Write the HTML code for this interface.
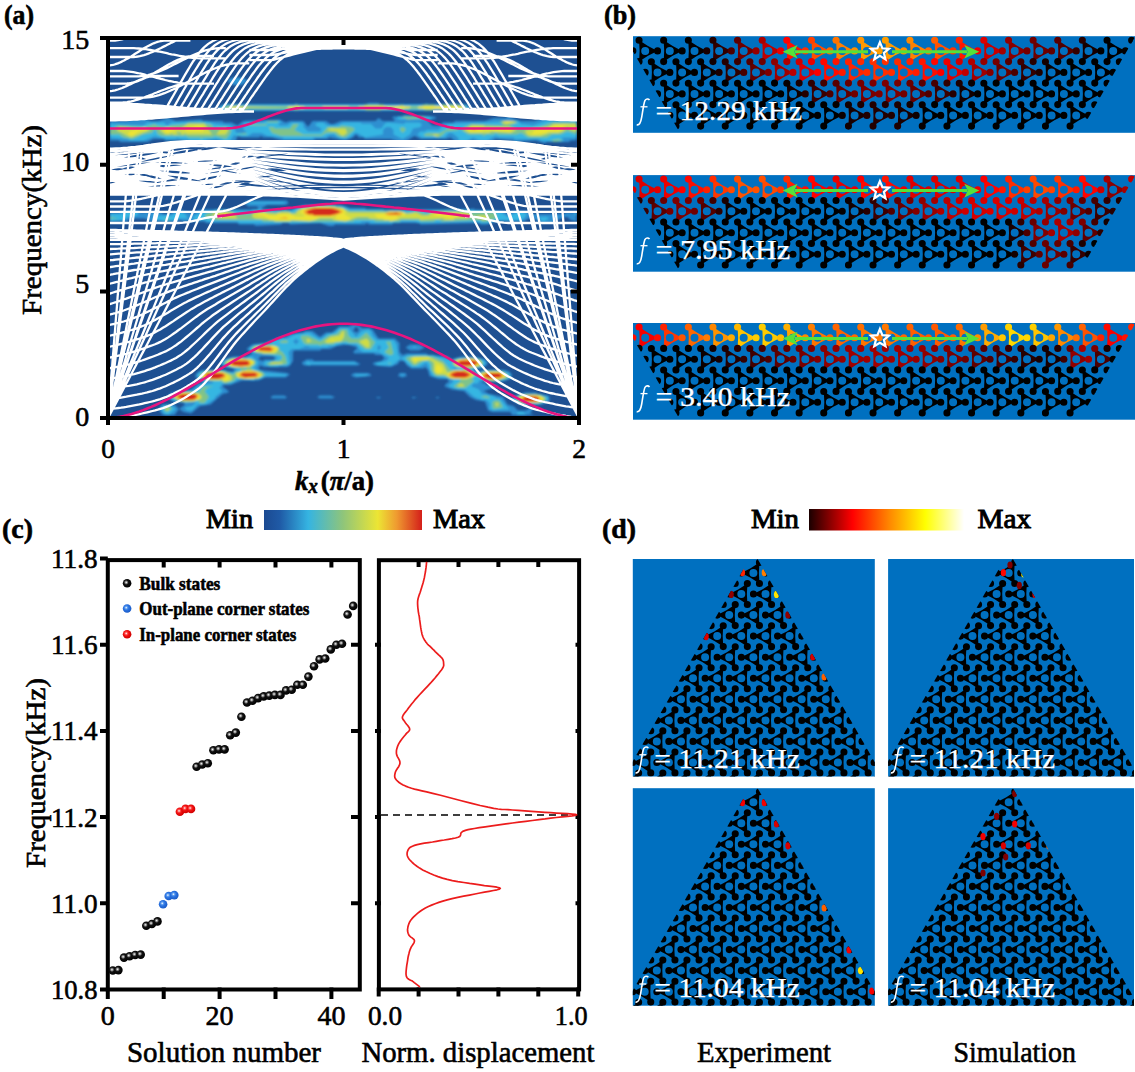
<!DOCTYPE html>
<html><head><meta charset="utf-8"><style>
html,body{margin:0;padding:0;background:#fff;overflow:hidden;}
svg{display:block;}
text{font-family:"Liberation Serif",serif;stroke:#000;stroke-width:0.6px;}
text[fill="#fff"]{stroke:#fff;stroke-width:0.25px;}
</style></head><body>
<svg width="1135" height="1072" viewBox="0 0 1135 1072">
<text x="4" y="24" font-size="28" font-weight="bold" textLength="30" lengthAdjust="spacingAndGlyphs" fill="#000">(a)</text>
<text x="604" y="24" font-size="28" font-weight="bold" textLength="32" lengthAdjust="spacingAndGlyphs" fill="#000">(b)</text>
<text x="2" y="538" font-size="28" font-weight="bold" textLength="31" lengthAdjust="spacingAndGlyphs" fill="#000">(c)</text>
<text x="602" y="538" font-size="28" font-weight="bold" textLength="34" lengthAdjust="spacingAndGlyphs" fill="#000">(d)</text>
<defs><clipPath id="clipA"><rect x="110" y="40" width="467" height="376"/></clipPath><filter id="blurA" x="-5%" y="-5%" width="110%" height="110%"><feGaussianBlur stdDeviation="1.3"/></filter></defs><g clip-path="url(#clipA)"><rect x="108" y="38" width="471" height="380" fill="#1e5092"/><g filter="url(#blurA)"><path d="M435.5 397.0 437.0 398.5 440.0 397.0ZM411.5 397.0 413.0 398.5 417.5 397.0ZM375.5 397.0 378.5 398.5 381.5 397.0ZM317.0 397.0 320.0 398.5 332.0 398.5 335.0 397.0 330.5 395.5 320.0 395.5ZM270.5 397.0 272.0 398.5 285.5 398.5 287.0 397.0 284.0 395.5 273.5 395.5ZM512.0 397.0 512.0 400.0 519.5 404.5 542.0 404.5 549.5 401.5 549.5 397.0 548.0 395.5 537.5 394.0 536.0 392.5 525.5 392.5ZM482.0 382.0 483.5 380.5 485.0 382.0 483.5 383.5ZM398.0 376.0 402.5 377.5 407.0 376.0 405.5 373.0 399.5 373.0ZM351.5 374.5 351.5 376.0 356.0 377.5 371.0 376.0 371.0 374.5 368.0 373.0 354.5 373.0ZM474.5 370.0 476.0 368.5 480.5 368.5 482.0 370.0 480.5 371.5 476.0 371.5ZM302.0 362.5 302.0 364.0 305.0 365.5 357.5 365.5 360.5 364.0 354.5 361.0 314.0 361.0 312.5 359.5 306.5 359.5ZM258.5 359.5 260.0 356.5 273.5 356.5 275.0 358.0 273.5 359.5 264.5 359.5 263.0 361.0ZM405.5 347.5 410.0 350.5 419.0 350.5 425.0 347.5 419.0 344.5 410.0 344.5ZM356.0 326.5 359.0 329.5 357.5 332.5 353.0 331.0ZM534.5 415.0 530.0 413.5 533.0 409.0 531.5 407.5 525.5 410.5 518.0 410.5 513.5 406.0 507.5 404.5 503.0 397.0 489.5 394.0 483.5 391.0 498.5 386.5 497.0 385.0 486.5 385.0 485.0 383.5 486.5 382.0 500.0 382.0 510.5 379.0 512.0 374.5 509.0 371.5 504.5 370.0 482.0 370.0 480.5 368.5 486.5 365.5 488.0 362.5 485.0 359.5 474.5 356.5 461.0 356.5 452.0 359.5 447.5 356.5 428.0 355.0 426.5 353.5 407.0 353.5 402.5 355.0 399.5 352.0 399.5 343.0 395.0 338.5 378.5 338.5 372.5 329.5 369.5 328.0 362.0 328.0 356.0 323.5 348.5 326.5 339.5 326.5 332.0 332.5 326.0 332.5 320.0 337.0 312.5 331.0 305.0 331.0 303.5 332.5 290.0 334.0 285.5 337.0 281.0 337.0 264.5 343.0 252.5 344.5 246.5 349.0 252.5 353.5 246.5 356.5 233.0 356.5 221.0 361.0 221.0 364.0 224.0 367.0 233.0 368.5 234.5 370.0 233.0 371.5 227.0 371.5 225.5 370.0 203.0 370.0 198.5 371.5 195.5 374.5 195.5 377.5 203.0 382.0 201.5 383.5 198.5 383.5 191.0 389.5 171.5 392.5 168.5 395.5 168.5 398.5 173.0 401.5 183.5 403.0 185.0 404.5 179.0 409.0 174.5 404.5 162.5 404.5 159.5 407.5 159.5 410.5 162.5 415.0 174.5 415.0 179.0 409.0 183.5 412.0 191.0 413.5 200.0 406.0 210.5 404.5 222.5 394.0 228.5 392.5 228.5 391.0 222.5 386.5 224.0 385.0 230.0 385.0 242.0 380.5 258.5 380.5 264.5 377.5 285.5 377.5 290.0 374.5 287.0 373.0 260.0 370.0 258.5 368.5 260.0 365.5 264.5 367.0 287.0 367.0 290.0 365.5 293.0 361.0 293.0 352.0 294.5 350.5 320.0 350.5 321.5 349.0 330.5 349.0 336.5 346.0 347.0 344.5 357.5 347.5 353.0 352.0 354.5 353.5 374.0 353.5 375.5 355.0 381.5 355.0 384.5 358.0 381.5 361.0 374.0 362.5 372.5 364.0 375.5 365.5 390.5 367.0 398.0 364.0 399.5 361.0 404.0 361.0 407.0 365.5 411.5 368.5 423.5 368.5 425.0 367.0 428.0 370.0 429.5 376.0 438.5 379.0 447.5 379.0 449.0 382.0 446.0 383.5 444.5 386.5 452.0 389.5 464.0 391.0 470.0 397.0 476.0 400.0 485.0 401.5 488.0 410.5 492.5 412.0 510.5 412.0 512.0 415.0ZM110.0 212.5 110.0 221.5 126.5 221.5 131.0 218.5 144.5 218.5 150.5 221.5 177.5 221.5 180.5 220.0 182.0 221.5 204.5 221.5 206.0 223.0 237.5 223.0 239.0 224.5 254.0 224.5 255.5 226.0 281.0 224.5 282.5 223.0 288.5 223.0 290.0 224.5 320.0 223.0 329.0 226.0 333.5 226.0 335.0 224.5 365.0 224.5 366.5 223.0 369.5 224.5 392.0 224.5 393.5 223.0 419.0 223.0 420.5 224.5 479.0 223.0 480.5 224.5 486.5 224.5 497.0 221.5 524.0 221.5 531.5 217.0 540.5 223.0 551.0 223.0 564.5 217.0 567.5 217.0 570.5 220.0 576.5 221.5 576.5 211.0 573.5 212.5 566.0 212.5 564.5 214.0 531.5 214.0 527.0 211.0 512.0 211.0 507.5 214.0 504.5 211.0 474.5 209.5 473.0 208.0 471.5 209.5 366.5 209.5 365.0 208.0 350.0 208.0 341.0 205.0 303.5 205.0 291.5 209.5 263.0 209.5 261.5 208.0 267.5 205.0 285.5 205.0 288.5 203.5 287.0 200.5 248.0 200.5 245.0 202.0 245.0 203.5 248.0 206.5 257.0 206.5 258.5 208.0 257.0 209.5 201.5 209.5 194.0 212.5 188.0 212.5 179.0 209.5 168.5 214.0 164.0 214.0 158.0 211.0 141.5 212.5 132.5 209.5 120.5 211.0 119.0 212.5ZM576.5 119.5 549.5 119.5 548.0 118.0 542.0 118.0 534.5 121.0 521.0 121.0 507.5 116.5 506.0 118.0 494.0 118.0 485.0 121.0 455.0 121.0 453.5 122.5 443.0 122.5 440.0 125.5 432.5 125.5 428.0 121.0 437.0 118.0 434.0 116.5 404.0 115.0 402.5 116.5 393.5 116.5 392.0 118.0 395.0 119.5 393.5 121.0 383.0 121.0 378.5 118.0 375.5 121.0 341.0 121.0 333.5 124.0 330.5 124.0 326.0 121.0 312.5 121.0 308.0 127.0 303.5 121.0 290.0 121.0 285.5 122.5 279.5 119.5 243.5 121.0 237.5 125.5 231.5 122.5 224.0 122.5 222.5 121.0 203.0 121.0 201.5 119.5 176.0 121.0 168.5 118.0 158.0 121.0 150.5 121.0 144.5 118.0 140.0 118.0 138.5 119.5 129.5 119.5 128.0 121.0 110.0 121.0 110.0 140.5 119.0 140.5 120.5 142.0 147.5 142.0 153.5 139.0 164.0 139.0 165.5 140.5 182.0 140.5 183.5 142.0 197.0 142.0 198.5 143.5 216.5 140.5 222.5 143.5 228.5 143.5 236.0 140.5 237.5 136.0 242.0 137.5 258.5 137.5 261.5 136.0 263.0 137.5 272.0 137.5 282.5 140.5 314.0 140.5 315.5 139.0 327.5 139.0 329.0 137.5 345.5 140.5 353.0 137.5 356.0 134.5 359.0 137.5 363.5 137.5 365.0 139.0 390.5 139.0 401.0 142.0 407.0 140.5 414.5 136.0 420.5 139.0 446.0 139.0 450.5 137.5 458.0 143.5 465.5 143.5 473.0 140.5 474.5 142.0 491.0 142.0 495.5 139.0 513.5 140.5 515.0 142.0 536.0 140.5 545.0 143.5 546.5 142.0 569.0 142.0 570.5 140.5 575.0 140.5 576.5 139.0ZM218.0 107.5 221.0 110.5 447.5 110.5 449.0 112.0 452.0 110.5 467.0 110.5 470.0 107.5 467.0 104.5 452.0 104.5 450.5 103.0 446.0 104.5 428.0 104.5 426.5 103.0 425.0 104.5 380.0 104.5 378.5 103.0 368.0 103.0 366.5 104.5 297.5 104.5 296.0 103.0 294.5 104.5 222.5 104.5ZM227.0 80.5 233.0 85.0 242.0 85.0 248.0 80.5 242.0 77.5 233.0 77.5Z" fill="#2f8fd0"/><path d="M516.5 415.0 531.5 415.0 527.0 415.0 522.5 412.0 518.0 412.0ZM162.5 406.0 161.0 409.0 165.5 415.0 170.0 415.0 170.0 413.5 176.0 409.0 168.5 404.5ZM513.5 398.5 515.0 401.5 524.0 404.5 539.0 404.5 548.0 400.0 548.0 397.0 540.5 394.0 521.0 394.0ZM401.0 374.5 402.5 376.0 404.0 374.5ZM354.5 374.5 356.0 376.0 366.5 376.0 368.0 374.5ZM453.5 368.5 455.0 367.0 456.5 368.5 455.0 370.0ZM305.0 364.0 309.5 365.5 311.0 364.0 357.5 364.0 354.5 362.5 309.5 362.5 308.0 361.0ZM287.0 374.5 264.5 373.0 260.0 370.0 257.0 370.0 254.0 367.0 257.0 365.5 258.5 362.5 252.5 356.5 248.0 356.5 246.5 358.0 230.0 358.0 225.5 359.5 222.5 364.0 227.0 367.0 236.0 368.5 237.5 370.0 233.0 373.0 222.5 370.0 207.5 370.0 206.0 371.5 201.5 371.5 198.5 373.0 197.0 376.0 203.0 380.5 212.0 380.5 213.5 382.0 212.0 383.5 200.0 385.0 192.5 391.0 174.5 392.5 170.0 395.5 170.0 398.5 176.0 401.5 183.5 401.5 185.0 403.0 194.0 401.5 195.5 403.0 192.5 406.0 185.0 407.5 185.0 409.0 188.0 410.5 192.5 410.5 197.0 404.5 206.0 404.5 215.0 398.5 215.0 397.0 222.5 391.0 219.5 388.0 222.5 383.5 231.5 383.5 239.0 379.0 254.0 380.5 255.5 379.0 261.5 379.0 266.0 376.0 285.5 376.0ZM417.5 347.5 414.5 346.0 411.5 347.5ZM377.0 349.0 378.5 344.5 381.5 347.5 378.5 350.5ZM296.0 338.5 299.0 341.5 296.0 344.5 293.0 341.5ZM249.5 347.5 251.0 352.0 276.5 356.5 278.0 358.0 273.5 361.0 266.0 361.0 263.0 364.0 270.5 367.0 278.0 367.0 279.5 365.5 287.0 365.5 290.0 364.0 288.5 352.0 291.5 349.0 299.0 349.0 306.5 346.0 311.0 347.5 327.5 347.5 329.0 346.0 335.0 346.0 344.0 343.0 345.5 344.5 356.0 344.5 360.5 350.5 363.5 352.0 378.5 352.0 389.0 358.0 386.0 361.0 377.0 362.5 375.5 364.0 378.5 365.5 392.0 365.5 401.0 358.0 411.5 367.0 419.0 367.0 426.5 362.5 432.5 376.0 452.0 379.0 453.5 382.0 449.0 385.0 449.0 386.5 458.0 389.5 465.5 389.5 474.5 397.0 482.0 400.0 486.5 400.0 489.5 403.0 489.5 409.0 492.5 410.5 510.5 409.0 507.5 407.5 500.0 398.5 497.0 398.5 492.5 395.5 482.0 394.0 479.0 389.5 471.5 386.5 473.0 383.5 477.5 383.5 480.5 379.0 482.0 380.5 504.5 380.5 510.5 377.5 509.0 373.0 500.0 370.0 486.5 370.0 479.0 373.0 473.0 371.5 471.5 370.0 473.0 368.5 482.0 367.0 485.0 364.0 485.0 361.0 477.5 358.0 456.5 358.0 452.0 361.0 432.5 355.0 408.5 355.0 401.0 358.0 398.0 355.0 396.5 344.5 393.5 340.0 377.0 340.0 372.5 335.5 371.0 331.0 368.0 329.5 362.0 331.0 356.0 337.0 348.5 328.0 339.5 328.0 335.0 332.5 327.5 334.0 321.5 338.5 318.5 338.5 309.5 332.5 296.0 334.0 287.0 338.5 281.0 338.5 272.0 341.5 270.5 344.5 255.5 344.5ZM539.0 218.5 543.5 221.5 549.5 218.5 546.5 217.0 540.5 217.0ZM576.5 215.5 576.5 212.5 573.5 214.0ZM138.5 212.5 129.5 211.0 122.0 214.0 110.0 214.0 110.0 221.5 123.5 220.0 128.0 217.0 137.0 215.5ZM153.5 218.5 164.0 221.5 176.0 220.0 177.5 218.5 194.0 218.5 195.5 220.0 206.0 220.0 207.5 221.5 237.5 221.5 239.0 223.0 360.5 223.0 362.0 221.5 369.5 221.5 371.0 223.0 399.5 223.0 401.0 221.5 416.0 221.5 417.5 223.0 477.5 221.5 479.0 223.0 488.0 223.0 495.5 220.0 519.5 220.0 524.0 218.5 527.0 214.0 519.5 211.0 507.5 217.0 501.5 212.5 497.0 212.5 495.5 211.0 473.0 211.0 471.5 209.5 384.5 211.0 383.0 209.5 350.0 209.5 344.0 206.5 336.5 206.5 335.0 205.0 311.0 205.0 309.5 206.5 296.0 208.0 291.5 211.0 287.0 211.0 285.5 209.5 282.5 211.0 270.5 211.0 269.0 209.5 252.5 209.5 251.0 211.0 215.0 209.5 213.5 211.0 200.0 212.5 191.0 218.5 188.0 218.5 185.0 214.0 182.0 212.5 176.0 212.5 171.5 215.5 158.0 215.5 153.5 214.0ZM248.0 202.0 249.5 203.5 282.5 203.5 285.5 202.0ZM576.5 121.0 546.5 121.0 533.0 125.5 521.0 124.0 518.0 121.0 449.0 124.0 441.5 127.0 438.5 130.0 426.5 130.0 425.0 131.5 420.5 131.5 417.5 134.5 422.0 137.5 444.5 137.5 449.0 133.0 452.0 133.0 458.0 137.5 459.5 142.0 464.0 142.0 473.0 137.5 480.5 140.5 486.5 140.5 495.5 136.0 500.0 137.5 513.5 137.5 515.0 139.0 539.0 139.0 540.5 140.5 560.0 142.0 564.5 140.5 561.5 139.0 563.0 137.5 576.5 137.5ZM110.0 137.5 128.0 139.0 129.5 140.5 143.0 140.5 155.0 136.0 165.5 139.0 176.0 139.0 177.5 137.5 179.0 139.0 188.0 139.0 189.5 140.5 198.5 140.5 200.0 142.0 209.0 139.0 219.5 139.0 227.0 142.0 230.0 140.5 234.5 134.5 236.0 136.0 248.0 136.0 252.5 133.0 261.5 133.0 267.5 136.0 282.5 137.5 284.0 139.0 312.5 139.0 314.0 137.5 324.5 137.5 330.5 134.5 333.5 134.5 341.0 139.0 350.0 137.5 354.5 133.0 357.5 133.0 365.0 137.5 383.0 134.5 383.0 130.0 386.0 127.0 390.5 127.0 393.5 130.0 393.5 134.5 402.5 139.0 410.0 134.5 413.0 128.5 420.5 127.0 422.0 124.0 419.0 122.5 405.5 122.5 404.0 124.0 387.5 122.5 384.5 124.0 381.5 128.5 375.5 128.5 371.0 124.0 362.0 124.0 360.5 122.5 344.0 122.5 336.5 125.5 327.5 125.5 323.0 122.5 318.5 122.5 315.5 124.0 315.5 125.5 321.5 128.5 320.0 131.5 308.0 131.5 303.5 127.0 303.5 124.0 300.5 122.5 291.5 122.5 287.0 125.5 279.5 125.5 278.0 124.0 281.0 122.5 281.0 121.0 264.5 121.0 263.0 122.5 246.5 122.5 243.5 124.0 243.5 130.0 246.5 131.5 245.0 133.0 236.0 133.0 234.5 128.5 230.0 125.5 215.0 124.0 206.0 121.0 171.5 122.5 167.0 125.5 164.0 122.5 147.5 122.5 143.0 125.5 110.0 124.0ZM396.5 118.0 399.5 119.5 428.0 119.5 432.5 118.0 429.5 116.5 398.0 116.5ZM219.5 107.5 225.5 110.5 464.0 110.5 468.5 107.5 464.0 104.5 225.5 104.5ZM239.0 80.5 237.5 79.0 236.0 80.5Z" fill="#35b6e2"/><path d="M164.0 407.5 164.0 410.5 167.0 412.0 171.5 409.0 171.5 407.5 168.5 406.0ZM492.5 401.5 492.5 407.5 494.0 409.0 503.0 407.5 500.0 401.5 497.0 400.0ZM480.5 397.0 489.5 398.5 489.5 397.0 485.0 395.5ZM516.5 397.0 516.5 400.0 521.0 403.0 540.5 403.0 546.5 400.0 545.0 397.0 536.0 394.0 525.5 394.0ZM213.5 386.5 203.0 386.5 198.5 392.5 177.5 392.5 171.5 395.5 171.5 397.0 179.0 401.5 195.5 401.5 197.0 400.0 200.0 403.0 204.5 403.0 209.0 397.0 204.5 391.0 207.5 388.0ZM243.5 368.5 245.0 367.0 246.5 368.5 245.0 370.0ZM390.5 362.5 387.5 364.0 380.0 364.0 390.5 364.0ZM198.5 376.0 201.5 379.0 219.5 380.5 225.5 383.5 234.5 380.5 236.0 377.5 240.5 379.0 257.0 379.0 266.0 374.5 273.5 374.5 264.5 374.5 261.5 371.5 252.5 370.0 251.0 367.0 255.5 364.0 255.5 361.0 249.5 358.0 248.0 359.5 246.5 358.0 233.0 358.0 224.0 362.5 225.5 365.5 240.5 368.5 242.0 370.0 240.5 371.5 236.0 371.5 233.0 374.5 225.5 371.5 204.5 371.5ZM405.5 358.0 413.0 365.5 416.0 365.5 423.5 361.0 428.0 361.0 431.0 364.0 431.0 370.0 435.5 376.0 444.5 376.0 450.5 379.0 459.5 379.0 461.0 380.5 453.5 386.5 458.0 388.0 465.5 388.0 474.5 380.5 471.5 379.0 474.5 376.0 477.5 376.0 485.0 380.5 500.0 380.5 501.5 379.0 506.0 379.0 509.0 376.0 503.0 371.5 483.5 371.5 477.5 374.5 473.0 371.5 470.0 371.5 468.5 370.0 470.0 368.5 479.0 367.0 483.5 364.0 480.5 359.5 476.0 359.5 474.5 358.0 455.0 359.5 452.0 364.0 456.5 367.0 462.5 367.0 464.0 368.5 462.5 370.0 450.5 370.0 443.0 361.0 432.5 356.5 410.0 356.5ZM251.0 349.0 258.5 353.5 281.0 355.0 282.5 358.0 279.5 361.0 273.5 361.0 266.0 364.0 270.5 365.5 287.0 364.0 285.5 356.5 282.5 352.0 279.5 350.5 279.5 347.5 272.0 344.5 260.0 344.5 258.5 346.0 254.0 346.0ZM386.0 341.5 389.0 347.5 384.5 352.0 389.0 355.0 392.0 355.0 393.5 353.5 390.5 341.5ZM288.5 341.5 285.5 340.0 279.5 341.5 281.0 343.0 287.0 343.0ZM375.5 341.5 374.0 341.5 366.5 332.5 359.0 338.5 351.5 338.5 348.5 335.5 347.0 329.5 341.0 329.5 336.5 334.0 329.0 335.5 320.0 341.5 308.0 335.5 302.0 335.5 300.5 337.0 303.5 343.0 306.5 344.5 318.5 344.5 320.0 346.0 321.5 344.5 333.5 344.5 335.0 343.0 347.0 341.5 348.5 343.0 357.5 343.0 365.0 349.0 371.0 349.0ZM162.5 218.5 167.0 220.0 171.5 218.5ZM110.0 217.0 110.0 220.0 111.5 218.5 119.0 218.5ZM132.5 214.0 131.0 212.5 129.5 214.0ZM204.5 218.5 210.5 218.5 212.0 220.0 261.5 220.0 263.0 221.5 353.0 221.5 354.5 220.0 374.0 220.0 375.5 221.5 399.5 221.5 401.0 220.0 419.0 220.0 420.5 221.5 434.0 221.5 435.5 220.0 440.0 220.0 441.5 221.5 480.5 220.0 482.0 221.5 486.5 221.5 495.5 218.5 497.0 214.0 492.5 212.5 468.5 212.5 467.0 211.0 434.0 211.0 426.5 214.0 416.0 211.0 411.5 212.5 404.0 212.5 402.5 211.0 350.0 211.0 339.5 206.5 306.5 206.5 305.0 208.0 300.5 208.0 294.5 212.5 290.0 212.5 288.5 211.0 281.0 211.0 279.5 212.5 255.5 211.0 249.5 214.0 237.5 214.0 230.0 211.0 216.5 211.0 206.0 214.0ZM548.0 140.5 552.5 140.5 554.0 142.0 563.0 140.5 558.5 139.0ZM236.0 134.5 248.0 134.5 245.0 133.0ZM402.5 127.0 399.5 128.5 402.5 133.0 405.5 130.0 405.5 128.5ZM231.5 130.0 227.0 127.0 216.5 127.0 215.0 128.5 210.5 124.0 206.0 124.0 204.5 122.5 188.0 122.5 186.5 124.0 170.0 125.5 168.5 127.0 156.5 125.5 155.0 124.0 144.5 127.0 117.5 125.5 113.0 128.5 110.0 128.5 110.0 134.5 119.0 134.5 123.5 137.5 132.5 139.0 143.0 134.5 152.0 133.0 155.0 128.5 158.0 134.5 162.5 136.0 186.5 136.0 188.0 137.5 200.0 137.5 201.5 139.0 203.0 137.5 212.0 137.5 215.0 136.0 225.5 139.0 230.0 134.5ZM576.5 122.5 552.5 122.5 539.0 127.0 518.0 128.5 509.0 125.5 518.0 122.5 515.0 121.0 501.5 121.0 498.5 122.5 501.5 122.5 503.0 124.0 501.5 125.5 471.5 124.0 464.0 127.0 461.0 130.0 450.5 127.0 440.0 133.0 428.0 133.0 423.5 134.5 425.0 136.0 435.5 136.0 437.0 137.5 441.5 136.0 446.0 131.5 461.0 130.0 468.5 134.5 482.0 134.5 483.5 136.0 486.5 134.5 494.0 134.5 495.5 133.0 498.5 134.5 516.5 134.5 521.0 133.0 528.5 137.5 546.5 137.5 552.5 134.5 560.0 134.5 567.5 131.5 576.5 134.5ZM248.0 124.0 249.5 125.5 267.5 125.5 272.0 133.0 281.0 136.0 321.5 136.0 326.0 133.0 335.0 133.0 338.0 136.0 345.5 137.5 354.5 130.0 354.5 128.5 351.5 127.0 341.0 125.5 339.5 127.0 327.5 127.0 321.5 134.5 303.5 134.5 294.5 130.0 299.0 124.0 293.0 124.0 290.0 128.5 275.0 128.5 273.5 127.0 269.0 127.0 266.0 124.0 267.5 122.5 278.0 122.5 278.0 121.0 267.5 121.0 266.0 124.0ZM401.0 118.0 405.5 118.0 407.0 119.5 426.5 118.0 423.5 116.5 404.0 116.5ZM222.5 107.5 225.5 109.0 294.5 109.0 296.0 110.5 299.0 109.0 365.0 109.0 366.5 110.5 380.0 110.5 381.5 109.0 401.0 109.0 402.5 110.5 404.0 109.0 423.5 109.0 425.0 110.5 432.5 110.5 434.0 109.0 440.0 109.0 441.5 110.5 458.0 110.5 467.0 107.5 458.0 104.5 441.5 104.5 440.0 106.0 435.5 106.0 434.0 104.5 423.5 104.5 422.0 106.0 404.0 106.0 402.5 104.5 398.0 106.0 384.5 106.0 383.0 104.5 365.0 104.5 363.5 106.0 299.0 106.0 297.5 104.5 293.0 106.0 239.0 106.0 237.5 104.5 236.0 106.0 225.5 106.0Z" fill="#7fc38a"/><path d="M165.5 407.5 167.0 410.5 170.0 409.0ZM498.5 403.0 495.5 403.0 497.0 407.5ZM518.0 397.0 518.0 400.0 524.0 403.0 539.0 403.0 545.0 398.5 540.5 395.5 522.5 395.5ZM173.0 397.0 183.5 401.5 192.5 401.5 201.5 398.5 201.5 395.5 195.5 392.5 180.5 392.5ZM464.0 385.0 461.0 383.5 458.0 385.0 458.0 386.5 464.0 386.5ZM479.0 374.5 480.5 377.5 489.5 380.5 497.0 380.5 507.5 376.0 500.0 371.5 486.5 371.5ZM200.0 376.0 210.5 380.5 219.5 380.5 221.0 379.0 224.0 382.0 231.5 380.5 231.5 376.0 222.5 371.5 207.5 371.5ZM236.0 373.0 237.5 377.5 242.0 377.5 243.5 379.0 254.0 379.0 255.5 377.5 260.0 377.5 263.0 374.5 252.5 370.0 246.5 370.0ZM269.0 364.0 282.5 364.0 282.5 362.5 272.0 362.5ZM453.5 362.5 455.0 365.5 459.5 367.0 476.0 367.0 482.0 364.0 480.5 361.0 470.0 358.0 458.0 359.5ZM225.5 362.5 231.5 367.0 249.5 367.0 254.0 364.0 254.0 361.0 251.0 359.5 243.5 359.5 242.0 358.0 230.0 359.5ZM410.0 358.0 414.5 364.0 419.0 361.0 429.5 359.5 434.0 362.5 434.0 371.5 437.0 374.5 444.5 374.5 452.0 379.0 467.0 379.0 474.5 376.0 471.5 371.5 467.0 371.5 465.5 370.0 455.0 370.0 447.5 373.0 443.0 364.0 428.0 356.5 414.5 356.5ZM252.5 349.0 255.5 352.0 261.5 352.0 263.0 353.5 275.0 353.5 278.0 350.5 278.0 347.5 275.0 346.0 257.0 346.0ZM369.5 347.5 369.5 341.5 366.5 338.5 359.0 341.5 348.5 341.5 359.0 341.5 366.5 347.5ZM306.5 340.0 308.0 343.0 309.5 341.5 315.5 341.5 312.5 341.5 308.0 338.5ZM344.0 331.0 342.5 331.0 339.5 335.5 330.5 337.0 324.5 341.5 327.5 343.0 341.0 341.5 344.0 337.0ZM476.0 217.0 476.0 218.5 480.5 218.5 482.0 220.0 489.5 218.5 486.5 215.5 479.0 215.5ZM212.0 214.0 218.0 218.5 243.5 218.5 237.5 218.5 234.5 214.0 231.5 212.5 216.5 212.5ZM252.5 217.0 255.5 218.5 273.5 220.0 275.0 221.5 290.0 221.5 291.5 220.0 309.5 221.5 320.0 218.5 332.0 218.5 333.5 220.0 345.5 221.5 357.5 217.0 368.0 217.0 369.5 218.5 389.0 220.0 390.5 221.5 401.0 218.5 419.0 218.5 420.5 220.0 443.0 218.5 444.5 220.0 453.5 220.0 455.0 218.5 467.0 218.5 470.0 217.0 471.5 214.0 467.0 212.5 432.5 212.5 428.0 215.5 422.0 215.5 416.0 212.5 407.0 214.0 399.5 211.0 389.0 211.0 387.5 212.5 348.5 212.5 342.5 208.0 336.5 208.0 335.0 206.5 311.0 206.5 309.5 208.0 303.5 208.0 297.5 211.0 296.0 214.0 291.5 214.0 290.0 212.5 278.0 212.5 276.5 214.0 255.5 212.5 252.5 214.0ZM432.5 134.5 434.0 136.0 438.5 136.0 438.5 134.5ZM176.0 133.0 177.5 131.5 182.0 133.0 180.5 134.5ZM327.5 130.0 336.5 131.5 342.5 136.0 347.0 133.0 345.5 128.5 329.0 128.5ZM116.0 130.0 131.0 137.5 150.5 130.0 144.5 127.0 140.0 128.5 119.0 127.0 119.0 128.5ZM464.0 130.0 470.0 133.0 489.5 133.0 491.0 131.5 510.5 133.0 516.5 130.0 509.0 127.0 485.0 127.0 483.5 125.5 471.5 125.5ZM576.5 125.5 575.0 124.0 554.0 124.0 548.0 127.0 533.0 128.5 522.5 131.5 525.5 131.5 527.0 134.5 530.0 136.0 540.5 136.0 549.5 133.0 558.5 133.0 563.0 131.5 567.5 127.0 570.5 130.0 576.5 131.5ZM159.5 130.0 165.5 134.5 170.0 134.5 171.5 133.0 173.0 134.5 183.5 134.5 185.0 133.0 186.5 134.5 225.5 134.5 228.5 130.0 227.0 128.5 222.5 128.5 219.5 130.0 216.5 134.5 212.0 134.5 204.5 124.0 188.0 124.0 180.5 128.5 167.0 127.0ZM501.5 122.5 506.0 124.0 516.5 122.5 512.0 121.0 504.5 121.0ZM224.0 107.5 228.5 107.5 230.0 109.0 246.5 109.0 248.0 107.5 287.0 107.5 288.5 109.0 303.5 109.0 305.0 107.5 323.0 107.5 324.5 109.0 347.0 109.0 348.5 107.5 359.0 107.5 360.5 109.0 408.5 109.0 410.0 107.5 417.5 107.5 419.0 109.0 462.5 109.0 465.5 107.5 462.5 106.0 419.0 106.0 417.5 107.5 411.5 107.5 410.0 106.0 359.0 106.0 357.5 107.5 350.0 107.5 348.5 106.0 323.0 106.0 321.5 107.5 305.0 107.5 303.5 106.0 288.5 106.0 287.0 107.5 230.0 106.0 228.5 107.5Z" fill="#cfdc45"/><path d="M518.0 398.5 525.5 403.0 536.0 403.0 543.5 400.0 543.5 398.5 539.0 395.5 524.0 395.5ZM174.5 395.5 174.5 397.0 179.0 400.0 197.0 400.0 200.0 398.5 198.5 394.0 194.0 394.0 192.5 392.5 182.0 392.5ZM480.5 374.5 480.5 376.0 485.0 379.0 501.5 379.0 506.0 376.0 506.0 374.5 498.5 371.5 488.0 371.5ZM236.0 374.5 239.0 377.5 245.0 377.5 246.5 379.0 258.5 377.5 261.5 374.5 257.0 371.5 240.5 371.5ZM201.5 374.5 201.5 376.0 206.0 379.0 222.5 379.0 224.0 380.5 228.5 380.5 228.5 376.0 221.0 371.5 209.0 371.5ZM447.5 373.0 449.0 377.5 453.5 377.5 455.0 379.0 465.5 379.0 473.0 376.0 473.0 373.0 470.0 371.5 462.5 371.5 461.0 370.0ZM437.0 364.0 435.5 370.0 437.0 373.0 440.0 373.0 443.0 370.0 441.5 367.0ZM455.0 362.5 456.5 365.5 461.0 367.0 474.5 367.0 480.5 364.0 480.5 362.5 476.0 359.5 459.5 359.5ZM227.0 364.0 233.0 367.0 246.5 367.0 254.0 362.5 249.5 359.5 231.5 359.5 228.5 361.0ZM413.0 359.5 416.0 361.0 417.5 359.5 428.0 359.5 431.0 358.0 413.0 358.0ZM254.0 349.0 258.5 352.0 273.5 352.0 276.5 350.5 276.5 347.5 273.5 346.0 258.5 346.0ZM329.0 341.5 335.0 341.5 333.5 340.0ZM434.0 215.5 452.0 218.5 464.0 214.0 459.5 214.0 458.0 212.5 437.0 212.5 434.0 214.0ZM374.0 214.0 378.5 218.5 383.0 218.5 384.5 220.0 395.0 220.0 399.5 218.5 396.5 217.0 398.0 215.5 404.0 215.5 405.5 214.0 404.0 212.5ZM218.0 214.0 224.0 217.0 227.0 217.0 230.0 214.0 227.0 212.5ZM351.5 218.5 344.0 214.0 345.5 212.5 344.0 209.5 332.0 208.0 330.5 206.5 315.5 206.5 314.0 208.0 302.0 209.5 300.5 212.5 305.0 215.5 303.5 217.0 296.0 217.0 290.0 214.0 278.0 214.0 276.5 215.5 270.5 215.5 264.5 212.5 258.5 212.5 257.0 214.0 258.5 215.5 263.0 215.5 270.5 220.0 314.0 220.0 320.0 217.0 332.0 217.0 335.0 215.5 336.5 217.0 335.0 218.5 338.0 220.0 348.5 220.0ZM576.5 128.5 575.0 130.0 576.5 130.0ZM330.5 130.0 341.0 130.0 333.5 130.0 332.0 128.5ZM162.5 130.0 167.0 133.0 176.0 130.0 171.5 128.5ZM147.5 130.0 146.0 128.5 138.5 128.5 129.5 131.5 128.0 134.5 132.5 136.0 138.5 131.5ZM467.0 130.0 470.0 131.5 482.0 131.5 483.5 130.0 509.0 131.5 512.0 130.0 509.0 128.5 480.5 128.5 479.0 127.0 471.5 127.0ZM204.5 128.5 201.5 125.5 197.0 125.5 183.5 130.0 188.0 131.5 203.0 131.5ZM569.0 124.0 554.0 125.5 546.5 128.5 534.5 130.0 531.5 134.5 546.5 133.0 548.0 131.5 558.5 131.5 561.5 130.0 564.5 125.5ZM503.0 122.5 515.0 122.5 510.5 122.5 509.0 121.0ZM416.0 107.5 422.0 107.5 423.5 109.0 461.0 109.0 464.0 107.5 461.0 106.0 423.5 106.0 422.0 107.5ZM413.0 107.5 405.5 107.5 404.0 106.0 396.5 106.0 395.0 107.5 387.5 107.5 386.0 106.0 365.0 106.0 363.5 107.5 309.5 107.5 363.5 107.5 365.0 109.0 384.5 109.0 386.0 107.5 404.0 109.0 405.5 107.5ZM285.5 107.5 293.0 107.5 294.5 109.0 306.5 107.5 300.5 107.5 299.0 106.0ZM225.5 107.5 236.0 107.5 237.5 109.0 240.5 107.5 282.5 107.5 240.5 107.5 239.0 106.0Z" fill="#ece434"/><path d="M521.0 398.5 521.0 400.0 524.0 401.5 539.0 401.5 540.5 400.0 539.0 397.0 534.5 395.5 528.5 395.5ZM176.0 397.0 182.0 400.0 194.0 400.0 197.0 398.5 198.5 395.5 195.5 394.0 179.0 394.0ZM482.0 376.0 488.0 379.0 503.0 377.5 503.0 374.5 500.0 373.0 485.0 373.0ZM204.5 374.5 204.5 377.5 209.0 379.0 221.0 379.0 225.5 377.5 225.5 374.5 222.5 373.0 207.5 373.0ZM449.0 376.0 452.0 377.5 468.5 377.5 471.5 374.5 467.0 371.5 453.5 371.5 450.5 373.0ZM239.0 374.5 239.0 376.0 242.0 377.5 255.5 377.5 258.5 376.0 258.5 373.0 254.0 371.5 243.5 371.5ZM456.5 362.5 456.5 364.0 465.5 367.0 479.0 364.0 477.5 361.0 473.0 359.5 462.5 359.5ZM230.0 362.5 231.5 365.5 237.5 365.5 239.0 367.0 249.5 365.5 251.0 364.0 249.5 361.0 245.0 359.5 234.5 359.5ZM257.0 350.5 270.5 352.0 275.0 349.0 269.0 346.0 263.0 346.0 258.5 347.5ZM288.5 218.5 285.5 217.0 278.0 218.5ZM384.5 214.0 389.0 215.5 399.5 215.5 402.5 214.0 401.0 212.5 387.5 212.5ZM303.5 211.0 305.0 214.0 309.5 215.5 335.0 215.5 342.5 212.5 342.5 211.0 335.0 208.0 311.0 208.0ZM555.5 128.5 554.0 130.0 549.5 130.0 555.5 130.0ZM471.5 130.0 477.5 130.0 473.0 128.5Z" fill="#f2a12e"/><path d="M522.5 400.0 527.0 401.5 536.0 401.5 539.0 400.0 537.5 397.0 524.0 397.0ZM177.5 397.0 185.0 400.0 191.0 400.0 195.5 398.5 197.0 395.5 194.0 394.0 182.0 394.0ZM483.5 376.0 492.5 379.0 494.0 377.5 500.0 377.5 501.5 374.5 498.5 373.0 488.0 373.0ZM240.5 374.5 245.0 377.5 257.0 376.0 255.5 373.0 242.0 373.0ZM206.0 374.5 207.5 377.5 212.0 379.0 218.0 379.0 224.0 376.0 224.0 374.5 221.0 373.0 209.0 373.0ZM450.5 374.5 455.0 377.5 465.5 377.5 470.0 374.5 464.0 371.5 456.5 371.5ZM458.0 364.0 461.0 365.5 474.5 365.5 477.5 362.5 474.5 361.0 459.5 361.0ZM231.5 364.0 234.5 365.5 246.5 365.5 249.5 364.0 248.0 361.0 233.0 361.0ZM258.5 349.0 260.0 350.5 272.0 350.5 270.5 347.5 260.0 347.5ZM387.5 214.0 399.5 214.0 396.5 212.5ZM306.5 211.0 308.0 214.0 312.5 214.0 314.0 215.5 330.5 215.5 339.5 212.5 339.5 211.0 330.5 208.0 315.5 208.0Z" fill="#d52a1c"/></g><path d="M108.0 148.7L113.9 148.6L119.8 148.3L125.7 147.8L131.6 147.2L137.4 146.5L143.3 145.8L149.2 144.9L155.1 144.1L161.0 143.4L166.9 142.6L172.8 142.0L178.7 141.6L184.5 141.3L190.4 141.1L196.3 141.1L202.2 141.1L208.1 141.1L214.0 141.1L219.9 141.1L225.8 141.1L231.6 141.1L237.5 141.1L243.4 141.1L249.3 141.1L255.2 141.1L261.1 141.1L267.0 141.1L272.9 141.1L278.7 141.1L284.6 141.1L290.5 141.1L296.4 141.1L302.3 141.1L308.2 141.1L314.1 141.1L320.0 141.1L325.8 141.1L331.7 141.1L337.6 141.1L343.5 141.1L349.4 141.1L355.3 141.1L361.2 141.1L367.1 141.1L372.9 141.1L378.8 141.1L384.7 141.1L390.6 141.1L396.5 141.1L402.4 141.1L408.3 141.1L414.2 141.1L420.0 141.1L425.9 141.1L431.8 141.1L437.7 141.1L443.6 141.1L449.5 141.1L455.4 141.1L461.2 141.1L467.1 141.1L473.0 141.1L478.9 141.1L484.8 141.1L490.7 141.1L496.6 141.1L502.5 141.3L508.4 141.6L514.2 142.0L520.1 142.6L526.0 143.4L531.9 144.1L537.8 144.9L543.7 145.8L549.6 146.5L555.5 147.2L561.3 147.8L567.2 148.3L573.1 148.6L579.0 148.7L579.0 194.6L573.1 194.6L567.2 194.6L561.3 194.6L555.5 194.6L549.6 194.6L543.7 194.6L537.8 194.6L531.9 194.6L526.0 194.6L520.1 194.6L514.2 194.6L508.3 194.6L502.5 194.6L496.6 194.6L490.7 194.6L484.8 194.6L478.9 194.6L473.0 194.6L467.1 194.6L461.2 194.6L455.4 194.6L449.5 194.6L443.6 194.7L437.7 194.8L431.8 194.9L425.9 195.1L420.0 195.3L414.1 195.6L408.3 195.8L402.4 196.1L396.5 196.4L390.6 196.7L384.7 197.0L378.8 197.3L372.9 197.7L367.1 198.1L361.2 198.4L355.3 198.8L349.4 199.2L343.5 199.7L337.6 199.2L331.7 198.8L325.8 198.4L319.9 198.1L314.1 197.7L308.2 197.3L302.3 197.0L296.4 196.7L290.5 196.4L284.6 196.1L278.7 195.8L272.9 195.6L267.0 195.3L261.1 195.1L255.2 194.9L249.3 194.8L243.4 194.7L237.5 194.6L231.6 194.6L225.8 194.6L219.9 194.6L214.0 194.6L208.1 194.6L202.2 194.6L196.3 194.6L190.4 194.6L184.5 194.6L178.6 194.6L172.8 194.6L166.9 194.6L161.0 194.6L155.1 194.6L149.2 194.6L143.3 194.6L137.4 194.6L131.5 194.6L125.7 194.6L119.8 194.6L113.9 194.6L108.0 194.6Z" fill="#fff"/><path d="M249.3 146.5L258.7 146.5L268.1 146.6L277.6 146.6L287.0 146.7L296.4 146.7L305.8 146.8L315.2 146.8L324.7 146.8L334.1 146.8L343.5 146.9L352.9 146.8L362.3 146.8L371.8 146.8L381.2 146.8L390.6 146.7L400.0 146.7L409.4 146.6L418.9 146.6L428.3 146.5L437.7 146.5L437.7 146.5L428.3 146.8L418.9 147.1L409.4 147.4L400.0 147.7L390.6 148.0L381.2 148.2L371.8 148.4L362.3 148.5L352.9 148.6L343.5 148.6L334.1 148.6L324.7 148.5L315.2 148.4L305.8 148.2L296.4 148.0L287.0 147.7L277.6 147.4L268.1 147.1L258.7 146.8L249.3 146.5ZM249.8 149.8L259.1 149.9L268.5 150.1L277.9 150.2L287.3 150.4L296.6 150.5L306.0 150.6L315.4 150.7L324.8 150.7L334.1 150.8L343.5 150.8L352.9 150.8L362.2 150.7L371.6 150.7L381.0 150.6L390.4 150.5L399.7 150.4L409.1 150.2L418.5 150.1L427.9 149.9L437.2 149.8L437.2 149.8L427.9 150.4L418.5 150.9L409.1 151.5L399.7 152.0L390.4 152.4L381.0 152.8L371.6 153.1L362.2 153.4L352.9 153.5L343.5 153.6L334.1 153.5L324.8 153.4L315.4 153.1L306.0 152.8L296.6 152.4L287.3 152.0L277.9 151.5L268.5 150.9L259.1 150.4L249.8 149.8ZM250.2 153.0L259.6 153.6L268.9 154.0L278.2 154.5L287.5 154.9L296.9 155.3L306.2 155.6L315.5 155.9L324.8 156.1L334.2 156.2L343.5 156.3L352.8 156.2L362.2 156.1L371.5 155.9L380.8 155.6L390.1 155.3L399.5 154.9L408.8 154.5L418.1 154.0L427.4 153.6L436.8 153.0L436.8 153.0L427.4 153.8L418.1 154.6L408.8 155.3L399.5 156.0L390.1 156.5L380.8 157.0L371.5 157.5L362.2 157.8L352.8 157.9L343.5 158.0L334.2 157.9L324.8 157.8L315.5 157.5L306.2 157.0L296.9 156.5L287.5 156.0L278.2 155.3L268.9 154.6L259.6 153.8L250.2 153.0ZM250.7 156.3L260.0 157.1L269.3 157.8L278.5 158.4L287.8 159.0L297.1 159.6L306.4 160.1L315.7 160.4L324.9 160.7L334.2 160.9L343.5 160.9L352.8 160.9L362.1 160.7L371.3 160.4L380.6 160.1L389.9 159.6L399.2 159.0L408.5 158.4L417.7 157.8L427.0 157.1L436.3 156.3L436.3 156.3L427.0 157.5L417.7 158.6L408.5 159.7L399.2 160.7L389.9 161.6L380.6 162.4L371.3 163.0L362.1 163.4L352.8 163.7L343.5 163.8L334.2 163.7L324.9 163.4L315.7 163.0L306.4 162.4L297.1 161.6L287.8 160.7L278.5 159.7L269.3 158.6L260.0 157.5L250.7 156.3ZM251.2 159.6L260.4 160.7L269.6 161.8L278.9 162.9L288.1 163.8L297.3 164.7L306.6 165.4L315.8 166.0L325.0 166.4L334.3 166.6L343.5 166.7L352.7 166.6L362.0 166.4L371.2 166.0L380.4 165.4L389.7 164.7L398.9 163.8L408.1 162.9L417.4 161.8L426.6 160.7L435.8 159.6L435.8 159.6L426.6 161.1L417.4 162.5L408.1 163.8L398.9 165.1L389.7 166.2L380.4 167.1L371.2 167.9L362.0 168.5L352.7 168.8L343.5 168.9L334.3 168.8L325.0 168.5L315.8 167.9L306.6 167.1L297.3 166.2L288.1 165.1L278.9 163.8L269.6 162.5L260.4 161.1L251.2 159.6ZM251.7 162.9L260.8 164.4L270.0 165.8L279.2 167.2L288.4 168.4L297.6 169.5L306.8 170.5L315.9 171.2L325.1 171.8L334.3 172.1L343.5 172.3L352.7 172.1L361.9 171.8L371.1 171.2L380.2 170.5L389.4 169.5L398.6 168.4L407.8 167.2L417.0 165.8L426.2 164.4L435.3 162.9L435.3 162.9L426.2 164.8L417.0 166.5L407.8 168.2L398.6 169.8L389.4 171.2L380.2 172.4L371.1 173.4L361.9 174.1L352.7 174.5L343.5 174.6L334.3 174.5L325.1 174.1L315.9 173.4L306.8 172.4L297.6 171.2L288.4 169.8L279.2 168.2L270.0 166.5L260.8 164.8L251.7 162.9ZM252.1 166.2L261.3 168.0L270.4 169.8L279.5 171.5L288.7 173.1L297.8 174.5L307.0 175.7L316.1 176.6L325.2 177.3L334.4 177.8L343.5 177.9L352.6 177.8L361.8 177.3L370.9 176.6L380.0 175.7L389.2 174.5L398.3 173.1L407.5 171.5L416.6 169.8L425.7 168.0L434.9 166.2L434.9 166.2L425.7 168.5L416.6 170.6L407.5 172.7L398.3 174.6L389.2 176.3L380.0 177.8L370.9 179.0L361.8 179.8L352.6 180.4L343.5 180.5L334.4 180.4L325.2 179.8L316.1 179.0L307.0 177.8L297.8 176.3L288.7 174.6L279.5 172.7L270.4 170.6L261.3 168.5L252.1 166.2ZM252.6 169.5L261.7 171.8L270.8 174.0L279.9 176.1L289.0 178.0L298.0 179.8L307.1 181.2L316.2 182.4L325.3 183.3L334.4 183.8L343.5 184.0L352.6 183.8L361.7 183.3L370.8 182.4L379.9 181.2L389.0 179.8L398.0 178.0L407.1 176.1L416.2 174.0L425.3 171.8L434.4 169.5L434.4 169.5L425.3 172.1L416.2 174.7L407.1 177.1L398.0 179.3L389.0 181.3L379.9 183.0L370.8 184.4L361.7 185.4L352.6 186.0L343.5 186.2L334.4 186.0L325.3 185.4L316.2 184.4L307.1 183.0L298.0 181.3L289.0 179.3L279.9 177.1L270.8 174.7L261.7 172.1L252.6 169.5ZM253.1 172.8L262.1 175.5L271.2 178.2L280.2 180.7L289.2 183.0L298.3 185.1L307.3 186.9L316.4 188.3L325.4 189.3L334.5 190.0L343.5 190.2L352.5 190.0L361.6 189.3L370.6 188.3L379.7 186.9L388.7 185.1L397.8 183.0L406.8 180.7L415.8 178.2L424.9 175.5L433.9 172.8L433.9 172.8L424.9 175.8L415.8 178.8L406.8 181.5L397.8 184.1L388.7 186.4L379.7 188.4L370.6 190.0L361.6 191.1L352.5 191.8L343.5 192.1L334.5 191.8L325.4 191.1L316.4 190.0L307.3 188.4L298.3 186.4L289.2 184.1L280.2 181.5L271.2 178.8L262.1 175.8L253.1 172.8ZM253.5 176.1L262.5 179.3L271.5 182.4L280.5 185.3L289.5 188.0L298.5 190.4L307.5 192.5L316.5 194.2L325.5 195.4L334.5 196.1L343.5 196.4L352.5 196.1L361.5 195.4L370.5 194.2L379.5 192.5L388.5 190.4L397.5 188.0L406.5 185.3L415.5 182.4L424.5 179.3L433.5 176.1L433.5 176.1L424.5 179.5L415.5 182.9L406.5 186.1L397.5 189.0L388.5 191.7L379.5 193.9L370.5 195.7L361.5 197.0L352.5 197.8L343.5 198.1L334.5 197.8L325.5 197.0L316.5 195.7L307.5 193.9L298.5 191.7L289.5 189.0L280.5 186.1L271.5 182.9L262.5 179.5L253.5 176.1ZM254.0 179.4L263.0 183.0L271.9 186.6L280.9 190.0L289.8 193.1L298.8 195.9L307.7 198.2L316.7 200.2L325.6 201.5L334.6 202.4L343.5 202.7L352.4 202.4L361.4 201.5L370.3 200.2L379.3 198.2L388.2 195.9L397.2 193.1L406.1 190.0L415.1 186.6L424.0 183.0L433.0 179.4L433.0 179.4L424.0 183.3L415.1 187.1L406.1 190.7L397.2 194.0L388.2 196.9L379.3 199.5L370.3 201.5L361.4 203.0L352.4 203.9L343.5 204.2L334.6 203.9L325.6 203.0L316.7 201.5L307.7 199.5L298.8 196.9L289.8 194.0L280.9 190.7L271.9 187.1L263.0 183.3L254.0 179.4ZM284.6 143.9L290.5 143.8L296.4 143.7L302.3 143.6L308.2 143.5L314.1 143.5L320.0 143.4L325.8 143.4L331.7 143.3L337.6 143.3L343.5 143.3L349.4 143.3L355.3 143.3L361.2 143.4L367.1 143.4L372.9 143.5L378.8 143.5L384.7 143.6L390.6 143.7L396.5 143.8L402.4 143.9L402.4 143.9L396.5 144.0L390.6 144.1L384.7 144.2L378.8 144.3L372.9 144.4L367.1 144.5L361.2 144.5L355.3 144.5L349.4 144.6L343.5 144.6L337.6 144.6L331.7 144.5L325.8 144.5L320.0 144.5L314.1 144.4L308.2 144.3L302.3 144.2L296.4 144.1L290.5 144.0L284.6 143.9ZM244.6 190.5L254.5 189.9L264.4 189.4L274.3 188.8L284.2 188.3L294.0 187.8L303.9 187.4L313.8 187.1L323.7 186.9L333.6 186.7L343.5 186.7L353.4 186.7L363.3 186.9L373.2 187.1L383.1 187.4L393.0 187.8L402.8 188.3L412.7 188.8L422.6 189.4L432.5 189.9L442.4 190.5L442.4 190.5L432.5 190.2L422.6 189.8L412.7 189.5L402.8 189.2L393.0 189.0L383.1 188.7L373.2 188.5L363.3 188.4L353.4 188.3L343.5 188.3L333.6 188.3L323.7 188.4L313.8 188.5L303.9 188.7L294.0 189.0L284.2 189.2L274.3 189.5L264.4 189.8L254.5 190.2L244.6 190.5ZM254.0 187.0L263.0 186.6L271.9 186.1L280.9 185.8L289.8 185.4L298.8 185.1L307.7 184.8L316.7 184.6L325.6 184.4L334.6 184.3L343.5 184.3L352.4 184.3L361.4 184.4L370.3 184.6L379.3 184.8L388.2 185.1L397.2 185.4L406.1 185.8L415.1 186.1L424.0 186.6L433.0 187.0L433.0 187.0L424.0 186.8L415.1 186.6L406.1 186.4L397.2 186.2L388.2 186.1L379.3 185.9L370.3 185.8L361.4 185.7L352.4 185.7L343.5 185.7L334.6 185.7L325.6 185.7L316.7 185.8L307.7 185.9L298.8 186.1L289.8 186.2L280.9 186.4L271.9 186.6L263.0 186.8L254.0 187.0ZM223.2 183.0L225.9 182.7L228.6 182.4L231.4 182.1L234.1 181.9L236.9 181.9L239.6 181.9L242.3 182.0L245.1 182.1L245.1 182.1L242.3 182.4L239.6 182.7L236.9 183.0L234.1 183.1L231.4 183.2L228.6 183.2L225.9 183.1L223.2 183.0ZM463.8 183.0L461.1 182.7L458.4 182.4L455.6 182.1L452.9 181.9L450.1 181.9L447.4 181.9L444.7 182.0L441.9 182.1L441.9 182.1L444.7 182.4L447.4 182.7L450.1 183.0L452.9 183.1L455.6 183.2L458.4 183.2L461.1 183.1L463.8 183.0ZM116.7 166.8L121.0 166.0L125.3 165.2L129.5 164.4L133.8 163.8L138.1 163.3L142.4 162.8L146.7 162.4L150.9 162.1L150.9 162.1L146.7 162.9L142.4 163.7L138.1 164.5L133.8 165.1L129.5 165.6L125.3 166.1L121.0 166.5L116.7 166.8ZM570.3 166.8L566.0 166.0L561.7 165.2L557.5 164.4L553.2 163.8L548.9 163.3L544.6 162.8L540.3 162.4L536.1 162.1L536.1 162.1L540.3 162.9L544.6 163.7L548.9 164.5L553.2 165.1L557.5 165.6L561.7 166.1L566.0 166.5L570.3 166.8ZM145.2 175.5L147.2 175.5L149.3 175.5L151.4 175.6L153.5 176.0L155.5 176.4L157.6 177.1L159.7 177.9L161.8 178.7L161.8 178.7L159.7 178.8L157.6 178.8L155.5 178.6L153.5 178.3L151.4 177.8L149.3 177.1L147.2 176.4L145.2 175.5ZM541.8 175.5L539.8 175.5L537.7 175.5L535.6 175.6L533.5 176.0L531.5 176.4L529.4 177.1L527.3 177.9L525.2 178.7L525.2 178.7L527.3 178.8L529.4 178.8L531.5 178.6L533.5 178.3L535.6 177.8L537.7 177.1L539.8 176.4L541.8 175.5ZM192.7 145.9L194.2 145.4L195.7 145.0L197.2 144.7L198.7 144.5L200.2 144.5L201.7 144.6L203.2 144.9L204.7 145.1L204.7 145.1L203.2 145.6L201.7 146.0L200.2 146.3L198.7 146.5L197.2 146.5L195.7 146.4L194.2 146.2L192.7 145.9ZM494.3 145.9L492.8 145.4L491.3 145.0L489.8 144.7L488.3 144.5L486.8 144.5L485.3 144.6L483.8 144.9L482.3 145.1L482.3 145.1L483.8 145.6L485.3 146.0L486.8 146.3L488.3 146.5L489.8 146.5L491.3 146.4L492.8 146.2L494.3 145.9ZM230.2 164.4L231.5 163.8L232.8 163.3L234.0 162.9L235.3 162.6L236.5 162.5L237.8 162.5L239.0 162.6L240.3 162.9L240.3 162.9L239.0 163.5L237.8 164.0L236.5 164.4L235.3 164.7L234.0 164.8L232.8 164.8L231.5 164.6L230.2 164.4ZM456.8 164.4L455.5 163.8L454.2 163.3L453.0 162.9L451.7 162.6L450.5 162.5L449.2 162.5L448.0 162.6L446.7 162.9L446.7 162.9L448.0 163.5L449.2 164.0L450.5 164.4L451.7 164.7L453.0 164.8L454.2 164.8L455.5 164.6L456.8 164.4ZM255.4 158.1L256.6 157.4L257.8 156.8L259.0 156.4L260.1 156.0L261.3 155.9L262.5 155.9L263.7 156.1L264.9 156.3L264.9 156.3L263.7 156.9L262.5 157.5L261.3 158.0L260.1 158.3L259.0 158.5L257.8 158.4L256.6 158.3L255.4 158.1ZM431.6 158.1L430.4 157.4L429.2 156.8L428.0 156.4L426.9 156.0L425.7 155.9L424.5 155.9L423.3 156.1L422.1 156.3L422.1 156.3L423.3 156.9L424.5 157.5L425.7 158.0L426.9 158.3L428.0 158.5L429.2 158.4L430.4 158.3L431.6 158.1ZM96.6 146.5L99.4 146.1L102.3 145.7L105.1 145.4L107.9 145.2L110.8 145.1L113.6 145.1L116.5 145.1L119.3 145.3L119.3 145.3L116.5 145.7L113.6 146.1L110.8 146.4L107.9 146.6L105.1 146.7L102.3 146.7L99.4 146.6L96.6 146.5ZM590.4 146.5L587.6 146.1L584.7 145.7L581.9 145.4L579.1 145.2L576.2 145.1L573.4 145.1L570.5 145.1L567.7 145.3L567.7 145.3L570.5 145.7L573.4 146.1L576.2 146.4L579.1 146.6L581.9 146.7L584.7 146.7L587.6 146.6L590.4 146.5ZM200.9 184.6L202.7 184.4L204.6 184.1L206.5 183.9L208.3 183.8L210.2 183.8L212.1 183.8L213.9 183.9L215.8 184.1L215.8 184.1L213.9 184.3L212.1 184.6L210.2 184.8L208.3 184.9L206.5 184.9L204.6 184.9L202.7 184.8L200.9 184.6ZM486.1 184.6L484.3 184.4L482.4 184.1L480.5 183.9L478.7 183.8L476.8 183.8L474.9 183.8L473.1 183.9L471.2 184.1L471.2 184.1L473.1 184.3L474.9 184.6L476.8 184.8L478.7 184.9L480.5 184.9L482.4 184.9L484.3 184.8L486.1 184.6ZM139.4 162.0L144.0 160.8L148.6 159.6L153.2 158.5L157.8 157.5L162.3 156.7L166.9 155.9L171.5 155.2L176.1 154.5L176.1 154.5L171.5 155.8L166.9 156.9L162.3 158.0L157.8 159.0L153.2 159.9L148.6 160.7L144.0 161.4L139.4 162.0ZM547.6 162.0L543.0 160.8L538.4 159.6L533.8 158.5L529.2 157.5L524.7 156.7L520.1 155.9L515.5 155.2L510.9 154.5L510.9 154.5L515.5 155.8L520.1 156.9L524.7 158.0L529.2 159.0L533.8 159.9L538.4 160.7L543.0 161.4L547.6 162.0ZM162.2 181.4L164.5 180.8L166.7 180.2L169.0 179.7L171.2 179.2L173.4 178.9L175.7 178.6L177.9 178.3L180.2 178.1L180.2 178.1L177.9 178.7L175.7 179.3L173.4 179.8L171.2 180.3L169.0 180.6L166.7 180.9L164.5 181.2L162.2 181.4ZM524.8 181.4L522.5 180.8L520.3 180.2L518.0 179.7L515.8 179.2L513.6 178.9L511.3 178.6L509.1 178.3L506.8 178.1L506.8 178.1L509.1 178.7L511.3 179.3L513.6 179.8L515.8 180.3L518.0 180.6L520.3 180.9L522.5 181.2L524.8 181.4ZM158.3 165.8L159.6 165.5L160.9 165.2L162.2 165.0L163.5 165.0L164.8 165.2L166.1 165.5L167.4 165.9L168.7 166.4L168.7 166.4L167.4 166.7L166.1 167.0L164.8 167.1L163.5 167.2L162.2 167.0L160.9 166.7L159.6 166.3L158.3 165.8ZM528.7 165.8L527.4 165.5L526.1 165.2L524.8 165.0L523.5 165.0L522.2 165.2L520.9 165.5L519.6 165.9L518.3 166.4L518.3 166.4L519.6 166.7L520.9 167.0L522.2 167.1L523.5 167.2L524.8 167.0L526.1 166.7L527.4 166.3L528.7 165.8ZM241.5 184.1L245.0 184.0L248.4 184.0L251.9 184.1L255.3 184.4L258.8 184.8L262.2 185.3L265.7 185.9L269.1 186.6L269.1 186.6L265.7 186.6L262.2 186.6L258.8 186.5L255.3 186.2L251.9 185.9L248.4 185.4L245.0 184.7L241.5 184.1ZM445.5 184.1L442.0 184.0L438.6 184.0L435.1 184.1L431.7 184.4L428.2 184.8L424.8 185.3L421.3 185.9L417.9 186.6L417.9 186.6L421.3 186.6L424.8 186.6L428.2 186.5L431.7 186.2L435.1 185.9L438.6 185.4L442.0 184.7L445.5 184.1ZM181.1 148.4L184.3 147.9L187.5 147.4L190.8 147.0L194.0 146.8L197.2 146.8L200.5 146.9L203.7 147.1L207.0 147.4L207.0 147.4L203.7 147.9L200.5 148.4L197.2 148.8L194.0 149.0L190.8 149.0L187.5 148.9L184.3 148.7L181.1 148.4ZM505.9 148.4L502.7 147.9L499.5 147.4L496.2 147.0L493.0 146.8L489.8 146.8L486.5 146.9L483.3 147.1L480.0 147.4L480.0 147.4L483.3 147.9L486.5 148.4L489.8 148.8L493.0 149.0L496.2 149.0L499.5 148.9L502.7 148.7L505.9 148.4ZM267.2 168.6L269.6 168.4L272.0 168.3L274.5 168.4L276.9 168.6L279.3 168.9L281.7 169.5L284.1 170.2L286.6 170.9L286.6 170.9L284.1 171.1L281.7 171.2L279.3 171.1L276.9 170.9L274.5 170.5L272.0 170.0L269.6 169.3L267.2 168.6ZM419.8 168.6L417.4 168.4L415.0 168.3L412.5 168.4L410.1 168.6L407.7 168.9L405.3 169.5L402.9 170.2L400.4 170.9L400.4 170.9L402.9 171.1L405.3 171.2L407.7 171.1L410.1 170.9L412.5 170.5L415.0 170.0L417.4 169.3L419.8 168.6ZM160.1 151.9L161.3 151.7L162.5 151.5L163.8 151.4L165.0 151.4L166.2 151.6L167.4 151.9L168.6 152.3L169.9 152.8L169.9 152.8L168.6 153.1L167.4 153.3L166.2 153.4L165.0 153.3L163.8 153.2L162.5 152.8L161.3 152.4L160.1 151.9ZM526.9 151.9L525.7 151.7L524.5 151.5L523.2 151.4L522.0 151.4L520.8 151.6L519.6 151.9L518.4 152.3L517.1 152.8L517.1 152.8L518.4 153.1L519.6 153.3L520.8 153.4L522.0 153.3L523.2 153.2L524.5 152.8L525.7 152.4L526.9 151.9ZM232.4 147.0L235.2 146.7L237.9 146.5L240.7 146.4L243.4 146.4L246.2 146.5L248.9 146.8L251.7 147.2L254.5 147.6L254.5 147.6L251.7 147.8L248.9 148.0L246.2 148.2L243.4 148.2L240.7 148.0L237.9 147.8L235.2 147.4L232.4 147.0ZM454.6 147.0L451.8 146.7L449.1 146.5L446.3 146.4L443.6 146.4L440.8 146.5L438.1 146.8L435.3 147.2L432.5 147.6L432.5 147.6L435.3 147.8L438.1 148.0L440.8 148.2L443.6 148.2L446.3 148.0L449.1 147.8L451.8 147.4L454.6 147.0ZM166.9 154.5L171.6 153.3L176.3 152.1L180.9 151.1L185.6 150.2L190.2 149.5L194.9 149.0L199.6 148.6L204.2 148.3L204.2 148.3L199.6 149.5L194.9 150.7L190.2 151.7L185.6 152.6L180.9 153.3L176.3 153.8L171.6 154.2L166.9 154.5ZM520.1 154.5L515.4 153.3L510.7 152.1L506.1 151.1L501.4 150.2L496.8 149.5L492.1 149.0L487.4 148.6L482.8 148.3L482.8 148.3L487.4 149.5L492.1 150.7L496.8 151.7L501.4 152.6L506.1 153.3L510.7 153.8L515.4 154.2L520.1 154.5ZM197.6 180.4L200.6 179.4L203.6 178.4L206.5 177.5L209.5 176.9L212.5 176.4L215.4 176.0L218.4 175.8L221.4 175.7L221.4 175.7L218.4 176.7L215.4 177.7L212.5 178.5L209.5 179.2L206.5 179.7L203.6 180.0L200.6 180.3L197.6 180.4ZM489.4 180.4L486.4 179.4L483.4 178.4L480.5 177.5L477.5 176.9L474.5 176.4L471.6 176.0L468.6 175.8L465.6 175.7L465.6 175.7L468.6 176.7L471.6 177.7L474.5 178.5L477.5 179.2L480.5 179.7L483.4 180.0L486.4 180.3L489.4 180.4ZM166.3 175.4L170.7 175.7L175.0 176.0L179.4 176.5L183.7 177.2L188.1 178.0L192.4 179.0L196.8 180.1L201.1 181.3L201.1 181.3L196.8 181.0L192.4 180.6L188.1 180.1L183.7 179.5L179.4 178.7L175.0 177.7L170.7 176.6L166.3 175.4ZM520.7 175.4L516.3 175.7L512.0 176.0L507.6 176.5L503.3 177.2L498.9 178.0L494.6 179.0L490.2 180.1L485.9 181.3L485.9 181.3L490.2 181.0L494.6 180.6L498.9 180.1L503.3 179.5L507.6 178.7L512.0 177.7L516.3 176.6L520.7 175.4ZM219.3 184.6L220.9 184.0L222.6 183.4L224.2 182.9L225.8 182.5L227.5 182.3L229.1 182.3L230.7 182.3L232.4 182.4L232.4 182.4L230.7 183.1L229.1 183.7L227.5 184.1L225.8 184.5L224.2 184.7L222.6 184.8L220.9 184.7L219.3 184.6ZM467.7 184.6L466.1 184.0L464.4 183.4L462.8 182.9L461.2 182.5L459.5 182.3L457.9 182.3L456.3 182.3L454.6 182.4L454.6 182.4L456.3 183.1L457.9 183.7L459.5 184.1L461.2 184.5L462.8 184.7L464.4 184.8L466.1 184.7L467.7 184.6ZM216.8 146.8L220.7 146.9L224.6 147.0L228.5 147.2L232.4 147.6L236.3 148.1L240.2 148.7L244.0 149.4L247.9 150.2L247.9 150.2L244.0 150.1L240.2 150.0L236.3 149.8L232.4 149.4L228.5 149.0L224.6 148.3L220.7 147.6L216.8 146.8ZM470.2 146.8L466.3 146.9L462.4 147.0L458.5 147.2L454.6 147.6L450.7 148.1L446.8 148.7L443.0 149.4L439.1 150.2L439.1 150.2L443.0 150.1L446.8 150.0L450.7 149.8L454.6 149.4L458.5 149.0L462.4 148.3L466.3 147.6L470.2 146.8ZM155.0 162.2L159.1 162.0L163.3 161.9L167.4 161.9L171.6 161.9L175.8 162.1L179.9 162.4L184.1 162.8L188.2 163.3L188.2 163.3L184.1 163.4L179.9 163.6L175.8 163.6L171.6 163.5L167.4 163.3L163.3 163.0L159.1 162.6L155.0 162.2ZM532.0 162.2L527.9 162.0L523.7 161.9L519.6 161.9L515.4 161.9L511.2 162.1L507.1 162.4L502.9 162.8L498.8 163.3L498.8 163.3L502.9 163.4L507.1 163.6L511.2 163.6L515.4 163.5L519.6 163.3L523.7 163.0L527.9 162.6L532.0 162.2ZM236.0 187.2L238.1 186.7L240.2 186.2L242.4 185.7L244.5 185.4L246.6 185.1L248.7 184.9L250.8 184.7L252.9 184.6L252.9 184.6L250.8 185.1L248.7 185.6L246.6 186.0L244.5 186.4L242.4 186.7L240.2 186.9L238.1 187.1L236.0 187.2ZM451.0 187.2L448.9 186.7L446.8 186.2L444.6 185.7L442.5 185.4L440.4 185.1L438.3 184.9L436.2 184.7L434.1 184.6L434.1 184.6L436.2 185.1L438.3 185.6L440.4 186.0L442.5 186.4L444.6 186.7L446.8 186.9L448.9 187.1L451.0 187.2ZM113.8 153.7L116.2 152.9L118.5 152.2L120.9 151.6L123.3 151.1L125.7 150.7L128.1 150.5L130.5 150.4L132.9 150.3L132.9 150.3L130.5 151.0L128.1 151.8L125.7 152.4L123.3 152.9L120.9 153.2L118.5 153.5L116.2 153.6L113.8 153.7ZM573.2 153.7L570.8 152.9L568.5 152.2L566.1 151.6L563.7 151.1L561.3 150.7L558.9 150.5L556.5 150.4L554.1 150.3L554.1 150.3L556.5 151.0L558.9 151.8L561.3 152.4L563.7 152.9L566.1 153.2L568.5 153.5L570.8 153.6L573.2 153.7ZM253.5 147.3L254.9 146.7L256.3 146.3L257.6 146.0L259.0 145.8L260.4 145.7L261.8 145.8L263.2 146.0L264.6 146.3L264.6 146.3L263.2 146.8L261.8 147.2L260.4 147.6L259.0 147.8L257.6 147.8L256.3 147.7L254.9 147.5L253.5 147.3ZM433.5 147.3L432.1 146.7L430.7 146.3L429.4 146.0L428.0 145.8L426.6 145.7L425.2 145.8L423.8 146.0L422.4 146.3L422.4 146.3L423.8 146.8L425.2 147.2L426.6 147.6L428.0 147.8L429.4 147.8L430.7 147.7L432.1 147.5L433.5 147.3ZM101.2 184.1L103.0 183.5L104.8 183.0L106.6 182.6L108.4 182.3L110.1 182.2L111.9 182.1L113.7 182.1L115.5 182.2L115.5 182.2L113.7 182.7L111.9 183.2L110.1 183.6L108.4 183.9L106.6 184.1L104.8 184.2L103.0 184.2L101.2 184.1ZM585.8 184.1L584.0 183.5L582.2 183.0L580.4 182.6L578.6 182.3L576.9 182.2L575.1 182.1L573.3 182.1L571.5 182.2L571.5 182.2L573.3 182.7L575.1 183.2L576.9 183.6L578.6 183.9L580.4 184.1L582.2 184.2L584.0 184.2L585.8 184.1ZM208.4 188.7L210.4 187.9L212.4 187.2L214.5 186.7L216.5 186.2L218.5 185.9L220.6 185.7L222.6 185.6L224.6 185.5L224.6 185.5L222.6 186.2L220.6 186.9L218.5 187.5L216.5 188.0L214.5 188.3L212.4 188.5L210.4 188.6L208.4 188.7ZM478.6 188.7L476.6 187.9L474.6 187.2L472.5 186.7L470.5 186.2L468.5 185.9L466.4 185.7L464.4 185.6L462.4 185.5L462.4 185.5L464.4 186.2L466.4 186.9L468.5 187.5L470.5 188.0L472.5 188.3L474.6 188.5L476.6 188.6L478.6 188.7ZM238.8 184.5L240.3 183.9L241.8 183.3L243.3 182.9L244.9 182.6L246.4 182.5L247.9 182.5L249.4 182.7L250.9 183.0L250.9 183.0L249.4 183.6L247.9 184.2L246.4 184.6L244.9 184.9L243.3 185.0L241.8 184.9L240.3 184.8L238.8 184.5ZM448.2 184.5L446.7 183.9L445.2 183.3L443.7 182.9L442.1 182.6L440.6 182.5L439.1 182.5L437.6 182.7L436.1 183.0L436.1 183.0L437.6 183.6L439.1 184.2L440.6 184.6L442.1 184.9L443.7 185.0L445.2 184.9L446.7 184.8L448.2 184.5ZM231.9 180.7L234.8 180.5L237.7 180.4L240.7 180.4L243.6 180.5L246.5 180.7L249.5 181.0L252.4 181.4L255.3 181.9L255.3 181.9L252.4 182.1L249.5 182.2L246.5 182.2L243.6 182.1L240.7 181.9L237.7 181.6L234.8 181.2L231.9 180.7ZM455.1 180.7L452.2 180.5L449.3 180.4L446.3 180.4L443.4 180.5L440.5 180.7L437.5 181.0L434.6 181.4L431.7 181.9L431.7 181.9L434.6 182.1L437.5 182.2L440.5 182.2L443.4 182.1L446.3 181.9L449.3 181.6L452.2 181.2L455.1 180.7ZM115.0 155.3L118.7 154.6L122.3 154.0L126.0 153.5L129.6 153.0L133.3 152.7L137.0 152.5L140.6 152.3L144.3 152.2L144.3 152.2L140.6 152.9L137.0 153.5L133.3 154.0L129.6 154.4L126.0 154.8L122.3 155.0L118.7 155.1L115.0 155.3ZM572.0 155.3L568.3 154.6L564.7 154.0L561.0 153.5L557.4 153.0L553.7 152.7L550.0 152.5L546.4 152.3L542.7 152.2L542.7 152.2L546.4 152.9L550.0 153.5L553.7 154.0L557.4 154.4L561.0 154.8L564.7 155.0L568.3 155.1L572.0 155.3ZM159.0 166.0L161.9 165.6L164.8 165.3L167.6 165.0L170.5 164.9L173.4 164.8L176.2 164.8L179.1 164.9L182.0 165.1L182.0 165.1L179.1 165.4L176.2 165.8L173.4 166.0L170.5 166.2L167.6 166.3L164.8 166.2L161.9 166.1L159.0 166.0ZM528.0 166.0L525.1 165.6L522.2 165.3L519.4 165.0L516.5 164.9L513.6 164.8L510.8 164.8L507.9 164.9L505.0 165.1L505.0 165.1L507.9 165.4L510.8 165.8L513.6 166.0L516.5 166.2L519.4 166.3L522.2 166.2L525.1 166.1L528.0 166.0ZM122.4 168.8L124.0 168.1L125.6 167.5L127.1 167.0L128.7 166.7L130.3 166.6L131.8 166.6L133.4 166.8L135.0 167.1L135.0 167.1L133.4 167.7L131.8 168.3L130.3 168.8L128.7 169.1L127.1 169.3L125.6 169.2L124.0 169.0L122.4 168.8ZM564.6 168.8L563.0 168.1L561.4 167.5L559.9 167.0L558.3 166.7L556.7 166.6L555.2 166.6L553.6 166.8L552.0 167.1L552.0 167.1L553.6 167.7L555.2 168.3L556.7 168.8L558.3 169.1L559.9 169.3L561.4 169.2L563.0 169.0L564.6 168.8ZM192.7 161.6L195.8 161.2L198.9 161.0L202.0 160.7L205.1 160.6L208.2 160.5L211.3 160.5L214.5 160.6L217.6 160.7L217.6 160.7L214.5 161.0L211.3 161.3L208.2 161.6L205.1 161.7L202.0 161.8L198.9 161.7L195.8 161.7L192.7 161.6ZM494.3 161.6L491.2 161.2L488.1 161.0L485.0 160.7L481.9 160.6L478.8 160.5L475.7 160.5L472.5 160.6L469.4 160.7L469.4 160.7L472.5 161.0L475.7 161.3L478.8 161.6L481.9 161.7L485.0 161.8L488.1 161.7L491.2 161.7L494.3 161.6ZM207.7 169.5L210.3 168.9L212.8 168.3L215.4 167.8L217.9 167.4L220.4 167.1L223.0 166.9L225.5 166.8L228.1 166.7L228.1 166.7L225.5 167.3L223.0 167.9L220.4 168.4L217.9 168.8L215.4 169.1L212.8 169.3L210.3 169.4L207.7 169.5ZM479.3 169.5L476.7 168.9L474.2 168.3L471.6 167.8L469.1 167.4L466.6 167.1L464.0 166.9L461.5 166.8L458.9 166.7L458.9 166.7L461.5 167.3L464.0 167.9L466.6 168.4L469.1 168.8L471.6 169.1L474.2 169.3L476.7 169.4L479.3 169.5ZM138.5 174.6L139.9 174.4L141.3 174.2L142.7 174.1L144.2 174.1L145.6 174.3L147.0 174.6L148.5 175.1L149.9 175.5L149.9 175.5L148.5 175.8L147.0 176.0L145.6 176.0L144.2 176.0L142.7 175.8L141.3 175.5L139.9 175.1L138.5 174.6ZM548.5 174.6L547.1 174.4L545.7 174.2L544.3 174.1L542.8 174.1L541.4 174.3L540.0 174.6L538.5 175.1L537.1 175.5L537.1 175.5L538.5 175.8L540.0 176.0L541.4 176.0L542.8 176.0L544.3 175.8L545.7 175.5L547.1 175.1L548.5 174.6ZM166.1 151.5L169.0 150.6L171.8 149.8L174.7 149.1L177.6 148.6L180.4 148.2L183.3 147.9L186.1 147.7L189.0 147.5L189.0 147.5L186.1 148.4L183.3 149.2L180.4 149.9L177.6 150.4L174.7 150.8L171.8 151.1L169.0 151.3L166.1 151.5ZM520.9 151.5L518.0 150.6L515.2 149.8L512.3 149.1L509.4 148.6L506.6 148.2L503.7 147.9L500.9 147.7L498.0 147.5L498.0 147.5L500.9 148.4L503.7 149.2L506.6 149.9L509.4 150.4L512.3 150.8L515.2 151.1L518.0 151.3L520.9 151.5ZM123.7 157.6L128.0 156.6L132.3 155.6L136.7 154.8L141.0 154.1L145.4 153.6L149.7 153.2L154.0 152.9L158.4 152.8L158.4 152.8L154.0 153.8L149.7 154.8L145.4 155.6L141.0 156.3L136.7 156.8L132.3 157.2L128.0 157.5L123.7 157.6ZM563.3 157.6L559.0 156.6L554.7 155.6L550.3 154.8L546.0 154.1L541.6 153.6L537.3 153.2L533.0 152.9L528.6 152.8L528.6 152.8L533.0 153.8L537.3 154.8L541.6 155.6L546.0 156.3L550.3 156.8L554.7 157.2L559.0 157.5L563.3 157.6ZM204.6 174.0L208.6 173.1L212.6 172.2L216.6 171.4L220.6 170.7L224.6 170.0L228.7 169.5L232.7 169.0L236.7 168.5L236.7 168.5L232.7 169.4L228.7 170.3L224.6 171.1L220.6 171.8L216.6 172.5L212.6 173.0L208.6 173.5L204.6 174.0ZM482.4 174.0L478.4 173.1L474.4 172.2L470.4 171.4L466.4 170.7L462.4 170.0L458.3 169.5L454.3 169.0L450.3 168.5L450.3 168.5L454.3 169.4L458.3 170.3L462.4 171.1L466.4 171.8L470.4 172.5L474.4 173.0L478.4 173.5L482.4 174.0ZM116.8 149.7L121.3 148.5L125.7 147.5L130.2 146.4L134.7 145.5L139.1 144.8L143.6 144.1L148.1 143.5L152.5 142.9L152.5 142.9L148.1 144.1L143.6 145.2L139.1 146.2L134.7 147.1L130.2 147.9L125.7 148.5L121.3 149.1L116.8 149.7ZM570.2 149.7L565.7 148.5L561.3 147.5L556.8 146.4L552.3 145.5L547.9 144.8L543.4 144.1L538.9 143.5L534.5 142.9L534.5 142.9L538.9 144.1L543.4 145.2L547.9 146.2L552.3 147.1L556.8 147.9L561.3 148.5L565.7 149.1L570.2 149.7ZM264.3 180.3L267.8 180.4L271.3 180.6L274.7 180.9L278.2 181.2L281.7 181.6L285.2 182.0L288.7 182.5L292.2 183.1L292.2 183.1L288.7 182.9L285.2 182.7L281.7 182.4L278.2 182.1L274.7 181.7L271.3 181.3L267.8 180.8L264.3 180.3ZM422.7 180.3L419.2 180.4L415.7 180.6L412.3 180.9L408.8 181.2L405.3 181.6L401.8 182.0L398.3 182.5L394.8 183.1L394.8 183.1L398.3 182.9L401.8 182.7L405.3 182.4L408.8 182.1L412.3 181.7L415.7 181.3L419.2 180.8L422.7 180.3ZM241.6 157.3L243.3 156.8L245.1 156.3L246.8 156.0L248.6 155.8L250.3 155.7L252.1 155.7L253.8 155.9L255.6 156.0L255.6 156.0L253.8 156.5L252.1 157.0L250.3 157.3L248.6 157.5L246.8 157.6L245.1 157.6L243.3 157.4L241.6 157.3ZM445.4 157.3L443.7 156.8L441.9 156.3L440.2 156.0L438.4 155.8L436.7 155.7L434.9 155.7L433.2 155.9L431.4 156.0L431.4 156.0L433.2 156.5L434.9 157.0L436.7 157.3L438.4 157.5L440.2 157.6L441.9 157.6L443.7 157.4L445.4 157.3ZM208.8 164.7L211.8 164.6L214.7 164.5L217.6 164.5L220.6 164.7L223.5 165.1L226.4 165.5L229.4 166.1L232.3 166.7L232.3 166.7L229.4 166.9L226.4 167.0L223.5 166.9L220.6 166.7L217.6 166.4L214.7 165.9L211.8 165.3L208.8 164.7ZM478.2 164.7L475.2 164.6L472.3 164.5L469.4 164.5L466.4 164.7L463.5 165.1L460.6 165.5L457.6 166.1L454.7 166.7L454.7 166.7L457.6 166.9L460.6 167.0L463.5 166.9L466.4 166.7L469.4 166.4L472.3 165.9L475.2 165.3L478.2 164.7ZM147.9 186.2L151.9 185.9L155.9 185.6L159.9 185.3L163.9 185.2L167.9 185.1L171.9 185.2L175.9 185.3L179.9 185.4L179.9 185.4L175.9 185.8L171.9 186.1L167.9 186.3L163.9 186.4L159.9 186.5L155.9 186.5L151.9 186.4L147.9 186.2ZM539.1 186.2L535.1 185.9L531.1 185.6L527.1 185.3L523.1 185.2L519.1 185.1L515.1 185.2L511.1 185.3L507.1 185.4L507.1 185.4L511.1 185.8L515.1 186.1L519.1 186.3L523.1 186.4L527.1 186.5L531.1 186.5L535.1 186.4L539.1 186.2ZM101.5 153.3L103.3 152.8L105.1 152.3L106.9 152.0L108.7 151.8L110.5 151.8L112.2 151.9L114.0 152.1L115.8 152.4L115.8 152.4L114.0 153.0L112.2 153.4L110.5 153.8L108.7 154.0L106.9 154.0L105.1 153.9L103.3 153.6L101.5 153.3ZM585.5 153.3L583.7 152.8L581.9 152.3L580.1 152.0L578.3 151.8L576.5 151.8L574.8 151.9L573.0 152.1L571.2 152.4L571.2 152.4L573.0 153.0L574.8 153.4L576.5 153.8L578.3 154.0L580.1 154.0L581.9 153.9L583.7 153.6L585.5 153.3ZM195.1 150.6L198.6 149.6L202.0 148.6L205.4 147.8L208.8 147.1L212.2 146.6L215.6 146.2L219.1 146.0L222.5 145.9L222.5 145.9L219.1 147.0L215.6 147.9L212.2 148.8L208.8 149.5L205.4 150.0L202.0 150.3L198.6 150.5L195.1 150.6ZM491.9 150.6L488.4 149.6L485.0 148.6L481.6 147.8L478.2 147.1L474.8 146.6L471.4 146.2L467.9 146.0L464.5 145.9L464.5 145.9L467.9 147.0L471.4 147.9L474.8 148.8L478.2 149.5L481.6 150.0L485.0 150.3L488.4 150.5L491.9 150.6ZM111.2 169.7L112.9 169.2L114.7 168.8L116.4 168.5L118.1 168.3L119.9 168.3L121.6 168.4L123.3 168.6L125.1 168.9L125.1 168.9L123.3 169.3L121.6 169.7L119.9 170.0L118.1 170.2L116.4 170.2L114.7 170.1L112.9 169.9L111.2 169.7ZM575.8 169.7L574.1 169.2L572.3 168.8L570.6 168.5L568.9 168.3L567.1 168.3L565.4 168.4L563.7 168.6L561.9 168.9L561.9 168.9L563.7 169.3L565.4 169.7L567.1 170.0L568.9 170.2L570.6 170.2L572.3 170.1L574.1 169.9L575.8 169.7ZM257.6 177.1L259.7 176.7L261.8 176.4L263.8 176.1L265.9 175.9L268.0 175.8L270.1 175.8L272.2 175.9L274.3 176.0L274.3 176.0L272.2 176.3L270.1 176.6L268.0 176.9L265.9 177.1L263.8 177.2L261.8 177.2L259.7 177.2L257.6 177.1ZM429.4 177.1L427.3 176.7L425.2 176.4L423.2 176.1L421.1 175.9L419.0 175.8L416.9 175.8L414.8 175.9L412.7 176.0L412.7 176.0L414.8 176.3L416.9 176.6L419.0 176.9L421.1 177.1L423.2 177.2L425.2 177.2L427.3 177.2L429.4 177.1ZM261.4 156.7L264.8 156.0L268.2 155.4L271.6 154.9L275.0 154.4L278.4 154.1L281.8 153.9L285.2 153.7L288.6 153.6L288.6 153.6L285.2 154.2L281.8 154.8L278.4 155.4L275.0 155.8L271.6 156.1L268.2 156.4L264.8 156.5L261.4 156.7ZM425.6 156.7L422.2 156.0L418.8 155.4L415.4 154.9L412.0 154.4L408.6 154.1L405.2 153.9L401.8 153.7L398.4 153.6L398.4 153.6L401.8 154.2L405.2 154.8L408.6 155.4L412.0 155.8L415.4 156.1L418.8 156.4L422.2 156.5L425.6 156.7ZM156.4 182.2L160.3 181.6L164.3 181.0L168.2 180.5L172.1 180.1L176.0 179.7L180.0 179.4L183.9 179.2L187.8 179.0L187.8 179.0L183.9 179.6L180.0 180.1L176.0 180.6L172.1 181.1L168.2 181.4L164.3 181.7L160.3 182.0L156.4 182.2ZM530.6 182.2L526.7 181.6L522.7 181.0L518.8 180.5L514.9 180.1L511.0 179.7L507.0 179.4L503.1 179.2L499.2 179.0L499.2 179.0L503.1 179.6L507.0 180.1L511.0 180.6L514.9 181.1L518.8 181.4L522.7 181.7L526.7 182.0L530.6 182.2ZM124.5 174.7L126.2 174.4L128.0 174.0L129.7 173.8L131.4 173.7L133.2 173.7L134.9 173.8L136.6 174.0L138.4 174.2L138.4 174.2L136.6 174.6L134.9 174.9L133.2 175.1L131.4 175.2L129.7 175.2L128.0 175.1L126.2 175.0L124.5 174.7ZM562.5 174.7L560.8 174.4L559.0 174.0L557.3 173.8L555.6 173.7L553.8 173.7L552.1 173.8L550.4 174.0L548.6 174.2L548.6 174.2L550.4 174.6L552.1 174.9L553.8 175.1L555.6 175.2L557.3 175.2L559.0 175.1L560.8 175.0L562.5 174.7ZM235.7 170.2L238.4 169.4L241.2 168.7L243.9 168.1L246.7 167.5L249.4 167.1L252.2 166.7L255.0 166.5L257.7 166.2L257.7 166.2L255.0 167.0L252.2 167.7L249.4 168.3L246.7 168.9L243.9 169.3L241.2 169.7L238.4 170.0L235.7 170.2ZM451.3 170.2L448.6 169.4L445.8 168.7L443.1 168.1L440.3 167.5L437.6 167.1L434.8 166.7L432.0 166.5L429.3 166.2L429.3 166.2L432.0 167.0L434.8 167.7L437.6 168.3L440.3 168.9L443.1 169.3L445.8 169.7L448.6 170.0L451.3 170.2ZM217.8 169.6L220.8 169.9L223.8 170.3L226.8 170.7L229.8 171.2L232.8 171.8L235.8 172.5L238.8 173.2L241.8 174.0L241.8 174.0L238.8 173.6L235.8 173.3L232.8 172.8L229.8 172.3L226.8 171.7L223.8 171.1L220.8 170.3L217.8 169.6ZM469.2 169.6L466.2 169.9L463.2 170.3L460.2 170.7L457.2 171.2L454.2 171.8L451.2 172.5L448.2 173.2L445.2 174.0L445.2 174.0L448.2 173.6L451.2 173.3L454.2 172.8L457.2 172.3L460.2 171.7L463.2 171.1L466.2 170.3L469.2 169.6ZM159.0 170.8L163.4 170.7L167.8 170.6L172.2 170.7L176.6 171.0L181.0 171.4L185.4 172.0L189.8 172.7L194.3 173.4L194.3 173.4L189.8 173.5L185.4 173.6L181.0 173.5L176.6 173.3L172.2 172.9L167.8 172.3L163.4 171.6L159.0 170.8ZM528.0 170.8L523.6 170.7L519.2 170.6L514.8 170.7L510.4 171.0L506.0 171.4L501.6 172.0L497.2 172.7L492.7 173.4L492.7 173.4L497.2 173.5L501.6 173.6L506.0 173.5L510.4 173.3L514.8 172.9L519.2 172.3L523.6 171.6L528.0 170.8ZM137.6 180.7L140.8 180.7L144.0 180.7L147.2 180.9L150.4 181.1L153.6 181.5L156.7 182.0L159.9 182.5L163.1 183.1L163.1 183.1L159.9 183.0L156.7 183.0L153.6 182.8L150.4 182.6L147.2 182.2L144.0 181.8L140.8 181.2L137.6 180.7ZM549.4 180.7L546.2 180.7L543.0 180.7L539.8 180.9L536.6 181.1L533.4 181.5L530.3 182.0L527.1 182.5L523.9 183.1L523.9 183.1L527.1 183.0L530.3 183.0L533.4 182.8L536.6 182.6L539.8 182.2L543.0 181.8L546.2 181.2L549.4 180.7ZM135.9 157.6L137.2 157.4L138.5 157.3L139.8 157.2L141.0 157.4L142.3 157.6L143.6 158.0L144.8 158.5L146.1 159.1L146.1 159.1L144.8 159.3L143.6 159.5L142.3 159.5L141.0 159.4L139.8 159.1L138.5 158.7L137.2 158.2L135.9 157.6ZM551.1 157.6L549.8 157.4L548.5 157.3L547.2 157.2L546.0 157.4L544.7 157.6L543.4 158.0L542.2 158.5L540.9 159.1L540.9 159.1L542.2 159.3L543.4 159.5L544.7 159.5L546.0 159.4L547.2 159.1L548.5 158.7L549.8 158.2L551.1 157.6Z" fill="#1e5092"/><path d="M108.0 418.0L110.6 418.0L113.2 417.9L115.8 417.7L118.5 417.5L121.1 417.2L123.7 416.9L126.3 416.5L128.9 416.1L131.6 415.6L134.2 415.2L136.8 414.6L139.4 414.1L142.0 413.5L144.6 412.9L147.2 412.3L149.9 411.7L152.5 411.0L155.1 410.4L157.7 409.7L160.3 408.9L162.9 408.1L165.6 407.1L168.2 406.1L170.8 405.0L173.4 403.8L176.0 402.5L178.6 401.2L181.3 399.8L183.9 398.3L186.5 396.7L189.1 395.1L191.7 393.4L194.3 391.6L197.0 389.8L199.6 387.9L202.2 385.6L204.8 383.0L207.4 380.1L210.1 377.0L212.7 373.6L215.3 370.1L217.9 366.5L220.5 362.8L223.1 359.1L225.8 355.4L228.4 351.7L231.0 348.2L233.6 344.8L236.2 341.5L238.8 338.5L241.4 335.5L244.1 332.6L246.7 329.7L249.3 326.9L251.9 324.1L254.5 321.3L257.1 318.5L259.8 315.7L262.4 313.0L265.0 310.2L267.6 307.4L270.2 304.5L272.9 301.6L275.5 298.7L278.1 295.9L280.7 293.0L283.3 290.2L285.9 287.4L288.6 284.8L291.2 282.2L293.8 279.7L296.4 277.4L299.0 275.2L301.6 273.0L304.2 270.9L306.9 268.8L309.5 266.7L312.1 264.8L314.7 262.8L317.3 261.0L320.0 259.2L322.6 257.5L325.2 255.8L327.8 254.3L330.4 252.8L333.0 251.4L335.6 250.0L338.3 248.8L340.9 247.6L343.5 246.5 M343.5 246.5L346.1 247.6L348.7 248.7L351.4 249.9L354.0 251.2L356.6 252.5L359.2 253.9L361.8 255.4L364.4 257.0L367.1 258.6L369.7 260.3L372.3 262.0L374.9 263.9L377.5 265.7L380.1 267.7L382.8 269.7L385.4 271.7L388.0 273.8L390.6 275.9L393.2 278.0L395.8 280.3L398.4 282.7L401.1 285.2L403.7 287.8L406.3 290.4L408.9 293.1L411.5 295.9L414.2 298.6L416.8 301.4L419.4 304.2L422.0 306.9L424.6 309.6L427.2 312.3L429.9 315.0L432.5 317.6L435.1 320.3L437.7 323.0L440.3 325.7L442.9 328.4L445.6 331.2L448.2 333.9L450.8 336.8L453.4 339.6L456.0 342.6L458.6 345.8L461.2 349.1L463.9 352.6L466.5 356.1L469.1 359.7L471.7 363.3L474.3 366.8L476.9 370.3L479.6 373.6L482.2 376.8L484.8 379.9L487.4 382.7L490.0 385.2L492.6 387.5L495.3 389.4L497.9 391.2L500.5 392.9L503.1 394.5L505.7 396.1L508.3 397.6L511.0 399.1L513.6 400.5L516.2 401.8L518.8 403.1L521.4 404.3L524.0 405.4L526.7 406.4L529.3 407.4L531.9 408.3L534.5 409.1L537.1 409.8L539.8 410.5L542.4 411.1L545.0 411.7L547.6 412.3L550.2 412.9L552.8 413.5L555.5 414.0L558.1 414.6L560.7 415.1L563.3 415.5L565.9 416.0L568.5 416.4L571.2 416.8L573.8 417.1L576.4 417.4L579.0 417.6 M108.0 409.0L110.6 408.8L113.2 408.6L115.8 408.3L118.5 408.0L121.1 407.7L123.7 407.3L126.3 406.9L128.9 406.4L131.6 405.9L134.2 405.4L136.8 404.9L139.4 404.4L142.0 403.8L144.6 403.2L147.2 402.6L149.9 402.0L152.5 401.4L155.1 400.7L157.7 399.9L160.3 399.1L162.9 398.2L165.6 397.2L168.2 396.1L170.8 394.9L173.4 393.7L176.0 392.4L178.6 391.1L181.3 389.7L183.9 388.2L186.5 386.7L189.1 385.1L191.7 383.4L194.3 381.7L197.0 379.8L199.6 377.6L202.2 375.1L204.8 372.4L207.4 369.4L210.1 366.3L212.7 363.0L215.3 359.6L217.9 356.2L220.5 352.8L223.1 349.3L225.8 345.9L228.4 342.6L231.0 339.5L233.6 336.5L236.2 333.6L238.8 330.9L241.4 328.2L244.1 325.5L246.7 322.9L249.3 320.3L251.9 317.7L254.5 315.1L257.1 312.5L259.8 310.0L262.4 307.4L265.0 304.8L267.6 302.1L270.2 299.5L272.9 296.8L275.5 294.1L278.1 291.5L280.7 288.8L283.3 286.3L285.9 283.7L288.6 281.3L291.2 279.0L293.8 276.7L296.4 274.6L299.0 272.6L301.6 270.6L304.2 268.6L306.9 266.7L309.5 264.8L312.1 263.0L314.7 261.2L317.3 259.5L320.0 257.9L322.6 256.3L325.2 254.8L327.8 253.3L330.4 252.0L333.0 250.7L335.6 249.4L338.3 248.3L340.9 247.2L343.5 246.2 M343.5 246.2L346.1 247.2L348.7 248.2L351.4 249.3L354.0 250.5L356.6 251.7L359.2 253.0L361.8 254.4L364.4 255.8L367.1 257.3L369.7 258.9L372.3 260.5L374.9 262.2L377.5 263.9L380.1 265.7L382.8 267.5L385.4 269.4L388.0 271.3L390.6 273.2L393.2 275.2L395.8 277.2L398.4 279.4L401.1 281.7L403.7 284.0L406.3 286.4L408.9 288.9L411.5 291.5L414.2 294.0L416.8 296.6L419.4 299.2L422.0 301.7L424.6 304.3L427.2 306.8L429.9 309.3L432.5 311.7L435.1 314.2L437.7 316.7L440.3 319.2L442.9 321.7L445.6 324.2L448.2 326.7L450.8 329.3L453.4 332.0L456.0 334.6L458.6 337.4L461.2 340.3L463.9 343.4L466.5 346.6L469.1 349.9L471.7 353.2L474.3 356.5L476.9 359.8L479.6 363.0L482.2 366.2L484.8 369.2L487.4 372.0L490.0 374.7L492.6 377.2L495.3 379.4L497.9 381.3L500.5 382.9L503.1 384.5L505.7 386.1L508.3 387.6L511.0 389.0L513.6 390.4L516.2 391.7L518.8 393.0L521.4 394.2L524.0 395.3L526.7 396.4L529.3 397.4L531.9 398.4L534.5 399.3L537.1 400.1L539.8 400.8L542.4 401.5L545.0 402.1L547.6 402.6L550.2 403.2L552.8 403.7L555.5 404.3L558.1 404.8L560.7 405.3L563.3 405.8L565.9 406.3L568.5 406.7L571.2 407.2L573.8 407.5L576.4 407.9L579.0 408.2 M108.0 399.4L110.6 399.1L113.2 398.8L115.8 398.4L118.5 398.0L121.1 397.6L123.7 397.1L126.3 396.7L128.9 396.2L131.6 395.7L134.2 395.2L136.8 394.7L139.4 394.1L142.0 393.6L144.6 393.0L147.2 392.4L149.9 391.7L152.5 391.0L155.1 390.1L157.7 389.2L160.3 388.3L162.9 387.3L165.6 386.2L168.2 385.0L170.8 383.8L173.4 382.6L176.0 381.3L178.6 379.9L181.3 378.5L183.9 377.0L186.5 375.5L189.1 373.9L191.7 372.2L194.3 370.1L197.0 367.8L199.6 365.3L202.2 362.6L204.8 359.7L207.4 356.7L210.1 353.7L212.7 350.6L215.3 347.4L217.9 344.3L220.5 341.2L223.1 338.1L225.8 335.2L228.4 332.4L231.0 329.8L233.6 327.2L236.2 324.8L238.8 322.3L241.4 319.9L244.1 317.5L246.7 315.1L249.3 312.8L251.9 310.4L254.5 308.1L257.1 305.7L259.8 303.4L262.4 301.0L265.0 298.6L267.6 296.1L270.2 293.7L272.9 291.3L275.5 288.8L278.1 286.4L280.7 284.1L283.3 281.8L285.9 279.5L288.6 277.4L291.2 275.3L293.8 273.4L296.4 271.5L299.0 269.7L301.6 267.8L304.2 266.1L306.9 264.4L309.5 262.7L312.1 261.0L314.7 259.4L317.3 257.9L320.0 256.4L322.6 255.0L325.2 253.6L327.8 252.3L330.4 251.1L333.0 249.9L335.6 248.8L338.3 247.8L340.9 246.8L343.5 245.9 M343.5 245.9L346.1 246.8L348.7 247.7L351.4 248.7L354.0 249.8L356.6 250.9L359.2 252.0L361.8 253.3L364.4 254.6L367.1 255.9L369.7 257.3L372.3 258.8L374.9 260.3L377.5 261.8L380.1 263.4L382.8 265.1L385.4 266.8L388.0 268.5L390.6 270.2L393.2 272.0L395.8 273.8L398.4 275.7L401.1 277.7L403.7 279.8L406.3 281.9L408.9 284.2L411.5 286.4L414.2 288.7L416.8 291.1L419.4 293.4L422.0 295.8L424.6 298.1L427.2 300.4L429.9 302.7L432.5 305.0L435.1 307.2L437.7 309.5L440.3 311.8L442.9 314.0L445.6 316.3L448.2 318.6L450.8 320.9L453.4 323.2L456.0 325.6L458.6 328.0L461.2 330.5L463.9 333.0L466.5 335.8L469.1 338.6L471.7 341.5L474.3 344.5L476.9 347.5L479.6 350.6L482.2 353.6L484.8 356.5L487.4 359.4L490.0 362.1L492.6 364.8L495.3 367.2L497.9 369.5L500.5 371.6L503.1 373.4L505.7 374.9L508.3 376.4L511.0 377.8L513.6 379.2L516.2 380.5L518.8 381.8L521.4 383.1L524.0 384.3L526.7 385.4L529.3 386.5L531.9 387.5L534.5 388.5L537.1 389.4L539.8 390.2L542.4 391.0L545.0 391.7L547.6 392.4L550.2 393.0L552.8 393.5L555.5 394.1L558.1 394.6L560.7 395.1L563.3 395.6L565.9 396.1L568.5 396.5L571.2 397.0L573.8 397.4L576.4 397.8L579.0 398.2 M108.0 389.3L110.6 388.9L113.2 388.5L115.8 388.1L118.5 387.6L121.1 387.2L123.7 386.7L126.3 386.2L128.9 385.8L131.6 385.3L134.2 384.8L136.8 384.3L139.4 383.7L142.0 383.0L144.6 382.3L147.2 381.5L149.9 380.7L152.5 379.9L155.1 378.9L157.7 377.9L160.3 376.9L162.9 375.8L165.6 374.7L168.2 373.5L170.8 372.3L173.4 371.0L176.0 369.7L178.6 368.3L181.3 366.9L183.9 365.4L186.5 363.6L189.1 361.6L191.7 359.4L194.3 357.1L197.0 354.6L199.6 351.9L202.2 349.2L204.8 346.4L207.4 343.6L210.1 340.7L212.7 337.9L215.3 335.1L217.9 332.4L220.5 329.8L223.1 327.2L225.8 324.9L228.4 322.6L231.0 320.3L233.6 318.1L236.2 315.9L238.8 313.7L241.4 311.6L244.1 309.5L246.7 307.3L249.3 305.2L251.9 303.1L254.5 301.0L257.1 298.8L259.8 296.7L262.4 294.5L265.0 292.3L267.6 290.1L270.2 287.9L272.9 285.7L275.5 283.5L278.1 281.4L280.7 279.3L283.3 277.3L285.9 275.4L288.6 273.5L291.2 271.8L293.8 270.1L296.4 268.4L299.0 266.7L301.6 265.1L304.2 263.6L306.9 262.0L309.5 260.5L312.1 259.1L314.7 257.7L317.3 256.3L320.0 255.0L322.6 253.7L325.2 252.5L327.8 251.3L330.4 250.2L333.0 249.2L335.6 248.2L338.3 247.3L340.9 246.4L343.5 245.5 M343.5 245.5L346.1 246.3L348.7 247.2L351.4 248.1L354.0 249.0L356.6 250.0L359.2 251.1L361.8 252.2L364.4 253.3L367.1 254.5L369.7 255.8L372.3 257.1L374.9 258.4L377.5 259.8L380.1 261.2L382.8 262.7L385.4 264.2L388.0 265.7L390.6 267.2L393.2 268.8L395.8 270.4L398.4 272.1L401.1 273.8L403.7 275.6L406.3 277.5L408.9 279.4L411.5 281.4L414.2 283.5L416.8 285.5L419.4 287.6L422.0 289.8L424.6 291.9L427.2 294.0L429.9 296.1L432.5 298.2L435.1 300.2L437.7 302.3L440.3 304.3L442.9 306.4L445.6 308.4L448.2 310.4L450.8 312.5L453.4 314.6L456.0 316.7L458.6 318.8L461.2 320.9L463.9 323.1L466.5 325.3L469.1 327.6L471.7 330.1L474.3 332.6L476.9 335.2L479.6 337.9L482.2 340.6L484.8 343.4L487.4 346.1L490.0 348.8L492.6 351.4L495.3 354.0L497.9 356.4L500.5 358.7L503.1 360.9L505.7 362.9L508.3 364.7L511.0 366.3L513.6 367.6L516.2 369.0L518.8 370.3L521.4 371.5L524.0 372.7L526.7 373.9L529.3 375.0L531.9 376.1L534.5 377.1L537.1 378.1L539.8 379.0L542.4 379.9L545.0 380.8L547.6 381.5L550.2 382.3L552.8 383.0L555.5 383.6L558.1 384.2L560.7 384.7L563.3 385.2L565.9 385.6L568.5 386.1L571.2 386.6L573.8 387.0L576.4 387.4L579.0 387.9 M108.0 378.8L110.6 378.4L113.2 378.0L115.8 377.6L118.5 377.1L121.1 376.7L123.7 376.3L126.3 375.8L128.9 375.3L131.6 374.7L134.2 374.1L136.8 373.4L139.4 372.7L142.0 371.9L144.6 371.1L147.2 370.2L149.9 369.3L152.5 368.4L155.1 367.4L157.7 366.3L160.3 365.3L162.9 364.1L165.6 363.0L168.2 361.8L170.8 360.6L173.4 359.3L176.0 357.9L178.6 356.3L181.3 354.6L183.9 352.6L186.5 350.5L189.1 348.3L191.7 345.9L194.3 343.5L197.0 341.0L199.6 338.5L202.2 336.0L204.8 333.4L207.4 330.9L210.1 328.4L212.7 326.0L215.3 323.7L217.9 321.4L220.5 319.3L223.1 317.3L225.8 315.3L228.4 313.3L231.0 311.3L233.6 309.4L236.2 307.5L238.8 305.6L241.4 303.6L244.1 301.7L246.7 299.8L249.3 297.9L251.9 296.0L254.5 294.1L257.1 292.2L259.8 290.2L262.4 288.2L265.0 286.2L267.6 284.3L270.2 282.3L272.9 280.4L275.5 278.5L278.1 276.7L280.7 274.9L283.3 273.1L285.9 271.5L288.6 269.9L291.2 268.4L293.8 266.8L296.4 265.4L299.0 263.9L301.6 262.5L304.2 261.1L306.9 259.8L309.5 258.5L312.1 257.2L314.7 255.9L317.3 254.7L320.0 253.6L322.6 252.5L325.2 251.4L327.8 250.4L330.4 249.4L333.0 248.5L335.6 247.6L338.3 246.7L340.9 246.0L343.5 245.2 M343.5 245.2L346.1 245.9L348.7 246.7L351.4 247.5L354.0 248.3L356.6 249.2L359.2 250.1L361.8 251.1L364.4 252.1L367.1 253.2L369.7 254.3L372.3 255.4L374.9 256.6L377.5 257.8L380.1 259.1L382.8 260.3L385.4 261.7L388.0 263.0L390.6 264.4L393.2 265.8L395.8 267.2L398.4 268.6L401.1 270.1L403.7 271.7L406.3 273.3L408.9 274.9L411.5 276.7L414.2 278.4L416.8 280.2L419.4 282.1L422.0 284.0L424.6 285.9L427.2 287.8L429.9 289.7L432.5 291.6L435.1 293.4L437.7 295.3L440.3 297.1L442.9 299.0L445.6 300.8L448.2 302.6L450.8 304.5L453.4 306.3L456.0 308.1L458.6 310.0L461.2 311.9L463.9 313.8L466.5 315.7L469.1 317.6L471.7 319.6L474.3 321.6L476.9 323.7L479.6 326.0L482.2 328.3L484.8 330.7L487.4 333.1L490.0 335.6L492.6 338.0L495.3 340.4L497.9 342.8L500.5 345.2L503.1 347.5L505.7 349.7L508.3 351.7L511.0 353.7L513.6 355.5L516.2 357.1L518.8 358.6L521.4 359.8L524.0 361.0L526.7 362.2L529.3 363.3L531.9 364.4L534.5 365.5L537.1 366.5L539.8 367.5L542.4 368.4L545.0 369.3L547.6 370.2L550.2 371.0L552.8 371.8L555.5 372.6L558.1 373.3L560.7 373.9L563.3 374.5L565.9 375.1L568.5 375.6L571.2 376.1L573.8 376.5L576.4 377.0L579.0 377.4 M108.0 368.4L110.6 368.0L113.2 367.6L115.8 367.1L118.5 366.6L121.1 366.1L123.7 365.6L126.3 364.9L128.9 364.3L131.6 363.6L134.2 362.9L136.8 362.1L139.4 361.3L142.0 360.5L144.6 359.6L147.2 358.7L149.9 357.7L152.5 356.7L155.1 355.7L157.7 354.7L160.3 353.6L162.9 352.5L165.6 351.4L168.2 350.0L170.8 348.6L173.4 346.9L176.0 345.2L178.6 343.3L181.3 341.3L183.9 339.2L186.5 337.0L189.1 334.8L191.7 332.6L194.3 330.3L197.0 328.0L199.6 325.8L202.2 323.5L204.8 321.4L207.4 319.3L210.1 317.3L212.7 315.3L215.3 313.5L217.9 311.7L220.5 309.9L223.1 308.2L225.8 306.4L228.4 304.7L231.0 303.0L233.6 301.3L236.2 299.6L238.8 297.9L241.4 296.2L244.1 294.5L246.7 292.8L249.3 291.1L251.9 289.4L254.5 287.6L257.1 285.8L259.8 284.1L262.4 282.3L265.0 280.6L267.6 278.8L270.2 277.1L272.9 275.5L275.5 273.8L278.1 272.3L280.7 270.7L283.3 269.3L285.9 267.9L288.6 266.5L291.2 265.2L293.8 263.8L296.4 262.6L299.0 261.3L301.6 260.1L304.2 258.8L306.9 257.7L309.5 256.5L312.1 255.4L314.7 254.3L317.3 253.3L320.0 252.2L322.6 251.3L325.2 250.3L327.8 249.4L330.4 248.6L333.0 247.8L335.6 247.0L338.3 246.2L340.9 245.5L343.5 244.9 M343.5 244.9L346.1 245.5L348.7 246.2L351.4 246.9L354.0 247.6L356.6 248.4L359.2 249.2L361.8 250.1L364.4 251.0L367.1 251.9L369.7 252.9L372.3 253.9L374.9 254.9L377.5 255.9L380.1 257.0L382.8 258.2L385.4 259.3L388.0 260.5L390.6 261.7L393.2 262.9L395.8 264.1L398.4 265.4L401.1 266.7L403.7 268.0L406.3 269.4L408.9 270.8L411.5 272.3L414.2 273.8L416.8 275.3L419.4 276.9L422.0 278.6L424.6 280.2L427.2 281.9L429.9 283.6L432.5 285.3L435.1 287.0L437.7 288.7L440.3 290.4L442.9 292.0L445.6 293.6L448.2 295.3L450.8 296.9L453.4 298.5L456.0 300.2L458.6 301.8L461.2 303.4L463.9 305.1L466.5 306.7L469.1 308.4L471.7 310.1L474.3 311.8L476.9 313.6L479.6 315.3L482.2 317.2L484.8 319.1L487.4 321.1L490.0 323.2L492.6 325.3L495.3 327.5L497.9 329.7L500.5 331.9L503.1 334.0L505.7 336.2L508.3 338.3L511.0 340.3L513.6 342.3L516.2 344.2L518.8 345.9L521.4 347.6L524.0 349.1L526.7 350.5L529.3 351.7L531.9 352.8L534.5 353.8L537.1 354.8L539.8 355.9L542.4 356.8L545.0 357.8L547.6 358.7L550.2 359.5L552.8 360.4L555.5 361.2L558.1 362.0L560.7 362.7L563.3 363.4L565.9 364.1L568.5 364.7L571.2 365.3L573.8 365.9L576.4 366.4L579.0 366.9 M108.0 357.9L110.6 357.4L113.2 356.9L115.8 356.3L118.5 355.7L121.1 355.1L123.7 354.4L126.3 353.8L128.9 353.0L131.6 352.3L134.2 351.5L136.8 350.7L139.4 349.9L142.0 349.0L144.6 348.1L147.2 347.2L149.9 346.2L152.5 345.2L155.1 344.2L157.7 343.1L160.3 341.9L162.9 340.5L165.6 339.0L168.2 337.4L170.8 335.6L173.4 333.8L176.0 332.0L178.6 330.0L181.3 328.1L183.9 326.1L186.5 324.1L189.1 322.1L191.7 320.1L194.3 318.1L197.0 316.2L199.6 314.3L202.2 312.5L204.8 310.8L207.4 309.1L210.1 307.5L212.7 305.9L215.3 304.4L217.9 302.8L220.5 301.3L223.1 299.8L225.8 298.3L228.4 296.8L231.0 295.2L233.6 293.8L236.2 292.3L238.8 290.8L241.4 289.3L244.1 287.7L246.7 286.2L249.3 284.7L251.9 283.1L254.5 281.5L257.1 280.0L259.8 278.4L262.4 276.9L265.0 275.4L267.6 273.9L270.2 272.4L272.9 271.0L275.5 269.6L278.1 268.3L280.7 267.0L283.3 265.8L285.9 264.6L288.6 263.4L291.2 262.2L293.8 261.1L296.4 260.0L299.0 258.9L301.6 257.8L304.2 256.7L306.9 255.7L309.5 254.7L312.1 253.7L314.7 252.8L317.3 251.9L320.0 251.0L322.6 250.1L325.2 249.3L327.8 248.5L330.4 247.8L333.0 247.1L335.6 246.4L338.3 245.8L340.9 245.1L343.5 244.5 M343.5 244.5L346.1 245.1L348.7 245.7L351.4 246.3L354.0 247.0L356.6 247.7L359.2 248.4L361.8 249.1L364.4 249.9L367.1 250.7L369.7 251.5L372.3 252.4L374.9 253.3L377.5 254.2L380.1 255.2L382.8 256.1L385.4 257.1L388.0 258.1L390.6 259.2L393.2 260.3L395.8 261.3L398.4 262.4L401.1 263.6L403.7 264.7L406.3 265.9L408.9 267.0L411.5 268.3L414.2 269.6L416.8 270.9L419.4 272.3L422.0 273.7L424.6 275.1L427.2 276.5L429.9 278.0L432.5 279.5L435.1 281.0L437.7 282.5L440.3 284.0L442.9 285.5L445.6 287.0L448.2 288.4L450.8 289.9L453.4 291.3L456.0 292.8L458.6 294.2L461.2 295.7L463.9 297.1L466.5 298.5L469.1 300.0L471.7 301.5L474.3 302.9L476.9 304.4L479.6 305.9L482.2 307.5L484.8 309.0L487.4 310.6L490.0 312.2L492.6 314.0L495.3 315.7L497.9 317.6L500.5 319.5L503.1 321.4L505.7 323.3L508.3 325.2L511.0 327.2L513.6 329.1L516.2 330.9L518.8 332.8L521.4 334.5L524.0 336.2L526.7 337.9L529.3 339.4L531.9 340.8L534.5 342.1L537.1 343.3L539.8 344.4L542.4 345.3L545.0 346.3L547.6 347.2L550.2 348.1L552.8 348.9L555.5 349.8L558.1 350.6L560.7 351.4L563.3 352.1L565.9 352.8L568.5 353.5L571.2 354.2L573.8 354.9L576.4 355.5L579.0 356.1 M108.0 347.1L110.6 346.5L113.2 345.9L115.8 345.3L118.5 344.6L121.1 343.9L123.7 343.2L126.3 342.5L128.9 341.8L131.6 341.0L134.2 340.2L136.8 339.4L139.4 338.6L142.0 337.7L144.6 336.8L147.2 335.9L149.9 334.8L152.5 333.6L155.1 332.3L157.7 330.8L160.3 329.4L162.9 327.8L165.6 326.2L168.2 324.5L170.8 322.8L173.4 321.1L176.0 319.3L178.6 317.5L181.3 315.8L183.9 314.0L186.5 312.3L189.1 310.6L191.7 308.9L194.3 307.4L197.0 305.8L199.6 304.4L202.2 303.0L204.8 301.6L207.4 300.2L210.1 298.8L212.7 297.5L215.3 296.1L217.9 294.8L220.5 293.5L223.1 292.1L225.8 290.8L228.4 289.5L231.0 288.2L233.6 286.9L236.2 285.5L238.8 284.2L241.4 282.9L244.1 281.5L246.7 280.1L249.3 278.8L251.9 277.4L254.5 276.0L257.1 274.7L259.8 273.3L262.4 272.0L265.0 270.7L267.6 269.4L270.2 268.2L272.9 267.0L275.5 265.8L278.1 264.7L280.7 263.6L283.3 262.6L285.9 261.5L288.6 260.5L291.2 259.5L293.8 258.5L296.4 257.6L299.0 256.6L301.6 255.7L304.2 254.8L306.9 253.9L309.5 253.0L312.1 252.2L314.7 251.4L317.3 250.6L320.0 249.8L322.6 249.1L325.2 248.4L327.8 247.7L330.4 247.1L333.0 246.4L335.6 245.8L338.3 245.3L340.9 244.7L343.5 244.2 M343.5 244.2L346.1 244.7L348.7 245.2L351.4 245.8L354.0 246.3L356.6 246.9L359.2 247.6L361.8 248.2L364.4 248.9L367.1 249.6L369.7 250.3L372.3 251.0L374.9 251.8L377.5 252.6L380.1 253.4L382.8 254.3L385.4 255.1L388.0 256.0L390.6 256.9L393.2 257.8L395.8 258.8L398.4 259.7L401.1 260.7L403.7 261.7L406.3 262.7L408.9 263.7L411.5 264.7L414.2 265.8L416.8 266.9L419.4 268.0L422.0 269.2L424.6 270.4L427.2 271.7L429.9 273.0L432.5 274.2L435.1 275.5L437.7 276.9L440.3 278.2L442.9 279.5L445.6 280.8L448.2 282.1L450.8 283.4L453.4 284.7L456.0 286.0L458.6 287.3L461.2 288.5L463.9 289.8L466.5 291.1L469.1 292.3L471.7 293.6L474.3 294.9L476.9 296.2L479.6 297.5L482.2 298.8L484.8 300.1L487.4 301.4L490.0 302.8L492.6 304.1L495.3 305.5L497.9 306.9L500.5 308.4L503.1 310.0L505.7 311.6L508.3 313.3L511.0 314.9L513.6 316.6L516.2 318.3L518.8 320.0L521.4 321.7L524.0 323.4L526.7 325.0L529.3 326.6L531.9 328.2L534.5 329.7L537.1 331.1L539.8 332.4L542.4 333.7L545.0 334.8L547.6 335.9L550.2 336.8L552.8 337.6L555.5 338.5L558.1 339.3L560.7 340.1L563.3 340.8L565.9 341.6L568.5 342.3L571.2 343.0L573.8 343.7L576.4 344.3L579.0 345.0 M108.0 336.1L110.6 335.5L113.2 334.9L115.8 334.3L118.5 333.6L121.1 332.9L123.7 332.2L126.3 331.5L128.9 330.7L131.6 330.0L134.2 329.2L136.8 328.4L139.4 327.4L142.0 326.3L144.6 325.2L147.2 323.9L149.9 322.7L152.5 321.3L155.1 319.9L157.7 318.4L160.3 316.9L162.9 315.4L165.6 313.9L168.2 312.4L170.8 310.8L173.4 309.3L176.0 307.7L178.6 306.2L181.3 304.8L183.9 303.3L186.5 302.0L189.1 300.6L191.7 299.4L194.3 298.1L197.0 296.9L199.6 295.7L202.2 294.5L204.8 293.3L207.4 292.1L210.1 291.0L212.7 289.8L215.3 288.6L217.9 287.5L220.5 286.3L223.1 285.2L225.8 284.0L228.4 282.9L231.0 281.7L233.6 280.6L236.2 279.4L238.8 278.2L241.4 277.0L244.1 275.8L246.7 274.6L249.3 273.4L251.9 272.2L254.5 271.0L257.1 269.9L259.8 268.7L262.4 267.6L265.0 266.5L267.6 265.4L270.2 264.4L272.9 263.4L275.5 262.4L278.1 261.5L280.7 260.6L283.3 259.7L285.9 258.8L288.6 257.9L291.2 257.1L293.8 256.2L296.4 255.4L299.0 254.6L301.6 253.8L304.2 253.0L306.9 252.2L309.5 251.5L312.1 250.8L314.7 250.1L317.3 249.4L320.0 248.7L322.6 248.1L325.2 247.5L327.8 246.9L330.4 246.4L333.0 245.8L335.6 245.3L338.3 244.8L340.9 244.3L343.5 243.9 M343.5 243.9L346.1 244.3L348.7 244.8L351.4 245.2L354.0 245.7L356.6 246.3L359.2 246.8L361.8 247.3L364.4 247.9L367.1 248.5L369.7 249.1L372.3 249.8L374.9 250.5L377.5 251.1L380.1 251.8L382.8 252.6L385.4 253.3L388.0 254.0L390.6 254.8L393.2 255.6L395.8 256.4L398.4 257.2L401.1 258.1L403.7 258.9L406.3 259.8L408.9 260.6L411.5 261.5L414.2 262.4L416.8 263.3L419.4 264.3L422.0 265.3L424.6 266.3L427.2 267.3L429.9 268.4L432.5 269.5L435.1 270.6L437.7 271.7L440.3 272.9L442.9 274.0L445.6 275.2L448.2 276.3L450.8 277.5L453.4 278.6L456.0 279.8L458.6 280.9L461.2 282.0L463.9 283.1L466.5 284.3L469.1 285.4L471.7 286.5L474.3 287.6L476.9 288.7L479.6 289.8L482.2 290.9L484.8 292.0L487.4 293.2L490.0 294.3L492.6 295.5L495.3 296.6L497.9 297.8L500.5 299.0L503.1 300.2L505.7 301.4L508.3 302.8L511.0 304.1L513.6 305.5L516.2 306.9L518.8 308.4L521.4 309.9L524.0 311.3L526.7 312.8L529.3 314.3L531.9 315.8L534.5 317.2L537.1 318.7L539.8 320.1L542.4 321.4L545.0 322.7L547.6 323.9L550.2 325.1L552.8 326.2L555.5 327.3L558.1 328.2L560.7 329.1L563.3 329.8L565.9 330.5L568.5 331.3L571.2 332.0L573.8 332.6L576.4 333.3L579.0 333.9 M108.0 325.3L110.6 324.7L113.2 324.1L115.8 323.5L118.5 322.8L121.1 322.2L123.7 321.5L126.3 320.7L128.9 319.8L131.6 318.9L134.2 317.9L136.8 316.8L139.4 315.7L142.0 314.5L144.6 313.3L147.2 312.0L149.9 310.7L152.5 309.4L155.1 308.1L157.7 306.7L160.3 305.4L162.9 304.0L165.6 302.7L168.2 301.4L170.8 300.1L173.4 298.8L176.0 297.6L178.6 296.4L181.3 295.3L183.9 294.2L186.5 293.1L189.1 292.1L191.7 291.0L194.3 290.0L197.0 289.0L199.6 287.9L202.2 286.9L204.8 285.9L207.4 284.9L210.1 283.9L212.7 282.9L215.3 281.9L217.9 280.9L220.5 279.9L223.1 278.9L225.8 277.9L228.4 276.8L231.0 275.8L233.6 274.8L236.2 273.7L238.8 272.7L241.4 271.6L244.1 270.6L246.7 269.6L249.3 268.6L251.9 267.5L254.5 266.5L257.1 265.6L259.8 264.6L262.4 263.7L265.0 262.8L267.6 261.9L270.2 261.0L272.9 260.2L275.5 259.4L278.1 258.6L280.7 257.8L283.3 257.1L285.9 256.3L288.6 255.6L291.2 254.8L293.8 254.1L296.4 253.4L299.0 252.7L301.6 252.0L304.2 251.4L306.9 250.7L309.5 250.1L312.1 249.5L314.7 248.9L317.3 248.3L320.0 247.7L322.6 247.2L325.2 246.7L327.8 246.2L330.4 245.7L333.0 245.2L335.6 244.8L338.3 244.4L340.9 243.9L343.5 243.6 M343.5 243.6L346.1 243.9L348.7 244.3L351.4 244.7L354.0 245.2L356.6 245.6L359.2 246.1L361.8 246.5L364.4 247.0L367.1 247.5L369.7 248.1L372.3 248.6L374.9 249.2L377.5 249.8L380.1 250.4L382.8 251.0L385.4 251.6L388.0 252.3L390.6 252.9L393.2 253.6L395.8 254.3L398.4 255.0L401.1 255.7L403.7 256.4L406.3 257.1L408.9 257.9L411.5 258.6L414.2 259.4L416.8 260.1L419.4 260.9L422.0 261.7L424.6 262.6L427.2 263.5L429.9 264.4L432.5 265.3L435.1 266.2L437.7 267.2L440.3 268.1L442.9 269.1L445.6 270.1L448.2 271.1L450.8 272.1L453.4 273.1L456.0 274.1L458.6 275.1L461.2 276.1L463.9 277.1L466.5 278.1L469.1 279.0L471.7 280.0L474.3 281.0L476.9 281.9L479.6 282.9L482.2 283.8L484.8 284.8L487.4 285.8L490.0 286.8L492.6 287.7L495.3 288.7L497.9 289.7L500.5 290.7L503.1 291.7L505.7 292.7L508.3 293.8L511.0 294.8L513.6 295.9L516.2 297.0L518.8 298.1L521.4 299.3L524.0 300.6L526.7 301.8L529.3 303.1L531.9 304.4L534.5 305.6L537.1 306.9L539.8 308.2L542.4 309.5L545.0 310.8L547.6 312.0L550.2 313.2L552.8 314.4L555.5 315.5L558.1 316.6L560.7 317.7L563.3 318.7L565.9 319.6L568.5 320.4L571.2 321.2L573.8 321.9L576.4 322.6L579.0 323.2 M108.0 314.9L110.6 314.3L113.2 313.7L115.8 313.0L118.5 312.2L121.1 311.3L123.7 310.5L126.3 309.5L128.9 308.5L131.6 307.5L134.2 306.4L136.8 305.4L139.4 304.2L142.0 303.1L144.6 302.0L147.2 300.8L149.9 299.6L152.5 298.5L155.1 297.3L157.7 296.2L160.3 295.1L162.9 294.0L165.6 292.9L168.2 291.9L170.8 290.9L173.4 289.9L176.0 289.0L178.6 288.0L181.3 287.1L183.9 286.2L186.5 285.3L189.1 284.4L191.7 283.6L194.3 282.7L197.0 281.8L199.6 280.9L202.2 280.1L204.8 279.2L207.4 278.3L210.1 277.5L212.7 276.6L215.3 275.8L217.9 274.9L220.5 274.0L223.1 273.1L225.8 272.2L228.4 271.3L231.0 270.4L233.6 269.5L236.2 268.6L238.8 267.8L241.4 266.9L244.1 266.0L246.7 265.1L249.3 264.2L251.9 263.4L254.5 262.6L257.1 261.8L259.8 261.0L262.4 260.2L265.0 259.5L267.6 258.7L270.2 258.0L272.9 257.3L275.5 256.7L278.1 256.0L280.7 255.3L283.3 254.7L285.9 254.0L288.6 253.4L291.2 252.8L293.8 252.2L296.4 251.6L299.0 251.0L301.6 250.4L304.2 249.9L306.9 249.3L309.5 248.8L312.1 248.3L314.7 247.8L317.3 247.3L320.0 246.8L322.6 246.3L325.2 245.9L327.8 245.5L330.4 245.1L333.0 244.7L335.6 244.3L338.3 243.9L340.9 243.6L343.5 243.2 M343.5 243.2L346.1 243.6L348.7 243.9L351.4 244.2L354.0 244.6L356.6 245.0L359.2 245.4L361.8 245.8L364.4 246.2L367.1 246.6L369.7 247.1L372.3 247.5L374.9 248.0L377.5 248.5L380.1 249.0L382.8 249.5L385.4 250.1L388.0 250.6L390.6 251.2L393.2 251.7L395.8 252.3L398.4 252.9L401.1 253.5L403.7 254.1L406.3 254.7L408.9 255.4L411.5 256.0L414.2 256.6L416.8 257.3L419.4 258.0L422.0 258.6L424.6 259.3L427.2 260.0L429.9 260.8L432.5 261.5L435.1 262.3L437.7 263.1L440.3 263.9L442.9 264.7L445.6 265.5L448.2 266.4L450.8 267.2L453.4 268.1L456.0 269.0L458.6 269.8L461.2 270.7L463.9 271.6L466.5 272.4L469.1 273.3L471.7 274.1L474.3 275.0L476.9 275.8L479.6 276.6L482.2 277.4L484.8 278.3L487.4 279.1L490.0 279.9L492.6 280.8L495.3 281.6L497.9 282.4L500.5 283.3L503.1 284.1L505.7 285.0L508.3 285.9L511.0 286.7L513.6 287.6L516.2 288.5L518.8 289.4L521.4 290.3L524.0 291.2L526.7 292.2L529.3 293.2L531.9 294.2L534.5 295.3L537.1 296.4L539.8 297.5L542.4 298.6L545.0 299.7L547.6 300.8L550.2 301.9L552.8 303.0L555.5 304.1L558.1 305.2L560.7 306.2L563.3 307.3L565.9 308.3L568.5 309.2L571.2 310.1L573.8 311.0L576.4 311.8L579.0 312.6 M108.0 304.5L110.6 303.8L113.2 303.0L115.8 302.2L118.5 301.3L121.1 300.4L123.7 299.5L126.3 298.6L128.9 297.6L131.6 296.6L134.2 295.7L136.8 294.7L139.4 293.7L142.0 292.7L144.6 291.7L147.2 290.7L149.9 289.8L152.5 288.8L155.1 287.9L157.7 287.0L160.3 286.1L162.9 285.3L165.6 284.5L168.2 283.7L170.8 282.9L173.4 282.2L176.0 281.4L178.6 280.6L181.3 279.9L183.9 279.1L186.5 278.4L189.1 277.6L191.7 276.9L194.3 276.1L197.0 275.4L199.6 274.7L202.2 273.9L204.8 273.2L207.4 272.4L210.1 271.7L212.7 271.0L215.3 270.2L217.9 269.4L220.5 268.7L223.1 267.9L225.8 267.2L228.4 266.4L231.0 265.6L233.6 264.9L236.2 264.1L238.8 263.3L241.4 262.6L244.1 261.9L246.7 261.1L249.3 260.4L251.9 259.7L254.5 259.0L257.1 258.4L259.8 257.7L262.4 257.1L265.0 256.5L267.6 255.9L270.2 255.3L272.9 254.8L275.5 254.2L278.1 253.6L280.7 253.1L283.3 252.5L285.9 252.0L288.6 251.5L291.2 250.9L293.8 250.4L296.4 249.9L299.0 249.4L301.6 249.0L304.2 248.5L306.9 248.0L309.5 247.6L312.1 247.1L314.7 246.7L317.3 246.3L320.0 245.9L322.6 245.5L325.2 245.2L327.8 244.8L330.4 244.5L333.0 244.1L335.6 243.8L338.3 243.5L340.9 243.2L343.5 242.9 M343.5 242.9L346.1 243.2L348.7 243.5L351.4 243.8L354.0 244.1L356.6 244.4L359.2 244.7L361.8 245.1L364.4 245.4L367.1 245.8L369.7 246.2L372.3 246.6L374.9 247.0L377.5 247.4L380.1 247.8L382.8 248.2L385.4 248.7L388.0 249.1L390.6 249.6L393.2 250.1L395.8 250.5L398.4 251.0L401.1 251.5L403.7 252.1L406.3 252.6L408.9 253.1L411.5 253.6L414.2 254.2L416.8 254.7L419.4 255.3L422.0 255.8L424.6 256.4L427.2 257.0L429.9 257.6L432.5 258.2L435.1 258.8L437.7 259.5L440.3 260.1L442.9 260.8L445.6 261.5L448.2 262.2L450.8 262.9L453.4 263.6L456.0 264.4L458.6 265.1L461.2 265.8L463.9 266.6L466.5 267.3L469.1 268.0L471.7 268.8L474.3 269.5L476.9 270.2L479.6 271.0L482.2 271.7L484.8 272.4L487.4 273.1L490.0 273.8L492.6 274.5L495.3 275.2L497.9 275.9L500.5 276.6L503.1 277.4L505.7 278.1L508.3 278.8L511.0 279.5L513.6 280.2L516.2 281.0L518.8 281.7L521.4 282.4L524.0 283.2L526.7 284.0L529.3 284.7L531.9 285.5L534.5 286.3L537.1 287.2L539.8 288.0L542.4 288.9L545.0 289.8L547.6 290.7L550.2 291.7L552.8 292.6L555.5 293.6L558.1 294.5L560.7 295.5L563.3 296.4L565.9 297.4L568.5 298.3L571.2 299.2L573.8 300.1L576.4 300.9L579.0 301.8 M108.0 294.1L110.6 293.3L113.2 292.5L115.8 291.7L118.5 290.9L121.1 290.1L123.7 289.3L126.3 288.4L128.9 287.6L131.6 286.8L134.2 285.9L136.8 285.1L139.4 284.3L142.0 283.5L144.6 282.7L147.2 282.0L149.9 281.2L152.5 280.5L155.1 279.8L157.7 279.1L160.3 278.5L162.9 277.8L165.6 277.2L168.2 276.5L170.8 275.9L173.4 275.2L176.0 274.6L178.6 274.0L181.3 273.3L183.9 272.7L186.5 272.1L189.1 271.5L191.7 270.8L194.3 270.2L197.0 269.6L199.6 269.0L202.2 268.4L204.8 267.7L207.4 267.1L210.1 266.5L212.7 265.8L215.3 265.2L217.9 264.5L220.5 263.9L223.1 263.2L225.8 262.6L228.4 261.9L231.0 261.3L233.6 260.7L236.2 260.0L238.8 259.4L241.4 258.8L244.1 258.2L246.7 257.6L249.3 257.0L251.9 256.5L254.5 255.9L257.1 255.4L259.8 254.9L262.4 254.4L265.0 253.9L267.6 253.4L270.2 252.9L272.9 252.4L275.5 252.0L278.1 251.5L280.7 251.0L283.3 250.6L285.9 250.1L288.6 249.7L291.2 249.3L293.8 248.8L296.4 248.4L299.0 248.0L301.6 247.6L304.2 247.2L306.9 246.9L309.5 246.5L312.1 246.1L314.7 245.8L317.3 245.4L320.0 245.1L322.6 244.8L325.2 244.5L327.8 244.2L330.4 243.9L333.0 243.6L335.6 243.3L338.3 243.1L340.9 242.8L343.5 242.6 M343.5 242.6L346.1 242.8L348.7 243.0L351.4 243.3L354.0 243.6L356.6 243.8L359.2 244.1L361.8 244.4L364.4 244.7L367.1 245.0L369.7 245.3L372.3 245.6L374.9 246.0L377.5 246.3L380.1 246.6L382.8 247.0L385.4 247.4L388.0 247.8L390.6 248.1L393.2 248.5L395.8 248.9L398.4 249.3L401.1 249.8L403.7 250.2L406.3 250.6L408.9 251.0L411.5 251.5L414.2 251.9L416.8 252.4L419.4 252.9L422.0 253.3L424.6 253.8L427.2 254.3L429.9 254.7L432.5 255.2L435.1 255.7L437.7 256.3L440.3 256.8L442.9 257.3L445.6 257.9L448.2 258.5L450.8 259.1L453.4 259.7L456.0 260.3L458.6 260.9L461.2 261.5L463.9 262.1L466.5 262.7L469.1 263.3L471.7 264.0L474.3 264.6L476.9 265.2L479.6 265.8L482.2 266.4L484.8 267.0L487.4 267.7L490.0 268.3L492.6 268.9L495.3 269.5L497.9 270.1L500.5 270.7L503.1 271.3L505.7 271.9L508.3 272.5L511.0 273.1L513.6 273.7L516.2 274.3L518.8 274.9L521.4 275.5L524.0 276.1L526.7 276.7L529.3 277.3L531.9 278.0L534.5 278.6L537.1 279.3L539.8 279.9L542.4 280.6L545.0 281.2L547.6 282.0L550.2 282.7L552.8 283.4L555.5 284.2L558.1 285.0L560.7 285.8L563.3 286.6L565.9 287.4L568.5 288.2L571.2 289.0L573.8 289.8L576.4 290.6L579.0 291.4 M108.0 284.2L110.6 283.5L113.2 282.8L115.8 282.1L118.5 281.5L121.1 280.8L123.7 280.1L126.3 279.4L128.9 278.7L131.6 278.1L134.2 277.4L136.8 276.8L139.4 276.1L142.0 275.6L144.6 275.0L147.2 274.4L149.9 273.9L152.5 273.3L155.1 272.8L157.7 272.2L160.3 271.7L162.9 271.2L165.6 270.6L168.2 270.1L170.8 269.6L173.4 269.0L176.0 268.5L178.6 268.0L181.3 267.5L183.9 267.0L186.5 266.5L189.1 265.9L191.7 265.4L194.3 264.9L197.0 264.4L199.6 263.9L202.2 263.3L204.8 262.8L207.4 262.3L210.1 261.7L212.7 261.2L215.3 260.6L217.9 260.1L220.5 259.6L223.1 259.0L225.8 258.5L228.4 258.0L231.0 257.5L233.6 256.9L236.2 256.4L238.8 255.9L241.4 255.4L244.1 255.0L246.7 254.5L249.3 254.0L251.9 253.6L254.5 253.2L257.1 252.7L259.8 252.3L262.4 251.9L265.0 251.5L267.6 251.1L270.2 250.7L272.9 250.3L275.5 249.9L278.1 249.5L280.7 249.2L283.3 248.8L285.9 248.4L288.6 248.1L291.2 247.7L293.8 247.4L296.4 247.0L299.0 246.7L301.6 246.4L304.2 246.1L306.9 245.8L309.5 245.5L312.1 245.2L314.7 244.9L317.3 244.6L320.0 244.3L322.6 244.1L325.2 243.8L327.8 243.6L330.4 243.3L333.0 243.1L335.6 242.9L338.3 242.6L340.9 242.4L343.5 242.2 M343.5 242.2L346.1 242.4L348.7 242.6L351.4 242.8L354.0 243.1L356.6 243.3L359.2 243.5L361.8 243.7L364.4 244.0L367.1 244.2L369.7 244.5L372.3 244.8L374.9 245.0L377.5 245.3L380.1 245.6L382.8 245.9L385.4 246.2L388.0 246.5L390.6 246.8L393.2 247.1L395.8 247.5L398.4 247.8L401.1 248.1L403.7 248.5L406.3 248.8L408.9 249.2L411.5 249.5L414.2 249.9L416.8 250.3L419.4 250.7L422.0 251.0L424.6 251.4L427.2 251.8L429.9 252.2L432.5 252.6L435.1 253.0L437.7 253.4L440.3 253.8L442.9 254.3L445.6 254.7L448.2 255.2L450.8 255.6L453.4 256.1L456.0 256.6L458.6 257.1L461.2 257.6L463.9 258.1L466.5 258.6L469.1 259.1L471.7 259.6L474.3 260.1L476.9 260.7L479.6 261.2L482.2 261.7L484.8 262.2L487.4 262.7L490.0 263.2L492.6 263.8L495.3 264.3L497.9 264.8L500.5 265.3L503.1 265.8L505.7 266.3L508.3 266.8L511.0 267.2L513.6 267.7L516.2 268.2L518.8 268.7L521.4 269.2L524.0 269.8L526.7 270.3L529.3 270.8L531.9 271.3L534.5 271.8L537.1 272.3L539.8 272.8L542.4 273.4L545.0 273.9L547.6 274.4L550.2 275.0L552.8 275.5L555.5 276.1L558.1 276.7L560.7 277.3L563.3 277.9L565.9 278.5L568.5 279.2L571.2 279.8L573.8 280.5L576.4 281.2L579.0 281.8 M108.0 275.3L110.6 274.7L113.2 274.2L115.8 273.6L118.5 273.1L121.1 272.5L123.7 272.0L126.3 271.5L128.9 271.0L131.6 270.5L134.2 270.0L136.8 269.6L139.4 269.1L142.0 268.7L144.6 268.2L147.2 267.8L149.9 267.3L152.5 266.9L155.1 266.5L157.7 266.0L160.3 265.6L162.9 265.2L165.6 264.8L168.2 264.3L170.8 263.9L173.4 263.5L176.0 263.1L178.6 262.6L181.3 262.2L183.9 261.8L186.5 261.4L189.1 260.9L191.7 260.5L194.3 260.1L197.0 259.7L199.6 259.2L202.2 258.8L204.8 258.3L207.4 257.9L210.1 257.5L212.7 257.0L215.3 256.6L217.9 256.2L220.5 255.7L223.1 255.3L225.8 254.9L228.4 254.4L231.0 254.0L233.6 253.6L236.2 253.2L238.8 252.8L241.4 252.4L244.1 252.1L246.7 251.7L249.3 251.4L251.9 251.0L254.5 250.7L257.1 250.3L259.8 250.0L262.4 249.7L265.0 249.3L267.6 249.0L270.2 248.7L272.9 248.4L275.5 248.1L278.1 247.8L280.7 247.5L283.3 247.2L285.9 246.9L288.6 246.6L291.2 246.3L293.8 246.1L296.4 245.8L299.0 245.5L301.6 245.3L304.2 245.0L306.9 244.7L309.5 244.5L312.1 244.3L314.7 244.0L317.3 243.8L320.0 243.6L322.6 243.4L325.2 243.2L327.8 243.0L330.4 242.8L333.0 242.6L335.6 242.4L338.3 242.2L340.9 242.1L343.5 241.9 M343.5 241.9L346.1 242.1L348.7 242.2L351.4 242.4L354.0 242.6L356.6 242.8L359.2 242.9L361.8 243.1L364.4 243.3L367.1 243.5L369.7 243.7L372.3 243.9L374.9 244.2L377.5 244.4L380.1 244.6L382.8 244.9L385.4 245.1L388.0 245.3L390.6 245.6L393.2 245.9L395.8 246.1L398.4 246.4L401.1 246.7L403.7 246.9L406.3 247.2L408.9 247.5L411.5 247.8L414.2 248.1L416.8 248.4L419.4 248.7L422.0 249.0L424.6 249.3L427.2 249.6L429.9 249.9L432.5 250.2L435.1 250.6L437.7 250.9L440.3 251.2L442.9 251.5L445.6 251.9L448.2 252.2L450.8 252.6L453.4 253.0L456.0 253.4L458.6 253.8L461.2 254.1L463.9 254.5L466.5 254.9L469.1 255.4L471.7 255.8L474.3 256.2L476.9 256.6L479.6 257.0L482.2 257.4L484.8 257.9L487.4 258.3L490.0 258.7L492.6 259.1L495.3 259.6L497.9 260.0L500.5 260.4L503.1 260.8L505.7 261.2L508.3 261.6L511.0 262.0L513.6 262.4L516.2 262.8L518.8 263.2L521.4 263.6L524.0 264.1L526.7 264.5L529.3 264.9L531.9 265.3L534.5 265.7L537.1 266.1L539.8 266.5L542.4 266.9L545.0 267.4L547.6 267.8L550.2 268.2L552.8 268.6L555.5 269.1L558.1 269.5L560.7 269.9L563.3 270.4L565.9 270.9L568.5 271.3L571.2 271.8L573.8 272.3L576.4 272.8L579.0 273.4 M108.0 267.4L110.6 267.0L113.2 266.6L115.8 266.2L118.5 265.8L121.1 265.4L123.7 265.0L126.3 264.6L128.9 264.3L131.6 263.9L134.2 263.6L136.8 263.2L139.4 262.9L142.0 262.5L144.6 262.2L147.2 261.8L149.9 261.5L152.5 261.2L155.1 260.8L157.7 260.5L160.3 260.1L162.9 259.8L165.6 259.5L168.2 259.1L170.8 258.8L173.4 258.5L176.0 258.1L178.6 257.8L181.3 257.5L183.9 257.1L186.5 256.8L189.1 256.4L191.7 256.1L194.3 255.7L197.0 255.4L199.6 255.0L202.2 254.7L204.8 254.4L207.4 254.0L210.1 253.7L212.7 253.3L215.3 253.0L217.9 252.6L220.5 252.3L223.1 252.0L225.8 251.6L228.4 251.3L231.0 251.0L233.6 250.7L236.2 250.4L238.8 250.1L241.4 249.8L244.1 249.5L246.7 249.2L249.3 249.0L251.9 248.7L254.5 248.4L257.1 248.2L259.8 247.9L262.4 247.7L265.0 247.4L267.6 247.1L270.2 246.9L272.9 246.7L275.5 246.4L278.1 246.2L280.7 245.9L283.3 245.7L285.9 245.5L288.6 245.3L291.2 245.0L293.8 244.8L296.4 244.6L299.0 244.4L301.6 244.2L304.2 244.0L306.9 243.8L309.5 243.6L312.1 243.4L314.7 243.3L317.3 243.1L320.0 242.9L322.6 242.7L325.2 242.6L327.8 242.4L330.4 242.3L333.0 242.1L335.6 242.0L338.3 241.8L340.9 241.7L343.5 241.6 M343.5 241.6L346.1 241.7L348.7 241.8L351.4 242.0L354.0 242.1L356.6 242.2L359.2 242.4L361.8 242.5L364.4 242.7L367.1 242.9L369.7 243.0L372.3 243.2L374.9 243.4L377.5 243.5L380.1 243.7L382.8 243.9L385.4 244.1L388.0 244.3L390.6 244.5L393.2 244.7L395.8 244.9L398.4 245.1L401.1 245.3L403.7 245.5L406.3 245.7L408.9 246.0L411.5 246.2L414.2 246.4L416.8 246.6L419.4 246.9L422.0 247.1L424.6 247.3L427.2 247.6L429.9 247.8L432.5 248.1L435.1 248.3L437.7 248.6L440.3 248.9L442.9 249.1L445.6 249.4L448.2 249.6L450.8 249.9L453.4 250.2L456.0 250.5L458.6 250.8L461.2 251.1L463.9 251.4L466.5 251.7L469.1 252.0L471.7 252.3L474.3 252.7L476.9 253.0L479.6 253.3L482.2 253.6L484.8 254.0L487.4 254.3L490.0 254.6L492.6 255.0L495.3 255.3L497.9 255.7L500.5 256.0L503.1 256.3L505.7 256.7L508.3 257.0L511.0 257.3L513.6 257.6L516.2 258.0L518.8 258.3L521.4 258.6L524.0 258.9L526.7 259.2L529.3 259.6L531.9 259.9L534.5 260.2L537.1 260.5L539.8 260.9L542.4 261.2L545.0 261.5L547.6 261.8L550.2 262.2L552.8 262.5L555.5 262.8L558.1 263.2L560.7 263.5L563.3 263.8L565.9 264.2L568.5 264.5L571.2 264.9L573.8 265.2L576.4 265.6L579.0 266.0 M108.0 260.5L110.6 260.2L113.2 260.0L115.8 259.7L118.5 259.4L121.1 259.1L123.7 258.9L126.3 258.6L128.9 258.3L131.6 258.1L134.2 257.8L136.8 257.5L139.4 257.3L142.0 257.0L144.6 256.8L147.2 256.5L149.9 256.3L152.5 256.0L155.1 255.7L157.7 255.5L160.3 255.2L162.9 255.0L165.6 254.7L168.2 254.5L170.8 254.2L173.4 253.9L176.0 253.7L178.6 253.4L181.3 253.2L183.9 252.9L186.5 252.6L189.1 252.4L191.7 252.1L194.3 251.8L197.0 251.6L199.6 251.3L202.2 251.0L204.8 250.8L207.4 250.5L210.1 250.3L212.7 250.0L215.3 249.7L217.9 249.5L220.5 249.2L223.1 249.0L225.8 248.8L228.4 248.5L231.0 248.3L233.6 248.1L236.2 247.8L238.8 247.6L241.4 247.4L244.1 247.2L246.7 247.0L249.3 246.8L251.9 246.6L254.5 246.4L257.1 246.2L259.8 246.0L262.4 245.8L265.0 245.6L267.6 245.4L270.2 245.3L272.9 245.1L275.5 244.9L278.1 244.7L280.7 244.5L283.3 244.4L285.9 244.2L288.6 244.0L291.2 243.9L293.8 243.7L296.4 243.5L299.0 243.4L301.6 243.2L304.2 243.1L306.9 242.9L309.5 242.8L312.1 242.7L314.7 242.5L317.3 242.4L320.0 242.3L322.6 242.1L325.2 242.0L327.8 241.9L330.4 241.8L333.0 241.7L335.6 241.6L338.3 241.5L340.9 241.3L343.5 241.2 M343.5 241.2L346.1 241.3L348.7 241.4L351.4 241.5L354.0 241.6L356.6 241.8L359.2 241.9L361.8 242.0L364.4 242.1L367.1 242.2L369.7 242.3L372.3 242.5L374.9 242.6L377.5 242.7L380.1 242.9L382.8 243.0L385.4 243.1L388.0 243.3L390.6 243.4L393.2 243.6L395.8 243.7L398.4 243.9L401.1 244.0L403.7 244.2L406.3 244.4L408.9 244.5L411.5 244.7L414.2 244.9L416.8 245.1L419.4 245.2L422.0 245.4L424.6 245.6L427.2 245.8L429.9 246.0L432.5 246.1L435.1 246.3L437.7 246.5L440.3 246.7L442.9 246.9L445.6 247.1L448.2 247.3L450.8 247.5L453.4 247.7L456.0 247.9L458.6 248.1L461.2 248.4L463.9 248.6L466.5 248.8L469.1 249.0L471.7 249.3L474.3 249.5L476.9 249.8L479.6 250.0L482.2 250.2L484.8 250.5L487.4 250.8L490.0 251.0L492.6 251.3L495.3 251.5L497.9 251.8L500.5 252.0L503.1 252.3L505.7 252.5L508.3 252.8L511.0 253.0L513.6 253.3L516.2 253.6L518.8 253.8L521.4 254.0L524.0 254.3L526.7 254.5L529.3 254.8L531.9 255.0L534.5 255.3L537.1 255.5L539.8 255.8L542.4 256.0L545.0 256.3L547.6 256.5L550.2 256.8L552.8 257.0L555.5 257.3L558.1 257.5L560.7 257.8L563.3 258.0L565.9 258.3L568.5 258.5L571.2 258.8L573.8 259.0L576.4 259.3L579.0 259.6 M108.0 254.5L110.6 254.3L113.2 254.1L115.8 253.9L118.5 253.7L121.1 253.6L123.7 253.4L126.3 253.2L128.9 253.0L131.6 252.8L134.2 252.6L136.8 252.4L139.4 252.3L142.0 252.1L144.6 251.9L147.2 251.7L149.9 251.5L152.5 251.3L155.1 251.2L157.7 251.0L160.3 250.8L162.9 250.6L165.6 250.4L168.2 250.2L170.8 250.1L173.4 249.9L176.0 249.7L178.6 249.5L181.3 249.3L183.9 249.1L186.5 248.9L189.1 248.7L191.7 248.5L194.3 248.3L197.0 248.2L199.6 248.0L202.2 247.8L204.8 247.6L207.4 247.4L210.1 247.2L212.7 247.0L215.3 246.9L217.9 246.7L220.5 246.5L223.1 246.4L225.8 246.2L228.4 246.0L231.0 245.9L233.6 245.7L236.2 245.6L238.8 245.4L241.4 245.3L244.1 245.1L246.7 245.0L249.3 244.8L251.9 244.7L254.5 244.6L257.1 244.4L259.8 244.3L262.4 244.1L265.0 244.0L267.6 243.9L270.2 243.7L272.9 243.6L275.5 243.5L278.1 243.4L280.7 243.2L283.3 243.1L285.9 243.0L288.6 242.9L291.2 242.8L293.8 242.7L296.4 242.5L299.0 242.4L301.6 242.3L304.2 242.2L306.9 242.1L309.5 242.0L312.1 241.9L314.7 241.8L317.3 241.7L320.0 241.6L322.6 241.5L325.2 241.5L327.8 241.4L330.4 241.3L333.0 241.2L335.6 241.1L338.3 241.1L340.9 241.0L343.5 240.9 M343.5 240.9L346.1 241.0L348.7 241.1L351.4 241.1L354.0 241.2L356.6 241.3L359.2 241.4L361.8 241.4L364.4 241.5L367.1 241.6L369.7 241.7L372.3 241.8L374.9 241.9L377.5 242.0L380.1 242.1L382.8 242.2L385.4 242.3L388.0 242.4L390.6 242.5L393.2 242.6L395.8 242.7L398.4 242.8L401.1 242.9L403.7 243.0L406.3 243.1L408.9 243.2L411.5 243.4L414.2 243.5L416.8 243.6L419.4 243.7L422.0 243.9L424.6 244.0L427.2 244.1L429.9 244.2L432.5 244.4L435.1 244.5L437.7 244.6L440.3 244.8L442.9 244.9L445.6 245.1L448.2 245.2L450.8 245.3L453.4 245.5L456.0 245.6L458.6 245.8L461.2 245.9L463.9 246.1L466.5 246.2L469.1 246.4L471.7 246.5L474.3 246.7L476.9 246.9L479.6 247.0L482.2 247.2L484.8 247.4L487.4 247.6L490.0 247.8L492.6 247.9L495.3 248.1L497.9 248.3L500.5 248.5L503.1 248.7L505.7 248.8L508.3 249.0L511.0 249.2L513.6 249.4L516.2 249.6L518.8 249.8L521.4 249.9L524.0 250.1L526.7 250.3L529.3 250.5L531.9 250.7L534.5 250.8L537.1 251.0L539.8 251.2L542.4 251.4L545.0 251.5L547.6 251.7L550.2 251.9L552.8 252.1L555.5 252.2L558.1 252.4L560.7 252.6L563.3 252.8L565.9 252.9L568.5 253.1L571.2 253.3L573.8 253.5L576.4 253.7L579.0 253.9 M108.0 249.1L110.6 249.0L113.2 248.9L115.8 248.8L118.5 248.7L121.1 248.5L123.7 248.4L126.3 248.3L128.9 248.2L131.6 248.1L134.2 248.0L136.8 247.8L139.4 247.7L142.0 247.6L144.6 247.5L147.2 247.4L149.9 247.3L152.5 247.1L155.1 247.0L157.7 246.9L160.3 246.8L162.9 246.7L165.6 246.5L168.2 246.4L170.8 246.3L173.4 246.2L176.0 246.1L178.6 245.9L181.3 245.8L183.9 245.7L186.5 245.6L189.1 245.5L191.7 245.3L194.3 245.2L197.0 245.1L199.6 245.0L202.2 244.9L204.8 244.8L207.4 244.6L210.1 244.5L212.7 244.4L215.3 244.3L217.9 244.2L220.5 244.1L223.1 244.0L225.8 243.9L228.4 243.8L231.0 243.7L233.6 243.6L236.2 243.5L238.8 243.4L241.4 243.3L244.1 243.2L246.7 243.1L249.3 243.0L251.9 243.0L254.5 242.9L257.1 242.8L259.8 242.7L262.4 242.6L265.0 242.5L267.6 242.4L270.2 242.4L272.9 242.3L275.5 242.2L278.1 242.1L280.7 242.1L283.3 242.0L285.9 241.9L288.6 241.8L291.2 241.8L293.8 241.7L296.4 241.6L299.0 241.5L301.6 241.5L304.2 241.4L306.9 241.3L309.5 241.3L312.1 241.2L314.7 241.2L317.3 241.1L320.0 241.0L322.6 241.0L325.2 240.9L327.8 240.9L330.4 240.8L333.0 240.8L335.6 240.7L338.3 240.7L340.9 240.6L343.5 240.6 M343.5 240.6L346.1 240.6L348.7 240.7L351.4 240.7L354.0 240.8L356.6 240.8L359.2 240.9L361.8 240.9L364.4 241.0L367.1 241.0L369.7 241.1L372.3 241.1L374.9 241.2L377.5 241.3L380.1 241.3L382.8 241.4L385.4 241.4L388.0 241.5L390.6 241.6L393.2 241.6L395.8 241.7L398.4 241.8L401.1 241.8L403.7 241.9L406.3 242.0L408.9 242.1L411.5 242.1L414.2 242.2L416.8 242.3L419.4 242.4L422.0 242.4L424.6 242.5L427.2 242.6L429.9 242.7L432.5 242.8L435.1 242.8L437.7 242.9L440.3 243.0L442.9 243.1L445.6 243.2L448.2 243.3L450.8 243.4L453.4 243.4L456.0 243.5L458.6 243.6L461.2 243.7L463.9 243.8L466.5 243.9L469.1 244.0L471.7 244.1L474.3 244.2L476.9 244.3L479.6 244.4L482.2 244.5L484.8 244.6L487.4 244.7L490.0 244.9L492.6 245.0L495.3 245.1L497.9 245.2L500.5 245.3L503.1 245.4L505.7 245.5L508.3 245.7L511.0 245.8L513.6 245.9L516.2 246.0L518.8 246.1L521.4 246.2L524.0 246.4L526.7 246.5L529.3 246.6L531.9 246.7L534.5 246.8L537.1 246.9L539.8 247.0L542.4 247.1L545.0 247.3L547.6 247.4L550.2 247.5L552.8 247.6L555.5 247.7L558.1 247.8L560.7 247.9L563.3 248.0L565.9 248.2L568.5 248.3L571.2 248.4L573.8 248.5L576.4 248.6L579.0 248.7 M108.0 244.3L110.6 244.2L113.2 244.2L115.8 244.1L118.5 244.1L121.1 244.0L123.7 244.0L126.3 243.9L128.9 243.9L131.6 243.8L134.2 243.7L136.8 243.7L139.4 243.6L142.0 243.6L144.6 243.5L147.2 243.5L149.9 243.4L152.5 243.3L155.1 243.3L157.7 243.2L160.3 243.2L162.9 243.1L165.6 243.1L168.2 243.0L170.8 242.9L173.4 242.9L176.0 242.8L178.6 242.8L181.3 242.7L183.9 242.7L186.5 242.6L189.1 242.5L191.7 242.5L194.3 242.4L197.0 242.4L199.6 242.3L202.2 242.3L204.8 242.2L207.4 242.2L210.1 242.1L212.7 242.1L215.3 242.0L217.9 242.0L220.5 241.9L223.1 241.9L225.8 241.8L228.4 241.8L231.0 241.7L233.6 241.7L236.2 241.6L238.8 241.6L241.4 241.5L244.1 241.5L246.7 241.5L249.3 241.4L251.9 241.4L254.5 241.3L257.1 241.3L259.8 241.3L262.4 241.2L265.0 241.2L267.6 241.1L270.2 241.1L272.9 241.1L275.5 241.0L278.1 241.0L280.7 241.0L283.3 240.9L285.9 240.9L288.6 240.8L291.2 240.8L293.8 240.8L296.4 240.7L299.0 240.7L301.6 240.7L304.2 240.6L306.9 240.6L309.5 240.6L312.1 240.6L314.7 240.5L317.3 240.5L320.0 240.5L322.6 240.4L325.2 240.4L327.8 240.4L330.4 240.4L333.0 240.3L335.6 240.3L338.3 240.3L340.9 240.3L343.5 240.3 M343.5 240.3L346.1 240.3L348.7 240.3L351.4 240.3L354.0 240.3L356.6 240.4L359.2 240.4L361.8 240.4L364.4 240.4L367.1 240.5L369.7 240.5L372.3 240.5L374.9 240.5L377.5 240.6L380.1 240.6L382.8 240.6L385.4 240.7L388.0 240.7L390.6 240.7L393.2 240.8L395.8 240.8L398.4 240.8L401.1 240.8L403.7 240.9L406.3 240.9L408.9 241.0L411.5 241.0L414.2 241.0L416.8 241.1L419.4 241.1L422.0 241.1L424.6 241.2L427.2 241.2L429.9 241.2L432.5 241.3L435.1 241.3L437.7 241.4L440.3 241.4L442.9 241.4L445.6 241.5L448.2 241.5L450.8 241.6L453.4 241.6L456.0 241.7L458.6 241.7L461.2 241.7L463.9 241.8L466.5 241.8L469.1 241.9L471.7 241.9L474.3 242.0L476.9 242.0L479.6 242.1L482.2 242.1L484.8 242.2L487.4 242.2L490.0 242.3L492.6 242.3L495.3 242.4L497.9 242.4L500.5 242.5L503.1 242.5L505.7 242.6L508.3 242.6L511.0 242.7L513.6 242.7L516.2 242.8L518.8 242.9L521.4 242.9L524.0 243.0L526.7 243.0L529.3 243.1L531.9 243.1L534.5 243.2L537.1 243.2L539.8 243.3L542.4 243.4L545.0 243.4L547.6 243.5L550.2 243.5L552.8 243.6L555.5 243.6L558.1 243.7L560.7 243.7L563.3 243.8L565.9 243.8L568.5 243.9L571.2 243.9L573.8 244.0L576.4 244.1L579.0 244.1 M108.0 239.9L110.6 239.9L113.2 239.9L115.8 239.9L118.5 239.9L121.1 239.9L123.7 239.9L126.3 239.9L128.9 239.9L131.6 239.9L134.2 239.9L136.8 239.9L139.4 239.9L142.0 239.9L144.6 239.9L147.2 239.9L149.9 239.9L152.5 239.9L155.1 239.9L157.7 239.9L160.3 239.9L162.9 239.9L165.6 239.9L168.2 239.9L170.8 239.9L173.4 239.9L176.0 239.9L178.6 239.9L181.3 239.9L183.9 239.9L186.5 239.9L189.1 239.9L191.7 239.9L194.3 239.9L197.0 239.9L199.6 239.9L202.2 239.9L204.8 239.9L207.4 239.9L210.1 239.9L212.7 239.9L215.3 239.9L217.9 239.9L220.5 239.9L223.1 239.9L225.8 239.9L228.4 239.9L231.0 239.9L233.6 239.9L236.2 239.9L238.8 239.9L241.4 239.9L244.1 239.9L246.7 239.9L249.3 239.9L251.9 239.9L254.5 239.9L257.1 239.9L259.8 239.9L262.4 239.9L265.0 239.9L267.6 239.9L270.2 239.9L272.9 239.9L275.5 239.9L278.1 239.9L280.7 239.9L283.3 239.9L285.9 239.9L288.6 239.9L291.2 239.9L293.8 239.9L296.4 239.9L299.0 239.9L301.6 239.9L304.2 239.9L306.9 239.9L309.5 239.9L312.1 239.9L314.7 239.9L317.3 239.9L320.0 239.9L322.6 239.9L325.2 239.9L327.8 239.9L330.4 239.9L333.0 239.9L335.6 239.9L338.3 239.9L340.9 239.9L343.5 239.9 M343.5 239.9L346.1 239.9L348.7 239.9L351.4 239.9L354.0 239.9L356.6 239.9L359.2 239.9L361.8 239.9L364.4 239.9L367.1 239.9L369.7 239.9L372.3 239.9L374.9 239.9L377.5 239.9L380.1 239.9L382.8 239.9L385.4 239.9L388.0 239.9L390.6 239.9L393.2 239.9L395.8 239.9L398.4 239.9L401.1 239.9L403.7 239.9L406.3 239.9L408.9 239.9L411.5 239.9L414.2 239.9L416.8 239.9L419.4 239.9L422.0 239.9L424.6 239.9L427.2 239.9L429.9 239.9L432.5 239.9L435.1 239.9L437.7 239.9L440.3 239.9L442.9 239.9L445.6 239.9L448.2 239.9L450.8 239.9L453.4 239.9L456.0 239.9L458.6 239.9L461.2 239.9L463.9 239.9L466.5 239.9L469.1 239.9L471.7 239.9L474.3 239.9L476.9 239.9L479.6 239.9L482.2 239.9L484.8 239.9L487.4 239.9L490.0 239.9L492.6 239.9L495.3 239.9L497.9 239.9L500.5 239.9L503.1 239.9L505.7 239.9L508.3 239.9L511.0 239.9L513.6 239.9L516.2 239.9L518.8 239.9L521.4 239.9L524.0 239.9L526.7 239.9L529.3 239.9L531.9 239.9L534.5 239.9L537.1 239.9L539.8 239.9L542.4 239.9L545.0 239.9L547.6 239.9L550.2 239.9L552.8 239.9L555.5 239.9L558.1 239.9L560.7 239.9L563.3 239.9L565.9 239.9L568.5 239.9L571.2 239.9L573.8 239.9L576.4 239.9L579.0 239.9 M108.0 237.4L110.6 237.4L113.2 237.4L115.8 237.4L118.5 237.5L121.1 237.5L123.7 237.5L126.3 237.5L128.9 237.5L131.6 237.6L134.2 237.6L136.8 237.6L139.4 237.6L142.0 237.6L144.6 237.6L147.2 237.7L149.9 237.7L152.5 237.7L155.1 237.7L157.7 237.7L160.3 237.8L162.9 237.8L165.6 237.8L168.2 237.8L170.8 237.8L173.4 237.8L176.0 237.9L178.6 237.9L181.3 237.9L183.9 237.9L186.5 237.9L189.1 238.0L191.7 238.0L194.3 238.0L197.0 238.0L199.6 238.0L202.2 238.1L204.8 238.1L207.4 238.1L210.1 238.1L212.7 238.1L215.3 238.2L217.9 238.2L220.5 238.2L223.1 238.2L225.8 238.3L228.4 238.3L231.0 238.3L233.6 238.3L236.2 238.3L238.8 238.4L241.4 238.4L244.1 238.4L246.7 238.4L249.3 238.5L251.9 238.5L254.5 238.5L257.1 238.5L259.8 238.6L262.4 238.6L265.0 238.6L267.6 238.6L270.2 238.7L272.9 238.7L275.5 238.7L278.1 238.8L280.7 238.8L283.3 238.8L285.9 238.8L288.6 238.9L291.2 238.9L293.8 238.9L296.4 239.0L299.0 239.0L301.6 239.0L304.2 239.1L306.9 239.1L309.5 239.1L312.1 239.2L314.7 239.2L317.3 239.3L320.0 239.3L322.6 239.3L325.2 239.4L327.8 239.4L330.4 239.5L333.0 239.5L335.6 239.6L338.3 239.7L340.9 239.8L343.5 239.9 M343.5 239.9L346.1 239.8L348.7 239.7L351.4 239.6L354.0 239.5L356.6 239.5L359.2 239.4L361.8 239.4L364.4 239.3L367.1 239.3L369.7 239.3L372.3 239.2L374.9 239.2L377.5 239.1L380.1 239.1L382.8 239.1L385.4 239.0L388.0 239.0L390.6 239.0L393.2 238.9L395.8 238.9L398.4 238.9L401.1 238.8L403.7 238.8L406.3 238.8L408.9 238.8L411.5 238.7L414.2 238.7L416.8 238.7L419.4 238.6L422.0 238.6L424.6 238.6L427.2 238.6L429.9 238.5L432.5 238.5L435.1 238.5L437.7 238.5L440.3 238.4L442.9 238.4L445.6 238.4L448.2 238.4L450.8 238.3L453.4 238.3L456.0 238.3L458.6 238.3L461.2 238.3L463.9 238.2L466.5 238.2L469.1 238.2L471.7 238.2L474.3 238.1L476.9 238.1L479.6 238.1L482.2 238.1L484.8 238.1L487.4 238.0L490.0 238.0L492.6 238.0L495.3 238.0L497.9 238.0L500.5 237.9L503.1 237.9L505.7 237.9L508.3 237.9L511.0 237.9L513.6 237.8L516.2 237.8L518.8 237.8L521.4 237.8L524.0 237.8L526.7 237.8L529.3 237.7L531.9 237.7L534.5 237.7L537.1 237.7L539.8 237.7L542.4 237.6L545.0 237.6L547.6 237.6L550.2 237.6L552.8 237.6L555.5 237.6L558.1 237.5L560.7 237.5L563.3 237.5L565.9 237.5L568.5 237.5L571.2 237.4L573.8 237.4L576.4 237.4L579.0 237.4 M108.0 234.9L110.6 234.9L113.2 234.9L115.8 235.0L118.5 235.0L121.1 235.0L123.7 235.1L126.3 235.1L128.9 235.1L131.6 235.2L134.2 235.2L136.8 235.2L139.4 235.3L142.0 235.3L144.6 235.4L147.2 235.4L149.9 235.4L152.5 235.5L155.1 235.5L157.7 235.5L160.3 235.6L162.9 235.6L165.6 235.6L168.2 235.7L170.8 235.7L173.4 235.8L176.0 235.8L178.6 235.8L181.3 235.9L183.9 235.9L186.5 236.0L189.1 236.0L191.7 236.0L194.3 236.1L197.0 236.1L199.6 236.2L202.2 236.2L204.8 236.2L207.4 236.3L210.1 236.3L212.7 236.4L215.3 236.4L217.9 236.5L220.5 236.5L223.1 236.5L225.8 236.6L228.4 236.6L231.0 236.7L233.6 236.7L236.2 236.8L238.8 236.8L241.4 236.9L244.1 236.9L246.7 237.0L249.3 237.0L251.9 237.1L254.5 237.1L257.1 237.2L259.8 237.2L262.4 237.3L265.0 237.3L267.6 237.4L270.2 237.4L272.9 237.5L275.5 237.5L278.1 237.6L280.7 237.6L283.3 237.7L285.9 237.8L288.6 237.8L291.2 237.9L293.8 237.9L296.4 238.0L299.0 238.1L301.6 238.1L304.2 238.2L306.9 238.3L309.5 238.3L312.1 238.4L314.7 238.5L317.3 238.6L320.0 238.7L322.6 238.7L325.2 238.8L327.8 238.9L330.4 239.0L333.0 239.1L335.6 239.3L338.3 239.4L340.9 239.6L343.5 239.9 M343.5 239.9L346.1 239.6L348.7 239.4L351.4 239.3L354.0 239.1L356.6 239.0L359.2 238.9L361.8 238.8L364.4 238.7L367.1 238.7L369.7 238.6L372.3 238.5L374.9 238.4L377.5 238.3L380.1 238.3L382.8 238.2L385.4 238.1L388.0 238.1L390.6 238.0L393.2 237.9L395.8 237.9L398.4 237.8L401.1 237.8L403.7 237.7L406.3 237.6L408.9 237.6L411.5 237.5L414.2 237.5L416.8 237.4L419.4 237.4L422.0 237.3L424.6 237.3L427.2 237.2L429.9 237.2L432.5 237.1L435.1 237.1L437.7 237.0L440.3 237.0L442.9 236.9L445.6 236.9L448.2 236.8L450.8 236.8L453.4 236.7L456.0 236.7L458.6 236.6L461.2 236.6L463.9 236.5L466.5 236.5L469.1 236.5L471.7 236.4L474.3 236.4L476.9 236.3L479.6 236.3L482.2 236.2L484.8 236.2L487.4 236.2L490.0 236.1L492.6 236.1L495.3 236.0L497.9 236.0L500.5 236.0L503.1 235.9L505.7 235.9L508.3 235.8L511.0 235.8L513.6 235.8L516.2 235.7L518.8 235.7L521.4 235.6L524.0 235.6L526.7 235.6L529.3 235.5L531.9 235.5L534.5 235.5L537.1 235.4L539.8 235.4L542.4 235.4L545.0 235.3L547.6 235.3L550.2 235.2L552.8 235.2L555.5 235.2L558.1 235.1L560.7 235.1L563.3 235.1L565.9 235.0L568.5 235.0L571.2 235.0L573.8 234.9L576.4 234.9L579.0 234.9 M108.0 232.3L110.6 232.4L113.2 232.4L115.8 232.5L118.5 232.5L121.1 232.6L123.7 232.6L126.3 232.7L128.9 232.7L131.6 232.8L134.2 232.8L136.8 232.9L139.4 233.0L142.0 233.0L144.6 233.1L147.2 233.1L149.9 233.2L152.5 233.2L155.1 233.3L157.7 233.3L160.3 233.4L162.9 233.5L165.6 233.5L168.2 233.6L170.8 233.6L173.4 233.7L176.0 233.7L178.6 233.8L181.3 233.9L183.9 233.9L186.5 234.0L189.1 234.0L191.7 234.1L194.3 234.2L197.0 234.2L199.6 234.3L202.2 234.3L204.8 234.4L207.4 234.5L210.1 234.5L212.7 234.6L215.3 234.7L217.9 234.7L220.5 234.8L223.1 234.9L225.8 234.9L228.4 235.0L231.0 235.1L233.6 235.1L236.2 235.2L238.8 235.3L241.4 235.3L244.1 235.4L246.7 235.5L249.3 235.5L251.9 235.6L254.5 235.7L257.1 235.8L259.8 235.8L262.4 235.9L265.0 236.0L267.6 236.1L270.2 236.2L272.9 236.2L275.5 236.3L278.1 236.4L280.7 236.5L283.3 236.6L285.9 236.7L288.6 236.8L291.2 236.8L293.8 236.9L296.4 237.0L299.0 237.1L301.6 237.2L304.2 237.3L306.9 237.4L309.5 237.6L312.1 237.7L314.7 237.8L317.3 237.9L320.0 238.0L322.6 238.2L325.2 238.3L327.8 238.4L330.4 238.6L333.0 238.8L335.6 238.9L338.3 239.2L340.9 239.4L343.5 239.9 M343.5 239.9L346.1 239.4L348.7 239.2L351.4 238.9L354.0 238.8L356.6 238.6L359.2 238.4L361.8 238.3L364.4 238.2L367.1 238.0L369.7 237.9L372.3 237.8L374.9 237.7L377.5 237.6L380.1 237.4L382.8 237.3L385.4 237.2L388.0 237.1L390.6 237.0L393.2 236.9L395.8 236.8L398.4 236.8L401.1 236.7L403.7 236.6L406.3 236.5L408.9 236.4L411.5 236.3L414.2 236.2L416.8 236.2L419.4 236.1L422.0 236.0L424.6 235.9L427.2 235.8L429.9 235.8L432.5 235.7L435.1 235.6L437.7 235.5L440.3 235.5L442.9 235.4L445.6 235.3L448.2 235.3L450.8 235.2L453.4 235.1L456.0 235.1L458.6 235.0L461.2 234.9L463.9 234.9L466.5 234.8L469.1 234.7L471.7 234.7L474.3 234.6L476.9 234.5L479.6 234.5L482.2 234.4L484.8 234.3L487.4 234.3L490.0 234.2L492.6 234.2L495.3 234.1L497.9 234.0L500.5 234.0L503.1 233.9L505.7 233.9L508.3 233.8L511.0 233.7L513.6 233.7L516.2 233.6L518.8 233.6L521.4 233.5L524.0 233.5L526.7 233.4L529.3 233.3L531.9 233.3L534.5 233.2L537.1 233.2L539.8 233.1L542.4 233.1L545.0 233.0L547.6 233.0L550.2 232.9L552.8 232.8L555.5 232.8L558.1 232.7L560.7 232.7L563.3 232.6L565.9 232.6L568.5 232.5L571.2 232.5L573.8 232.4L576.4 232.4L579.0 232.3 M108.0 229.8L110.6 229.9L113.2 229.9L115.8 230.0L118.5 230.1L121.1 230.1L123.7 230.2L126.3 230.3L128.9 230.3L131.6 230.4L134.2 230.5L136.8 230.6L139.4 230.6L142.0 230.7L144.6 230.8L147.2 230.8L149.9 230.9L152.5 231.0L155.1 231.1L157.7 231.1L160.3 231.2L162.9 231.3L165.6 231.4L168.2 231.4L170.8 231.5L173.4 231.6L176.0 231.7L178.6 231.8L181.3 231.8L183.9 231.9L186.5 232.0L189.1 232.1L191.7 232.1L194.3 232.2L197.0 232.3L199.6 232.4L202.2 232.5L204.8 232.6L207.4 232.6L210.1 232.7L212.7 232.8L215.3 232.9L217.9 233.0L220.5 233.1L223.1 233.2L225.8 233.2L228.4 233.3L231.0 233.4L233.6 233.5L236.2 233.6L238.8 233.7L241.4 233.8L244.1 233.9L246.7 234.0L249.3 234.1L251.9 234.2L254.5 234.3L257.1 234.4L259.8 234.5L262.4 234.6L265.0 234.7L267.6 234.8L270.2 234.9L272.9 235.0L275.5 235.1L278.1 235.2L280.7 235.3L283.3 235.5L285.9 235.6L288.6 235.7L291.2 235.8L293.8 235.9L296.4 236.1L299.0 236.2L301.6 236.3L304.2 236.5L306.9 236.6L309.5 236.8L312.1 236.9L314.7 237.1L317.3 237.2L320.0 237.4L322.6 237.6L325.2 237.7L327.8 237.9L330.4 238.1L333.0 238.4L335.6 238.6L338.3 238.9L340.9 239.2L343.5 239.9 M343.5 239.9L346.1 239.2L348.7 238.9L351.4 238.6L354.0 238.4L356.6 238.1L359.2 237.9L361.8 237.7L364.4 237.6L367.1 237.4L369.7 237.2L372.3 237.1L374.9 236.9L377.5 236.8L380.1 236.6L382.8 236.5L385.4 236.3L388.0 236.2L390.6 236.1L393.2 235.9L395.8 235.8L398.4 235.7L401.1 235.6L403.7 235.5L406.3 235.3L408.9 235.2L411.5 235.1L414.2 235.0L416.8 234.9L419.4 234.8L422.0 234.7L424.6 234.6L427.2 234.5L429.9 234.4L432.5 234.3L435.1 234.2L437.7 234.1L440.3 234.0L442.9 233.9L445.6 233.8L448.2 233.7L450.8 233.6L453.4 233.5L456.0 233.4L458.6 233.3L461.2 233.2L463.9 233.2L466.5 233.1L469.1 233.0L471.7 232.9L474.3 232.8L476.9 232.7L479.6 232.6L482.2 232.6L484.8 232.5L487.4 232.4L490.0 232.3L492.6 232.2L495.3 232.1L497.9 232.1L500.5 232.0L503.1 231.9L505.7 231.8L508.3 231.8L511.0 231.7L513.6 231.6L516.2 231.5L518.8 231.4L521.4 231.4L524.0 231.3L526.7 231.2L529.3 231.1L531.9 231.1L534.5 231.0L537.1 230.9L539.8 230.8L542.4 230.8L545.0 230.7L547.6 230.6L550.2 230.6L552.8 230.5L555.5 230.4L558.1 230.3L560.7 230.3L563.3 230.2L565.9 230.1L568.5 230.1L571.2 230.0L573.8 229.9L576.4 229.9L579.0 229.8 M108.0 418.0L108.5 411.3L109.1 404.6L109.6 397.9L110.1 391.2L110.7 384.4L111.2 377.7L111.8 371.0L112.3 364.3L112.8 357.6L113.4 350.9L113.9 344.2L114.4 337.5L115.0 330.7L115.5 324.0L116.0 317.3L116.6 310.6L117.1 303.9L117.6 297.2L118.2 290.5L118.7 283.8L119.3 277.0L119.8 270.3L120.3 263.6L120.9 256.9L121.4 250.2L121.9 243.5L122.5 236.8L123.0 230.1L123.5 223.3L124.1 216.6L124.6 209.9L125.2 203.2L125.7 196.5L126.2 189.8L126.8 183.1L127.3 176.4L127.8 169.6L128.4 162.9L128.9 156.2L129.4 149.5 M579.0 418.0L578.5 411.3L577.9 404.6L577.4 397.9L576.9 391.2L576.3 384.4L575.8 377.7L575.2 371.0L574.7 364.3L574.2 357.6L573.6 350.9L573.1 344.2L572.6 337.5L572.0 330.7L571.5 324.0L571.0 317.3L570.4 310.6L569.9 303.9L569.4 297.2L568.8 290.5L568.3 283.8L567.7 277.0L567.2 270.3L566.7 263.6L566.1 256.9L565.6 250.2L565.1 243.5L564.5 236.8L564.0 230.1L563.5 223.3L562.9 216.6L562.4 209.9L561.8 203.2L561.3 196.5L560.8 189.8L560.2 183.1L559.7 176.4L559.2 169.6L558.6 162.9L558.1 156.2L557.6 149.5 M108.0 418.0L108.8 411.3L109.5 404.6L110.3 397.9L111.0 391.2L111.8 384.4L112.6 377.7L113.3 371.0L114.1 364.3L114.8 357.6L115.6 350.9L116.4 344.2L117.1 337.5L117.9 330.7L118.6 324.0L119.4 317.3L120.2 310.6L120.9 303.9L121.7 297.2L122.4 290.5L123.2 283.8L124.0 277.0L124.7 270.3L125.5 263.6L126.2 256.9L127.0 250.2L127.8 243.5L128.5 236.8L129.3 230.1L130.0 223.3L130.8 216.6L131.6 209.9L132.3 203.2L133.1 196.5L133.8 189.8L134.6 183.1L135.4 176.4L136.1 169.6L136.9 162.9L137.6 156.2L138.4 149.5 M579.0 418.0L578.2 411.3L577.5 404.6L576.7 397.9L576.0 391.2L575.2 384.4L574.4 377.7L573.7 371.0L572.9 364.3L572.2 357.6L571.4 350.9L570.6 344.2L569.9 337.5L569.1 330.7L568.4 324.0L567.6 317.3L566.8 310.6L566.1 303.9L565.3 297.2L564.6 290.5L563.8 283.8L563.0 277.0L562.3 270.3L561.5 263.6L560.8 256.9L560.0 250.2L559.2 243.5L558.5 236.8L557.7 230.1L557.0 223.3L556.2 216.6L555.4 209.9L554.7 203.2L553.9 196.5L553.2 189.8L552.4 183.1L551.6 176.4L550.9 169.6L550.1 162.9L549.4 156.2L548.6 149.5 M108.0 418.0L108.8 411.3L109.7 404.6L110.5 397.9L111.4 391.2L112.2 384.4L113.1 377.7L113.9 371.0L114.8 364.3L115.6 357.6L116.5 350.9L117.3 344.2L118.2 337.5L119.0 330.7L119.9 324.0L120.7 317.3L121.6 310.6L122.4 303.9L123.3 297.2L124.1 290.5L125.0 283.8L125.8 277.0L126.7 270.3L127.5 263.6L128.4 256.9L129.2 250.2L130.1 243.5L130.9 236.8L131.7 230.1L132.6 223.3L133.4 216.6L134.3 209.9L135.1 203.2L136.0 196.5L136.8 189.8L137.7 183.1L138.5 176.4L139.4 169.6L140.2 162.9L141.1 156.2L141.9 149.5 M579.0 418.0L578.2 411.3L577.3 404.6L576.5 397.9L575.6 391.2L574.8 384.4L573.9 377.7L573.1 371.0L572.2 364.3L571.4 357.6L570.5 350.9L569.7 344.2L568.8 337.5L568.0 330.7L567.1 324.0L566.3 317.3L565.4 310.6L564.6 303.9L563.7 297.2L562.9 290.5L562.0 283.8L561.2 277.0L560.3 270.3L559.5 263.6L558.6 256.9L557.8 250.2L556.9 243.5L556.1 236.8L555.3 230.1L554.4 223.3L553.6 216.6L552.7 209.9L551.9 203.2L551.0 196.5L550.2 189.8L549.3 183.1L548.5 176.4L547.6 169.6L546.8 162.9L545.9 156.2L545.1 149.5 M108.0 418.0L109.4 411.3L110.7 404.6L112.1 397.9L113.4 391.2L114.8 384.4L116.2 377.7L117.5 371.0L118.9 364.3L120.2 357.6L121.6 350.9L123.0 344.2L124.3 337.5L125.7 330.7L127.0 324.0L128.4 317.3L129.8 310.6L131.1 303.9L132.5 297.2L133.8 290.5L135.2 283.8L136.6 277.0L137.9 270.3L139.3 263.6L140.6 256.9L142.0 250.2L143.4 243.5L144.7 236.8L146.1 230.1L147.4 223.3L148.8 216.6L150.2 209.9L151.5 203.2L152.9 196.5L154.2 189.8L155.6 183.1L157.0 176.4L158.3 169.6L159.7 162.9L161.0 156.2L162.4 149.5 M579.0 418.0L577.6 411.3L576.3 404.6L574.9 397.9L573.6 391.2L572.2 384.4L570.8 377.7L569.5 371.0L568.1 364.3L566.8 357.6L565.4 350.9L564.0 344.2L562.7 337.5L561.3 330.7L560.0 324.0L558.6 317.3L557.2 310.6L555.9 303.9L554.5 297.2L553.2 290.5L551.8 283.8L550.4 277.0L549.1 270.3L547.7 263.6L546.4 256.9L545.0 250.2L543.6 243.5L542.3 236.8L540.9 230.1L539.6 223.3L538.2 216.6L536.8 209.9L535.5 203.2L534.1 196.5L532.8 189.8L531.4 183.1L530.0 176.4L528.7 169.6L527.3 162.9L526.0 156.2L524.6 149.5 M108.0 418.0L109.5 411.3L111.1 404.6L112.6 397.9L114.2 391.2L115.7 384.4L117.3 377.7L118.8 371.0L120.4 364.3L121.9 357.6L123.4 350.9L125.0 344.2L126.5 337.5L128.1 330.7L129.6 324.0L131.2 317.3L132.7 310.6L134.3 303.9L135.8 297.2L137.3 290.5L138.9 283.8L140.4 277.0L142.0 270.3L143.5 263.6L145.1 256.9L146.6 250.2L148.1 243.5L149.7 236.8L151.2 230.1L152.8 223.3L154.3 216.6L155.9 209.9L157.4 203.2L159.0 196.5L160.5 189.8L162.0 183.1L163.6 176.4L165.1 169.6L166.7 162.9L168.2 156.2L169.8 149.5 M579.0 418.0L577.5 411.3L575.9 404.6L574.4 397.9L572.8 391.2L571.3 384.4L569.7 377.7L568.2 371.0L566.6 364.3L565.1 357.6L563.6 350.9L562.0 344.2L560.5 337.5L558.9 330.7L557.4 324.0L555.8 317.3L554.3 310.6L552.7 303.9L551.2 297.2L549.7 290.5L548.1 283.8L546.6 277.0L545.0 270.3L543.5 263.6L541.9 256.9L540.4 250.2L538.9 243.5L537.3 236.8L535.8 230.1L534.2 223.3L532.7 216.6L531.1 209.9L529.6 203.2L528.0 196.5L526.5 189.8L525.0 183.1L523.4 176.4L521.9 169.6L520.3 162.9L518.8 156.2L517.2 149.5 M108.0 418.0L109.6 411.3L111.2 404.6L112.9 397.9L114.5 391.2L116.1 384.4L117.7 377.7L119.4 371.0L121.0 364.3L122.6 357.6L124.2 350.9L125.9 344.2L127.5 337.5L129.1 330.7L130.7 324.0L132.4 317.3L134.0 310.6L135.6 303.9L137.2 297.2L138.9 290.5L140.5 283.8L142.1 277.0L143.7 270.3L145.4 263.6L147.0 256.9L148.6 250.2L150.2 243.5L151.9 236.8L153.5 230.1L155.1 223.3L156.7 216.6L158.4 209.9L160.0 203.2L161.6 196.5L163.2 189.8L164.8 183.1L166.5 176.4L168.1 169.6L169.7 162.9L171.3 156.2L173.0 149.5 M579.0 418.0L577.4 411.3L575.8 404.6L574.1 397.9L572.5 391.2L570.9 384.4L569.3 377.7L567.6 371.0L566.0 364.3L564.4 357.6L562.8 350.9L561.1 344.2L559.5 337.5L557.9 330.7L556.3 324.0L554.6 317.3L553.0 310.6L551.4 303.9L549.8 297.2L548.1 290.5L546.5 283.8L544.9 277.0L543.3 270.3L541.6 263.6L540.0 256.9L538.4 250.2L536.8 243.5L535.1 236.8L533.5 230.1L531.9 223.3L530.3 216.6L528.6 209.9L527.0 203.2L525.4 196.5L523.8 189.8L522.2 183.1L520.5 176.4L518.9 169.6L517.3 162.9L515.7 156.2L514.0 149.5 M108.0 418.0L110.0 411.3L112.0 404.6L114.0 397.9L115.9 391.2L117.9 384.4L119.9 377.7L121.9 371.0L123.9 364.3L125.9 357.6L127.8 350.9L129.8 344.2L131.8 337.5L133.8 330.7L135.8 324.0L137.8 317.3L139.7 310.6L141.7 303.9L143.7 297.2L145.7 290.5L147.7 283.8L149.7 277.0L151.7 270.3L153.6 263.6L155.6 256.9L157.6 250.2L159.6 243.5L161.6 236.8L163.6 230.1L165.5 223.3L167.5 216.6L169.5 209.9L171.5 203.2L173.5 196.5L175.5 189.8L177.4 183.1L179.4 176.4L181.4 169.6L183.4 162.9L185.4 156.2L187.4 149.5 M579.0 418.0L577.0 411.3L575.0 404.6L573.0 397.9L571.1 391.2L569.1 384.4L567.1 377.7L565.1 371.0L563.1 364.3L561.1 357.6L559.2 350.9L557.2 344.2L555.2 337.5L553.2 330.7L551.2 324.0L549.2 317.3L547.3 310.6L545.3 303.9L543.3 297.2L541.3 290.5L539.3 283.8L537.3 277.0L535.3 270.3L533.4 263.6L531.4 256.9L529.4 250.2L527.4 243.5L525.4 236.8L523.4 230.1L521.5 223.3L519.5 216.6L517.5 209.9L515.5 203.2L513.5 196.5L511.5 189.8L509.6 183.1L507.6 176.4L505.6 169.6L503.6 162.9L501.6 156.2L499.6 149.5 M108.0 418.0L110.3 411.3L112.5 404.6L114.8 397.9L117.1 391.2L119.4 384.4L121.6 377.7L123.9 371.0L126.2 364.3L128.5 357.6L130.7 350.9L133.0 344.2L135.3 337.5L137.5 330.7L139.8 324.0L142.1 317.3L144.4 310.6L146.6 303.9L148.9 297.2L151.2 290.5L153.4 283.8L155.7 277.0L158.0 270.3L160.3 263.6L162.5 256.9L164.8 250.2L167.1 243.5L169.4 236.8L171.6 230.1L173.9 223.3L176.2 216.6L178.4 209.9L180.7 203.2L183.0 196.5L185.3 189.8L187.5 183.1L189.8 176.4L192.1 169.6L194.3 162.9L196.6 156.2L198.9 149.5 M579.0 418.0L576.7 411.3L574.5 404.6L572.2 397.9L569.9 391.2L567.6 384.4L565.4 377.7L563.1 371.0L560.8 364.3L558.5 357.6L556.3 350.9L554.0 344.2L551.7 337.5L549.5 330.7L547.2 324.0L544.9 317.3L542.6 310.6L540.4 303.9L538.1 297.2L535.8 290.5L533.6 283.8L531.3 277.0L529.0 270.3L526.7 263.6L524.5 256.9L522.2 250.2L519.9 243.5L517.6 236.8L515.4 230.1L513.1 223.3L510.8 216.6L508.6 209.9L506.3 203.2L504.0 196.5L501.7 189.8L499.5 183.1L497.2 176.4L494.9 169.6L492.7 162.9L490.4 156.2L488.1 149.5 M108.0 418.0L110.3 411.3L112.6 404.6L115.0 397.9L117.3 391.2L119.6 384.4L121.9 377.7L124.2 371.0L126.6 364.3L128.9 357.6L131.2 350.9L133.5 344.2L135.8 337.5L138.2 330.7L140.5 324.0L142.8 317.3L145.1 310.6L147.4 303.9L149.8 297.2L152.1 290.5L154.4 283.8L156.7 277.0L159.0 270.3L161.4 263.6L163.7 256.9L166.0 250.2L168.3 243.5L170.6 236.8L173.0 230.1L175.3 223.3L177.6 216.6L179.9 209.9L182.2 203.2L184.6 196.5L186.9 189.8L189.2 183.1L191.5 176.4L193.9 169.6L196.2 162.9L198.5 156.2L200.8 149.5 M579.0 418.0L576.7 411.3L574.4 404.6L572.0 397.9L569.7 391.2L567.4 384.4L565.1 377.7L562.8 371.0L560.4 364.3L558.1 357.6L555.8 350.9L553.5 344.2L551.2 337.5L548.8 330.7L546.5 324.0L544.2 317.3L541.9 310.6L539.6 303.9L537.2 297.2L534.9 290.5L532.6 283.8L530.3 277.0L528.0 270.3L525.6 263.6L523.3 256.9L521.0 250.2L518.7 243.5L516.4 236.8L514.0 230.1L511.7 223.3L509.4 216.6L507.1 209.9L504.8 203.2L502.4 196.5L500.1 189.8L497.8 183.1L495.5 176.4L493.1 169.6L490.8 162.9L488.5 156.2L486.2 149.5 M108.0 418.0L110.8 411.3L113.5 404.6L116.3 397.9L119.1 391.2L121.8 384.4L124.6 377.7L127.4 371.0L130.1 364.3L132.9 357.6L135.7 350.9L138.5 344.2L141.2 337.5L144.0 330.7L146.8 324.0L149.5 317.3L152.3 310.6L155.1 303.9L157.8 297.2L160.6 290.5L163.4 283.8L166.1 277.0L168.9 270.3L171.7 263.6L174.4 256.9L177.2 250.2L180.0 243.5L182.7 236.8L185.5 230.1L188.3 223.3L191.0 216.6L193.8 209.9L196.6 203.2L199.4 196.5L202.1 189.8L204.9 183.1L207.7 176.4L210.4 169.6L213.2 162.9L216.0 156.2L218.7 149.5 M579.0 418.0L576.2 411.3L573.5 404.6L570.7 397.9L567.9 391.2L565.2 384.4L562.4 377.7L559.6 371.0L556.9 364.3L554.1 357.6L551.3 350.9L548.5 344.2L545.8 337.5L543.0 330.7L540.2 324.0L537.5 317.3L534.7 310.6L531.9 303.9L529.2 297.2L526.4 290.5L523.6 283.8L520.9 277.0L518.1 270.3L515.3 263.6L512.6 256.9L509.8 250.2L507.0 243.5L504.3 236.8L501.5 230.1L498.7 223.3L496.0 216.6L493.2 209.9L490.4 203.2L487.6 196.5L484.9 189.8L482.1 183.1L479.3 176.4L476.6 169.6L473.8 162.9L471.0 156.2L468.3 149.5 M108.0 418.0L111.1 411.3L114.1 404.6L117.2 397.9L120.2 391.2L123.3 384.4L126.3 377.7L129.4 371.0L132.5 364.3L135.5 357.6L138.6 350.9L141.6 344.2L144.7 337.5L147.7 330.7L150.8 324.0L153.8 317.3L156.9 310.6L160.0 303.9L163.0 297.2L166.1 290.5L169.1 283.8L172.2 277.0L175.2 270.3L178.3 263.6L181.4 256.9L184.4 250.2L187.5 243.5L190.5 236.8L193.6 230.1L196.6 223.3L199.7 216.6L202.7 209.9L205.8 203.2L208.9 196.5L211.9 189.8L215.0 183.1L218.0 176.4L221.1 169.6L224.1 162.9L227.2 156.2L230.3 149.5 M579.0 418.0L575.9 411.3L572.9 404.6L569.8 397.9L566.8 391.2L563.7 384.4L560.7 377.7L557.6 371.0L554.5 364.3L551.5 357.6L548.4 350.9L545.4 344.2L542.3 337.5L539.3 330.7L536.2 324.0L533.2 317.3L530.1 310.6L527.0 303.9L524.0 297.2L520.9 290.5L517.9 283.8L514.8 277.0L511.8 270.3L508.7 263.6L505.6 256.9L502.6 250.2L499.5 243.5L496.5 236.8L493.4 230.1L490.4 223.3L487.3 216.6L484.3 209.9L481.2 203.2L478.1 196.5L475.1 189.8L472.0 183.1L469.0 176.4L465.9 169.6L462.9 162.9L459.8 156.2L456.7 149.5 M108.0 418.0L111.6 411.3L115.1 404.6L118.7 397.9L122.2 391.2L125.8 384.4L129.4 377.7L132.9 371.0L136.5 364.3L140.0 357.6L143.6 350.9L147.2 344.2L150.7 337.5L154.3 330.7L157.8 324.0L161.4 317.3L165.0 310.6L168.5 303.9L172.1 297.2L175.6 290.5L179.2 283.8L182.8 277.0L186.3 270.3L189.9 263.6L193.5 256.9L197.0 250.2L200.6 243.5L204.1 236.8L207.7 230.1L211.3 223.3L214.8 216.6L218.4 209.9L221.9 203.2L225.5 196.5L229.1 189.8L232.6 183.1L236.2 176.4L239.7 169.6L243.3 162.9L246.9 156.2L250.4 149.5 M579.0 418.0L575.4 411.3L571.9 404.6L568.3 397.9L564.8 391.2L561.2 384.4L557.6 377.7L554.1 371.0L550.5 364.3L547.0 357.6L543.4 350.9L539.8 344.2L536.3 337.5L532.7 330.7L529.2 324.0L525.6 317.3L522.0 310.6L518.5 303.9L514.9 297.2L511.4 290.5L507.8 283.8L504.2 277.0L500.7 270.3L497.1 263.6L493.5 256.9L490.0 250.2L486.4 243.5L482.9 236.8L479.3 230.1L475.7 223.3L472.2 216.6L468.6 209.9L465.1 203.2L461.5 196.5L457.9 189.8L454.4 183.1L450.8 176.4L447.3 169.6L443.7 162.9L440.1 156.2L436.6 149.5 M108.0 223.0L110.3 223.0L112.6 223.0L114.8 223.0L117.1 223.0L119.4 223.0L121.7 223.0L124.0 223.0L126.2 223.0L128.5 223.0L130.8 223.0L133.1 223.0L135.4 223.0L137.6 223.0L139.9 223.0L142.2 223.0L144.5 223.0L146.8 223.0L149.0 223.0L151.3 223.0L153.6 223.0L155.9 223.0L158.2 223.0L160.4 223.0L162.7 223.0L165.0 223.0L167.3 223.0L169.6 223.0L171.8 223.0L174.1 223.0L176.4 223.0L178.7 223.0L180.9 222.9L183.2 222.7L185.5 222.4L187.8 222.1L190.1 221.6L192.3 221.1L194.6 220.6L196.9 220.1L199.2 219.5L201.5 218.9L203.7 218.4L206.0 217.9L208.3 217.5L210.6 217.1L212.9 216.9L215.1 216.7L217.4 216.6L219.7 216.6L222.0 216.6 M579.0 223.0L576.7 223.0L574.4 223.0L572.2 223.0L569.9 223.0L567.6 223.0L565.3 223.0L563.0 223.0L560.8 223.0L558.5 223.0L556.2 223.0L553.9 223.0L551.6 223.0L549.4 223.0L547.1 223.0L544.8 223.0L542.5 223.0L540.2 223.0L538.0 223.0L535.7 223.0L533.4 223.0L531.1 223.0L528.8 223.0L526.6 223.0L524.3 223.0L522.0 223.0L519.7 223.0L517.4 223.0L515.2 223.0L512.9 223.0L510.6 223.0L508.3 223.0L506.1 222.9L503.8 222.7L501.5 222.4L499.2 222.1L496.9 221.6L494.7 221.1L492.4 220.6L490.1 220.1L487.8 219.5L485.5 218.9L483.3 218.4L481.0 217.9L478.7 217.5L476.4 217.1L474.1 216.9L471.9 216.7L469.6 216.6L467.3 216.6L465.0 216.6 M108.0 211.8L111.5 211.8L115.0 211.8L118.5 211.8L121.9 211.8L125.4 211.8L128.9 211.8L132.4 211.8L135.9 211.8L139.4 211.8L142.9 211.8L146.3 211.8L149.8 211.8L153.3 211.8L156.8 211.8L160.3 211.8L163.8 211.8L167.3 211.8L170.7 211.8L174.2 211.8L177.7 211.8L181.2 211.8L184.7 211.8L188.2 211.8L191.6 211.8L195.1 211.8L198.6 211.8L202.1 211.8L205.6 211.8L209.1 211.8L212.6 211.8L216.0 211.8L219.5 211.7L223.0 211.2L226.5 210.4L230.0 209.4L233.5 208.1L237.0 206.7L240.4 205.2L243.9 203.6L247.4 202.0L250.9 200.3L254.4 198.7L257.9 197.3L261.4 195.9L264.8 194.7L268.3 193.7L271.8 193.0L275.3 192.6L278.8 192.6L282.3 192.6 M579.0 211.8L575.5 211.8L572.0 211.8L568.5 211.8L565.1 211.8L561.6 211.8L558.1 211.8L554.6 211.8L551.1 211.8L547.6 211.8L544.1 211.8L540.7 211.8L537.2 211.8L533.7 211.8L530.2 211.8L526.7 211.8L523.2 211.8L519.7 211.8L516.3 211.8L512.8 211.8L509.3 211.8L505.8 211.8L502.3 211.8L498.8 211.8L495.4 211.8L491.9 211.8L488.4 211.8L484.9 211.8L481.4 211.8L477.9 211.8L474.4 211.8L471.0 211.8L467.5 211.7L464.0 211.2L460.5 210.4L457.0 209.4L453.5 208.1L450.0 206.7L446.6 205.2L443.1 203.6L439.6 202.0L436.1 200.3L432.6 198.7L429.1 197.3L425.6 195.9L422.2 194.7L418.7 193.7L415.2 193.0L411.7 192.6L408.2 192.6L404.7 192.6 M108.0 206.5L110.2 206.5L112.4 206.5L114.6 206.5L116.9 206.5L119.1 206.5L121.3 206.5L123.5 206.5L125.7 206.5L127.9 206.5L130.1 206.5L132.4 206.5L134.6 206.5L136.8 206.5L139.0 206.5L141.2 206.5L143.4 206.5L145.6 206.5L147.8 206.5L150.1 206.5L152.3 206.5L154.5 206.5L156.7 206.5L158.9 206.3L161.1 206.1L163.3 205.8L165.6 205.3L167.8 204.8L170.0 204.3L172.2 203.7L174.4 203.0L176.6 202.3L178.8 201.5L181.1 200.8L183.3 200.0L185.5 199.2L187.7 198.4L189.9 197.6L192.1 196.9L194.3 196.2L196.5 195.5L198.8 194.9L201.0 194.3L203.2 193.8L205.4 193.4L207.6 193.0L209.8 192.8L212.0 192.6L214.3 192.6L216.5 192.6L218.7 192.6 M579.0 206.5L576.8 206.5L574.6 206.5L572.4 206.5L570.1 206.5L567.9 206.5L565.7 206.5L563.5 206.5L561.3 206.5L559.1 206.5L556.9 206.5L554.6 206.5L552.4 206.5L550.2 206.5L548.0 206.5L545.8 206.5L543.6 206.5L541.4 206.5L539.2 206.5L536.9 206.5L534.7 206.5L532.5 206.5L530.3 206.5L528.1 206.3L525.9 206.1L523.7 205.8L521.4 205.3L519.2 204.8L517.0 204.3L514.8 203.7L512.6 203.0L510.4 202.3L508.2 201.5L505.9 200.8L503.7 200.0L501.5 199.2L499.3 198.4L497.1 197.6L494.9 196.9L492.7 196.2L490.5 195.5L488.2 194.9L486.0 194.3L483.8 193.8L481.6 193.4L479.4 193.0L477.2 192.8L475.0 192.6L472.7 192.6L470.5 192.6L468.3 192.6 M108.0 201.4L109.5 201.4L111.0 201.4L112.5 201.4L114.0 201.4L115.5 201.4L117.0 201.4L118.6 201.4L120.1 201.4L121.6 201.4L123.1 201.3L124.6 201.3L126.1 201.1L127.6 201.0L129.1 200.8L130.6 200.6L132.1 200.4L133.6 200.2L135.1 199.9L136.6 199.7L138.1 199.4L139.7 199.1L141.2 198.8L142.7 198.5L144.2 198.1L145.7 197.8L147.2 197.5L148.7 197.1L150.2 196.8L151.7 196.4L153.2 196.1L154.7 195.8L156.2 195.4L157.7 195.1L159.2 194.8L160.8 194.5L162.3 194.2L163.8 194.0L165.3 193.7L166.8 193.5L168.3 193.3L169.8 193.1L171.3 192.9L172.8 192.8L174.3 192.7L175.8 192.6L177.3 192.6L178.8 192.6L180.3 192.6L181.9 192.6L183.4 192.6 M579.0 201.4L577.5 201.4L576.0 201.4L574.5 201.4L573.0 201.4L571.5 201.4L570.0 201.4L568.4 201.4L566.9 201.4L565.4 201.4L563.9 201.3L562.4 201.3L560.9 201.1L559.4 201.0L557.9 200.8L556.4 200.6L554.9 200.4L553.4 200.2L551.9 199.9L550.4 199.7L548.9 199.4L547.3 199.1L545.8 198.8L544.3 198.5L542.8 198.1L541.3 197.8L539.8 197.5L538.3 197.1L536.8 196.8L535.3 196.4L533.8 196.1L532.3 195.8L530.8 195.4L529.3 195.1L527.8 194.8L526.2 194.5L524.7 194.2L523.2 194.0L521.7 193.7L520.2 193.5L518.7 193.3L517.2 193.1L515.7 192.9L514.2 192.8L512.7 192.7L511.2 192.6L509.7 192.6L508.2 192.6L506.7 192.6L505.1 192.6L503.6 192.6 M108.0 148.7L111.9 148.7L115.8 148.5L119.8 148.3L123.7 148.0L127.6 147.7L131.6 147.2L135.5 146.8L139.4 146.3L143.3 145.8L147.2 145.2L151.2 144.7L155.1 144.1L159.0 143.6L162.9 143.1L166.9 142.6L170.8 142.2L174.7 141.9L178.6 141.6L182.6 141.3L186.5 141.2L190.4 141.1L194.3 141.1L198.3 141.1L202.2 141.1L206.1 141.1L210.1 141.1L214.0 141.1L217.9 141.1L221.8 141.1L225.8 141.1L229.7 141.1L233.6 141.1L237.5 141.1L241.4 141.1L245.4 141.1L249.3 141.1L253.2 141.1L257.1 141.1L261.1 141.1L265.0 141.1L268.9 141.1L272.9 141.1L276.8 141.1L280.7 141.1L284.6 141.1L288.6 141.1L292.5 141.1L296.4 141.1L300.3 141.1L304.2 141.1L308.2 141.1L312.1 141.1L316.0 141.1L320.0 141.1L323.9 141.1L327.8 141.1L331.7 141.1L335.6 141.1L339.6 141.1L343.5 141.1L347.4 141.1L351.4 141.1L355.3 141.1L359.2 141.1L363.1 141.1L367.1 141.1L371.0 141.1L374.9 141.1L378.8 141.1L382.8 141.1L386.7 141.1L390.6 141.1L394.5 141.1L398.4 141.1L402.4 141.1L406.3 141.1L410.2 141.1L414.2 141.1L418.1 141.1L422.0 141.1L425.9 141.1L429.9 141.1L433.8 141.1L437.7 141.1L441.6 141.1L445.6 141.1L449.5 141.1L453.4 141.1L457.3 141.1L461.2 141.1L465.2 141.1L469.1 141.1L473.0 141.1L476.9 141.1L480.9 141.1L484.8 141.1L488.7 141.1L492.6 141.1L496.6 141.1L500.5 141.2L504.4 141.3L508.3 141.6L512.3 141.9L516.2 142.2L520.1 142.6L524.0 143.1L528.0 143.6L531.9 144.1L535.8 144.7L539.8 145.2L543.7 145.8L547.6 146.3L551.5 146.8L555.5 147.2L559.4 147.7L563.3 148.0L567.2 148.3L571.1 148.5L575.1 148.7L579.0 148.7 M108.0 151.3L111.9 151.2L115.8 151.1L119.8 150.9L123.7 150.6L127.6 150.2L131.6 149.8L135.5 149.3L139.4 148.8L143.3 148.3L147.2 147.7L151.2 147.2L155.1 146.7L159.0 146.1L162.9 145.6L166.9 145.2L170.8 144.8L174.7 144.4L178.6 144.1L182.6 143.9L186.5 143.7L190.4 143.7L194.3 143.7L198.3 143.7L202.2 143.7L206.1 143.7L210.1 143.7L214.0 143.7L217.9 143.7L221.8 143.7L225.8 143.7L229.7 143.7L233.6 143.7L237.5 143.7L241.4 143.7L245.4 143.7L249.3 143.7L253.2 143.7L257.1 143.7L261.1 143.7L265.0 143.7L268.9 143.7L272.9 143.7L276.8 143.7L280.7 143.7L284.6 143.7L288.6 143.7L292.5 143.7L296.4 143.7L300.3 143.7L304.2 143.7L308.2 143.7L312.1 143.7L316.0 143.7L320.0 143.7L323.9 143.7L327.8 143.7L331.7 143.7L335.6 143.7L339.6 143.7L343.5 143.7L347.4 143.7L351.4 143.7L355.3 143.7L359.2 143.7L363.1 143.7L367.1 143.7L371.0 143.7L374.9 143.7L378.8 143.7L382.8 143.7L386.7 143.7L390.6 143.7L394.5 143.7L398.4 143.7L402.4 143.7L406.3 143.7L410.2 143.7L414.2 143.7L418.1 143.7L422.0 143.7L425.9 143.7L429.9 143.7L433.8 143.7L437.7 143.7L441.6 143.7L445.6 143.7L449.5 143.7L453.4 143.7L457.3 143.7L461.2 143.7L465.2 143.7L469.1 143.7L473.0 143.7L476.9 143.7L480.9 143.7L484.8 143.7L488.7 143.7L492.6 143.7L496.6 143.7L500.5 143.7L504.4 143.9L508.3 144.1L512.3 144.4L516.2 144.8L520.1 145.2L524.0 145.6L528.0 146.1L531.9 146.7L535.8 147.2L539.8 147.7L543.7 148.3L547.6 148.8L551.5 149.3L555.5 149.8L559.4 150.2L563.3 150.6L567.2 150.9L571.1 151.1L575.1 151.2L579.0 151.3 M108.0 153.8L111.9 153.8L115.8 153.6L119.8 153.4L123.7 153.1L127.6 152.7L131.6 152.3L135.5 151.8L139.4 151.3L143.3 150.8L147.2 150.3L151.2 149.7L155.1 149.2L159.0 148.7L162.9 148.2L166.9 147.7L170.8 147.3L174.7 146.9L178.6 146.6L182.6 146.4L186.5 146.3L190.4 146.2L194.3 146.2L198.3 146.2L202.2 146.2L206.1 146.2L210.1 146.2L214.0 146.2L217.9 146.2L221.8 146.2L225.8 146.2L229.7 146.2L233.6 146.2L237.5 146.2L241.4 146.2L245.4 146.2L249.3 146.2L253.2 146.2L257.1 146.2L261.1 146.2L265.0 146.2L268.9 146.2L272.9 146.2L276.8 146.2L280.7 146.2L284.6 146.2L288.6 146.2L292.5 146.2L296.4 146.2L300.3 146.2L304.2 146.2L308.2 146.2L312.1 146.2L316.0 146.2L320.0 146.2L323.9 146.2L327.8 146.2L331.7 146.2L335.6 146.2L339.6 146.2L343.5 146.2L347.4 146.2L351.4 146.2L355.3 146.2L359.2 146.2L363.1 146.2L367.1 146.2L371.0 146.2L374.9 146.2L378.8 146.2L382.8 146.2L386.7 146.2L390.6 146.2L394.5 146.2L398.4 146.2L402.4 146.2L406.3 146.2L410.2 146.2L414.2 146.2L418.1 146.2L422.0 146.2L425.9 146.2L429.9 146.2L433.8 146.2L437.7 146.2L441.6 146.2L445.6 146.2L449.5 146.2L453.4 146.2L457.3 146.2L461.2 146.2L465.2 146.2L469.1 146.2L473.0 146.2L476.9 146.2L480.9 146.2L484.8 146.2L488.7 146.2L492.6 146.2L496.6 146.2L500.5 146.3L504.4 146.4L508.3 146.6L512.3 146.9L516.2 147.3L520.1 147.7L524.0 148.2L528.0 148.7L531.9 149.2L535.8 149.7L539.8 150.3L543.7 150.8L547.6 151.3L551.5 151.8L555.5 152.3L559.4 152.7L563.3 153.1L567.2 153.4L571.1 153.6L575.1 153.8L579.0 153.8 M108.0 194.6L111.9 194.6L115.8 194.6L119.8 194.6L123.7 194.6L127.6 194.6L131.6 194.6L135.5 194.6L139.4 194.6L143.3 194.6L147.2 194.6L151.2 194.6L155.1 194.6L159.0 194.6L162.9 194.6L166.9 194.6L170.8 194.6L174.7 194.6L178.6 194.6L182.6 194.6L186.5 194.6L190.4 194.6L194.3 194.6L198.3 194.6L202.2 194.6L206.1 194.6L210.1 194.6L214.0 194.6L217.9 194.6L221.8 194.6L225.8 194.6L229.7 194.6L233.6 194.6L237.5 194.6L241.4 194.6L245.4 194.7L249.3 194.8L253.2 194.9L257.1 195.0L261.1 195.1L265.0 195.3L268.9 195.4L272.9 195.6L276.8 195.7L280.7 195.9L284.6 196.1L288.6 196.3L292.5 196.5L296.4 196.7L300.3 196.9L304.2 197.1L308.2 197.3L312.1 197.6L316.0 197.8L320.0 198.1L323.9 198.3L327.8 198.6L331.7 198.8L335.6 199.1L339.6 199.4L343.5 199.7L347.4 199.4L351.4 199.1L355.3 198.8L359.2 198.6L363.1 198.3L367.1 198.1L371.0 197.8L374.9 197.6L378.8 197.3L382.8 197.1L386.7 196.9L390.6 196.7L394.5 196.5L398.4 196.3L402.4 196.1L406.3 195.9L410.2 195.7L414.2 195.6L418.1 195.4L422.0 195.3L425.9 195.1L429.9 195.0L433.8 194.9L437.7 194.8L441.6 194.7L445.6 194.6L449.5 194.6L453.4 194.6L457.3 194.6L461.2 194.6L465.2 194.6L469.1 194.6L473.0 194.6L476.9 194.6L480.9 194.6L484.8 194.6L488.7 194.6L492.6 194.6L496.6 194.6L500.5 194.6L504.4 194.6L508.3 194.6L512.3 194.6L516.2 194.6L520.1 194.6L524.0 194.6L528.0 194.6L531.9 194.6L535.8 194.6L539.8 194.6L543.7 194.6L547.6 194.6L551.5 194.6L555.5 194.6L559.4 194.6L563.3 194.6L567.2 194.6L571.1 194.6L575.1 194.6L579.0 194.6 M108.0 192.1L111.9 192.1L115.8 192.1L119.8 192.1L123.7 192.1L127.6 192.1L131.6 192.1L135.5 192.1L139.4 192.1L143.3 192.1L147.2 192.1L151.2 192.1L155.1 192.1L159.0 192.1L162.9 192.1L166.9 192.1L170.8 192.1L174.7 192.1L178.6 192.1L182.6 192.1L186.5 192.1L190.4 192.1L194.3 192.1L198.3 192.1L202.2 192.1L206.1 192.1L210.1 192.1L214.0 192.1L217.9 192.1L221.8 192.1L225.8 192.1L229.7 192.1L233.6 192.1L237.5 192.1L241.4 192.1L245.4 192.2L249.3 192.2L253.2 192.3L257.1 192.5L261.1 192.6L265.0 192.7L268.9 192.9L272.9 193.0L276.8 193.2L280.7 193.4L284.6 193.6L288.6 193.7L292.5 193.9L296.4 194.2L300.3 194.4L304.2 194.6L308.2 194.8L312.1 195.0L316.0 195.3L320.0 195.5L323.9 195.8L327.8 196.0L331.7 196.3L335.6 196.6L339.6 196.8L343.5 197.1L347.4 196.8L351.4 196.6L355.3 196.3L359.2 196.0L363.1 195.8L367.1 195.5L371.0 195.3L374.9 195.0L378.8 194.8L382.8 194.6L386.7 194.4L390.6 194.2L394.5 193.9L398.4 193.7L402.4 193.6L406.3 193.4L410.2 193.2L414.2 193.0L418.1 192.9L422.0 192.7L425.9 192.6L429.9 192.5L433.8 192.3L437.7 192.2L441.6 192.2L445.6 192.1L449.5 192.1L453.4 192.1L457.3 192.1L461.2 192.1L465.2 192.1L469.1 192.1L473.0 192.1L476.9 192.1L480.9 192.1L484.8 192.1L488.7 192.1L492.6 192.1L496.6 192.1L500.5 192.1L504.4 192.1L508.3 192.1L512.3 192.1L516.2 192.1L520.1 192.1L524.0 192.1L528.0 192.1L531.9 192.1L535.8 192.1L539.8 192.1L543.7 192.1L547.6 192.1L551.5 192.1L555.5 192.1L559.4 192.1L563.3 192.1L567.2 192.1L571.1 192.1L575.1 192.1L579.0 192.1 M108.0 189.5L111.9 189.5L115.8 189.5L119.8 189.5L123.7 189.5L127.6 189.5L131.6 189.5L135.5 189.5L139.4 189.5L143.3 189.5L147.2 189.5L151.2 189.5L155.1 189.5L159.0 189.5L162.9 189.5L166.9 189.5L170.8 189.5L174.7 189.5L178.6 189.5L182.6 189.5L186.5 189.5L190.4 189.5L194.3 189.5L198.3 189.5L202.2 189.5L206.1 189.5L210.1 189.5L214.0 189.5L217.9 189.5L221.8 189.5L225.8 189.5L229.7 189.5L233.6 189.5L237.5 189.5L241.4 189.6L245.4 189.6L249.3 189.7L253.2 189.8L257.1 189.9L261.1 190.1L265.0 190.2L268.9 190.3L272.9 190.5L276.8 190.7L280.7 190.8L284.6 191.0L288.6 191.2L292.5 191.4L296.4 191.6L300.3 191.8L304.2 192.1L308.2 192.3L312.1 192.5L316.0 192.8L320.0 193.0L323.9 193.2L327.8 193.5L331.7 193.8L335.6 194.0L339.6 194.3L343.5 194.6L347.4 194.3L351.4 194.0L355.3 193.8L359.2 193.5L363.1 193.2L367.1 193.0L371.0 192.8L374.9 192.5L378.8 192.3L382.8 192.1L386.7 191.8L390.6 191.6L394.5 191.4L398.4 191.2L402.4 191.0L406.3 190.8L410.2 190.7L414.2 190.5L418.1 190.3L422.0 190.2L425.9 190.1L429.9 189.9L433.8 189.8L437.7 189.7L441.6 189.6L445.6 189.6L449.5 189.5L453.4 189.5L457.3 189.5L461.2 189.5L465.2 189.5L469.1 189.5L473.0 189.5L476.9 189.5L480.9 189.5L484.8 189.5L488.7 189.5L492.6 189.5L496.6 189.5L500.5 189.5L504.4 189.5L508.3 189.5L512.3 189.5L516.2 189.5L520.1 189.5L524.0 189.5L528.0 189.5L531.9 189.5L535.8 189.5L539.8 189.5L543.7 189.5L547.6 189.5L551.5 189.5L555.5 189.5L559.4 189.5L563.3 189.5L567.2 189.5L571.1 189.5L575.1 189.5L579.0 189.5 M108.0 120.4L111.7 120.4L115.3 120.3L119.0 120.2L122.6 120.1L126.3 120.0L129.9 119.8L133.6 119.7L137.2 119.5L140.9 119.2L144.5 119.0L148.2 118.7L151.8 118.5L155.5 118.2L159.1 117.9L162.8 117.6L166.4 117.3L170.1 116.9L173.7 116.6L177.4 116.3L181.0 115.9L184.7 115.6L188.3 115.3L192.0 114.9L195.6 114.6L199.3 114.3L202.9 114.0L206.6 113.7L210.2 113.4L213.9 113.1L217.5 112.9L221.2 112.7L224.8 112.4L228.5 112.2L232.1 112.0L235.8 111.9L239.4 111.8L243.1 111.6L246.7 111.6L250.4 111.5L254.0 111.5 M579.0 120.4L575.3 120.4L571.7 120.3L568.0 120.2L564.4 120.1L560.7 120.0L557.1 119.8L553.4 119.7L549.8 119.5L546.1 119.2L542.5 119.0L538.8 118.7L535.2 118.5L531.5 118.2L527.9 117.9L524.2 117.6L520.6 117.3L516.9 116.9L513.3 116.6L509.6 116.3L506.0 115.9L502.3 115.6L498.7 115.3L495.0 114.9L491.4 114.6L487.7 114.3L484.1 114.0L480.4 113.7L476.8 113.4L473.1 113.1L469.5 112.9L465.8 112.7L462.2 112.4L458.5 112.2L454.9 112.0L451.2 111.9L447.6 111.8L443.9 111.6L440.3 111.6L436.6 111.5L433.0 111.5 M108.0 118.3L111.7 118.2L115.3 118.2L119.0 118.1L122.6 118.1L126.3 118.0L129.9 117.8L133.6 117.7L137.2 117.5L140.9 117.4L144.5 117.2L148.2 117.0L151.8 116.8L155.5 116.6L159.1 116.4L162.8 116.1L166.4 115.9L170.1 115.6L173.7 115.4L177.4 115.1L181.0 114.9L184.7 114.6L188.3 114.4L192.0 114.1L195.6 113.9L199.3 113.6L202.9 113.4L206.6 113.2L210.2 113.0L213.9 112.8L217.5 112.6L221.2 112.4L224.8 112.2L228.5 112.1L232.1 111.9L235.8 111.8L239.4 111.7L243.1 111.6L246.7 111.6L250.4 111.5L254.0 111.5 M579.0 118.3L575.3 118.2L571.7 118.2L568.0 118.1L564.4 118.1L560.7 118.0L557.1 117.8L553.4 117.7L549.8 117.5L546.1 117.4L542.5 117.2L538.8 117.0L535.2 116.8L531.5 116.6L527.9 116.4L524.2 116.1L520.6 115.9L516.9 115.6L513.3 115.4L509.6 115.1L506.0 114.9L502.3 114.6L498.7 114.4L495.0 114.1L491.4 113.9L487.7 113.6L484.1 113.4L480.4 113.2L476.8 113.0L473.1 112.8L469.5 112.6L465.8 112.4L462.2 112.2L458.5 112.1L454.9 111.9L451.2 111.8L447.6 111.7L443.9 111.6L440.3 111.6L436.6 111.5L433.0 111.5 M108.0 116.1L111.7 116.1L115.3 116.1L119.0 116.1L122.6 116.0L126.3 115.9L129.9 115.8L133.6 115.8L137.2 115.6L140.9 115.5L144.5 115.4L148.2 115.3L151.8 115.1L155.5 115.0L159.1 114.8L162.8 114.7L166.4 114.5L170.1 114.3L173.7 114.2L177.4 114.0L181.0 113.8L184.7 113.6L188.3 113.5L192.0 113.3L195.6 113.1L199.3 113.0L202.9 112.8L206.6 112.7L210.2 112.5L213.9 112.4L217.5 112.2L221.2 112.1L224.8 112.0L228.5 111.9L232.1 111.8L235.8 111.7L239.4 111.6L243.1 111.6L246.7 111.5L250.4 111.5L254.0 111.5 M579.0 116.1L575.3 116.1L571.7 116.1L568.0 116.1L564.4 116.0L560.7 115.9L557.1 115.8L553.4 115.8L549.8 115.6L546.1 115.5L542.5 115.4L538.8 115.3L535.2 115.1L531.5 115.0L527.9 114.8L524.2 114.7L520.6 114.5L516.9 114.3L513.3 114.2L509.6 114.0L506.0 113.8L502.3 113.6L498.7 113.5L495.0 113.3L491.4 113.1L487.7 113.0L484.1 112.8L480.4 112.7L476.8 112.5L473.1 112.4L469.5 112.2L465.8 112.1L462.2 112.0L458.5 111.9L454.9 111.8L451.2 111.7L447.6 111.6L443.9 111.6L440.3 111.5L436.6 111.5L433.0 111.5 M108.0 114.0L111.7 114.0L115.3 114.0L119.0 114.0L122.6 113.9L126.3 113.9L129.9 113.9L133.6 113.8L137.2 113.7L140.9 113.7L144.5 113.6L148.2 113.5L151.8 113.5L155.5 113.4L159.1 113.3L162.8 113.2L166.4 113.1L170.1 113.0L173.7 112.9L177.4 112.9L181.0 112.8L184.7 112.7L188.3 112.6L192.0 112.5L195.6 112.4L199.3 112.3L202.9 112.2L206.6 112.1L210.2 112.0L213.9 112.0L217.5 111.9L221.2 111.8L224.8 111.8L228.5 111.7L232.1 111.7L235.8 111.6L239.4 111.6L243.1 111.5L246.7 111.5L250.4 111.5L254.0 111.5 M579.0 114.0L575.3 114.0L571.7 114.0L568.0 114.0L564.4 113.9L560.7 113.9L557.1 113.9L553.4 113.8L549.8 113.7L546.1 113.7L542.5 113.6L538.8 113.5L535.2 113.5L531.5 113.4L527.9 113.3L524.2 113.2L520.6 113.1L516.9 113.0L513.3 112.9L509.6 112.9L506.0 112.8L502.3 112.7L498.7 112.6L495.0 112.5L491.4 112.4L487.7 112.3L484.1 112.2L480.4 112.1L476.8 112.0L473.1 112.0L469.5 111.9L465.8 111.8L462.2 111.8L458.5 111.7L454.9 111.7L451.2 111.6L447.6 111.6L443.9 111.5L440.3 111.5L436.6 111.5L433.0 111.5 M108.0 111.9L111.7 111.9L115.3 111.9L119.0 111.9L122.6 111.9L126.3 111.9L129.9 111.9L133.6 111.9L137.2 111.8L140.9 111.8L144.5 111.8L148.2 111.8L151.8 111.8L155.5 111.8L159.1 111.8L162.8 111.8L166.4 111.8L170.1 111.7L173.7 111.7L177.4 111.7L181.0 111.7L184.7 111.7L188.3 111.7L192.0 111.7L195.6 111.6L199.3 111.6L202.9 111.6L206.6 111.6L210.2 111.6L213.9 111.6L217.5 111.6L221.2 111.6L224.8 111.5L228.5 111.5L232.1 111.5L235.8 111.5L239.4 111.5L243.1 111.5L246.7 111.5L250.4 111.5L254.0 111.5 M579.0 111.9L575.3 111.9L571.7 111.9L568.0 111.9L564.4 111.9L560.7 111.9L557.1 111.9L553.4 111.9L549.8 111.8L546.1 111.8L542.5 111.8L538.8 111.8L535.2 111.8L531.5 111.8L527.9 111.8L524.2 111.8L520.6 111.8L516.9 111.7L513.3 111.7L509.6 111.7L506.0 111.7L502.3 111.7L498.7 111.7L495.0 111.7L491.4 111.6L487.7 111.6L484.1 111.6L480.4 111.6L476.8 111.6L473.1 111.6L469.5 111.6L465.8 111.6L462.2 111.5L458.5 111.5L454.9 111.5L451.2 111.5L447.6 111.5L443.9 111.5L440.3 111.5L436.6 111.5L433.0 111.5 M108.0 109.8L111.7 109.8L115.3 109.8L119.0 109.8L122.6 109.8L126.3 109.8L129.9 109.9L133.6 109.9L137.2 109.9L140.9 110.0L144.5 110.0L148.2 110.1L151.8 110.1L155.5 110.2L159.1 110.3L162.8 110.3L166.4 110.4L170.1 110.4L173.7 110.5L177.4 110.6L181.0 110.6L184.7 110.7L188.3 110.8L192.0 110.8L195.6 110.9L199.3 111.0L202.9 111.0L206.6 111.1L210.2 111.1L213.9 111.2L217.5 111.2L221.2 111.3L224.8 111.3L228.5 111.4L232.1 111.4L235.8 111.4L239.4 111.5L243.1 111.5L246.7 111.5L250.4 111.5L254.0 111.5 M579.0 109.8L575.3 109.8L571.7 109.8L568.0 109.8L564.4 109.8L560.7 109.8L557.1 109.9L553.4 109.9L549.8 109.9L546.1 110.0L542.5 110.0L538.8 110.1L535.2 110.1L531.5 110.2L527.9 110.3L524.2 110.3L520.6 110.4L516.9 110.4L513.3 110.5L509.6 110.6L506.0 110.6L502.3 110.7L498.7 110.8L495.0 110.8L491.4 110.9L487.7 111.0L484.1 111.0L480.4 111.1L476.8 111.1L473.1 111.2L469.5 111.2L465.8 111.3L462.2 111.3L458.5 111.4L454.9 111.4L451.2 111.4L447.6 111.5L443.9 111.5L440.3 111.5L436.6 111.5L433.0 111.5 M108.0 107.6L111.7 107.7L115.3 107.7L119.0 107.7L122.6 107.8L126.3 107.8L129.9 107.9L133.6 108.0L137.2 108.0L140.9 108.1L144.5 108.2L148.2 108.4L151.8 108.5L155.5 108.6L159.1 108.7L162.8 108.9L166.4 109.0L170.1 109.1L173.7 109.3L177.4 109.4L181.0 109.6L184.7 109.7L188.3 109.9L192.0 110.0L195.6 110.1L199.3 110.3L202.9 110.4L206.6 110.5L210.2 110.7L213.9 110.8L217.5 110.9L221.2 111.0L224.8 111.1L228.5 111.2L232.1 111.3L235.8 111.3L239.4 111.4L243.1 111.4L246.7 111.5L250.4 111.5L254.0 111.5 M579.0 107.6L575.3 107.7L571.7 107.7L568.0 107.7L564.4 107.8L560.7 107.8L557.1 107.9L553.4 108.0L549.8 108.0L546.1 108.1L542.5 108.2L538.8 108.4L535.2 108.5L531.5 108.6L527.9 108.7L524.2 108.9L520.6 109.0L516.9 109.1L513.3 109.3L509.6 109.4L506.0 109.6L502.3 109.7L498.7 109.9L495.0 110.0L491.4 110.1L487.7 110.3L484.1 110.4L480.4 110.5L476.8 110.7L473.1 110.8L469.5 110.9L465.8 111.0L462.2 111.1L458.5 111.2L454.9 111.3L451.2 111.3L447.6 111.4L443.9 111.4L440.3 111.5L436.6 111.5L433.0 111.5 M108.0 105.5L111.7 105.5L115.3 105.6L119.0 105.6L122.6 105.7L126.3 105.8L129.9 105.9L133.6 106.0L137.2 106.1L140.9 106.3L144.5 106.5L148.2 106.6L151.8 106.8L155.5 107.0L159.1 107.2L162.8 107.4L166.4 107.6L170.1 107.8L173.7 108.1L177.4 108.3L181.0 108.5L184.7 108.7L188.3 109.0L192.0 109.2L195.6 109.4L199.3 109.6L202.9 109.8L206.6 110.0L210.2 110.2L213.9 110.4L217.5 110.6L221.2 110.7L224.8 110.9L228.5 111.0L232.1 111.1L235.8 111.2L239.4 111.3L243.1 111.4L246.7 111.5L250.4 111.5L254.0 111.5 M579.0 105.5L575.3 105.5L571.7 105.6L568.0 105.6L564.4 105.7L560.7 105.8L557.1 105.9L553.4 106.0L549.8 106.1L546.1 106.3L542.5 106.5L538.8 106.6L535.2 106.8L531.5 107.0L527.9 107.2L524.2 107.4L520.6 107.6L516.9 107.8L513.3 108.1L509.6 108.3L506.0 108.5L502.3 108.7L498.7 109.0L495.0 109.2L491.4 109.4L487.7 109.6L484.1 109.8L480.4 110.0L476.8 110.2L473.1 110.4L469.5 110.6L465.8 110.7L462.2 110.9L458.5 111.0L454.9 111.1L451.2 111.2L447.6 111.3L443.9 111.4L440.3 111.5L436.6 111.5L433.0 111.5 M108.0 103.4L111.7 103.4L115.3 103.5L119.0 103.5L122.6 103.6L126.3 103.7L129.9 103.9L133.6 104.1L137.2 104.2L140.9 104.4L144.5 104.7L148.2 104.9L151.8 105.2L155.5 105.4L159.1 105.7L162.8 106.0L166.4 106.3L170.1 106.5L173.7 106.8L177.4 107.2L181.0 107.5L184.7 107.8L188.3 108.1L192.0 108.4L195.6 108.7L199.3 108.9L202.9 109.2L206.6 109.5L210.2 109.8L213.9 110.0L217.5 110.2L221.2 110.5L224.8 110.7L228.5 110.8L232.1 111.0L235.8 111.2L239.4 111.3L243.1 111.4L246.7 111.4L250.4 111.5L254.0 111.5 M579.0 103.4L575.3 103.4L571.7 103.5L568.0 103.5L564.4 103.6L560.7 103.7L557.1 103.9L553.4 104.1L549.8 104.2L546.1 104.4L542.5 104.7L538.8 104.9L535.2 105.2L531.5 105.4L527.9 105.7L524.2 106.0L520.6 106.3L516.9 106.5L513.3 106.8L509.6 107.2L506.0 107.5L502.3 107.8L498.7 108.1L495.0 108.4L491.4 108.7L487.7 108.9L484.1 109.2L480.4 109.5L476.8 109.8L473.1 110.0L469.5 110.2L465.8 110.5L462.2 110.7L458.5 110.8L454.9 111.0L451.2 111.2L447.6 111.3L443.9 111.4L440.3 111.4L436.6 111.5L433.0 111.5 M343.5 48.3L342.3 48.3L341.2 48.4L340.0 48.4L338.8 48.4L337.7 48.4L336.5 48.4L335.3 48.4L334.2 48.4L333.0 48.4L331.9 48.5L330.7 48.5L329.5 48.5L328.4 48.5L327.2 48.6L326.0 48.6L324.9 48.6L323.7 48.6L322.5 48.7L321.4 48.7L320.2 48.8L319.0 48.8L317.9 48.8L316.7 48.9L315.6 49.0L314.4 49.0L313.2 49.1L312.1 49.2L310.9 49.2L309.7 49.3L308.6 49.4L307.4 49.5L306.2 49.7L305.1 49.8L303.9 49.9L302.7 50.1L301.6 50.3L300.4 50.5L299.3 50.7L298.1 51.0L296.9 51.2L295.8 51.5L294.6 51.9L293.4 52.2L292.3 52.6L291.1 53.1L289.9 53.6L288.8 54.1L287.6 54.7L286.4 55.3L285.3 56.1L284.1 56.8L283.0 57.6L281.8 58.5L280.6 59.5L279.5 60.5L278.3 61.6L277.1 62.8L276.0 64.0L274.8 65.3L273.6 66.6L272.5 68.0L271.3 69.5L270.1 70.9L269.0 72.5L267.8 74.0L266.6 75.6L265.5 77.2L264.3 78.8L263.2 80.4L262.0 82.1L260.8 83.8L259.7 85.4L258.5 87.1L257.3 88.8L256.2 90.5L255.0 92.1L253.8 93.8L252.7 95.5L251.5 97.2L250.3 98.9L249.2 100.6L248.0 102.3L246.9 104.0L245.7 105.7L244.5 107.4L243.4 109.0L242.2 109.0L241.0 109.0L239.9 109.0L238.7 109.0 M343.5 48.3L344.7 48.3L345.8 48.4L347.0 48.4L348.2 48.4L349.3 48.4L350.5 48.4L351.7 48.4L352.8 48.4L354.0 48.4L355.1 48.5L356.3 48.5L357.5 48.5L358.6 48.5L359.8 48.6L361.0 48.6L362.1 48.6L363.3 48.6L364.5 48.7L365.6 48.7L366.8 48.8L368.0 48.8L369.1 48.8L370.3 48.9L371.4 49.0L372.6 49.0L373.8 49.1L374.9 49.2L376.1 49.2L377.3 49.3L378.4 49.4L379.6 49.5L380.8 49.7L381.9 49.8L383.1 49.9L384.3 50.1L385.4 50.3L386.6 50.5L387.7 50.7L388.9 51.0L390.1 51.2L391.2 51.5L392.4 51.9L393.6 52.2L394.7 52.6L395.9 53.1L397.1 53.6L398.2 54.1L399.4 54.7L400.6 55.3L401.7 56.1L402.9 56.8L404.0 57.6L405.2 58.5L406.4 59.5L407.5 60.5L408.7 61.6L409.9 62.8L411.0 64.0L412.2 65.3L413.4 66.6L414.5 68.0L415.7 69.5L416.9 70.9L418.0 72.5L419.2 74.0L420.4 75.6L421.5 77.2L422.7 78.8L423.8 80.4L425.0 82.1L426.2 83.8L427.3 85.4L428.5 87.1L429.7 88.8L430.8 90.5L432.0 92.1L433.2 93.8L434.3 95.5L435.5 97.2L436.7 98.9L437.8 100.6L439.0 102.3L440.1 104.0L441.3 105.7L442.5 107.4L443.6 109.0L444.8 109.0L446.0 109.0L447.1 109.0L448.3 109.0 M343.5 47.1L342.3 47.1L341.0 47.1L339.8 47.1L338.5 47.1L337.3 47.1L336.0 47.1L334.8 47.1L333.6 47.1L332.3 47.2L331.1 47.2L329.8 47.2L328.6 47.2L327.3 47.2L326.1 47.2L324.9 47.3L323.6 47.3L322.4 47.3L321.1 47.3L319.9 47.4L318.6 47.4L317.4 47.4L316.2 47.4L314.9 47.5L313.7 47.5L312.4 47.6L311.2 47.6L309.9 47.7L308.7 47.7L307.5 47.8L306.2 47.9L305.0 48.0L303.7 48.1L302.5 48.2L301.2 48.3L300.0 48.4L298.8 48.5L297.5 48.7L296.3 48.8L295.0 49.0L293.8 49.2L292.5 49.5L291.3 49.7L290.1 50.0L288.8 50.3L287.6 50.7L286.3 51.1L285.1 51.5L283.8 52.0L282.6 52.6L281.4 53.2L280.1 53.9L278.9 54.6L277.6 55.4L276.4 56.3L275.1 57.2L273.9 58.2L272.7 59.3L271.4 60.5L270.2 61.8L268.9 63.1L267.7 64.5L266.4 65.9L265.2 67.5L264.0 69.0L262.7 70.7L261.5 72.3L260.2 74.0L259.0 75.8L257.7 77.5L256.5 79.3L255.3 81.1L254.0 82.9L252.8 84.7L251.5 86.5L250.3 88.4L249.0 90.2L247.8 92.0L246.6 93.9L245.3 95.7L244.1 97.5L242.8 99.4L241.6 101.2L240.3 103.1L239.1 104.9L237.9 106.7L236.6 108.6L235.4 109.0L234.1 109.0L232.9 109.0L231.6 109.0 M343.5 47.1L344.7 47.1L346.0 47.1L347.2 47.1L348.5 47.1L349.7 47.1L351.0 47.1L352.2 47.1L353.4 47.1L354.7 47.2L355.9 47.2L357.2 47.2L358.4 47.2L359.7 47.2L360.9 47.2L362.1 47.3L363.4 47.3L364.6 47.3L365.9 47.3L367.1 47.4L368.4 47.4L369.6 47.4L370.8 47.4L372.1 47.5L373.3 47.5L374.6 47.6L375.8 47.6L377.1 47.7L378.3 47.7L379.5 47.8L380.8 47.9L382.0 48.0L383.3 48.1L384.5 48.2L385.8 48.3L387.0 48.4L388.2 48.5L389.5 48.7L390.7 48.8L392.0 49.0L393.2 49.2L394.5 49.5L395.7 49.7L396.9 50.0L398.2 50.3L399.4 50.7L400.7 51.1L401.9 51.5L403.2 52.0L404.4 52.6L405.6 53.2L406.9 53.9L408.1 54.6L409.4 55.4L410.6 56.3L411.9 57.2L413.1 58.2L414.3 59.3L415.6 60.5L416.8 61.8L418.1 63.1L419.3 64.5L420.6 65.9L421.8 67.5L423.0 69.0L424.3 70.7L425.5 72.3L426.8 74.0L428.0 75.8L429.3 77.5L430.5 79.3L431.7 81.1L433.0 82.9L434.2 84.7L435.5 86.5L436.7 88.4L438.0 90.2L439.2 92.0L440.4 93.9L441.7 95.7L442.9 97.5L444.2 99.4L445.4 101.2L446.7 103.1L447.9 104.9L449.1 106.7L450.4 108.6L451.6 109.0L452.9 109.0L454.1 109.0L455.4 109.0 M343.5 45.8L342.2 45.8L340.9 45.8L339.5 45.8L338.2 45.9L336.9 45.9L335.6 45.9L334.3 45.9L332.9 45.9L331.6 45.9L330.3 45.9L329.0 45.9L327.6 45.9L326.3 45.9L325.0 46.0L323.7 46.0L322.4 46.0L321.0 46.0L319.7 46.0L318.4 46.0L317.1 46.1L315.8 46.1L314.4 46.1L313.1 46.1L311.8 46.2L310.5 46.2L309.1 46.2L307.8 46.3L306.5 46.3L305.2 46.4L303.9 46.4L302.5 46.5L301.2 46.6L299.9 46.6L298.6 46.7L297.3 46.8L295.9 46.9L294.6 47.0L293.3 47.2L292.0 47.3L290.6 47.5L289.3 47.7L288.0 47.9L286.7 48.1L285.4 48.3L284.0 48.6L282.7 48.9L281.4 49.3L280.1 49.7L278.8 50.1L277.4 50.7L276.1 51.2L274.8 51.8L273.5 52.5L272.1 53.3L270.8 54.2L269.5 55.1L268.2 56.1L266.9 57.2L265.5 58.4L264.2 59.7L262.9 61.1L261.6 62.5L260.3 64.0L258.9 65.6L257.6 67.3L256.3 69.0L255.0 70.8L253.6 72.7L252.3 74.5L251.0 76.4L249.7 78.3L248.4 80.3L247.0 82.2L245.7 84.2L244.4 86.2L243.1 88.2L241.8 90.2L240.4 92.1L239.1 94.1L237.8 96.1L236.5 98.1L235.1 100.1L233.8 102.1L232.5 104.1L231.2 106.1L229.9 108.1L228.5 109.0L227.2 109.0L225.9 109.0L224.6 109.0 M343.5 45.8L344.8 45.8L346.1 45.8L347.5 45.8L348.8 45.9L350.1 45.9L351.4 45.9L352.7 45.9L354.1 45.9L355.4 45.9L356.7 45.9L358.0 45.9L359.4 45.9L360.7 45.9L362.0 46.0L363.3 46.0L364.6 46.0L366.0 46.0L367.3 46.0L368.6 46.0L369.9 46.1L371.2 46.1L372.6 46.1L373.9 46.1L375.2 46.2L376.5 46.2L377.9 46.2L379.2 46.3L380.5 46.3L381.8 46.4L383.1 46.4L384.5 46.5L385.8 46.6L387.1 46.6L388.4 46.7L389.7 46.8L391.1 46.9L392.4 47.0L393.7 47.2L395.0 47.3L396.4 47.5L397.7 47.7L399.0 47.9L400.3 48.1L401.6 48.3L403.0 48.6L404.3 48.9L405.6 49.3L406.9 49.7L408.2 50.1L409.6 50.7L410.9 51.2L412.2 51.8L413.5 52.5L414.9 53.3L416.2 54.2L417.5 55.1L418.8 56.1L420.1 57.2L421.5 58.4L422.8 59.7L424.1 61.1L425.4 62.5L426.7 64.0L428.1 65.6L429.4 67.3L430.7 69.0L432.0 70.8L433.4 72.7L434.7 74.5L436.0 76.4L437.3 78.3L438.6 80.3L440.0 82.2L441.3 84.2L442.6 86.2L443.9 88.2L445.2 90.2L446.6 92.1L447.9 94.1L449.2 96.1L450.5 98.1L451.9 100.1L453.2 102.1L454.5 104.1L455.8 106.1L457.1 108.1L458.5 109.0L459.8 109.0L461.1 109.0L462.4 109.0 M343.5 44.6L342.1 44.6L340.7 44.6L339.3 44.6L337.9 44.6L336.5 44.6L335.1 44.6L333.7 44.6L332.3 44.6L330.9 44.6L329.5 44.7L328.1 44.7L326.7 44.7L325.3 44.7L323.9 44.7L322.5 44.7L321.1 44.7L319.7 44.7L318.3 44.7L316.9 44.8L315.5 44.8L314.1 44.8L312.7 44.8L311.3 44.8L309.9 44.8L308.5 44.9L307.1 44.9L305.7 44.9L304.3 45.0L302.9 45.0L301.5 45.1L300.1 45.1L298.7 45.1L297.3 45.2L295.9 45.3L294.5 45.3L293.1 45.4L291.7 45.5L290.3 45.6L288.9 45.7L287.5 45.8L286.1 46.0L284.7 46.1L283.3 46.3L281.9 46.5L280.5 46.8L279.1 47.0L277.7 47.3L276.3 47.6L274.9 48.0L273.5 48.4L272.1 48.9L270.7 49.4L269.3 50.0L267.9 50.6L266.5 51.4L265.1 52.2L263.7 53.1L262.3 54.1L260.9 55.3L259.5 56.5L258.1 57.8L256.7 59.2L255.3 60.7L253.9 62.3L252.5 64.0L251.1 65.8L249.7 67.6L248.3 69.5L246.9 71.5L245.5 73.5L244.1 75.5L242.7 77.6L241.3 79.7L239.9 81.8L238.5 83.9L237.1 86.1L235.7 88.2L234.3 90.4L232.9 92.5L231.5 94.7L230.1 96.8L228.7 99.0L227.3 101.1L225.9 103.3L224.5 105.4L223.1 107.6L221.7 109.0L220.3 109.0L218.9 109.0L217.5 109.0 M343.5 44.6L344.9 44.6L346.3 44.6L347.7 44.6L349.1 44.6L350.5 44.6L351.9 44.6L353.3 44.6L354.7 44.6L356.1 44.6L357.5 44.7L358.9 44.7L360.3 44.7L361.7 44.7L363.1 44.7L364.5 44.7L365.9 44.7L367.3 44.7L368.7 44.7L370.1 44.8L371.5 44.8L372.9 44.8L374.3 44.8L375.7 44.8L377.1 44.8L378.5 44.9L379.9 44.9L381.3 44.9L382.7 45.0L384.1 45.0L385.5 45.1L386.9 45.1L388.3 45.1L389.7 45.2L391.1 45.3L392.5 45.3L393.9 45.4L395.3 45.5L396.7 45.6L398.1 45.7L399.5 45.8L400.9 46.0L402.3 46.1L403.7 46.3L405.1 46.5L406.5 46.8L407.9 47.0L409.3 47.3L410.7 47.6L412.1 48.0L413.5 48.4L414.9 48.9L416.3 49.4L417.7 50.0L419.1 50.6L420.5 51.4L421.9 52.2L423.3 53.1L424.7 54.1L426.1 55.3L427.5 56.5L428.9 57.8L430.3 59.2L431.7 60.7L433.1 62.3L434.5 64.0L435.9 65.8L437.3 67.6L438.7 69.5L440.1 71.5L441.5 73.5L442.9 75.5L444.3 77.6L445.7 79.7L447.1 81.8L448.5 83.9L449.9 86.1L451.3 88.2L452.7 90.4L454.1 92.5L455.5 94.7L456.9 96.8L458.3 99.0L459.7 101.1L461.1 103.3L462.5 105.4L463.9 107.6L465.3 109.0L466.7 109.0L468.1 109.0L469.5 109.0 M343.5 43.4L342.0 43.4L340.5 43.4L339.1 43.4L337.6 43.4L336.1 43.4L334.6 43.4L333.2 43.4L331.7 43.4L330.2 43.4L328.7 43.4L327.2 43.4L325.8 43.4L324.3 43.4L322.8 43.4L321.3 43.4L319.8 43.5L318.4 43.5L316.9 43.5L315.4 43.5L313.9 43.5L312.5 43.5L311.0 43.5L309.5 43.5L308.0 43.6L306.5 43.6L305.1 43.6L303.6 43.6L302.1 43.7L300.6 43.7L299.1 43.7L297.7 43.8L296.2 43.8L294.7 43.8L293.2 43.9L291.8 43.9L290.3 44.0L288.8 44.1L287.3 44.1L285.8 44.2L284.4 44.3L282.9 44.4L281.4 44.6L279.9 44.7L278.4 44.9L277.0 45.0L275.5 45.2L274.0 45.5L272.5 45.7L271.1 46.0L269.6 46.4L268.1 46.8L266.6 47.2L265.1 47.7L263.7 48.3L262.2 48.9L260.7 49.6L259.2 50.4L257.8 51.3L256.3 52.3L254.8 53.5L253.3 54.7L251.8 56.0L250.4 57.5L248.9 59.1L247.4 60.8L245.9 62.6L244.4 64.4L243.0 66.4L241.5 68.4L240.0 70.5L238.5 72.7L237.1 74.9L235.6 77.1L234.1 79.4L232.6 81.7L231.1 83.9L229.7 86.2L228.2 88.6L226.7 90.9L225.2 93.2L223.7 95.5L222.3 97.8L220.8 100.1L219.3 102.4L217.8 104.8L216.4 107.1L214.9 109.0L213.4 109.0L211.9 109.0L210.4 109.0 M343.5 43.4L345.0 43.4L346.5 43.4L347.9 43.4L349.4 43.4L350.9 43.4L352.4 43.4L353.8 43.4L355.3 43.4L356.8 43.4L358.3 43.4L359.8 43.4L361.2 43.4L362.7 43.4L364.2 43.4L365.7 43.4L367.2 43.5L368.6 43.5L370.1 43.5L371.6 43.5L373.1 43.5L374.5 43.5L376.0 43.5L377.5 43.5L379.0 43.6L380.5 43.6L381.9 43.6L383.4 43.6L384.9 43.7L386.4 43.7L387.9 43.7L389.3 43.8L390.8 43.8L392.3 43.8L393.8 43.9L395.2 43.9L396.7 44.0L398.2 44.1L399.7 44.1L401.2 44.2L402.6 44.3L404.1 44.4L405.6 44.6L407.1 44.7L408.6 44.9L410.0 45.0L411.5 45.2L413.0 45.5L414.5 45.7L415.9 46.0L417.4 46.4L418.9 46.8L420.4 47.2L421.9 47.7L423.3 48.3L424.8 48.9L426.3 49.6L427.8 50.4L429.2 51.3L430.7 52.3L432.2 53.5L433.7 54.7L435.2 56.0L436.6 57.5L438.1 59.1L439.6 60.8L441.1 62.6L442.6 64.4L444.0 66.4L445.5 68.4L447.0 70.5L448.5 72.7L449.9 74.9L451.4 77.1L452.9 79.4L454.4 81.7L455.9 83.9L457.3 86.2L458.8 88.6L460.3 90.9L461.8 93.2L463.3 95.5L464.7 97.8L466.2 100.1L467.7 102.4L469.2 104.8L470.6 107.1L472.1 109.0L473.6 109.0L475.1 109.0L476.6 109.0 M343.5 42.1L341.9 42.1L340.4 42.1L338.8 42.1L337.3 42.2L335.7 42.2L334.2 42.2L332.6 42.2L331.0 42.2L329.5 42.2L327.9 42.2L326.4 42.2L324.8 42.2L323.3 42.2L321.7 42.2L320.1 42.2L318.6 42.2L317.0 42.2L315.5 42.2L313.9 42.2L312.4 42.2L310.8 42.3L309.2 42.3L307.7 42.3L306.1 42.3L304.6 42.3L303.0 42.3L301.5 42.3L299.9 42.4L298.3 42.4L296.8 42.4L295.2 42.4L293.7 42.5L292.1 42.5L290.6 42.5L289.0 42.6L287.5 42.6L285.9 42.7L284.3 42.8L282.8 42.8L281.2 42.9L279.7 43.0L278.1 43.1L276.6 43.2L275.0 43.3L273.4 43.5L271.9 43.6L270.3 43.8L268.8 44.0L267.2 44.3L265.7 44.5L264.1 44.8L262.5 45.2L261.0 45.6L259.4 46.1L257.9 46.6L256.3 47.3L254.8 48.0L253.2 48.8L251.6 49.7L250.1 50.7L248.5 51.8L247.0 53.1L245.4 54.5L243.9 56.0L242.3 57.6L240.7 59.4L239.2 61.3L237.6 63.3L236.1 65.4L234.5 67.6L233.0 69.8L231.4 72.1L229.8 74.5L228.3 76.9L226.7 79.3L225.2 81.7L223.6 84.2L222.1 86.7L220.5 89.2L218.9 91.6L217.4 94.1L215.8 96.6L214.3 99.1L212.7 101.6L211.2 104.1L209.6 106.5L208.0 109.0L206.5 109.0L204.9 109.0L203.4 109.0 M343.5 42.1L345.1 42.1L346.6 42.1L348.2 42.1L349.7 42.2L351.3 42.2L352.8 42.2L354.4 42.2L356.0 42.2L357.5 42.2L359.1 42.2L360.6 42.2L362.2 42.2L363.7 42.2L365.3 42.2L366.9 42.2L368.4 42.2L370.0 42.2L371.5 42.2L373.1 42.2L374.6 42.2L376.2 42.3L377.8 42.3L379.3 42.3L380.9 42.3L382.4 42.3L384.0 42.3L385.5 42.3L387.1 42.4L388.7 42.4L390.2 42.4L391.8 42.4L393.3 42.5L394.9 42.5L396.4 42.5L398.0 42.6L399.5 42.6L401.1 42.7L402.7 42.8L404.2 42.8L405.8 42.9L407.3 43.0L408.9 43.1L410.4 43.2L412.0 43.3L413.6 43.5L415.1 43.6L416.7 43.8L418.2 44.0L419.8 44.3L421.3 44.5L422.9 44.8L424.5 45.2L426.0 45.6L427.6 46.1L429.1 46.6L430.7 47.3L432.2 48.0L433.8 48.8L435.4 49.7L436.9 50.7L438.5 51.8L440.0 53.1L441.6 54.5L443.1 56.0L444.7 57.6L446.3 59.4L447.8 61.3L449.4 63.3L450.9 65.4L452.5 67.6L454.0 69.8L455.6 72.1L457.2 74.5L458.7 76.9L460.3 79.3L461.8 81.7L463.4 84.2L464.9 86.7L466.5 89.2L468.1 91.6L469.6 94.1L471.2 96.6L472.7 99.1L474.3 101.6L475.8 104.1L477.4 106.5L479.0 109.0L480.5 109.0L482.1 109.0L483.6 109.0 M343.5 40.9L341.9 40.9L340.2 40.9L338.6 40.9L337.0 40.9L335.3 40.9L333.7 40.9L332.1 40.9L330.4 40.9L328.8 40.9L327.1 40.9L325.5 40.9L323.9 40.9L322.2 41.0L320.6 41.0L319.0 41.0L317.3 41.0L315.7 41.0L314.1 41.0L312.4 41.0L310.8 41.0L309.2 41.0L307.5 41.0L305.9 41.0L304.2 41.0L302.6 41.0L301.0 41.1L299.3 41.1L297.7 41.1L296.1 41.1L294.4 41.1L292.8 41.2L291.2 41.2L289.5 41.2L287.9 41.2L286.3 41.3L284.6 41.3L283.0 41.4L281.4 41.4L279.7 41.5L278.1 41.5L276.4 41.6L274.8 41.7L273.2 41.7L271.5 41.8L269.9 42.0L268.3 42.1L266.6 42.2L265.0 42.4L263.4 42.6L261.7 42.8L260.1 43.1L258.5 43.4L256.8 43.7L255.2 44.1L253.6 44.6L251.9 45.1L250.3 45.7L248.6 46.4L247.0 47.2L245.4 48.1L243.7 49.1L242.1 50.3L240.5 51.6L238.8 53.0L237.2 54.6L235.6 56.3L233.9 58.2L232.3 60.2L230.7 62.3L229.0 64.6L227.4 66.9L225.8 69.3L224.1 71.8L222.5 74.3L220.8 76.9L219.2 79.5L217.6 82.1L215.9 84.7L214.3 87.4L212.7 90.0L211.0 92.7L209.4 95.4L207.8 98.0L206.1 100.7L204.5 103.3L202.9 106.0L201.2 108.7L199.6 109.0L197.9 109.0L196.3 109.0 M343.5 40.9L345.1 40.9L346.8 40.9L348.4 40.9L350.0 40.9L351.7 40.9L353.3 40.9L354.9 40.9L356.6 40.9L358.2 40.9L359.9 40.9L361.5 40.9L363.1 40.9L364.8 41.0L366.4 41.0L368.0 41.0L369.7 41.0L371.3 41.0L372.9 41.0L374.6 41.0L376.2 41.0L377.8 41.0L379.5 41.0L381.1 41.0L382.7 41.0L384.4 41.0L386.0 41.1L387.7 41.1L389.3 41.1L390.9 41.1L392.6 41.1L394.2 41.2L395.8 41.2L397.5 41.2L399.1 41.2L400.7 41.3L402.4 41.3L404.0 41.4L405.6 41.4L407.3 41.5L408.9 41.5L410.6 41.6L412.2 41.7L413.8 41.7L415.5 41.8L417.1 42.0L418.7 42.1L420.4 42.2L422.0 42.4L423.6 42.6L425.3 42.8L426.9 43.1L428.5 43.4L430.2 43.7L431.8 44.1L433.4 44.6L435.1 45.1L436.7 45.7L438.4 46.4L440.0 47.2L441.6 48.1L443.3 49.1L444.9 50.3L446.5 51.6L448.2 53.0L449.8 54.6L451.4 56.3L453.1 58.2L454.7 60.2L456.3 62.3L458.0 64.6L459.6 66.9L461.2 69.3L462.9 71.8L464.5 74.3L466.2 76.9L467.8 79.5L469.4 82.1L471.1 84.7L472.7 87.4L474.3 90.0L476.0 92.7L477.6 95.4L479.2 98.0L480.9 100.7L482.5 103.3L484.1 106.0L485.8 108.7L487.4 109.0L489.1 109.0L490.7 109.0 M343.5 39.7L341.8 39.7L340.1 39.7L338.4 39.7L336.6 39.7L334.9 39.7L333.2 39.7L331.5 39.7L329.8 39.7L328.1 39.7L326.4 39.7L324.6 39.7L322.9 39.7L321.2 39.7L319.5 39.7L317.8 39.7L316.1 39.7L314.4 39.7L312.6 39.7L310.9 39.8L309.2 39.8L307.5 39.8L305.8 39.8L304.1 39.8L302.4 39.8L300.7 39.8L298.9 39.8L297.2 39.8L295.5 39.8L293.8 39.8L292.1 39.9L290.4 39.9L288.7 39.9L286.9 39.9L285.2 39.9L283.5 40.0L281.8 40.0L280.1 40.0L278.4 40.1L276.7 40.1L274.9 40.2L273.2 40.2L271.5 40.3L269.8 40.4L268.1 40.4L266.4 40.5L264.7 40.6L262.9 40.8L261.2 40.9L259.5 41.1L257.8 41.2L256.1 41.5L254.4 41.7L252.7 42.0L250.9 42.3L249.2 42.7L247.5 43.1L245.8 43.6L244.1 44.2L242.4 44.9L240.7 45.7L239.0 46.6L237.2 47.7L235.5 48.9L233.8 50.2L232.1 51.7L230.4 53.4L228.7 55.2L227.0 57.2L225.2 59.3L223.5 61.6L221.8 64.0L220.1 66.5L218.4 69.1L216.7 71.7L215.0 74.4L213.2 77.2L211.5 80.0L209.8 82.8L208.1 85.6L206.4 88.4L204.7 91.2L203.0 94.1L201.2 96.9L199.5 99.7L197.8 102.6L196.1 105.4L194.4 108.3L192.7 109.0L191.0 109.0L189.2 109.0 M343.5 39.7L345.2 39.7L346.9 39.7L348.6 39.7L350.4 39.7L352.1 39.7L353.8 39.7L355.5 39.7L357.2 39.7L358.9 39.7L360.6 39.7L362.4 39.7L364.1 39.7L365.8 39.7L367.5 39.7L369.2 39.7L370.9 39.7L372.6 39.7L374.4 39.7L376.1 39.8L377.8 39.8L379.5 39.8L381.2 39.8L382.9 39.8L384.6 39.8L386.3 39.8L388.1 39.8L389.8 39.8L391.5 39.8L393.2 39.8L394.9 39.9L396.6 39.9L398.3 39.9L400.1 39.9L401.8 39.9L403.5 40.0L405.2 40.0L406.9 40.0L408.6 40.1L410.3 40.1L412.1 40.2L413.8 40.2L415.5 40.3L417.2 40.4L418.9 40.4L420.6 40.5L422.3 40.6L424.1 40.8L425.8 40.9L427.5 41.1L429.2 41.2L430.9 41.5L432.6 41.7L434.3 42.0L436.1 42.3L437.8 42.7L439.5 43.1L441.2 43.6L442.9 44.2L444.6 44.9L446.3 45.7L448.0 46.6L449.8 47.7L451.5 48.9L453.2 50.2L454.9 51.7L456.6 53.4L458.3 55.2L460.0 57.2L461.8 59.3L463.5 61.6L465.2 64.0L466.9 66.5L468.6 69.1L470.3 71.7L472.0 74.4L473.8 77.2L475.5 80.0L477.2 82.8L478.9 85.6L480.6 88.4L482.3 91.2L484.0 94.1L485.8 96.9L487.5 99.7L489.2 102.6L490.9 105.4L492.6 108.3L494.3 109.0L496.0 109.0L497.8 109.0 M343.5 38.5L341.7 38.5L339.9 38.5L338.1 38.5L336.3 38.5L334.5 38.5L332.7 38.5L331.0 38.5L329.2 38.5L327.4 38.5L325.6 38.5L323.8 38.5L322.0 38.5L320.2 38.5L318.4 38.5L316.6 38.5L314.8 38.5L313.0 38.5L311.2 38.5L309.4 38.5L307.7 38.5L305.9 38.5L304.1 38.5L302.3 38.5L300.5 38.6L298.7 38.6L296.9 38.6L295.1 38.6L293.3 38.6L291.5 38.6L289.7 38.6L287.9 38.6L286.1 38.6L284.4 38.7L282.6 38.7L280.8 38.7L279.0 38.7L277.2 38.8L275.4 38.8L273.6 38.8L271.8 38.9L270.0 38.9L268.2 39.0L266.4 39.0L264.6 39.1L262.8 39.2L261.0 39.2L259.3 39.3L257.5 39.4L255.7 39.6L253.9 39.7L252.1 39.9L250.3 40.1L248.5 40.3L246.7 40.6L244.9 40.9L243.1 41.3L241.3 41.7L239.5 42.2L237.7 42.8L236.0 43.5L234.2 44.3L232.4 45.3L230.6 46.3L228.8 47.6L227.0 49.0L225.2 50.5L223.4 52.3L221.6 54.2L219.8 56.4L218.0 58.6L216.2 61.1L214.4 63.6L212.7 66.3L210.9 69.1L209.1 71.9L207.3 74.8L205.5 77.8L203.7 80.7L201.9 83.7L200.1 86.7L198.3 89.7L196.5 92.8L194.7 95.8L192.9 98.8L191.1 101.8L189.4 104.8L187.6 107.9L185.8 109.0L184.0 109.0L182.2 109.0 M343.5 38.5L345.3 38.5L347.1 38.5L348.9 38.5L350.7 38.5L352.5 38.5L354.3 38.5L356.0 38.5L357.8 38.5L359.6 38.5L361.4 38.5L363.2 38.5L365.0 38.5L366.8 38.5L368.6 38.5L370.4 38.5L372.2 38.5L374.0 38.5L375.8 38.5L377.6 38.5L379.3 38.5L381.1 38.5L382.9 38.5L384.7 38.5L386.5 38.6L388.3 38.6L390.1 38.6L391.9 38.6L393.7 38.6L395.5 38.6L397.3 38.6L399.1 38.6L400.9 38.6L402.6 38.7L404.4 38.7L406.2 38.7L408.0 38.7L409.8 38.8L411.6 38.8L413.4 38.8L415.2 38.9L417.0 38.9L418.8 39.0L420.6 39.0L422.4 39.1L424.2 39.2L426.0 39.2L427.7 39.3L429.5 39.4L431.3 39.6L433.1 39.7L434.9 39.9L436.7 40.1L438.5 40.3L440.3 40.6L442.1 40.9L443.9 41.3L445.7 41.7L447.5 42.2L449.3 42.8L451.0 43.5L452.8 44.3L454.6 45.3L456.4 46.3L458.2 47.6L460.0 49.0L461.8 50.5L463.6 52.3L465.4 54.2L467.2 56.4L469.0 58.6L470.8 61.1L472.6 63.6L474.3 66.3L476.1 69.1L477.9 71.9L479.7 74.8L481.5 77.8L483.3 80.7L485.1 83.7L486.9 86.7L488.7 89.7L490.5 92.8L492.3 95.8L494.1 98.8L495.9 101.8L497.6 104.8L499.4 107.9L501.2 109.0L503.0 109.0L504.8 109.0 M343.5 37.3L341.6 37.3L339.8 37.3L337.9 37.3L336.0 37.3L334.1 37.3L332.3 37.3L330.4 37.3L328.5 37.3L326.7 37.3L324.8 37.3L322.9 37.3L321.0 37.3L319.2 37.3L317.3 37.3L315.4 37.3L313.6 37.3L311.7 37.3L309.8 37.3L308.0 37.3L306.1 37.3L304.2 37.3L302.3 37.3L300.5 37.3L298.6 37.3L296.7 37.3L294.9 37.3L293.0 37.3L291.1 37.3L289.2 37.4L287.4 37.4L285.5 37.4L283.6 37.4L281.8 37.4L279.9 37.4L278.0 37.4L276.1 37.5L274.3 37.5L272.4 37.5L270.5 37.5L268.7 37.6L266.8 37.6L264.9 37.6L263.1 37.7L261.2 37.7L259.3 37.8L257.4 37.9L255.6 38.0L253.7 38.1L251.8 38.2L250.0 38.3L248.1 38.4L246.2 38.6L244.3 38.8L242.5 39.0L240.6 39.3L238.7 39.6L236.9 40.0L235.0 40.4L233.1 40.9L231.2 41.5L229.4 42.2L227.5 43.0L225.6 44.0L223.8 45.1L221.9 46.4L220.0 47.9L218.1 49.5L216.3 51.4L214.4 53.5L212.5 55.7L210.7 58.2L208.8 60.8L206.9 63.5L205.1 66.4L203.2 69.4L201.3 72.4L199.4 75.5L197.6 78.7L195.7 81.8L193.8 85.0L192.0 88.2L190.1 91.4L188.2 94.6L186.3 97.8L184.5 101.0L182.6 104.2L180.7 107.4L178.9 109.0L177.0 109.0L175.1 109.0 M343.5 37.3L345.4 37.3L347.2 37.3L349.1 37.3L351.0 37.3L352.9 37.3L354.7 37.3L356.6 37.3L358.5 37.3L360.3 37.3L362.2 37.3L364.1 37.3L366.0 37.3L367.8 37.3L369.7 37.3L371.6 37.3L373.4 37.3L375.3 37.3L377.2 37.3L379.0 37.3L380.9 37.3L382.8 37.3L384.7 37.3L386.5 37.3L388.4 37.3L390.3 37.3L392.1 37.3L394.0 37.3L395.9 37.3L397.8 37.4L399.6 37.4L401.5 37.4L403.4 37.4L405.2 37.4L407.1 37.4L409.0 37.4L410.9 37.5L412.7 37.5L414.6 37.5L416.5 37.5L418.3 37.6L420.2 37.6L422.1 37.6L423.9 37.7L425.8 37.7L427.7 37.8L429.6 37.9L431.4 38.0L433.3 38.1L435.2 38.2L437.0 38.3L438.9 38.4L440.8 38.6L442.7 38.8L444.5 39.0L446.4 39.3L448.3 39.6L450.1 40.0L452.0 40.4L453.9 40.9L455.8 41.5L457.6 42.2L459.5 43.0L461.4 44.0L463.2 45.1L465.1 46.4L467.0 47.9L468.9 49.5L470.7 51.4L472.6 53.5L474.5 55.7L476.3 58.2L478.2 60.8L480.1 63.5L481.9 66.4L483.8 69.4L485.7 72.4L487.6 75.5L489.4 78.7L491.3 81.8L493.2 85.0L495.0 88.2L496.9 91.4L498.8 94.6L500.7 97.8L502.5 101.0L504.4 104.2L506.3 107.4L508.1 109.0L510.0 109.0L511.9 109.0 M343.5 36.0L341.6 36.0L339.6 36.0L337.7 36.0L335.7 36.0L333.8 36.0L331.8 36.0L329.9 36.0L327.9 36.0L326.0 36.0L324.0 36.0L322.1 36.0L320.1 36.1L318.2 36.1L316.2 36.1L314.3 36.1L312.3 36.1L310.4 36.1L308.4 36.1L306.5 36.1L304.5 36.1L302.6 36.1L300.6 36.1L298.7 36.1L296.7 36.1L294.8 36.1L292.8 36.1L290.9 36.1L288.9 36.1L287.0 36.1L285.0 36.1L283.1 36.1L281.1 36.1L279.2 36.2L277.2 36.2L275.3 36.2L273.3 36.2L271.4 36.2L269.4 36.2L267.5 36.3L265.5 36.3L263.6 36.3L261.6 36.4L259.7 36.4L257.7 36.4L255.8 36.5L253.8 36.5L251.9 36.6L249.9 36.7L248.0 36.8L246.0 36.9L244.1 37.0L242.1 37.1L240.2 37.3L238.2 37.5L236.3 37.7L234.3 38.0L232.4 38.3L230.4 38.7L228.5 39.1L226.5 39.6L224.6 40.2L222.6 40.9L220.7 41.8L218.7 42.8L216.8 44.0L214.8 45.3L212.9 46.9L210.9 48.6L209.0 50.6L207.0 52.9L205.1 55.3L203.1 57.9L201.2 60.8L199.2 63.7L197.3 66.8L195.3 70.0L193.4 73.2L191.4 76.5L189.5 79.9L187.5 83.2L185.6 86.6L183.6 90.0L181.7 93.4L179.7 96.8L177.8 100.2L175.9 103.6L173.9 107.0L172.0 109.0L170.0 109.0L168.1 109.0 M343.5 36.0L345.4 36.0L347.4 36.0L349.3 36.0L351.3 36.0L353.2 36.0L355.2 36.0L357.1 36.0L359.1 36.0L361.0 36.0L363.0 36.0L364.9 36.0L366.9 36.1L368.8 36.1L370.8 36.1L372.7 36.1L374.7 36.1L376.6 36.1L378.6 36.1L380.5 36.1L382.5 36.1L384.4 36.1L386.4 36.1L388.3 36.1L390.3 36.1L392.2 36.1L394.2 36.1L396.1 36.1L398.1 36.1L400.0 36.1L402.0 36.1L403.9 36.1L405.9 36.1L407.8 36.2L409.8 36.2L411.7 36.2L413.7 36.2L415.6 36.2L417.6 36.2L419.5 36.3L421.5 36.3L423.4 36.3L425.4 36.4L427.3 36.4L429.3 36.4L431.2 36.5L433.2 36.5L435.1 36.6L437.1 36.7L439.0 36.8L441.0 36.9L442.9 37.0L444.9 37.1L446.8 37.3L448.8 37.5L450.7 37.7L452.7 38.0L454.6 38.3L456.6 38.7L458.5 39.1L460.5 39.6L462.4 40.2L464.4 40.9L466.3 41.8L468.3 42.8L470.2 44.0L472.2 45.3L474.1 46.9L476.1 48.6L478.0 50.6L480.0 52.9L481.9 55.3L483.9 57.9L485.8 60.8L487.8 63.7L489.7 66.8L491.7 70.0L493.6 73.2L495.6 76.5L497.5 79.9L499.5 83.2L501.4 86.6L503.4 90.0L505.3 93.4L507.3 96.8L509.2 100.2L511.1 103.6L513.1 107.0L515.0 109.0L517.0 109.0L518.9 109.0 M343.5 34.8L341.5 34.8L339.4 34.8L337.4 34.8L335.4 34.8L333.4 34.8L331.3 34.8L329.3 34.8L327.3 34.8L325.2 34.8L323.2 34.8L321.2 34.8L319.2 34.8L317.1 34.8L315.1 34.8L313.1 34.8L311.1 34.8L309.0 34.8L307.0 34.8L305.0 34.8L302.9 34.8L300.9 34.8L298.9 34.9L296.9 34.9L294.8 34.9L292.8 34.9L290.8 34.9L288.7 34.9L286.7 34.9L284.7 34.9L282.7 34.9L280.6 34.9L278.6 34.9L276.6 34.9L274.6 34.9L272.5 34.9L270.5 35.0L268.5 35.0L266.4 35.0L264.4 35.0L262.4 35.0L260.4 35.1L258.3 35.1L256.3 35.1L254.3 35.2L252.2 35.2L250.2 35.2L248.2 35.3L246.2 35.4L244.1 35.4L242.1 35.5L240.1 35.6L238.0 35.7L236.0 35.9L234.0 36.0L232.0 36.2L229.9 36.4L227.9 36.7L225.9 37.0L223.9 37.4L221.8 37.8L219.8 38.4L217.8 39.0L215.7 39.7L213.7 40.6L211.7 41.7L209.7 42.9L207.6 44.4L205.6 46.0L203.6 47.9L201.5 50.1L199.5 52.5L197.5 55.1L195.5 58.0L193.4 61.0L191.4 64.2L189.4 67.5L187.4 70.9L185.3 74.4L183.3 77.9L181.3 81.4L179.2 85.0L177.2 88.6L175.2 92.2L173.2 95.8L171.1 99.4L169.1 102.9L167.1 106.5L165.0 109.0L163.0 109.0L161.0 109.0 M343.5 34.8L345.5 34.8L347.6 34.8L349.6 34.8L351.6 34.8L353.6 34.8L355.7 34.8L357.7 34.8L359.7 34.8L361.8 34.8L363.8 34.8L365.8 34.8L367.8 34.8L369.9 34.8L371.9 34.8L373.9 34.8L375.9 34.8L378.0 34.8L380.0 34.8L382.0 34.8L384.1 34.8L386.1 34.8L388.1 34.9L390.1 34.9L392.2 34.9L394.2 34.9L396.2 34.9L398.3 34.9L400.3 34.9L402.3 34.9L404.3 34.9L406.4 34.9L408.4 34.9L410.4 34.9L412.4 34.9L414.5 34.9L416.5 35.0L418.5 35.0L420.6 35.0L422.6 35.0L424.6 35.0L426.6 35.1L428.7 35.1L430.7 35.1L432.7 35.2L434.8 35.2L436.8 35.2L438.8 35.3L440.8 35.4L442.9 35.4L444.9 35.5L446.9 35.6L449.0 35.7L451.0 35.9L453.0 36.0L455.0 36.2L457.1 36.4L459.1 36.7L461.1 37.0L463.1 37.4L465.2 37.8L467.2 38.4L469.2 39.0L471.3 39.7L473.3 40.6L475.3 41.7L477.3 42.9L479.4 44.4L481.4 46.0L483.4 47.9L485.5 50.1L487.5 52.5L489.5 55.1L491.5 58.0L493.6 61.0L495.6 64.2L497.6 67.5L499.6 70.9L501.7 74.4L503.7 77.9L505.7 81.4L507.8 85.0L509.8 88.6L511.8 92.2L513.8 95.8L515.9 99.4L517.9 102.9L519.9 106.5L522.0 109.0L524.0 109.0L526.0 109.0 M108.0 40.6L109.4 40.6L110.8 40.6L112.2 40.6L113.7 40.6L115.1 40.5L116.5 40.4L117.9 40.2L119.3 39.9L120.7 39.6L122.1 39.3L123.5 38.9L125.0 38.5L126.4 38.0L127.8 37.5L129.2 37.0L130.6 36.5L132.0 35.9L133.4 35.4L134.8 34.8L136.3 34.3L137.7 33.7L139.1 33.1L140.5 32.6L141.9 32.0L143.3 31.5L144.7 31.0L146.2 30.5L147.6 30.0L149.0 29.6L150.4 29.2L151.8 28.9L153.2 28.6L154.6 28.3L156.0 28.1L157.5 28.0L158.9 27.9L160.3 27.9L161.7 27.9L163.1 27.9L164.5 27.9L165.9 27.9L167.3 27.9L168.8 27.9L170.2 27.9L171.6 27.9L173.0 27.9L174.4 27.9L175.8 27.9L177.2 27.9L178.6 27.9 M579.0 40.6L577.6 40.6L576.2 40.6L574.8 40.6L573.3 40.6L571.9 40.5L570.5 40.4L569.1 40.2L567.7 39.9L566.3 39.6L564.9 39.3L563.5 38.9L562.0 38.5L560.6 38.0L559.2 37.5L557.8 37.0L556.4 36.5L555.0 35.9L553.6 35.4L552.2 34.8L550.7 34.3L549.3 33.7L547.9 33.1L546.5 32.6L545.1 32.0L543.7 31.5L542.3 31.0L540.8 30.5L539.4 30.0L538.0 29.6L536.6 29.2L535.2 28.9L533.8 28.6L532.4 28.3L531.0 28.1L529.5 28.0L528.1 27.9L526.7 27.9L525.3 27.9L523.9 27.9L522.5 27.9L521.1 27.9L519.7 27.9L518.2 27.9L516.8 27.9L515.4 27.9L514.0 27.9L512.6 27.9L511.2 27.9L509.8 27.9L508.3 27.9 M108.0 57.0L110.1 57.0L112.2 57.0L114.4 57.0L116.5 57.0L118.6 57.0L120.7 57.0L122.8 57.0L125.0 57.0L127.1 57.0L129.2 57.0L131.3 57.0L133.4 57.0L135.6 56.8L137.7 56.5L139.8 56.1L141.9 55.6L144.0 55.1L146.2 54.4L148.3 53.6L150.4 52.8L152.5 52.0L154.6 51.0L156.7 50.0L158.9 49.0L161.0 48.0L163.1 46.9L165.2 45.9L167.3 44.8L169.5 43.7L171.6 42.6L173.7 41.6L175.8 40.5L177.9 39.5L180.1 38.6L182.2 37.7L184.3 36.8L186.4 36.0L188.5 35.3L190.7 34.7L192.8 34.2L194.9 33.7L197.0 33.4L199.1 33.1L201.3 33.0L203.4 33.0L205.5 33.0L207.6 33.0L209.7 33.0L211.9 33.0L214.0 33.0 M579.0 57.0L576.9 57.0L574.8 57.0L572.6 57.0L570.5 57.0L568.4 57.0L566.3 57.0L564.2 57.0L562.0 57.0L559.9 57.0L557.8 57.0L555.7 57.0L553.6 57.0L551.4 56.8L549.3 56.5L547.2 56.1L545.1 55.6L543.0 55.1L540.8 54.4L538.7 53.6L536.6 52.8L534.5 52.0L532.4 51.0L530.3 50.0L528.1 49.0L526.0 48.0L523.9 46.9L521.8 45.9L519.7 44.8L517.5 43.7L515.4 42.6L513.3 41.6L511.2 40.5L509.1 39.5L506.9 38.6L504.8 37.7L502.7 36.8L500.6 36.0L498.5 35.3L496.3 34.7L494.2 34.2L492.1 33.7L490.0 33.4L487.9 33.1L485.7 33.0L483.6 33.0L481.5 33.0L479.4 33.0L477.3 33.0L475.1 33.0L473.0 33.0 M108.0 65.6L109.6 65.5L111.3 65.2L112.9 64.9L114.6 64.5L116.2 63.9L117.9 63.3L119.5 62.7L121.2 61.9L122.8 61.1L124.5 60.2L126.1 59.3L127.8 58.4L129.4 57.4L131.1 56.4L132.7 55.4L134.4 54.3L136.0 53.3L137.7 52.2L139.3 51.2L141.0 50.1L142.6 49.1L144.3 48.1L145.9 47.2L147.6 46.3L149.2 45.4L150.9 44.6L152.5 43.8L154.2 43.1L155.8 42.5L157.5 41.9L159.1 41.5L160.8 41.1L162.4 40.8L164.0 40.6L165.7 40.6L167.3 40.6L169.0 40.6L170.6 40.6L172.3 40.6L173.9 40.6L175.6 40.6L177.2 40.6L178.9 40.6L180.5 40.6L182.2 40.6L183.8 40.6L185.5 40.6L187.1 40.6L188.8 40.6L190.4 40.6 M579.0 65.6L577.4 65.5L575.7 65.2L574.1 64.9L572.4 64.5L570.8 63.9L569.1 63.3L567.5 62.7L565.8 61.9L564.2 61.1L562.5 60.2L560.9 59.3L559.2 58.4L557.6 57.4L555.9 56.4L554.3 55.4L552.6 54.3L551.0 53.3L549.3 52.2L547.7 51.2L546.0 50.1L544.4 49.1L542.7 48.1L541.1 47.2L539.4 46.3L537.8 45.4L536.1 44.6L534.5 43.8L532.8 43.1L531.2 42.5L529.5 41.9L527.9 41.5L526.2 41.1L524.6 40.8L523.0 40.6L521.3 40.6L519.7 40.6L518.0 40.6L516.4 40.6L514.7 40.6L513.1 40.6L511.4 40.6L509.8 40.6L508.1 40.6L506.5 40.6L504.8 40.6L503.2 40.6L501.5 40.6L499.9 40.6L498.2 40.6L496.6 40.6 M108.0 76.3L110.4 76.3L112.7 76.3L115.1 76.3L117.4 76.3L119.8 76.3L122.1 76.3L124.5 76.3L126.8 76.3L129.2 76.3L131.6 76.3L133.9 76.3L136.3 76.3L138.6 76.3L141.0 76.1L143.3 75.9L145.7 75.5L148.0 75.0L150.4 74.4L152.7 73.7L155.1 73.0L157.5 72.1L159.8 71.2L162.2 70.2L164.5 69.2L166.9 68.1L169.2 67.0L171.6 65.8L173.9 64.6L176.3 63.4L178.6 62.2L181.0 61.0L183.4 59.8L185.7 58.7L188.1 57.5L190.4 56.4L192.8 55.3L195.1 54.3L197.5 53.3L199.8 52.4L202.2 51.5L204.6 50.7L206.9 50.0L209.3 49.5L211.6 49.0L214.0 48.6L216.3 48.3L218.7 48.2L221.0 48.2L223.4 48.2L225.8 48.2 M579.0 76.3L576.6 76.3L574.3 76.3L571.9 76.3L569.6 76.3L567.2 76.3L564.9 76.3L562.5 76.3L560.2 76.3L557.8 76.3L555.5 76.3L553.1 76.3L550.7 76.3L548.4 76.3L546.0 76.1L543.7 75.9L541.3 75.5L539.0 75.0L536.6 74.4L534.3 73.7L531.9 73.0L529.5 72.1L527.2 71.2L524.8 70.2L522.5 69.2L520.1 68.1L517.8 67.0L515.4 65.8L513.1 64.6L510.7 63.4L508.3 62.2L506.0 61.0L503.6 59.8L501.3 58.7L498.9 57.5L496.6 56.4L494.2 55.3L491.9 54.3L489.5 53.3L487.2 52.4L484.8 51.5L482.4 50.7L480.1 50.0L477.7 49.5L475.4 49.0L473.0 48.6L470.7 48.3L468.3 48.2L466.0 48.2L463.6 48.2L461.2 48.2 M108.0 83.6L110.1 83.6L112.2 83.6L114.4 83.6L116.5 83.6L118.6 83.6L120.7 83.6L122.8 83.6L125.0 83.6L127.1 83.5L129.2 83.3L131.3 82.9L133.4 82.4L135.6 81.8L137.7 81.1L139.8 80.3L141.9 79.4L144.0 78.4L146.2 77.4L148.3 76.3L150.4 75.2L152.5 74.0L154.6 72.8L156.7 71.5L158.9 70.3L161.0 69.0L163.1 67.8L165.2 66.5L167.3 65.3L169.5 64.1L171.6 63.0L173.7 61.9L175.8 60.9L177.9 59.9L180.1 59.0L182.2 58.2L184.3 57.5L186.4 56.9L188.5 56.5L190.7 56.1L192.8 55.9L194.9 55.8L197.0 55.8L199.1 55.8L201.3 55.8L203.4 55.8L205.5 55.8L207.6 55.8L209.7 55.8L211.9 55.8L214.0 55.8 M579.0 83.6L576.9 83.6L574.8 83.6L572.6 83.6L570.5 83.6L568.4 83.6L566.3 83.6L564.2 83.6L562.0 83.6L559.9 83.5L557.8 83.3L555.7 82.9L553.6 82.4L551.4 81.8L549.3 81.1L547.2 80.3L545.1 79.4L543.0 78.4L540.8 77.4L538.7 76.3L536.6 75.2L534.5 74.0L532.4 72.8L530.3 71.5L528.1 70.3L526.0 69.0L523.9 67.8L521.8 66.5L519.7 65.3L517.5 64.1L515.4 63.0L513.3 61.9L511.2 60.9L509.1 59.9L506.9 59.0L504.8 58.2L502.7 57.5L500.6 56.9L498.5 56.5L496.3 56.1L494.2 55.9L492.1 55.8L490.0 55.8L487.9 55.8L485.7 55.8L483.6 55.8L481.5 55.8L479.4 55.8L477.3 55.8L475.1 55.8L473.0 55.8 M108.0 97.6L110.8 97.6L113.7 97.6L116.5 97.6L119.3 97.6L122.1 97.6L125.0 97.6L127.8 97.6L130.6 97.6L133.4 97.6L136.3 97.6L139.1 97.6L141.9 97.6L144.7 97.6L147.6 97.4L150.4 97.0L153.2 96.5L156.0 95.9L158.9 95.1L161.7 94.2L164.5 93.2L167.3 92.0L170.2 90.8L173.0 89.5L175.8 88.2L178.6 86.8L181.5 85.3L184.3 83.8L187.1 82.3L190.0 80.7L192.8 79.2L195.6 77.7L198.4 76.2L201.3 74.7L204.1 73.2L206.9 71.9L209.7 70.6L212.6 69.3L215.4 68.2L218.2 67.1L221.0 66.2L223.9 65.3L226.7 64.6L229.5 64.1L232.3 63.7L235.2 63.4L238.0 63.4L240.8 63.4L243.6 63.4L246.5 63.4L249.3 63.4 M579.0 97.6L576.2 97.6L573.3 97.6L570.5 97.6L567.7 97.6L564.9 97.6L562.0 97.6L559.2 97.6L556.4 97.6L553.6 97.6L550.7 97.6L547.9 97.6L545.1 97.6L542.3 97.6L539.4 97.4L536.6 97.0L533.8 96.5L531.0 95.9L528.1 95.1L525.3 94.2L522.5 93.2L519.7 92.0L516.8 90.8L514.0 89.5L511.2 88.2L508.3 86.8L505.5 85.3L502.7 83.8L499.9 82.3L497.0 80.7L494.2 79.2L491.4 77.7L488.6 76.2L485.7 74.7L482.9 73.2L480.1 71.9L477.3 70.6L474.4 69.3L471.6 68.2L468.8 67.1L466.0 66.2L463.1 65.3L460.3 64.6L457.5 64.1L454.7 63.7L451.8 63.4L449.0 63.4L446.2 63.4L443.4 63.4L440.5 63.4L437.7 63.4 M108.0 91.2L109.4 91.2L110.8 91.1L112.2 90.9L113.7 90.6L115.1 90.3L116.5 89.9L117.9 89.5L119.3 89.0L120.7 88.5L122.1 88.0L123.5 87.4L125.0 86.8L126.4 86.1L127.8 85.5L129.2 84.8L130.6 84.1L132.0 83.4L133.4 82.7L134.8 82.1L136.3 81.4L137.7 80.7L139.1 80.1L140.5 79.5L141.9 79.0L143.3 78.4L144.7 77.9L146.2 77.5L147.6 77.1L149.0 76.7L150.4 76.5L151.8 76.3L153.2 76.1L154.6 76.0L156.0 76.0L157.5 76.0L158.9 76.0L160.3 76.0L161.7 76.0L163.1 76.0L164.5 76.0L165.9 76.0L167.3 76.0L168.8 76.0L170.2 76.0L171.6 76.0L173.0 76.0L174.4 76.0L175.8 76.0L177.2 76.0L178.6 76.0 M579.0 91.2L577.6 91.2L576.2 91.1L574.8 90.9L573.3 90.6L571.9 90.3L570.5 89.9L569.1 89.5L567.7 89.0L566.3 88.5L564.9 88.0L563.5 87.4L562.0 86.8L560.6 86.1L559.2 85.5L557.8 84.8L556.4 84.1L555.0 83.4L553.6 82.7L552.2 82.1L550.7 81.4L549.3 80.7L547.9 80.1L546.5 79.5L545.1 79.0L543.7 78.4L542.3 77.9L540.8 77.5L539.4 77.1L538.0 76.7L536.6 76.5L535.2 76.3L533.8 76.1L532.4 76.0L531.0 76.0L529.5 76.0L528.1 76.0L526.7 76.0L525.3 76.0L523.9 76.0L522.5 76.0L521.1 76.0L519.7 76.0L518.2 76.0L516.8 76.0L515.4 76.0L514.0 76.0L512.6 76.0L511.2 76.0L509.8 76.0L508.3 76.0 M108.0 102.6L110.1 102.6L112.2 102.6L114.4 102.6L116.5 102.6L118.6 102.6L120.7 102.6L122.8 102.5L125.0 102.3L127.1 102.1L129.2 101.7L131.3 101.3L133.4 100.8L135.6 100.2L137.7 99.6L139.8 98.9L141.9 98.2L144.0 97.5L146.2 96.7L148.3 95.9L150.4 95.0L152.5 94.2L154.6 93.3L156.7 92.5L158.9 91.6L161.0 90.8L163.1 90.0L165.2 89.2L167.3 88.4L169.5 87.7L171.6 87.0L173.7 86.3L175.8 85.7L177.9 85.2L180.1 84.8L182.2 84.4L184.3 84.0L186.4 83.8L188.5 83.7L190.7 83.6L192.8 83.6L194.9 83.6L197.0 83.6L199.1 83.6L201.3 83.6L203.4 83.6L205.5 83.6L207.6 83.6L209.7 83.6L211.9 83.6L214.0 83.6 M579.0 102.6L576.9 102.6L574.8 102.6L572.6 102.6L570.5 102.6L568.4 102.6L566.3 102.6L564.2 102.5L562.0 102.3L559.9 102.1L557.8 101.7L555.7 101.3L553.6 100.8L551.4 100.2L549.3 99.6L547.2 98.9L545.1 98.2L543.0 97.5L540.8 96.7L538.7 95.9L536.6 95.0L534.5 94.2L532.4 93.3L530.3 92.5L528.1 91.6L526.0 90.8L523.9 90.0L521.8 89.2L519.7 88.4L517.5 87.7L515.4 87.0L513.3 86.3L511.2 85.7L509.1 85.2L506.9 84.8L504.8 84.4L502.7 84.0L500.6 83.8L498.5 83.7L496.3 83.6L494.2 83.6L492.1 83.6L490.0 83.6L487.9 83.6L485.7 83.6L483.6 83.6L481.5 83.6L479.4 83.6L477.3 83.6L475.1 83.6L473.0 83.6 M108.0 48.2L110.4 48.2L112.7 48.2L115.1 48.2L117.4 48.2L119.8 48.2L122.1 48.2L124.5 48.2L126.8 48.2L129.2 48.2L131.6 48.2L133.9 48.2L136.3 48.3L138.6 48.5L141.0 48.7L143.3 48.9L145.7 49.2L148.0 49.6L150.4 50.0L152.7 50.4L155.1 50.8L157.5 51.3L159.8 51.7L162.2 52.2L164.5 52.7L166.9 53.2L169.2 53.8L171.6 54.3L173.9 54.7L176.3 55.2L178.6 55.7L181.0 56.1L183.4 56.5L185.7 56.9L188.1 57.3L190.4 57.6L192.8 57.8L195.1 58.0L197.5 58.2L199.8 58.3L202.2 58.3L204.6 58.3L206.9 58.3L209.3 58.3L211.6 58.3L214.0 58.3L216.3 58.3L218.7 58.3L221.0 58.3L223.4 58.3L225.8 58.3 M579.0 48.2L576.6 48.2L574.3 48.2L571.9 48.2L569.6 48.2L567.2 48.2L564.9 48.2L562.5 48.2L560.2 48.2L557.8 48.2L555.5 48.2L553.1 48.2L550.7 48.3L548.4 48.5L546.0 48.7L543.7 48.9L541.3 49.2L539.0 49.6L536.6 50.0L534.3 50.4L531.9 50.8L529.5 51.3L527.2 51.7L524.8 52.2L522.5 52.7L520.1 53.2L517.8 53.8L515.4 54.3L513.1 54.7L510.7 55.2L508.3 55.7L506.0 56.1L503.6 56.5L501.3 56.9L498.9 57.3L496.6 57.6L494.2 57.8L491.9 58.0L489.5 58.2L487.2 58.3L484.8 58.3L482.4 58.3L480.1 58.3L477.7 58.3L475.4 58.3L473.0 58.3L470.7 58.3L468.3 58.3L466.0 58.3L463.6 58.3L461.2 58.3 M108.0 71.0L110.1 71.0L112.2 71.0L114.4 71.0L116.5 71.0L118.6 71.0L120.7 71.0L122.8 71.0L125.0 71.2L127.1 71.4L129.2 71.6L131.3 71.9L133.4 72.2L135.6 72.6L137.7 73.0L139.8 73.5L141.9 73.9L144.0 74.4L146.2 75.0L148.3 75.5L150.4 76.1L152.5 76.6L154.6 77.2L156.7 77.8L158.9 78.3L161.0 78.9L163.1 79.4L165.2 80.0L167.3 80.5L169.5 81.0L171.6 81.4L173.7 81.9L175.8 82.2L177.9 82.6L180.1 82.9L182.2 83.2L184.3 83.4L186.4 83.5L188.5 83.6L190.7 83.6L192.8 83.6L194.9 83.6L197.0 83.6L199.1 83.6L201.3 83.6L203.4 83.6L205.5 83.6L207.6 83.6L209.7 83.6L211.9 83.6L214.0 83.6 M579.0 71.0L576.9 71.0L574.8 71.0L572.6 71.0L570.5 71.0L568.4 71.0L566.3 71.0L564.2 71.0L562.0 71.2L559.9 71.4L557.8 71.6L555.7 71.9L553.6 72.2L551.4 72.6L549.3 73.0L547.2 73.5L545.1 73.9L543.0 74.4L540.8 75.0L538.7 75.5L536.6 76.1L534.5 76.6L532.4 77.2L530.3 77.8L528.1 78.3L526.0 78.9L523.9 79.4L521.8 80.0L519.7 80.5L517.5 81.0L515.4 81.4L513.3 81.9L511.2 82.2L509.1 82.6L506.9 82.9L504.8 83.2L502.7 83.4L500.6 83.5L498.5 83.6L496.3 83.6L494.2 83.6L492.1 83.6L490.0 83.6L487.9 83.6L485.7 83.6L483.6 83.6L481.5 83.6L479.4 83.6L477.3 83.6L475.1 83.6L473.0 83.6 M249.3 41.3L252.4 41.3L255.6 41.3L258.7 41.3L261.9 41.3L265.0 41.3L268.1 41.3L271.3 41.3L274.4 41.4L277.6 41.6L280.7 41.8L283.8 41.9L287.0 42.1L290.1 42.3L293.3 42.4L296.4 42.6L299.5 42.7L302.7 42.9L305.8 43.0L309.0 43.2L312.1 43.3L315.2 43.5L318.4 43.6L321.5 43.7L324.7 43.8L327.8 44.0L330.9 44.1L334.1 44.2L337.2 44.3L340.4 44.3L343.5 44.4L346.6 44.3L349.8 44.3L352.9 44.2L356.1 44.1L359.2 44.0L362.3 43.8L365.5 43.7L368.6 43.6L371.8 43.5L374.9 43.3L378.0 43.2L381.2 43.0L384.3 42.9L387.5 42.7L390.6 42.6L393.7 42.4L396.9 42.3L400.0 42.1L403.2 41.9L406.3 41.8L409.4 41.6L412.6 41.4L415.7 41.3L418.9 41.3L422.0 41.3L425.1 41.3L428.3 41.3L431.4 41.3L434.6 41.3L437.7 41.3 M249.3 50.0L252.4 50.0L255.6 50.0L258.7 50.0L261.9 50.0L265.0 50.0L268.1 50.0L271.3 50.0L274.4 49.8L277.6 49.5L280.7 49.2L283.8 48.9L287.0 48.6L290.1 48.3L293.3 48.0L296.4 47.7L299.5 47.4L302.7 47.1L305.8 46.8L309.0 46.6L312.1 46.3L315.2 46.1L318.4 45.8L321.5 45.6L324.7 45.4L327.8 45.2L330.9 45.0L334.1 44.8L337.2 44.6L340.4 44.5L343.5 44.4L346.6 44.5L349.8 44.6L352.9 44.8L356.1 45.0L359.2 45.2L362.3 45.4L365.5 45.6L368.6 45.8L371.8 46.1L374.9 46.3L378.0 46.6L381.2 46.8L384.3 47.1L387.5 47.4L390.6 47.7L393.7 48.0L396.9 48.3L400.0 48.6L403.2 48.9L406.3 49.2L409.4 49.5L412.6 49.8L415.7 50.0L418.9 50.0L422.0 50.0L425.1 50.0L428.3 50.0L431.4 50.0L434.6 50.0L437.7 50.0 M249.3 36.3L252.4 36.3L255.6 36.3L258.7 36.3L261.9 36.3L265.0 36.3L268.1 36.3L271.3 36.3L274.4 36.5L277.6 37.0L280.7 37.4L283.8 37.9L287.0 38.3L290.1 38.8L293.3 39.2L296.4 39.6L299.5 40.0L302.7 40.4L305.8 40.8L309.0 41.2L312.1 41.6L315.2 41.9L318.4 42.3L321.5 42.6L324.7 42.9L327.8 43.2L330.9 43.5L334.1 43.8L337.2 44.0L340.4 44.2L343.5 44.4L346.6 44.2L349.8 44.0L352.9 43.8L356.1 43.5L359.2 43.2L362.3 42.9L365.5 42.6L368.6 42.3L371.8 41.9L374.9 41.6L378.0 41.2L381.2 40.8L384.3 40.4L387.5 40.0L390.6 39.6L393.7 39.2L396.9 38.8L400.0 38.3L403.2 37.9L406.3 37.4L409.4 37.0L412.6 36.5L415.7 36.3L418.9 36.3L422.0 36.3L425.1 36.3L428.3 36.3L431.4 36.3L434.6 36.3L437.7 36.3 M249.3 55.0L252.4 55.0L255.6 55.0L258.7 55.0L261.9 55.0L265.0 55.0L268.1 55.0L271.3 55.0L274.4 54.7L277.6 54.1L280.7 53.5L283.8 52.9L287.0 52.3L290.1 51.8L293.3 51.2L296.4 50.7L299.5 50.1L302.7 49.6L305.8 49.1L309.0 48.6L312.1 48.1L315.2 47.6L318.4 47.2L321.5 46.7L324.7 46.3L327.8 45.9L330.9 45.5L334.1 45.2L337.2 44.8L340.4 44.6L343.5 44.4L346.6 44.6L349.8 44.8L352.9 45.2L356.1 45.5L359.2 45.9L362.3 46.3L365.5 46.7L368.6 47.2L371.8 47.6L374.9 48.1L378.0 48.6L381.2 49.1L384.3 49.6L387.5 50.1L390.6 50.7L393.7 51.2L396.9 51.8L400.0 52.3L403.2 52.9L406.3 53.5L409.4 54.1L412.6 54.7L415.7 55.0L418.9 55.0L422.0 55.0L425.1 55.0L428.3 55.0L431.4 55.0L434.6 55.0L437.7 55.0 M249.3 31.2L252.4 31.2L255.6 31.2L258.7 31.2L261.9 31.2L265.0 31.2L268.1 31.2L271.3 31.2L274.4 31.6L277.6 32.3L280.7 33.1L283.8 33.8L287.0 34.5L290.1 35.2L293.3 35.9L296.4 36.6L299.5 37.3L302.7 37.9L305.8 38.6L309.0 39.2L312.1 39.8L315.2 40.4L318.4 40.9L321.5 41.5L324.7 42.0L327.8 42.5L330.9 43.0L334.1 43.4L337.2 43.8L340.4 44.2L343.5 44.4L346.6 44.2L349.8 43.8L352.9 43.4L356.1 43.0L359.2 42.5L362.3 42.0L365.5 41.5L368.6 40.9L371.8 40.4L374.9 39.8L378.0 39.2L381.2 38.6L384.3 37.9L387.5 37.3L390.6 36.6L393.7 35.9L396.9 35.2L400.0 34.5L403.2 33.8L406.3 33.1L409.4 32.3L412.6 31.6L415.7 31.2L418.9 31.2L422.0 31.2L425.1 31.2L428.3 31.2L431.4 31.2L434.6 31.2L437.7 31.2 M249.3 60.1L252.4 60.1L255.6 60.1L258.7 60.1L261.9 60.1L265.0 60.1L268.1 60.1L271.3 60.1L274.4 59.6L277.6 58.7L280.7 57.9L283.8 57.0L287.0 56.1L290.1 55.3L293.3 54.5L296.4 53.7L299.5 52.9L302.7 52.1L305.8 51.3L309.0 50.6L312.1 49.9L315.2 49.2L318.4 48.5L321.5 47.8L324.7 47.2L327.8 46.6L330.9 46.0L334.1 45.5L337.2 45.1L340.4 44.7L343.5 44.4L346.6 44.7L349.8 45.1L352.9 45.5L356.1 46.0L359.2 46.6L362.3 47.2L365.5 47.8L368.6 48.5L371.8 49.2L374.9 49.9L378.0 50.6L381.2 51.3L384.3 52.1L387.5 52.9L390.6 53.7L393.7 54.5L396.9 55.3L400.0 56.1L403.2 57.0L406.3 57.9L409.4 58.7L412.6 59.6L415.7 60.1L418.9 60.1L422.0 60.1L425.1 60.1L428.3 60.1L431.4 60.1L434.6 60.1L437.7 60.1" stroke="#fff" stroke-width="2.3" fill="none"/><path d="M108.0 418.0L111.9 417.8L115.8 417.4L119.8 416.8L123.7 416.0L127.6 415.0L131.6 414.0L135.5 412.8L139.4 411.5L143.3 410.1L147.2 408.5L151.2 406.9L155.1 405.2L159.0 403.4L162.9 401.5L166.9 399.6L170.8 397.6L174.7 395.5L178.6 393.4L182.6 391.2L186.5 389.0L190.4 386.7L194.3 384.5L198.3 382.1L202.2 379.8L206.1 377.5L210.1 375.1L214.0 372.8L217.9 370.4L221.8 368.1L225.8 365.7L229.7 363.4L233.6 361.1L237.5 358.8L241.4 356.6L245.4 354.4L249.3 352.3L253.2 350.2L257.1 348.1L261.1 346.1L265.0 344.2L268.9 342.4L272.9 340.6L276.8 338.8L280.7 337.2L284.6 335.6L288.6 334.2L292.5 332.8L296.4 331.5L300.3 330.3L304.2 329.2L308.2 328.2L312.1 327.2L316.0 326.4L320.0 325.7L323.9 325.1L327.8 324.6L331.7 324.3L335.6 324.0L339.6 323.8L343.5 323.8L347.4 323.8L351.4 324.0L355.3 324.3L359.2 324.6L363.1 325.1L367.1 325.7L371.0 326.4L374.9 327.2L378.8 328.2L382.8 329.2L386.7 330.3L390.6 331.5L394.5 332.8L398.4 334.2L402.4 335.6L406.3 337.2L410.2 338.8L414.2 340.6L418.1 342.4L422.0 344.2L425.9 346.1L429.9 348.1L433.8 350.2L437.7 352.3L441.6 354.4L445.6 356.6L449.5 358.8L453.4 361.1L457.3 363.4L461.2 365.7L465.2 368.1L469.1 370.4L473.0 372.8L476.9 375.1L480.9 377.5L484.8 379.8L488.7 382.1L492.6 384.5L496.6 386.7L500.5 389.0L504.4 391.2L508.3 393.4L512.3 395.5L516.2 397.6L520.1 399.6L524.0 401.5L528.0 403.4L531.9 405.2L535.8 406.9L539.8 408.5L543.7 410.1L547.6 411.5L551.5 412.8L555.5 414.0L559.4 415.0L563.3 416.0L567.2 416.8L571.1 417.4L575.1 417.8L579.0 418.0 M217.3 216.4L221.5 215.9L225.7 215.4L229.9 214.8L234.1 214.3L238.3 213.8L242.5 213.3L246.7 212.8L250.9 212.3L255.1 211.8L259.3 211.3L263.6 210.8L267.8 210.3L272.0 209.8L276.2 209.3L280.4 208.9L284.6 208.4L288.8 207.9L293.0 207.5L297.2 207.0L301.4 206.6L305.6 206.1L309.8 205.7L314.0 205.3L318.3 204.8L322.5 204.4L326.7 204.0L330.9 203.7L335.1 203.3L339.3 203.0L343.5 202.7L347.7 203.0L351.9 203.3L356.1 203.7L360.3 204.0L364.5 204.4L368.7 204.8L373.0 205.3L377.2 205.7L381.4 206.1L385.6 206.6L389.8 207.0L394.0 207.5L398.2 207.9L402.4 208.4L406.6 208.9L410.8 209.3L415.0 209.8L419.2 210.3L423.4 210.8L427.7 211.3L431.9 211.8L436.1 212.3L440.3 212.8L444.5 213.3L448.7 213.8L452.9 214.3L457.1 214.8L461.3 215.4L465.5 215.9L469.7 216.4 M108.0 128.5L110.4 128.5L112.7 128.5L115.1 128.5L117.4 128.5L119.8 128.5L122.1 128.5L124.5 128.5L126.8 128.5L129.2 128.5L131.6 128.5L133.9 128.5L136.3 128.5L138.6 128.5L141.0 128.5L143.3 128.5L145.7 128.5L148.0 128.5L150.4 128.5L152.7 128.5L155.1 128.5L157.5 128.5L159.8 128.5L162.2 128.5L164.5 128.5L166.9 128.5L169.2 128.5L171.6 128.5L173.9 128.5L176.3 128.5L178.6 128.5L181.0 128.5L183.4 128.5L185.7 128.5L188.1 128.5L190.4 128.5L192.8 128.5L195.1 128.5L197.5 128.5L199.8 128.5L202.2 128.5L204.6 128.5L206.9 128.5L209.3 128.5L211.6 128.5L214.0 128.5L216.3 128.5L218.7 128.5L221.0 128.5L223.4 128.5L225.8 128.5L228.1 128.4L230.5 128.3L232.8 128.0L235.2 127.6L237.5 127.2L239.9 126.7L242.2 126.1L244.6 125.4L246.9 124.7L249.3 124.0L251.7 123.2L254.0 122.3L256.4 121.4L258.7 120.5L261.1 119.6L263.4 118.7L265.8 117.8L268.1 116.8L270.5 115.9L272.9 115.0L275.2 114.1L277.6 113.3L279.9 112.5L282.3 111.7L284.6 111.0L287.0 110.3L289.3 109.7L291.7 109.2L294.0 108.8L296.4 108.4L298.8 108.2L301.1 108.0L303.5 108.0L305.8 108.0L308.2 108.0L310.5 108.0L312.9 108.0L315.2 108.0L317.6 108.0L320.0 108.0L322.3 108.0L324.7 108.0L327.0 108.0L329.4 108.0L331.7 108.0L334.1 108.0L336.4 108.0L338.8 108.0L341.1 108.0L343.5 108.0L345.9 108.0L348.2 108.0L350.6 108.0L352.9 108.0L355.3 108.0L357.6 108.0L360.0 108.0L362.3 108.0L364.7 108.0L367.1 108.0L369.4 108.0L371.8 108.0L374.1 108.0L376.5 108.0L378.8 108.0L381.2 108.0L383.5 108.0L385.9 108.0L388.2 108.2L390.6 108.4L393.0 108.8L395.3 109.2L397.7 109.7L400.0 110.3L402.4 111.0L404.7 111.7L407.1 112.5L409.4 113.3L411.8 114.1L414.2 115.0L416.5 115.9L418.9 116.8L421.2 117.8L423.6 118.7L425.9 119.6L428.3 120.5L430.6 121.4L433.0 122.3L435.3 123.2L437.7 124.0L440.1 124.7L442.4 125.4L444.8 126.1L447.1 126.7L449.5 127.2L451.8 127.6L454.2 128.0L456.5 128.3L458.9 128.4L461.2 128.5L463.6 128.5L466.0 128.5L468.3 128.5L470.7 128.5L473.0 128.5L475.4 128.5L477.7 128.5L480.1 128.5L482.4 128.5L484.8 128.5L487.2 128.5L489.5 128.5L491.9 128.5L494.2 128.5L496.6 128.5L498.9 128.5L501.3 128.5L503.6 128.5L506.0 128.5L508.3 128.5L510.7 128.5L513.1 128.5L515.4 128.5L517.8 128.5L520.1 128.5L522.5 128.5L524.8 128.5L527.2 128.5L529.5 128.5L531.9 128.5L534.3 128.5L536.6 128.5L539.0 128.5L541.3 128.5L543.7 128.5L546.0 128.5L548.4 128.5L550.7 128.5L553.1 128.5L555.5 128.5L557.8 128.5L560.2 128.5L562.5 128.5L564.9 128.5L567.2 128.5L569.6 128.5L571.9 128.5L574.3 128.5L576.6 128.5L579.0 128.5" stroke="#e8157f" stroke-width="2.6" fill="none"/></g><rect x="108" y="38" width="471" height="380" fill="none" stroke="#000" stroke-width="4"/><path d="M100 418.0H108 M100 291.4H108 M579 291.4H571 M100 164.7H108 M579 164.7H571 M100 38.1H108 M108.0 418V425 M343.5 418V425 M343.5 38V45 M579.0 418V425" stroke="#000" stroke-width="4" fill="none"/><text x="89.2" y="425.8" font-size="28" text-anchor="end">0</text><text x="89.2" y="293.0" font-size="28" text-anchor="end">5</text><text x="89.2" y="170.8" font-size="28" text-anchor="end">10</text><text x="89.2" y="49.0" font-size="28" text-anchor="end">15</text><text x="108.0" y="457.5" font-size="27.5" text-anchor="middle">0</text><text x="343.5" y="457.5" font-size="27.5" text-anchor="middle">1</text><text x="579.0" y="457.5" font-size="27.5" text-anchor="middle">2</text><text transform="translate(41.4,315) rotate(-90)" font-size="27.5" textLength="190" lengthAdjust="spacingAndGlyphs">Frequency(kHz)</text><text x="295" y="490" font-size="28" font-weight="bold" textLength="79" lengthAdjust="spacingAndGlyphs"><tspan font-style="italic">k</tspan><tspan font-style="italic" font-size="20" dy="3">x</tspan><tspan dy="-3" dx="3">(</tspan><tspan font-style="italic">π</tspan><tspan>/a)</tspan></text><rect x="633" y="36.2" width="502" height="96.6" fill="#0070c0"/><clipPath id="clipB0"><polygon points="612.6,16.2 1147.0,16.2 1068.1,152.8 691.4,152.8"/></clipPath><clipPath id="clipB0r"><rect x="633" y="36.2" width="502" height="96.6"/></clipPath><g clip-path="url(#clipB0r)"><g clip-path="url(#clipB0)"><path d="M608.2 50.9 598.8 46.0 589.8 40.2 590.3 50.9 589.8 61.6 598.8 55.8ZM632.9 50.9 623.4 46.0 614.4 40.2 614.9 50.9 614.4 61.6 623.4 55.8ZM657.5 50.9 648.0 46.0 639.1 40.2 639.6 50.9 639.1 61.6 648.0 55.8ZM682.1 50.9 672.7 46.0 663.7 40.2 664.2 50.9 663.7 61.6 672.7 55.8ZM1125.5 50.9 1116.0 46.0 1107.0 40.2 1107.5 50.9 1107.0 61.6 1116.0 55.8ZM1150.1 50.9 1140.6 46.0 1131.6 40.2 1132.1 50.9 1131.6 61.6 1140.6 55.8ZM1174.7 50.9 1165.3 46.0 1156.3 40.2 1156.8 50.9 1156.3 61.6 1165.3 55.8ZM620.6 72.4 611.1 67.5 602.1 61.7 602.6 72.4 602.1 83.1 611.1 77.3ZM645.2 72.4 635.7 67.5 626.7 61.7 627.2 72.4 626.7 83.1 635.7 77.3ZM669.8 72.4 660.3 67.5 651.4 61.7 651.9 72.4 651.4 83.1 660.3 77.3ZM694.4 72.4 685.0 67.5 676.0 61.7 676.5 72.4 676.0 83.1 685.0 77.3ZM1088.5 72.4 1079.1 67.5 1070.1 61.7 1070.6 72.4 1070.1 83.1 1079.1 77.3ZM1113.2 72.4 1103.7 67.5 1094.7 61.7 1095.2 72.4 1094.7 83.1 1103.7 77.3ZM1137.8 72.4 1128.3 67.5 1119.3 61.7 1119.8 72.4 1119.3 83.1 1128.3 77.3ZM1162.4 72.4 1152.9 67.5 1144.0 61.7 1144.5 72.4 1144.0 83.1 1152.9 77.3ZM1187.0 72.4 1177.6 67.5 1168.6 61.7 1169.1 72.4 1168.6 83.1 1177.6 77.3ZM632.9 93.9 623.4 89.0 614.4 83.2 614.9 93.9 614.4 104.6 623.4 98.8ZM657.5 93.9 648.0 89.0 639.1 83.2 639.6 93.9 639.1 104.6 648.0 98.8ZM682.1 93.9 672.7 89.0 663.7 83.2 664.2 93.9 663.7 104.6 672.7 98.8ZM706.8 93.9 697.3 89.0 688.3 83.2 688.8 93.9 688.3 104.6 697.3 98.8ZM731.4 93.9 721.9 89.0 712.9 83.2 713.4 93.9 712.9 104.6 721.9 98.8ZM756.0 93.9 746.5 89.0 737.6 83.2 738.1 93.9 737.6 104.6 746.5 98.8ZM780.6 93.9 771.2 89.0 762.2 83.2 762.7 93.9 762.2 104.6 771.2 98.8ZM1002.3 93.9 992.8 89.0 983.9 83.2 984.4 93.9 983.9 104.6 992.8 98.8ZM1027.0 93.9 1017.5 89.0 1008.5 83.2 1009.0 93.9 1008.5 104.6 1017.5 98.8ZM1051.6 93.9 1042.1 89.0 1033.1 83.2 1033.6 93.9 1033.1 104.6 1042.1 98.8ZM1076.2 93.9 1066.7 89.0 1057.8 83.2 1058.3 93.9 1057.8 104.6 1066.7 98.8ZM1100.8 93.9 1091.4 89.0 1082.4 83.2 1082.9 93.9 1082.4 104.6 1091.4 98.8ZM1125.5 93.9 1116.0 89.0 1107.0 83.2 1107.5 93.9 1107.0 104.6 1116.0 98.8ZM1150.1 93.9 1140.6 89.0 1131.6 83.2 1132.1 93.9 1131.6 104.6 1140.6 98.8ZM1174.7 93.9 1165.3 89.0 1156.3 83.2 1156.8 93.9 1156.3 104.6 1165.3 98.8ZM1199.4 93.9 1189.9 89.0 1180.9 83.2 1181.4 93.9 1180.9 104.6 1189.9 98.8ZM645.2 115.4 635.7 110.5 626.7 104.7 627.2 115.4 626.7 126.1 635.7 120.3ZM669.8 115.4 660.3 110.5 651.4 104.7 651.9 115.4 651.4 126.1 660.3 120.3ZM694.4 115.4 685.0 110.5 676.0 104.7 676.5 115.4 676.0 126.1 685.0 120.3ZM719.1 115.4 709.6 110.5 700.6 104.7 701.1 115.4 700.6 126.1 709.6 120.3ZM743.7 115.4 734.2 110.5 725.3 104.7 725.8 115.4 725.3 126.1 734.2 120.3ZM768.3 115.4 758.9 110.5 749.9 104.7 750.4 115.4 749.9 126.1 758.9 120.3ZM793.0 115.4 783.5 110.5 774.5 104.7 775.0 115.4 774.5 126.1 783.5 120.3ZM817.6 115.4 808.1 110.5 799.1 104.7 799.6 115.4 799.1 126.1 808.1 120.3ZM842.2 115.4 832.8 110.5 823.8 104.7 824.3 115.4 823.8 126.1 832.8 120.3ZM965.4 115.4 955.9 110.5 946.9 104.7 947.4 115.4 946.9 126.1 955.9 120.3ZM990.0 115.4 980.5 110.5 971.6 104.7 972.1 115.4 971.6 126.1 980.5 120.3ZM1014.6 115.4 1005.2 110.5 996.2 104.7 996.7 115.4 996.2 126.1 1005.2 120.3ZM1039.3 115.4 1029.8 110.5 1020.8 104.7 1021.3 115.4 1020.8 126.1 1029.8 120.3ZM1063.9 115.4 1054.4 110.5 1045.4 104.7 1045.9 115.4 1045.4 126.1 1054.4 120.3ZM1088.5 115.4 1079.1 110.5 1070.1 104.7 1070.6 115.4 1070.1 126.1 1079.1 120.3ZM1113.2 115.4 1103.7 110.5 1094.7 104.7 1095.2 115.4 1094.7 126.1 1103.7 120.3ZM1137.8 115.4 1128.3 110.5 1119.3 104.7 1119.8 115.4 1119.3 126.1 1128.3 120.3ZM1162.4 115.4 1152.9 110.5 1144.0 104.7 1144.5 115.4 1144.0 126.1 1152.9 120.3ZM1187.0 115.4 1177.6 110.5 1168.6 104.7 1169.1 115.4 1168.6 126.1 1177.6 120.3ZM1211.7 115.4 1202.2 110.5 1193.2 104.7 1193.7 115.4 1193.2 126.1 1202.2 120.3Z" fill="#000000"/><path d="M940.7 115.4 931.3 110.5 922.3 104.7 922.8 115.4 922.3 126.1 931.3 120.3Z" fill="#010000"/><path d="M706.8 50.9 697.3 46.0 688.3 40.2 688.8 50.9 688.3 61.6 697.3 55.8Z" fill="#050000"/><path d="M719.1 72.4 709.6 67.5 700.6 61.7 701.1 72.4 700.6 83.1 709.6 77.3Z" fill="#0a0000"/><path d="M1063.9 72.4 1054.4 67.5 1045.4 61.7 1045.9 72.4 1045.4 83.1 1054.4 77.3Z" fill="#0c0000"/><path d="M805.3 93.9 795.8 89.0 786.8 83.2 787.3 93.9 786.8 104.6 795.8 98.8Z" fill="#100000"/><path d="M977.7 93.9 968.2 89.0 959.2 83.2 959.7 93.9 959.2 104.6 968.2 98.8Z" fill="#130000"/><path d="M1100.8 50.9 1091.4 46.0 1082.4 40.2 1082.9 50.9 1082.4 61.6 1091.4 55.8Z" fill="#160000"/><path d="M866.9 115.4 857.4 110.5 848.4 104.7 848.9 115.4 848.4 126.1 857.4 120.3Z" fill="#190000"/><path d="M916.1 115.4 906.6 110.5 897.7 104.7 898.2 115.4 897.7 126.1 906.6 120.3Z" fill="#1a0000"/><path d="M891.5 115.4 882.0 110.5 873.0 104.7 873.5 115.4 873.0 126.1 882.0 120.3Z" fill="#240000"/><path d="M743.7 72.4 734.2 67.5 725.3 61.7 725.8 72.4 725.3 83.1 734.2 77.3Z" fill="#300000"/><path d="M731.4 50.9 721.9 46.0 712.9 40.2 713.4 50.9 712.9 61.6 721.9 55.8Z" fill="#310000"/><path d="M1039.3 72.4 1029.8 67.5 1020.8 61.7 1021.3 72.4 1020.8 83.1 1029.8 77.3Z" fill="#330000"/><path d="M829.9 93.9 820.4 89.0 811.5 83.2 812.0 93.9 811.5 104.6 820.4 98.8Z" fill="#3a0000"/><path d="M953.1 93.9 943.6 89.0 934.6 83.2 935.1 93.9 934.6 104.6 943.6 98.8Z" fill="#3c0000"/><path d="M1076.2 50.9 1066.7 46.0 1057.8 40.2 1058.3 50.9 1057.8 61.6 1066.7 55.8Z" fill="#500000"/><path d="M854.5 93.9 845.1 89.0 836.1 83.2 836.6 93.9 836.1 104.6 845.1 98.8Z" fill="#620000"/><path d="M768.3 72.4 758.9 67.5 749.9 61.7 750.4 72.4 749.9 83.1 758.9 77.3Z" fill="#630000"/><path d="M928.4 93.9 919.0 89.0 910.0 83.2 910.5 93.9 910.0 104.6 919.0 98.8Z" fill="#640000"/><path d="M1014.6 72.4 1005.2 67.5 996.2 61.7 996.7 72.4 996.2 83.1 1005.2 77.3Z" fill="#670000"/><path d="M1051.6 50.9 1042.1 46.0 1033.1 40.2 1033.6 50.9 1033.1 61.6 1042.1 55.8Z" fill="#6c0000"/><path d="M756.0 50.9 746.5 46.0 737.6 40.2 738.1 50.9 737.6 61.6 746.5 55.8Z" fill="#6f0000"/><path d="M879.2 93.9 869.7 89.0 860.7 83.2 861.2 93.9 860.7 104.6 869.7 98.8Z" fill="#7b0000"/><path d="M903.8 93.9 894.3 89.0 885.4 83.2 885.9 93.9 885.4 104.6 894.3 98.8Z" fill="#7c0000"/><path d="M1027.0 50.9 1017.5 46.0 1008.5 40.2 1009.0 50.9 1008.5 61.6 1017.5 55.8Z" fill="#880000"/><path d="M793.0 72.4 783.5 67.5 774.5 61.7 775.0 72.4 774.5 83.1 783.5 77.3Z" fill="#9e0000"/><path d="M990.0 72.4 980.5 67.5 971.6 61.7 972.1 72.4 971.6 83.1 980.5 77.3Z" fill="#a20000"/><path d="M780.6 50.9 771.2 46.0 762.2 40.2 762.7 50.9 762.2 61.6 771.2 55.8Z" fill="#bf0000"/><path d="M1002.3 50.9 992.8 46.0 983.9 40.2 984.4 50.9 983.9 61.6 992.8 55.8Z" fill="#c80000"/><path d="M817.6 72.4 808.1 67.5 799.1 61.7 799.6 72.4 799.1 83.1 808.1 77.3Z" fill="#dc0000"/><path d="M965.4 72.4 955.9 67.5 946.9 61.7 947.4 72.4 946.9 83.1 955.9 77.3Z" fill="#e00000"/><path d="M842.2 72.4 832.8 67.5 823.8 61.7 824.3 72.4 823.8 83.1 832.8 77.3Z" fill="#ff0d00"/><path d="M940.7 72.4 931.3 67.5 922.3 61.7 922.8 72.4 922.3 83.1 931.3 77.3Z" fill="#ff0f00"/><path d="M805.3 50.9 795.8 46.0 786.8 40.2 787.3 50.9 786.8 61.6 795.8 55.8Z" fill="#ff1100"/><path d="M977.7 50.9 968.2 46.0 959.2 40.2 959.7 50.9 959.2 61.6 968.2 55.8Z" fill="#ff1600"/><path d="M866.9 72.4 857.4 67.5 848.4 61.7 848.9 72.4 848.4 83.1 857.4 77.3Z" fill="#ff2600"/><path d="M916.1 72.4 906.6 67.5 897.7 61.7 898.2 72.4 897.7 83.1 906.6 77.3Z" fill="#ff2800"/><path d="M891.5 72.4 882.0 67.5 873.0 61.7 873.5 72.4 873.0 83.1 882.0 77.3Z" fill="#ff3000"/><path d="M829.9 50.9 820.4 46.0 811.5 40.2 812.0 50.9 811.5 61.6 820.4 55.8Z" fill="#ff4d00"/><path d="M953.1 50.9 943.6 46.0 934.6 40.2 935.1 50.9 934.6 61.6 943.6 55.8Z" fill="#ff5100"/><path d="M854.5 50.9 845.1 46.0 836.1 40.2 836.6 50.9 836.1 61.6 845.1 55.8Z" fill="#ff7e00"/><path d="M928.4 50.9 919.0 46.0 910.0 40.2 910.5 50.9 910.0 61.6 919.0 55.8Z" fill="#ff8000"/><path d="M879.2 50.9 869.7 46.0 860.7 40.2 861.2 50.9 860.7 61.6 869.7 55.8Z" fill="#ff9900"/><path d="M903.8 50.9 894.3 46.0 885.4 40.2 885.9 50.9 885.4 61.6 894.3 55.8Z" fill="#ff9a00"/><path d="M604.7 50.9a3.5 3.5 0 1 0 7.1 0a3.5 3.5 0 1 0 -7.1 0ZM586.2 40.2a3.5 3.5 0 1 0 7.1 0a3.5 3.5 0 1 0 -7.1 0ZM586.2 61.6a3.5 3.5 0 1 0 7.1 0a3.5 3.5 0 1 0 -7.1 0ZM629.3 50.9a3.5 3.5 0 1 0 7.1 0a3.5 3.5 0 1 0 -7.1 0ZM610.9 40.2a3.5 3.5 0 1 0 7.1 0a3.5 3.5 0 1 0 -7.1 0ZM610.9 61.6a3.5 3.5 0 1 0 7.1 0a3.5 3.5 0 1 0 -7.1 0ZM654.0 50.9a3.5 3.5 0 1 0 7.1 0a3.5 3.5 0 1 0 -7.1 0ZM635.5 40.2a3.5 3.5 0 1 0 7.1 0a3.5 3.5 0 1 0 -7.1 0ZM635.5 61.6a3.5 3.5 0 1 0 7.1 0a3.5 3.5 0 1 0 -7.1 0ZM678.6 50.9a3.5 3.5 0 1 0 7.1 0a3.5 3.5 0 1 0 -7.1 0ZM660.1 40.2a3.5 3.5 0 1 0 7.1 0a3.5 3.5 0 1 0 -7.1 0ZM660.1 61.6a3.5 3.5 0 1 0 7.1 0a3.5 3.5 0 1 0 -7.1 0ZM684.8 40.2a3.5 3.5 0 1 0 7.1 0a3.5 3.5 0 1 0 -7.1 0ZM684.8 61.6a3.5 3.5 0 1 0 7.1 0a3.5 3.5 0 1 0 -7.1 0ZM1097.3 50.9a3.5 3.5 0 1 0 7.1 0a3.5 3.5 0 1 0 -7.1 0ZM1078.8 61.6a3.5 3.5 0 1 0 7.1 0a3.5 3.5 0 1 0 -7.1 0ZM1121.9 50.9a3.5 3.5 0 1 0 7.1 0a3.5 3.5 0 1 0 -7.1 0ZM1103.5 40.2a3.5 3.5 0 1 0 7.1 0a3.5 3.5 0 1 0 -7.1 0ZM1103.5 61.6a3.5 3.5 0 1 0 7.1 0a3.5 3.5 0 1 0 -7.1 0ZM1146.5 50.9a3.5 3.5 0 1 0 7.1 0a3.5 3.5 0 1 0 -7.1 0ZM1128.1 40.2a3.5 3.5 0 1 0 7.1 0a3.5 3.5 0 1 0 -7.1 0ZM1128.1 61.6a3.5 3.5 0 1 0 7.1 0a3.5 3.5 0 1 0 -7.1 0ZM1171.2 50.9a3.5 3.5 0 1 0 7.1 0a3.5 3.5 0 1 0 -7.1 0ZM1152.7 40.2a3.5 3.5 0 1 0 7.1 0a3.5 3.5 0 1 0 -7.1 0ZM1152.7 61.6a3.5 3.5 0 1 0 7.1 0a3.5 3.5 0 1 0 -7.1 0ZM617.0 72.4a3.5 3.5 0 1 0 7.1 0a3.5 3.5 0 1 0 -7.1 0ZM598.6 61.7a3.5 3.5 0 1 0 7.1 0a3.5 3.5 0 1 0 -7.1 0ZM598.6 83.1a3.5 3.5 0 1 0 7.1 0a3.5 3.5 0 1 0 -7.1 0ZM641.6 72.4a3.5 3.5 0 1 0 7.1 0a3.5 3.5 0 1 0 -7.1 0ZM623.2 61.7a3.5 3.5 0 1 0 7.1 0a3.5 3.5 0 1 0 -7.1 0ZM623.2 83.1a3.5 3.5 0 1 0 7.1 0a3.5 3.5 0 1 0 -7.1 0ZM666.3 72.4a3.5 3.5 0 1 0 7.1 0a3.5 3.5 0 1 0 -7.1 0ZM647.8 61.7a3.5 3.5 0 1 0 7.1 0a3.5 3.5 0 1 0 -7.1 0ZM647.8 83.1a3.5 3.5 0 1 0 7.1 0a3.5 3.5 0 1 0 -7.1 0ZM690.9 72.4a3.5 3.5 0 1 0 7.1 0a3.5 3.5 0 1 0 -7.1 0ZM672.4 61.7a3.5 3.5 0 1 0 7.1 0a3.5 3.5 0 1 0 -7.1 0ZM672.4 83.1a3.5 3.5 0 1 0 7.1 0a3.5 3.5 0 1 0 -7.1 0ZM697.1 83.1a3.5 3.5 0 1 0 7.1 0a3.5 3.5 0 1 0 -7.1 0ZM721.7 83.1a3.5 3.5 0 1 0 7.1 0a3.5 3.5 0 1 0 -7.1 0ZM746.3 83.1a3.5 3.5 0 1 0 7.1 0a3.5 3.5 0 1 0 -7.1 0ZM771.0 83.1a3.5 3.5 0 1 0 7.1 0a3.5 3.5 0 1 0 -7.1 0ZM992.6 83.1a3.5 3.5 0 1 0 7.1 0a3.5 3.5 0 1 0 -7.1 0ZM1017.3 83.1a3.5 3.5 0 1 0 7.1 0a3.5 3.5 0 1 0 -7.1 0ZM1060.3 72.4a3.5 3.5 0 1 0 7.1 0a3.5 3.5 0 1 0 -7.1 0ZM1041.9 83.1a3.5 3.5 0 1 0 7.1 0a3.5 3.5 0 1 0 -7.1 0ZM1085.0 72.4a3.5 3.5 0 1 0 7.1 0a3.5 3.5 0 1 0 -7.1 0ZM1066.5 61.7a3.5 3.5 0 1 0 7.1 0a3.5 3.5 0 1 0 -7.1 0ZM1066.5 83.1a3.5 3.5 0 1 0 7.1 0a3.5 3.5 0 1 0 -7.1 0ZM1109.6 72.4a3.5 3.5 0 1 0 7.1 0a3.5 3.5 0 1 0 -7.1 0ZM1091.2 61.7a3.5 3.5 0 1 0 7.1 0a3.5 3.5 0 1 0 -7.1 0ZM1091.2 83.1a3.5 3.5 0 1 0 7.1 0a3.5 3.5 0 1 0 -7.1 0ZM1134.2 72.4a3.5 3.5 0 1 0 7.1 0a3.5 3.5 0 1 0 -7.1 0ZM1115.8 61.7a3.5 3.5 0 1 0 7.1 0a3.5 3.5 0 1 0 -7.1 0ZM1115.8 83.1a3.5 3.5 0 1 0 7.1 0a3.5 3.5 0 1 0 -7.1 0ZM1158.9 72.4a3.5 3.5 0 1 0 7.1 0a3.5 3.5 0 1 0 -7.1 0ZM1140.4 61.7a3.5 3.5 0 1 0 7.1 0a3.5 3.5 0 1 0 -7.1 0ZM1140.4 83.1a3.5 3.5 0 1 0 7.1 0a3.5 3.5 0 1 0 -7.1 0ZM1183.5 72.4a3.5 3.5 0 1 0 7.1 0a3.5 3.5 0 1 0 -7.1 0ZM1165.0 61.7a3.5 3.5 0 1 0 7.1 0a3.5 3.5 0 1 0 -7.1 0ZM1165.0 83.1a3.5 3.5 0 1 0 7.1 0a3.5 3.5 0 1 0 -7.1 0ZM629.3 93.9a3.5 3.5 0 1 0 7.1 0a3.5 3.5 0 1 0 -7.1 0ZM610.9 83.2a3.5 3.5 0 1 0 7.1 0a3.5 3.5 0 1 0 -7.1 0ZM610.9 104.6a3.5 3.5 0 1 0 7.1 0a3.5 3.5 0 1 0 -7.1 0ZM654.0 93.9a3.5 3.5 0 1 0 7.1 0a3.5 3.5 0 1 0 -7.1 0ZM635.5 83.2a3.5 3.5 0 1 0 7.1 0a3.5 3.5 0 1 0 -7.1 0ZM635.5 104.6a3.5 3.5 0 1 0 7.1 0a3.5 3.5 0 1 0 -7.1 0ZM678.6 93.9a3.5 3.5 0 1 0 7.1 0a3.5 3.5 0 1 0 -7.1 0ZM660.1 83.2a3.5 3.5 0 1 0 7.1 0a3.5 3.5 0 1 0 -7.1 0ZM660.1 104.6a3.5 3.5 0 1 0 7.1 0a3.5 3.5 0 1 0 -7.1 0ZM703.2 93.9a3.5 3.5 0 1 0 7.1 0a3.5 3.5 0 1 0 -7.1 0ZM684.8 83.2a3.5 3.5 0 1 0 7.1 0a3.5 3.5 0 1 0 -7.1 0ZM684.8 104.6a3.5 3.5 0 1 0 7.1 0a3.5 3.5 0 1 0 -7.1 0ZM727.8 93.9a3.5 3.5 0 1 0 7.1 0a3.5 3.5 0 1 0 -7.1 0ZM709.4 83.2a3.5 3.5 0 1 0 7.1 0a3.5 3.5 0 1 0 -7.1 0ZM709.4 104.6a3.5 3.5 0 1 0 7.1 0a3.5 3.5 0 1 0 -7.1 0ZM752.5 93.9a3.5 3.5 0 1 0 7.1 0a3.5 3.5 0 1 0 -7.1 0ZM734.0 83.2a3.5 3.5 0 1 0 7.1 0a3.5 3.5 0 1 0 -7.1 0ZM734.0 104.6a3.5 3.5 0 1 0 7.1 0a3.5 3.5 0 1 0 -7.1 0ZM777.1 93.9a3.5 3.5 0 1 0 7.1 0a3.5 3.5 0 1 0 -7.1 0ZM758.7 83.2a3.5 3.5 0 1 0 7.1 0a3.5 3.5 0 1 0 -7.1 0ZM758.7 104.6a3.5 3.5 0 1 0 7.1 0a3.5 3.5 0 1 0 -7.1 0ZM783.3 104.6a3.5 3.5 0 1 0 7.1 0a3.5 3.5 0 1 0 -7.1 0ZM807.9 104.6a3.5 3.5 0 1 0 7.1 0a3.5 3.5 0 1 0 -7.1 0ZM931.1 104.6a3.5 3.5 0 1 0 7.1 0a3.5 3.5 0 1 0 -7.1 0ZM955.7 104.6a3.5 3.5 0 1 0 7.1 0a3.5 3.5 0 1 0 -7.1 0ZM998.8 93.9a3.5 3.5 0 1 0 7.1 0a3.5 3.5 0 1 0 -7.1 0ZM980.3 83.2a3.5 3.5 0 1 0 7.1 0a3.5 3.5 0 1 0 -7.1 0ZM980.3 104.6a3.5 3.5 0 1 0 7.1 0a3.5 3.5 0 1 0 -7.1 0ZM1023.4 93.9a3.5 3.5 0 1 0 7.1 0a3.5 3.5 0 1 0 -7.1 0ZM1005.0 83.2a3.5 3.5 0 1 0 7.1 0a3.5 3.5 0 1 0 -7.1 0ZM1005.0 104.6a3.5 3.5 0 1 0 7.1 0a3.5 3.5 0 1 0 -7.1 0ZM1048.0 93.9a3.5 3.5 0 1 0 7.1 0a3.5 3.5 0 1 0 -7.1 0ZM1029.6 83.2a3.5 3.5 0 1 0 7.1 0a3.5 3.5 0 1 0 -7.1 0ZM1029.6 104.6a3.5 3.5 0 1 0 7.1 0a3.5 3.5 0 1 0 -7.1 0ZM1072.7 93.9a3.5 3.5 0 1 0 7.1 0a3.5 3.5 0 1 0 -7.1 0ZM1054.2 83.2a3.5 3.5 0 1 0 7.1 0a3.5 3.5 0 1 0 -7.1 0ZM1054.2 104.6a3.5 3.5 0 1 0 7.1 0a3.5 3.5 0 1 0 -7.1 0ZM1097.3 93.9a3.5 3.5 0 1 0 7.1 0a3.5 3.5 0 1 0 -7.1 0ZM1078.8 83.2a3.5 3.5 0 1 0 7.1 0a3.5 3.5 0 1 0 -7.1 0ZM1078.8 104.6a3.5 3.5 0 1 0 7.1 0a3.5 3.5 0 1 0 -7.1 0ZM1121.9 93.9a3.5 3.5 0 1 0 7.1 0a3.5 3.5 0 1 0 -7.1 0ZM1103.5 83.2a3.5 3.5 0 1 0 7.1 0a3.5 3.5 0 1 0 -7.1 0ZM1103.5 104.6a3.5 3.5 0 1 0 7.1 0a3.5 3.5 0 1 0 -7.1 0ZM1146.5 93.9a3.5 3.5 0 1 0 7.1 0a3.5 3.5 0 1 0 -7.1 0ZM1128.1 83.2a3.5 3.5 0 1 0 7.1 0a3.5 3.5 0 1 0 -7.1 0ZM1128.1 104.6a3.5 3.5 0 1 0 7.1 0a3.5 3.5 0 1 0 -7.1 0ZM1171.2 93.9a3.5 3.5 0 1 0 7.1 0a3.5 3.5 0 1 0 -7.1 0ZM1152.7 83.2a3.5 3.5 0 1 0 7.1 0a3.5 3.5 0 1 0 -7.1 0ZM1152.7 104.6a3.5 3.5 0 1 0 7.1 0a3.5 3.5 0 1 0 -7.1 0ZM1195.8 93.9a3.5 3.5 0 1 0 7.1 0a3.5 3.5 0 1 0 -7.1 0ZM1177.4 83.2a3.5 3.5 0 1 0 7.1 0a3.5 3.5 0 1 0 -7.1 0ZM1177.4 104.6a3.5 3.5 0 1 0 7.1 0a3.5 3.5 0 1 0 -7.1 0ZM641.6 115.4a3.5 3.5 0 1 0 7.1 0a3.5 3.5 0 1 0 -7.1 0ZM623.2 104.7a3.5 3.5 0 1 0 7.1 0a3.5 3.5 0 1 0 -7.1 0ZM623.2 126.1a3.5 3.5 0 1 0 7.1 0a3.5 3.5 0 1 0 -7.1 0ZM666.3 115.4a3.5 3.5 0 1 0 7.1 0a3.5 3.5 0 1 0 -7.1 0ZM647.8 104.7a3.5 3.5 0 1 0 7.1 0a3.5 3.5 0 1 0 -7.1 0ZM647.8 126.1a3.5 3.5 0 1 0 7.1 0a3.5 3.5 0 1 0 -7.1 0ZM690.9 115.4a3.5 3.5 0 1 0 7.1 0a3.5 3.5 0 1 0 -7.1 0ZM672.4 104.7a3.5 3.5 0 1 0 7.1 0a3.5 3.5 0 1 0 -7.1 0ZM672.4 126.1a3.5 3.5 0 1 0 7.1 0a3.5 3.5 0 1 0 -7.1 0ZM715.5 115.4a3.5 3.5 0 1 0 7.1 0a3.5 3.5 0 1 0 -7.1 0ZM697.1 104.7a3.5 3.5 0 1 0 7.1 0a3.5 3.5 0 1 0 -7.1 0ZM697.1 126.1a3.5 3.5 0 1 0 7.1 0a3.5 3.5 0 1 0 -7.1 0ZM740.2 115.4a3.5 3.5 0 1 0 7.1 0a3.5 3.5 0 1 0 -7.1 0ZM721.7 104.7a3.5 3.5 0 1 0 7.1 0a3.5 3.5 0 1 0 -7.1 0ZM721.7 126.1a3.5 3.5 0 1 0 7.1 0a3.5 3.5 0 1 0 -7.1 0ZM764.8 115.4a3.5 3.5 0 1 0 7.1 0a3.5 3.5 0 1 0 -7.1 0ZM746.3 104.7a3.5 3.5 0 1 0 7.1 0a3.5 3.5 0 1 0 -7.1 0ZM746.3 126.1a3.5 3.5 0 1 0 7.1 0a3.5 3.5 0 1 0 -7.1 0ZM789.4 115.4a3.5 3.5 0 1 0 7.1 0a3.5 3.5 0 1 0 -7.1 0ZM771.0 104.7a3.5 3.5 0 1 0 7.1 0a3.5 3.5 0 1 0 -7.1 0ZM771.0 126.1a3.5 3.5 0 1 0 7.1 0a3.5 3.5 0 1 0 -7.1 0ZM814.0 115.4a3.5 3.5 0 1 0 7.1 0a3.5 3.5 0 1 0 -7.1 0ZM795.6 104.7a3.5 3.5 0 1 0 7.1 0a3.5 3.5 0 1 0 -7.1 0ZM795.6 126.1a3.5 3.5 0 1 0 7.1 0a3.5 3.5 0 1 0 -7.1 0ZM820.2 104.7a3.5 3.5 0 1 0 7.1 0a3.5 3.5 0 1 0 -7.1 0ZM820.2 126.1a3.5 3.5 0 1 0 7.1 0a3.5 3.5 0 1 0 -7.1 0ZM937.2 115.4a3.5 3.5 0 1 0 7.1 0a3.5 3.5 0 1 0 -7.1 0ZM961.8 115.4a3.5 3.5 0 1 0 7.1 0a3.5 3.5 0 1 0 -7.1 0ZM943.4 104.7a3.5 3.5 0 1 0 7.1 0a3.5 3.5 0 1 0 -7.1 0ZM943.4 126.1a3.5 3.5 0 1 0 7.1 0a3.5 3.5 0 1 0 -7.1 0ZM986.5 115.4a3.5 3.5 0 1 0 7.1 0a3.5 3.5 0 1 0 -7.1 0ZM968.0 104.7a3.5 3.5 0 1 0 7.1 0a3.5 3.5 0 1 0 -7.1 0ZM968.0 126.1a3.5 3.5 0 1 0 7.1 0a3.5 3.5 0 1 0 -7.1 0ZM1011.1 115.4a3.5 3.5 0 1 0 7.1 0a3.5 3.5 0 1 0 -7.1 0ZM992.6 104.7a3.5 3.5 0 1 0 7.1 0a3.5 3.5 0 1 0 -7.1 0ZM992.6 126.1a3.5 3.5 0 1 0 7.1 0a3.5 3.5 0 1 0 -7.1 0ZM1035.7 115.4a3.5 3.5 0 1 0 7.1 0a3.5 3.5 0 1 0 -7.1 0ZM1017.3 104.7a3.5 3.5 0 1 0 7.1 0a3.5 3.5 0 1 0 -7.1 0ZM1017.3 126.1a3.5 3.5 0 1 0 7.1 0a3.5 3.5 0 1 0 -7.1 0ZM1060.3 115.4a3.5 3.5 0 1 0 7.1 0a3.5 3.5 0 1 0 -7.1 0ZM1041.9 104.7a3.5 3.5 0 1 0 7.1 0a3.5 3.5 0 1 0 -7.1 0ZM1041.9 126.1a3.5 3.5 0 1 0 7.1 0a3.5 3.5 0 1 0 -7.1 0ZM1085.0 115.4a3.5 3.5 0 1 0 7.1 0a3.5 3.5 0 1 0 -7.1 0ZM1066.5 104.7a3.5 3.5 0 1 0 7.1 0a3.5 3.5 0 1 0 -7.1 0ZM1066.5 126.1a3.5 3.5 0 1 0 7.1 0a3.5 3.5 0 1 0 -7.1 0ZM1109.6 115.4a3.5 3.5 0 1 0 7.1 0a3.5 3.5 0 1 0 -7.1 0ZM1091.2 104.7a3.5 3.5 0 1 0 7.1 0a3.5 3.5 0 1 0 -7.1 0ZM1091.2 126.1a3.5 3.5 0 1 0 7.1 0a3.5 3.5 0 1 0 -7.1 0ZM1134.2 115.4a3.5 3.5 0 1 0 7.1 0a3.5 3.5 0 1 0 -7.1 0ZM1115.8 104.7a3.5 3.5 0 1 0 7.1 0a3.5 3.5 0 1 0 -7.1 0ZM1115.8 126.1a3.5 3.5 0 1 0 7.1 0a3.5 3.5 0 1 0 -7.1 0ZM1158.9 115.4a3.5 3.5 0 1 0 7.1 0a3.5 3.5 0 1 0 -7.1 0ZM1140.4 104.7a3.5 3.5 0 1 0 7.1 0a3.5 3.5 0 1 0 -7.1 0ZM1140.4 126.1a3.5 3.5 0 1 0 7.1 0a3.5 3.5 0 1 0 -7.1 0ZM1183.5 115.4a3.5 3.5 0 1 0 7.1 0a3.5 3.5 0 1 0 -7.1 0ZM1165.0 104.7a3.5 3.5 0 1 0 7.1 0a3.5 3.5 0 1 0 -7.1 0ZM1165.0 126.1a3.5 3.5 0 1 0 7.1 0a3.5 3.5 0 1 0 -7.1 0ZM1208.1 115.4a3.5 3.5 0 1 0 7.1 0a3.5 3.5 0 1 0 -7.1 0ZM1189.7 104.7a3.5 3.5 0 1 0 7.1 0a3.5 3.5 0 1 0 -7.1 0ZM1189.7 126.1a3.5 3.5 0 1 0 7.1 0a3.5 3.5 0 1 0 -7.1 0Z" fill="#000000"/><path d="M974.1 93.9a3.5 3.5 0 1 0 7.1 0a3.5 3.5 0 1 0 -7.1 0Z" fill="#010000"/><path d="M697.1 61.7a3.5 3.5 0 1 0 7.1 0a3.5 3.5 0 1 0 -7.1 0Z" fill="#020000"/><path d="M1054.2 61.6a3.5 3.5 0 1 0 7.1 0a3.5 3.5 0 1 0 -7.1 0Z" fill="#040000"/><path d="M832.5 104.6a3.5 3.5 0 1 0 7.1 0a3.5 3.5 0 1 0 -7.1 0Z" fill="#060000"/><path d="M783.3 83.2a3.5 3.5 0 1 0 7.1 0a3.5 3.5 0 1 0 -7.1 0Z" fill="#070000"/><path d="M918.7 104.7a3.5 3.5 0 1 0 7.1 0a3.5 3.5 0 1 0 -7.1 0ZM918.7 126.1a3.5 3.5 0 1 0 7.1 0a3.5 3.5 0 1 0 -7.1 0Z" fill="#080000"/><path d="M968.0 83.1a3.5 3.5 0 1 0 7.1 0a3.5 3.5 0 1 0 -7.1 0Z" fill="#0a0000"/><path d="M838.7 115.4a3.5 3.5 0 1 0 7.1 0a3.5 3.5 0 1 0 -7.1 0Z" fill="#0d0000"/><path d="M912.6 115.4a3.5 3.5 0 1 0 7.1 0a3.5 3.5 0 1 0 -7.1 0Z" fill="#0f0000"/><path d="M709.4 61.6a3.5 3.5 0 1 0 7.1 0a3.5 3.5 0 1 0 -7.1 0Z" fill="#120000"/><path d="M844.9 104.7a3.5 3.5 0 1 0 7.1 0a3.5 3.5 0 1 0 -7.1 0ZM844.9 126.1a3.5 3.5 0 1 0 7.1 0a3.5 3.5 0 1 0 -7.1 0Z" fill="#130000"/><path d="M1041.9 61.7a3.5 3.5 0 1 0 7.1 0a3.5 3.5 0 1 0 -7.1 0ZM906.4 104.6a3.5 3.5 0 1 0 7.1 0a3.5 3.5 0 1 0 -7.1 0Z" fill="#150000"/><path d="M703.2 50.9a3.5 3.5 0 1 0 7.1 0a3.5 3.5 0 1 0 -7.1 0Z" fill="#190000"/><path d="M795.6 83.1a3.5 3.5 0 1 0 7.1 0a3.5 3.5 0 1 0 -7.1 0Z" fill="#1a0000"/><path d="M715.5 72.4a3.5 3.5 0 1 0 7.1 0a3.5 3.5 0 1 0 -7.1 0Z" fill="#1b0000"/><path d="M857.2 104.6a3.5 3.5 0 1 0 7.1 0a3.5 3.5 0 1 0 -7.1 0ZM955.7 83.2a3.5 3.5 0 1 0 7.1 0a3.5 3.5 0 1 0 -7.1 0Z" fill="#1d0000"/><path d="M1035.7 72.4a3.5 3.5 0 1 0 7.1 0a3.5 3.5 0 1 0 -7.1 0ZM894.1 104.7a3.5 3.5 0 1 0 7.1 0a3.5 3.5 0 1 0 -7.1 0ZM894.1 126.1a3.5 3.5 0 1 0 7.1 0a3.5 3.5 0 1 0 -7.1 0Z" fill="#1e0000"/><path d="M863.3 115.4a3.5 3.5 0 1 0 7.1 0a3.5 3.5 0 1 0 -7.1 0Z" fill="#210000"/><path d="M887.9 115.4a3.5 3.5 0 1 0 7.1 0a3.5 3.5 0 1 0 -7.1 0Z" fill="#220000"/><path d="M881.8 104.6a3.5 3.5 0 1 0 7.1 0a3.5 3.5 0 1 0 -7.1 0ZM869.5 104.7a3.5 3.5 0 1 0 7.1 0a3.5 3.5 0 1 0 -7.1 0ZM869.5 126.1a3.5 3.5 0 1 0 7.1 0a3.5 3.5 0 1 0 -7.1 0Z" fill="#230000"/><path d="M709.4 40.2a3.5 3.5 0 1 0 7.1 0a3.5 3.5 0 1 0 -7.1 0ZM801.7 93.9a3.5 3.5 0 1 0 7.1 0a3.5 3.5 0 1 0 -7.1 0Z" fill="#240000"/><path d="M1078.8 40.2a3.5 3.5 0 1 0 7.1 0a3.5 3.5 0 1 0 -7.1 0ZM721.7 61.7a3.5 3.5 0 1 0 7.1 0a3.5 3.5 0 1 0 -7.1 0Z" fill="#260000"/><path d="M949.5 93.9a3.5 3.5 0 1 0 7.1 0a3.5 3.5 0 1 0 -7.1 0Z" fill="#270000"/><path d="M1029.6 61.6a3.5 3.5 0 1 0 7.1 0a3.5 3.5 0 1 0 -7.1 0Z" fill="#280000"/><path d="M807.9 83.2a3.5 3.5 0 1 0 7.1 0a3.5 3.5 0 1 0 -7.1 0Z" fill="#2f0000"/><path d="M943.4 83.1a3.5 3.5 0 1 0 7.1 0a3.5 3.5 0 1 0 -7.1 0Z" fill="#320000"/><path d="M1072.7 50.9a3.5 3.5 0 1 0 7.1 0a3.5 3.5 0 1 0 -7.1 0Z" fill="#350000"/><path d="M734.0 61.6a3.5 3.5 0 1 0 7.1 0a3.5 3.5 0 1 0 -7.1 0Z" fill="#3c0000"/><path d="M1017.3 61.7a3.5 3.5 0 1 0 7.1 0a3.5 3.5 0 1 0 -7.1 0Z" fill="#3f0000"/><path d="M820.2 83.1a3.5 3.5 0 1 0 7.1 0a3.5 3.5 0 1 0 -7.1 0Z" fill="#440000"/><path d="M931.1 83.2a3.5 3.5 0 1 0 7.1 0a3.5 3.5 0 1 0 -7.1 0Z" fill="#470000"/><path d="M740.2 72.4a3.5 3.5 0 1 0 7.1 0a3.5 3.5 0 1 0 -7.1 0Z" fill="#480000"/><path d="M1011.1 72.4a3.5 3.5 0 1 0 7.1 0a3.5 3.5 0 1 0 -7.1 0Z" fill="#4c0000"/><path d="M727.8 50.9a3.5 3.5 0 1 0 7.1 0a3.5 3.5 0 1 0 -7.1 0ZM826.4 93.9a3.5 3.5 0 1 0 7.1 0a3.5 3.5 0 1 0 -7.1 0Z" fill="#4e0000"/><path d="M924.9 93.9a3.5 3.5 0 1 0 7.1 0a3.5 3.5 0 1 0 -7.1 0Z" fill="#510000"/><path d="M746.3 61.7a3.5 3.5 0 1 0 7.1 0a3.5 3.5 0 1 0 -7.1 0Z" fill="#550000"/><path d="M832.5 83.2a3.5 3.5 0 1 0 7.1 0a3.5 3.5 0 1 0 -7.1 0Z" fill="#580000"/><path d="M1005.0 61.6a3.5 3.5 0 1 0 7.1 0a3.5 3.5 0 1 0 -7.1 0Z" fill="#590000"/><path d="M1054.2 40.2a3.5 3.5 0 1 0 7.1 0a3.5 3.5 0 1 0 -7.1 0Z" fill="#5a0000"/><path d="M918.7 83.1a3.5 3.5 0 1 0 7.1 0a3.5 3.5 0 1 0 -7.1 0Z" fill="#5b0000"/><path d="M734.0 40.2a3.5 3.5 0 1 0 7.1 0a3.5 3.5 0 1 0 -7.1 0Z" fill="#5e0000"/><path d="M1048.0 50.9a3.5 3.5 0 1 0 7.1 0a3.5 3.5 0 1 0 -7.1 0Z" fill="#620000"/><path d="M844.9 83.1a3.5 3.5 0 1 0 7.1 0a3.5 3.5 0 1 0 -7.1 0Z" fill="#6a0000"/><path d="M906.4 83.2a3.5 3.5 0 1 0 7.1 0a3.5 3.5 0 1 0 -7.1 0Z" fill="#6c0000"/><path d="M758.7 61.6a3.5 3.5 0 1 0 7.1 0a3.5 3.5 0 1 0 -7.1 0ZM1029.6 40.2a3.5 3.5 0 1 0 7.1 0a3.5 3.5 0 1 0 -7.1 0ZM851.0 93.9a3.5 3.5 0 1 0 7.1 0a3.5 3.5 0 1 0 -7.1 0Z" fill="#710000"/><path d="M900.2 93.9a3.5 3.5 0 1 0 7.1 0a3.5 3.5 0 1 0 -7.1 0Z" fill="#730000"/><path d="M992.6 61.7a3.5 3.5 0 1 0 7.1 0a3.5 3.5 0 1 0 -7.1 0Z" fill="#750000"/><path d="M1023.4 50.9a3.5 3.5 0 1 0 7.1 0a3.5 3.5 0 1 0 -7.1 0ZM857.2 83.2a3.5 3.5 0 1 0 7.1 0a3.5 3.5 0 1 0 -7.1 0Z" fill="#770000"/><path d="M894.1 83.1a3.5 3.5 0 1 0 7.1 0a3.5 3.5 0 1 0 -7.1 0Z" fill="#780000"/><path d="M869.5 83.1a3.5 3.5 0 1 0 7.1 0a3.5 3.5 0 1 0 -7.1 0ZM881.8 83.2a3.5 3.5 0 1 0 7.1 0a3.5 3.5 0 1 0 -7.1 0Z" fill="#7e0000"/><path d="M875.6 93.9a3.5 3.5 0 1 0 7.1 0a3.5 3.5 0 1 0 -7.1 0Z" fill="#7f0000"/><path d="M764.8 72.4a3.5 3.5 0 1 0 7.1 0a3.5 3.5 0 1 0 -7.1 0Z" fill="#800000"/><path d="M986.5 72.4a3.5 3.5 0 1 0 7.1 0a3.5 3.5 0 1 0 -7.1 0Z" fill="#840000"/><path d="M771.0 61.7a3.5 3.5 0 1 0 7.1 0a3.5 3.5 0 1 0 -7.1 0Z" fill="#8f0000"/><path d="M980.3 61.6a3.5 3.5 0 1 0 7.1 0a3.5 3.5 0 1 0 -7.1 0Z" fill="#930000"/><path d="M752.5 50.9a3.5 3.5 0 1 0 7.1 0a3.5 3.5 0 1 0 -7.1 0ZM1005.0 40.2a3.5 3.5 0 1 0 7.1 0a3.5 3.5 0 1 0 -7.1 0Z" fill="#950000"/><path d="M998.8 50.9a3.5 3.5 0 1 0 7.1 0a3.5 3.5 0 1 0 -7.1 0Z" fill="#a40000"/><path d="M758.7 40.2a3.5 3.5 0 1 0 7.1 0a3.5 3.5 0 1 0 -7.1 0Z" fill="#aa0000"/><path d="M783.3 61.6a3.5 3.5 0 1 0 7.1 0a3.5 3.5 0 1 0 -7.1 0Z" fill="#ae0000"/><path d="M968.0 61.7a3.5 3.5 0 1 0 7.1 0a3.5 3.5 0 1 0 -7.1 0Z" fill="#b20000"/><path d="M789.4 72.4a3.5 3.5 0 1 0 7.1 0a3.5 3.5 0 1 0 -7.1 0Z" fill="#bd0000"/><path d="M961.8 72.4a3.5 3.5 0 1 0 7.1 0a3.5 3.5 0 1 0 -7.1 0Z" fill="#c10000"/><path d="M795.6 61.7a3.5 3.5 0 1 0 7.1 0a3.5 3.5 0 1 0 -7.1 0Z" fill="#cd0000"/><path d="M955.7 61.6a3.5 3.5 0 1 0 7.1 0a3.5 3.5 0 1 0 -7.1 0Z" fill="#d10000"/><path d="M980.3 40.2a3.5 3.5 0 1 0 7.1 0a3.5 3.5 0 1 0 -7.1 0Z" fill="#dd0000"/><path d="M777.1 50.9a3.5 3.5 0 1 0 7.1 0a3.5 3.5 0 1 0 -7.1 0ZM807.9 61.6a3.5 3.5 0 1 0 7.1 0a3.5 3.5 0 1 0 -7.1 0Z" fill="#eb0000"/><path d="M943.4 61.7a3.5 3.5 0 1 0 7.1 0a3.5 3.5 0 1 0 -7.1 0Z" fill="#ee0000"/><path d="M974.1 50.9a3.5 3.5 0 1 0 7.1 0a3.5 3.5 0 1 0 -7.1 0Z" fill="#f30000"/><path d="M814.0 72.4a3.5 3.5 0 1 0 7.1 0a3.5 3.5 0 1 0 -7.1 0Z" fill="#f90000"/><path d="M937.2 72.4a3.5 3.5 0 1 0 7.1 0a3.5 3.5 0 1 0 -7.1 0Z" fill="#fc0000"/><path d="M783.3 40.2a3.5 3.5 0 1 0 7.1 0a3.5 3.5 0 1 0 -7.1 0Z" fill="#ff0200"/><path d="M820.2 61.7a3.5 3.5 0 1 0 7.1 0a3.5 3.5 0 1 0 -7.1 0Z" fill="#ff0500"/><path d="M931.1 61.6a3.5 3.5 0 1 0 7.1 0a3.5 3.5 0 1 0 -7.1 0Z" fill="#ff0700"/><path d="M832.5 61.6a3.5 3.5 0 1 0 7.1 0a3.5 3.5 0 1 0 -7.1 0Z" fill="#ff1500"/><path d="M918.7 61.7a3.5 3.5 0 1 0 7.1 0a3.5 3.5 0 1 0 -7.1 0Z" fill="#ff1600"/><path d="M838.7 72.4a3.5 3.5 0 1 0 7.1 0a3.5 3.5 0 1 0 -7.1 0Z" fill="#ff1b00"/><path d="M912.6 72.4a3.5 3.5 0 1 0 7.1 0a3.5 3.5 0 1 0 -7.1 0Z" fill="#ff1d00"/><path d="M844.9 61.7a3.5 3.5 0 1 0 7.1 0a3.5 3.5 0 1 0 -7.1 0Z" fill="#ff2100"/><path d="M906.4 61.6a3.5 3.5 0 1 0 7.1 0a3.5 3.5 0 1 0 -7.1 0Z" fill="#ff2300"/><path d="M955.7 40.2a3.5 3.5 0 1 0 7.1 0a3.5 3.5 0 1 0 -7.1 0Z" fill="#ff2500"/><path d="M857.2 61.6a3.5 3.5 0 1 0 7.1 0a3.5 3.5 0 1 0 -7.1 0ZM894.1 61.7a3.5 3.5 0 1 0 7.1 0a3.5 3.5 0 1 0 -7.1 0Z" fill="#ff2b00"/><path d="M863.3 72.4a3.5 3.5 0 1 0 7.1 0a3.5 3.5 0 1 0 -7.1 0Z" fill="#ff2d00"/><path d="M887.9 72.4a3.5 3.5 0 1 0 7.1 0a3.5 3.5 0 1 0 -7.1 0Z" fill="#ff2e00"/><path d="M869.5 61.7a3.5 3.5 0 1 0 7.1 0a3.5 3.5 0 1 0 -7.1 0Z" fill="#ff2f00"/><path d="M801.7 50.9a3.5 3.5 0 1 0 7.1 0a3.5 3.5 0 1 0 -7.1 0ZM881.8 61.6a3.5 3.5 0 1 0 7.1 0a3.5 3.5 0 1 0 -7.1 0Z" fill="#ff3000"/><path d="M949.5 50.9a3.5 3.5 0 1 0 7.1 0a3.5 3.5 0 1 0 -7.1 0Z" fill="#ff3400"/><path d="M807.9 40.2a3.5 3.5 0 1 0 7.1 0a3.5 3.5 0 1 0 -7.1 0Z" fill="#ff3f00"/><path d="M931.1 40.2a3.5 3.5 0 1 0 7.1 0a3.5 3.5 0 1 0 -7.1 0Z" fill="#ff5e00"/><path d="M826.4 50.9a3.5 3.5 0 1 0 7.1 0a3.5 3.5 0 1 0 -7.1 0Z" fill="#ff6700"/><path d="M924.9 50.9a3.5 3.5 0 1 0 7.1 0a3.5 3.5 0 1 0 -7.1 0Z" fill="#ff6b00"/><path d="M832.5 40.2a3.5 3.5 0 1 0 7.1 0a3.5 3.5 0 1 0 -7.1 0Z" fill="#ff7300"/><path d="M906.4 40.2a3.5 3.5 0 1 0 7.1 0a3.5 3.5 0 1 0 -7.1 0Z" fill="#ff8900"/><path d="M851.0 50.9a3.5 3.5 0 1 0 7.1 0a3.5 3.5 0 1 0 -7.1 0Z" fill="#ff8f00"/><path d="M900.2 50.9a3.5 3.5 0 1 0 7.1 0a3.5 3.5 0 1 0 -7.1 0Z" fill="#ff9000"/><path d="M857.2 40.2a3.5 3.5 0 1 0 7.1 0a3.5 3.5 0 1 0 -7.1 0Z" fill="#ff9500"/><path d="M875.6 50.9a3.5 3.5 0 1 0 7.1 0a3.5 3.5 0 1 0 -7.1 0ZM881.8 40.2a3.5 3.5 0 1 0 7.1 0a3.5 3.5 0 1 0 -7.1 0Z" fill="#ff9d00"/><path d="M591.9 50.9a4.0 4.0 0 1 0 8.0 0a4.0 4.0 0 1 0 -8.0 0ZM616.6 50.9a4.0 4.0 0 1 0 8.0 0a4.0 4.0 0 1 0 -8.0 0ZM641.2 50.9a4.0 4.0 0 1 0 8.0 0a4.0 4.0 0 1 0 -8.0 0ZM665.8 50.9a4.0 4.0 0 1 0 8.0 0a4.0 4.0 0 1 0 -8.0 0ZM690.5 50.9a4.0 4.0 0 1 0 8.0 0a4.0 4.0 0 1 0 -8.0 0ZM715.1 50.9a4.0 4.0 0 1 0 8.0 0a4.0 4.0 0 1 0 -8.0 0ZM739.7 50.9a4.0 4.0 0 1 0 8.0 0a4.0 4.0 0 1 0 -8.0 0ZM764.4 50.9a4.0 4.0 0 1 0 8.0 0a4.0 4.0 0 1 0 -8.0 0ZM789.0 50.9a4.0 4.0 0 1 0 8.0 0a4.0 4.0 0 1 0 -8.0 0ZM813.6 50.9a4.0 4.0 0 1 0 8.0 0a4.0 4.0 0 1 0 -8.0 0ZM838.2 50.9a4.0 4.0 0 1 0 8.0 0a4.0 4.0 0 1 0 -8.0 0ZM862.9 50.9a4.0 4.0 0 1 0 8.0 0a4.0 4.0 0 1 0 -8.0 0ZM887.5 50.9a4.0 4.0 0 1 0 8.0 0a4.0 4.0 0 1 0 -8.0 0ZM912.1 50.9a4.0 4.0 0 1 0 8.0 0a4.0 4.0 0 1 0 -8.0 0ZM936.8 50.9a4.0 4.0 0 1 0 8.0 0a4.0 4.0 0 1 0 -8.0 0ZM961.4 50.9a4.0 4.0 0 1 0 8.0 0a4.0 4.0 0 1 0 -8.0 0ZM986.0 50.9a4.0 4.0 0 1 0 8.0 0a4.0 4.0 0 1 0 -8.0 0ZM1010.7 50.9a4.0 4.0 0 1 0 8.0 0a4.0 4.0 0 1 0 -8.0 0ZM1035.3 50.9a4.0 4.0 0 1 0 8.0 0a4.0 4.0 0 1 0 -8.0 0ZM1059.9 50.9a4.0 4.0 0 1 0 8.0 0a4.0 4.0 0 1 0 -8.0 0ZM1084.5 50.9a4.0 4.0 0 1 0 8.0 0a4.0 4.0 0 1 0 -8.0 0ZM1109.2 50.9a4.0 4.0 0 1 0 8.0 0a4.0 4.0 0 1 0 -8.0 0ZM1133.8 50.9a4.0 4.0 0 1 0 8.0 0a4.0 4.0 0 1 0 -8.0 0ZM1158.4 50.9a4.0 4.0 0 1 0 8.0 0a4.0 4.0 0 1 0 -8.0 0ZM604.3 72.4a4.0 4.0 0 1 0 8.0 0a4.0 4.0 0 1 0 -8.0 0ZM628.9 72.4a4.0 4.0 0 1 0 8.0 0a4.0 4.0 0 1 0 -8.0 0ZM653.5 72.4a4.0 4.0 0 1 0 8.0 0a4.0 4.0 0 1 0 -8.0 0ZM678.1 72.4a4.0 4.0 0 1 0 8.0 0a4.0 4.0 0 1 0 -8.0 0ZM702.8 72.4a4.0 4.0 0 1 0 8.0 0a4.0 4.0 0 1 0 -8.0 0ZM727.4 72.4a4.0 4.0 0 1 0 8.0 0a4.0 4.0 0 1 0 -8.0 0ZM752.0 72.4a4.0 4.0 0 1 0 8.0 0a4.0 4.0 0 1 0 -8.0 0ZM776.7 72.4a4.0 4.0 0 1 0 8.0 0a4.0 4.0 0 1 0 -8.0 0ZM801.3 72.4a4.0 4.0 0 1 0 8.0 0a4.0 4.0 0 1 0 -8.0 0ZM825.9 72.4a4.0 4.0 0 1 0 8.0 0a4.0 4.0 0 1 0 -8.0 0ZM850.6 72.4a4.0 4.0 0 1 0 8.0 0a4.0 4.0 0 1 0 -8.0 0ZM875.2 72.4a4.0 4.0 0 1 0 8.0 0a4.0 4.0 0 1 0 -8.0 0ZM899.8 72.4a4.0 4.0 0 1 0 8.0 0a4.0 4.0 0 1 0 -8.0 0ZM924.4 72.4a4.0 4.0 0 1 0 8.0 0a4.0 4.0 0 1 0 -8.0 0ZM949.1 72.4a4.0 4.0 0 1 0 8.0 0a4.0 4.0 0 1 0 -8.0 0ZM973.7 72.4a4.0 4.0 0 1 0 8.0 0a4.0 4.0 0 1 0 -8.0 0ZM998.3 72.4a4.0 4.0 0 1 0 8.0 0a4.0 4.0 0 1 0 -8.0 0ZM1023.0 72.4a4.0 4.0 0 1 0 8.0 0a4.0 4.0 0 1 0 -8.0 0ZM1047.6 72.4a4.0 4.0 0 1 0 8.0 0a4.0 4.0 0 1 0 -8.0 0ZM1072.2 72.4a4.0 4.0 0 1 0 8.0 0a4.0 4.0 0 1 0 -8.0 0ZM1096.9 72.4a4.0 4.0 0 1 0 8.0 0a4.0 4.0 0 1 0 -8.0 0ZM1121.5 72.4a4.0 4.0 0 1 0 8.0 0a4.0 4.0 0 1 0 -8.0 0ZM1146.1 72.4a4.0 4.0 0 1 0 8.0 0a4.0 4.0 0 1 0 -8.0 0ZM1170.7 72.4a4.0 4.0 0 1 0 8.0 0a4.0 4.0 0 1 0 -8.0 0ZM616.6 93.9a4.0 4.0 0 1 0 8.0 0a4.0 4.0 0 1 0 -8.0 0ZM641.2 93.9a4.0 4.0 0 1 0 8.0 0a4.0 4.0 0 1 0 -8.0 0ZM665.8 93.9a4.0 4.0 0 1 0 8.0 0a4.0 4.0 0 1 0 -8.0 0ZM690.5 93.9a4.0 4.0 0 1 0 8.0 0a4.0 4.0 0 1 0 -8.0 0ZM715.1 93.9a4.0 4.0 0 1 0 8.0 0a4.0 4.0 0 1 0 -8.0 0ZM739.7 93.9a4.0 4.0 0 1 0 8.0 0a4.0 4.0 0 1 0 -8.0 0ZM764.4 93.9a4.0 4.0 0 1 0 8.0 0a4.0 4.0 0 1 0 -8.0 0ZM789.0 93.9a4.0 4.0 0 1 0 8.0 0a4.0 4.0 0 1 0 -8.0 0ZM813.6 93.9a4.0 4.0 0 1 0 8.0 0a4.0 4.0 0 1 0 -8.0 0ZM838.2 93.9a4.0 4.0 0 1 0 8.0 0a4.0 4.0 0 1 0 -8.0 0ZM862.9 93.9a4.0 4.0 0 1 0 8.0 0a4.0 4.0 0 1 0 -8.0 0ZM887.5 93.9a4.0 4.0 0 1 0 8.0 0a4.0 4.0 0 1 0 -8.0 0ZM912.1 93.9a4.0 4.0 0 1 0 8.0 0a4.0 4.0 0 1 0 -8.0 0ZM936.8 93.9a4.0 4.0 0 1 0 8.0 0a4.0 4.0 0 1 0 -8.0 0ZM961.4 93.9a4.0 4.0 0 1 0 8.0 0a4.0 4.0 0 1 0 -8.0 0ZM986.0 93.9a4.0 4.0 0 1 0 8.0 0a4.0 4.0 0 1 0 -8.0 0ZM1010.7 93.9a4.0 4.0 0 1 0 8.0 0a4.0 4.0 0 1 0 -8.0 0ZM1035.3 93.9a4.0 4.0 0 1 0 8.0 0a4.0 4.0 0 1 0 -8.0 0ZM1059.9 93.9a4.0 4.0 0 1 0 8.0 0a4.0 4.0 0 1 0 -8.0 0ZM1084.5 93.9a4.0 4.0 0 1 0 8.0 0a4.0 4.0 0 1 0 -8.0 0ZM1109.2 93.9a4.0 4.0 0 1 0 8.0 0a4.0 4.0 0 1 0 -8.0 0ZM1133.8 93.9a4.0 4.0 0 1 0 8.0 0a4.0 4.0 0 1 0 -8.0 0ZM1158.4 93.9a4.0 4.0 0 1 0 8.0 0a4.0 4.0 0 1 0 -8.0 0ZM1183.1 93.9a4.0 4.0 0 1 0 8.0 0a4.0 4.0 0 1 0 -8.0 0ZM628.9 115.4a4.0 4.0 0 1 0 8.0 0a4.0 4.0 0 1 0 -8.0 0ZM653.5 115.4a4.0 4.0 0 1 0 8.0 0a4.0 4.0 0 1 0 -8.0 0ZM678.1 115.4a4.0 4.0 0 1 0 8.0 0a4.0 4.0 0 1 0 -8.0 0ZM702.8 115.4a4.0 4.0 0 1 0 8.0 0a4.0 4.0 0 1 0 -8.0 0ZM727.4 115.4a4.0 4.0 0 1 0 8.0 0a4.0 4.0 0 1 0 -8.0 0ZM752.0 115.4a4.0 4.0 0 1 0 8.0 0a4.0 4.0 0 1 0 -8.0 0ZM776.7 115.4a4.0 4.0 0 1 0 8.0 0a4.0 4.0 0 1 0 -8.0 0ZM801.3 115.4a4.0 4.0 0 1 0 8.0 0a4.0 4.0 0 1 0 -8.0 0ZM825.9 115.4a4.0 4.0 0 1 0 8.0 0a4.0 4.0 0 1 0 -8.0 0ZM850.6 115.4a4.0 4.0 0 1 0 8.0 0a4.0 4.0 0 1 0 -8.0 0ZM875.2 115.4a4.0 4.0 0 1 0 8.0 0a4.0 4.0 0 1 0 -8.0 0ZM899.8 115.4a4.0 4.0 0 1 0 8.0 0a4.0 4.0 0 1 0 -8.0 0ZM924.4 115.4a4.0 4.0 0 1 0 8.0 0a4.0 4.0 0 1 0 -8.0 0ZM949.1 115.4a4.0 4.0 0 1 0 8.0 0a4.0 4.0 0 1 0 -8.0 0ZM973.7 115.4a4.0 4.0 0 1 0 8.0 0a4.0 4.0 0 1 0 -8.0 0ZM998.3 115.4a4.0 4.0 0 1 0 8.0 0a4.0 4.0 0 1 0 -8.0 0ZM1023.0 115.4a4.0 4.0 0 1 0 8.0 0a4.0 4.0 0 1 0 -8.0 0ZM1047.6 115.4a4.0 4.0 0 1 0 8.0 0a4.0 4.0 0 1 0 -8.0 0ZM1072.2 115.4a4.0 4.0 0 1 0 8.0 0a4.0 4.0 0 1 0 -8.0 0ZM1096.9 115.4a4.0 4.0 0 1 0 8.0 0a4.0 4.0 0 1 0 -8.0 0ZM1121.5 115.4a4.0 4.0 0 1 0 8.0 0a4.0 4.0 0 1 0 -8.0 0ZM1146.1 115.4a4.0 4.0 0 1 0 8.0 0a4.0 4.0 0 1 0 -8.0 0ZM1170.7 115.4a4.0 4.0 0 1 0 8.0 0a4.0 4.0 0 1 0 -8.0 0ZM1195.4 115.4a4.0 4.0 0 1 0 8.0 0a4.0 4.0 0 1 0 -8.0 0Z" fill="#0070c0"/></g></g><path d="M794.6 51.7H868 M892 51.7H967.3" stroke="#55e23a" stroke-width="3" fill="none"/><polygon points="782.6,51.7 797.6,44.900000000000006 794.1,51.7 797.6,58.5" fill="#55e23a"/><polygon points="979.3,51.7 964.3,44.900000000000006 967.8,51.7 964.3,58.5" fill="#55e23a"/><polygon points="879.9,42.2 882.4,48.3 888.9,48.8 883.9,53.0 885.5,59.4 879.9,55.9 874.3,59.4 875.9,53.0 870.9,48.8 877.4,48.3" fill="none" stroke="#fff" stroke-width="2.2" stroke-linejoin="miter"/><path d="M649.5 100.1c-1.2-1.6-3.6-1.4-4.6 0.6c-1 2-1.8 8-3.2 16.5c-1 6-2.6 8.2-5 7.6" stroke="#fff" stroke-width="1.6" fill="none"/><path d="M640.5 106.8h7" stroke="#fff" stroke-width="1.3"/><text x="655.5" y="119.6" font-size="28" fill="#fff" textLength="146.5" lengthAdjust="spacingAndGlyphs">= 12.29 kHz</text><rect x="633" y="175.10000000000002" width="502" height="96.6" fill="#0070c0"/><clipPath id="clipB1"><polygon points="612.6,155.1 1147.0,155.1 1068.1,291.7 691.4,291.7"/></clipPath><clipPath id="clipB1r"><rect x="633" y="175.10000000000002" width="502" height="96.6"/></clipPath><g clip-path="url(#clipB1r)"><g clip-path="url(#clipB1)"><path d="M620.6 211.3 611.1 206.4 602.1 200.6 602.6 211.3 602.1 222.0 611.1 216.2ZM768.3 211.3 758.9 206.4 749.9 200.6 750.4 211.3 749.9 222.0 758.9 216.2ZM793.0 211.3 783.5 206.4 774.5 200.6 775.0 211.3 774.5 222.0 783.5 216.2ZM817.6 211.3 808.1 206.4 799.1 200.6 799.6 211.3 799.1 222.0 808.1 216.2ZM842.2 211.3 832.8 206.4 823.8 200.6 824.3 211.3 823.8 222.0 832.8 216.2ZM1162.4 211.3 1152.9 206.4 1144.0 200.6 1144.5 211.3 1144.0 222.0 1152.9 216.2ZM1187.0 211.3 1177.6 206.4 1168.6 200.6 1169.1 211.3 1168.6 222.0 1177.6 216.2ZM632.9 232.8 623.4 227.9 614.4 222.1 614.9 232.8 614.4 243.5 623.4 237.7ZM657.5 232.8 648.0 227.9 639.1 222.1 639.6 232.8 639.1 243.5 648.0 237.7ZM682.1 232.8 672.7 227.9 663.7 222.1 664.2 232.8 663.7 243.5 672.7 237.7ZM706.8 232.8 697.3 227.9 688.3 222.1 688.8 232.8 688.3 243.5 697.3 237.7ZM731.4 232.8 721.9 227.9 712.9 222.1 713.4 232.8 712.9 243.5 721.9 237.7ZM756.0 232.8 746.5 227.9 737.6 222.1 738.1 232.8 737.6 243.5 746.5 237.7ZM780.6 232.8 771.2 227.9 762.2 222.1 762.7 232.8 762.2 243.5 771.2 237.7ZM805.3 232.8 795.8 227.9 786.8 222.1 787.3 232.8 786.8 243.5 795.8 237.7ZM829.9 232.8 820.4 227.9 811.5 222.1 812.0 232.8 811.5 243.5 820.4 237.7ZM854.5 232.8 845.1 227.9 836.1 222.1 836.6 232.8 836.1 243.5 845.1 237.7ZM879.2 232.8 869.7 227.9 860.7 222.1 861.2 232.8 860.7 243.5 869.7 237.7ZM903.8 232.8 894.3 227.9 885.4 222.1 885.9 232.8 885.4 243.5 894.3 237.7ZM928.4 232.8 919.0 227.9 910.0 222.1 910.5 232.8 910.0 243.5 919.0 237.7ZM953.1 232.8 943.6 227.9 934.6 222.1 935.1 232.8 934.6 243.5 943.6 237.7ZM977.7 232.8 968.2 227.9 959.2 222.1 959.7 232.8 959.2 243.5 968.2 237.7ZM1002.3 232.8 992.8 227.9 983.9 222.1 984.4 232.8 983.9 243.5 992.8 237.7ZM1150.1 232.8 1140.6 227.9 1131.6 222.1 1132.1 232.8 1131.6 243.5 1140.6 237.7ZM1174.7 232.8 1165.3 227.9 1156.3 222.1 1156.8 232.8 1156.3 243.5 1165.3 237.7ZM1199.4 232.8 1189.9 227.9 1180.9 222.1 1181.4 232.8 1180.9 243.5 1189.9 237.7ZM645.2 254.3 635.7 249.4 626.7 243.6 627.2 254.3 626.7 265.0 635.7 259.2ZM669.8 254.3 660.3 249.4 651.4 243.6 651.9 254.3 651.4 265.0 660.3 259.2ZM694.4 254.3 685.0 249.4 676.0 243.6 676.5 254.3 676.0 265.0 685.0 259.2ZM719.1 254.3 709.6 249.4 700.6 243.6 701.1 254.3 700.6 265.0 709.6 259.2ZM743.7 254.3 734.2 249.4 725.3 243.6 725.8 254.3 725.3 265.0 734.2 259.2ZM768.3 254.3 758.9 249.4 749.9 243.6 750.4 254.3 749.9 265.0 758.9 259.2ZM793.0 254.3 783.5 249.4 774.5 243.6 775.0 254.3 774.5 265.0 783.5 259.2ZM817.6 254.3 808.1 249.4 799.1 243.6 799.6 254.3 799.1 265.0 808.1 259.2ZM842.2 254.3 832.8 249.4 823.8 243.6 824.3 254.3 823.8 265.0 832.8 259.2ZM866.9 254.3 857.4 249.4 848.4 243.6 848.9 254.3 848.4 265.0 857.4 259.2ZM891.5 254.3 882.0 249.4 873.0 243.6 873.5 254.3 873.0 265.0 882.0 259.2ZM916.1 254.3 906.6 249.4 897.7 243.6 898.2 254.3 897.7 265.0 906.6 259.2ZM940.7 254.3 931.3 249.4 922.3 243.6 922.8 254.3 922.3 265.0 931.3 259.2ZM965.4 254.3 955.9 249.4 946.9 243.6 947.4 254.3 946.9 265.0 955.9 259.2ZM990.0 254.3 980.5 249.4 971.6 243.6 972.1 254.3 971.6 265.0 980.5 259.2ZM1014.6 254.3 1005.2 249.4 996.2 243.6 996.7 254.3 996.2 265.0 1005.2 259.2ZM1113.2 254.3 1103.7 249.4 1094.7 243.6 1095.2 254.3 1094.7 265.0 1103.7 259.2ZM1137.8 254.3 1128.3 249.4 1119.3 243.6 1119.8 254.3 1119.3 265.0 1128.3 259.2ZM1162.4 254.3 1152.9 249.4 1144.0 243.6 1144.5 254.3 1144.0 265.0 1152.9 259.2ZM1187.0 254.3 1177.6 249.4 1168.6 243.6 1169.1 254.3 1168.6 265.0 1177.6 259.2ZM1211.7 254.3 1202.2 249.4 1193.2 243.6 1193.7 254.3 1193.2 265.0 1202.2 259.2Z" fill="#000000"/><path d="M1125.5 232.8 1116.0 227.9 1107.0 222.1 1107.5 232.8 1107.0 243.5 1116.0 237.7Z" fill="#010000"/><path d="M743.7 211.3 734.2 206.4 725.3 200.6 725.8 211.3 725.3 222.0 734.2 216.2Z" fill="#0b0000"/><path d="M645.2 211.3 635.7 206.4 626.7 200.6 627.2 211.3 626.7 222.0 635.7 216.2Z" fill="#140000"/><path d="M866.9 211.3 857.4 206.4 848.4 200.6 848.9 211.3 848.4 222.0 857.4 216.2ZM1137.8 211.3 1128.3 206.4 1119.3 200.6 1119.8 211.3 1119.3 222.0 1128.3 216.2Z" fill="#150000"/><path d="M1027.0 232.8 1017.5 227.9 1008.5 222.1 1009.0 232.8 1008.5 243.5 1017.5 237.7Z" fill="#1b0000"/><path d="M1088.5 254.3 1079.1 249.4 1070.1 243.6 1070.6 254.3 1070.1 265.0 1079.1 259.2Z" fill="#340000"/><path d="M891.5 211.3 882.0 206.4 873.0 200.6 873.5 211.3 873.0 222.0 882.0 216.2ZM1113.2 211.3 1103.7 206.4 1094.7 200.6 1095.2 211.3 1094.7 222.0 1103.7 216.2Z" fill="#3d0000"/><path d="M1039.3 254.3 1029.8 249.4 1020.8 243.6 1021.3 254.3 1020.8 265.0 1029.8 259.2Z" fill="#3f0000"/><path d="M719.1 211.3 709.6 206.4 700.6 200.6 701.1 211.3 700.6 222.0 709.6 216.2Z" fill="#530000"/><path d="M669.8 211.3 660.3 206.4 651.4 200.6 651.9 211.3 651.4 222.0 660.3 216.2Z" fill="#5e0000"/><path d="M1100.8 232.8 1091.4 227.9 1082.4 222.1 1082.9 232.8 1082.4 243.5 1091.4 237.7Z" fill="#610000"/><path d="M916.1 211.3 906.6 206.4 897.7 200.6 898.2 211.3 897.7 222.0 906.6 216.2ZM1088.5 211.3 1079.1 206.4 1070.1 200.6 1070.6 211.3 1070.1 222.0 1079.1 216.2Z" fill="#6c0000"/><path d="M1063.9 254.3 1054.4 249.4 1045.4 243.6 1045.9 254.3 1045.4 265.0 1054.4 259.2Z" fill="#6d0000"/><path d="M694.4 211.3 685.0 206.4 676.0 200.6 676.5 211.3 676.0 222.0 685.0 216.2Z" fill="#7f0000"/><path d="M1051.6 232.8 1042.1 227.9 1033.1 222.1 1033.6 232.8 1033.1 243.5 1042.1 237.7Z" fill="#810000"/><path d="M1125.5 189.8 1116.0 184.9 1107.0 179.1 1107.5 189.8 1107.0 200.5 1116.0 194.7Z" fill="#8b0000"/><path d="M940.7 211.3 931.3 206.4 922.3 200.6 922.8 211.3 922.3 222.0 931.3 216.2ZM1063.9 211.3 1054.4 206.4 1045.4 200.6 1045.9 211.3 1045.4 222.0 1054.4 216.2Z" fill="#9b0000"/><path d="M1076.2 232.8 1066.7 227.9 1057.8 222.1 1058.3 232.8 1057.8 243.5 1066.7 237.7Z" fill="#ab0000"/><path d="M965.4 211.3 955.9 206.4 946.9 200.6 947.4 211.3 946.9 222.0 955.9 216.2ZM1039.3 211.3 1029.8 206.4 1020.8 200.6 1021.3 211.3 1020.8 222.0 1029.8 216.2Z" fill="#c10000"/><path d="M1150.1 189.8 1140.6 184.9 1131.6 179.1 1132.1 189.8 1131.6 200.5 1140.6 194.7Z" fill="#d20000"/><path d="M990.0 211.3 980.5 206.4 971.6 200.6 972.1 211.3 971.6 222.0 980.5 216.2ZM1014.6 211.3 1005.2 206.4 996.2 200.6 996.7 211.3 996.2 222.0 1005.2 216.2Z" fill="#d70000"/><path d="M608.2 189.8 598.8 184.9 589.8 179.1 590.3 189.8 589.8 200.5 598.8 194.7ZM1174.7 189.8 1165.3 184.9 1156.3 179.1 1156.8 189.8 1156.3 200.5 1165.3 194.7Z" fill="#da0000"/><path d="M632.9 189.8 623.4 184.9 614.4 179.1 614.9 189.8 614.4 200.5 623.4 194.7ZM953.1 189.8 943.6 184.9 934.6 179.1 935.1 189.8 934.6 200.5 943.6 194.7Z" fill="#db0000"/><path d="M928.4 189.8 919.0 184.9 910.0 179.1 910.5 189.8 910.0 200.5 919.0 194.7Z" fill="#dd0000"/><path d="M657.5 189.8 648.0 184.9 639.1 179.1 639.6 189.8 639.1 200.5 648.0 194.7Z" fill="#de0000"/><path d="M977.7 189.8 968.2 184.9 959.2 179.1 959.7 189.8 959.2 200.5 968.2 194.7Z" fill="#e30000"/><path d="M854.5 189.8 845.1 184.9 836.1 179.1 836.6 189.8 836.1 200.5 845.1 194.7Z" fill="#e60000"/><path d="M682.1 189.8 672.7 184.9 663.7 179.1 664.2 189.8 663.7 200.5 672.7 194.7Z" fill="#ee0000"/><path d="M829.9 189.8 820.4 184.9 811.5 179.1 812.0 189.8 811.5 200.5 820.4 194.7Z" fill="#fe0000"/><path d="M1100.8 189.8 1091.4 184.9 1082.4 179.1 1082.9 189.8 1082.4 200.5 1091.4 194.7Z" fill="#ff0300"/><path d="M1002.3 189.8 992.8 184.9 983.9 179.1 984.4 189.8 983.9 200.5 992.8 194.7Z" fill="#ff0400"/><path d="M879.2 189.8 869.7 184.9 860.7 179.1 861.2 189.8 860.7 200.5 869.7 194.7Z" fill="#ff0800"/><path d="M903.8 189.8 894.3 184.9 885.4 179.1 885.9 189.8 885.4 200.5 894.3 194.7Z" fill="#ff0a00"/><path d="M706.8 189.8 697.3 184.9 688.3 179.1 688.8 189.8 688.3 200.5 697.3 194.7Z" fill="#ff0f00"/><path d="M805.3 189.8 795.8 184.9 786.8 179.1 787.3 189.8 786.8 200.5 795.8 194.7Z" fill="#ff2300"/><path d="M1027.0 189.8 1017.5 184.9 1008.5 179.1 1009.0 189.8 1008.5 200.5 1017.5 194.7Z" fill="#ff2e00"/><path d="M1076.2 189.8 1066.7 184.9 1057.8 179.1 1058.3 189.8 1057.8 200.5 1066.7 194.7Z" fill="#ff3000"/><path d="M731.4 189.8 721.9 184.9 712.9 179.1 713.4 189.8 712.9 200.5 721.9 194.7Z" fill="#ff3700"/><path d="M1051.6 189.8 1042.1 184.9 1033.1 179.1 1033.6 189.8 1033.1 200.5 1042.1 194.7Z" fill="#ff4800"/><path d="M780.6 189.8 771.2 184.9 762.2 179.1 762.7 189.8 762.2 200.5 771.2 194.7Z" fill="#ff4900"/><path d="M756.0 189.8 746.5 184.9 737.6 179.1 738.1 189.8 737.6 200.5 746.5 194.7Z" fill="#ff5300"/><path d="M586.2 200.5a3.5 3.5 0 1 0 7.1 0a3.5 3.5 0 1 0 -7.1 0ZM610.9 200.5a3.5 3.5 0 1 0 7.1 0a3.5 3.5 0 1 0 -7.1 0ZM734.0 200.5a3.5 3.5 0 1 0 7.1 0a3.5 3.5 0 1 0 -7.1 0ZM758.7 200.5a3.5 3.5 0 1 0 7.1 0a3.5 3.5 0 1 0 -7.1 0ZM783.3 200.5a3.5 3.5 0 1 0 7.1 0a3.5 3.5 0 1 0 -7.1 0ZM807.9 200.5a3.5 3.5 0 1 0 7.1 0a3.5 3.5 0 1 0 -7.1 0ZM832.5 200.5a3.5 3.5 0 1 0 7.1 0a3.5 3.5 0 1 0 -7.1 0ZM1152.7 200.5a3.5 3.5 0 1 0 7.1 0a3.5 3.5 0 1 0 -7.1 0ZM617.0 211.3a3.5 3.5 0 1 0 7.1 0a3.5 3.5 0 1 0 -7.1 0ZM598.6 200.6a3.5 3.5 0 1 0 7.1 0a3.5 3.5 0 1 0 -7.1 0ZM598.6 222.0a3.5 3.5 0 1 0 7.1 0a3.5 3.5 0 1 0 -7.1 0ZM623.2 222.0a3.5 3.5 0 1 0 7.1 0a3.5 3.5 0 1 0 -7.1 0ZM647.8 222.0a3.5 3.5 0 1 0 7.1 0a3.5 3.5 0 1 0 -7.1 0ZM672.4 222.0a3.5 3.5 0 1 0 7.1 0a3.5 3.5 0 1 0 -7.1 0ZM697.1 222.0a3.5 3.5 0 1 0 7.1 0a3.5 3.5 0 1 0 -7.1 0ZM740.2 211.3a3.5 3.5 0 1 0 7.1 0a3.5 3.5 0 1 0 -7.1 0ZM721.7 222.0a3.5 3.5 0 1 0 7.1 0a3.5 3.5 0 1 0 -7.1 0ZM764.8 211.3a3.5 3.5 0 1 0 7.1 0a3.5 3.5 0 1 0 -7.1 0ZM746.3 200.6a3.5 3.5 0 1 0 7.1 0a3.5 3.5 0 1 0 -7.1 0ZM746.3 222.0a3.5 3.5 0 1 0 7.1 0a3.5 3.5 0 1 0 -7.1 0ZM789.4 211.3a3.5 3.5 0 1 0 7.1 0a3.5 3.5 0 1 0 -7.1 0ZM771.0 200.6a3.5 3.5 0 1 0 7.1 0a3.5 3.5 0 1 0 -7.1 0ZM771.0 222.0a3.5 3.5 0 1 0 7.1 0a3.5 3.5 0 1 0 -7.1 0ZM814.0 211.3a3.5 3.5 0 1 0 7.1 0a3.5 3.5 0 1 0 -7.1 0ZM795.6 200.6a3.5 3.5 0 1 0 7.1 0a3.5 3.5 0 1 0 -7.1 0ZM795.6 222.0a3.5 3.5 0 1 0 7.1 0a3.5 3.5 0 1 0 -7.1 0ZM820.2 200.6a3.5 3.5 0 1 0 7.1 0a3.5 3.5 0 1 0 -7.1 0ZM820.2 222.0a3.5 3.5 0 1 0 7.1 0a3.5 3.5 0 1 0 -7.1 0ZM844.9 222.0a3.5 3.5 0 1 0 7.1 0a3.5 3.5 0 1 0 -7.1 0ZM869.5 222.0a3.5 3.5 0 1 0 7.1 0a3.5 3.5 0 1 0 -7.1 0ZM894.1 222.0a3.5 3.5 0 1 0 7.1 0a3.5 3.5 0 1 0 -7.1 0ZM918.7 222.0a3.5 3.5 0 1 0 7.1 0a3.5 3.5 0 1 0 -7.1 0ZM943.4 222.0a3.5 3.5 0 1 0 7.1 0a3.5 3.5 0 1 0 -7.1 0ZM968.0 222.0a3.5 3.5 0 1 0 7.1 0a3.5 3.5 0 1 0 -7.1 0ZM992.6 222.0a3.5 3.5 0 1 0 7.1 0a3.5 3.5 0 1 0 -7.1 0ZM1115.8 222.0a3.5 3.5 0 1 0 7.1 0a3.5 3.5 0 1 0 -7.1 0ZM1158.9 211.3a3.5 3.5 0 1 0 7.1 0a3.5 3.5 0 1 0 -7.1 0ZM1140.4 200.6a3.5 3.5 0 1 0 7.1 0a3.5 3.5 0 1 0 -7.1 0ZM1140.4 222.0a3.5 3.5 0 1 0 7.1 0a3.5 3.5 0 1 0 -7.1 0ZM1183.5 211.3a3.5 3.5 0 1 0 7.1 0a3.5 3.5 0 1 0 -7.1 0ZM1165.0 200.6a3.5 3.5 0 1 0 7.1 0a3.5 3.5 0 1 0 -7.1 0ZM1165.0 222.0a3.5 3.5 0 1 0 7.1 0a3.5 3.5 0 1 0 -7.1 0ZM629.3 232.8a3.5 3.5 0 1 0 7.1 0a3.5 3.5 0 1 0 -7.1 0ZM610.9 222.1a3.5 3.5 0 1 0 7.1 0a3.5 3.5 0 1 0 -7.1 0ZM610.9 243.5a3.5 3.5 0 1 0 7.1 0a3.5 3.5 0 1 0 -7.1 0ZM654.0 232.8a3.5 3.5 0 1 0 7.1 0a3.5 3.5 0 1 0 -7.1 0ZM635.5 222.1a3.5 3.5 0 1 0 7.1 0a3.5 3.5 0 1 0 -7.1 0ZM635.5 243.5a3.5 3.5 0 1 0 7.1 0a3.5 3.5 0 1 0 -7.1 0ZM678.6 232.8a3.5 3.5 0 1 0 7.1 0a3.5 3.5 0 1 0 -7.1 0ZM660.1 222.1a3.5 3.5 0 1 0 7.1 0a3.5 3.5 0 1 0 -7.1 0ZM660.1 243.5a3.5 3.5 0 1 0 7.1 0a3.5 3.5 0 1 0 -7.1 0ZM703.2 232.8a3.5 3.5 0 1 0 7.1 0a3.5 3.5 0 1 0 -7.1 0ZM684.8 222.1a3.5 3.5 0 1 0 7.1 0a3.5 3.5 0 1 0 -7.1 0ZM684.8 243.5a3.5 3.5 0 1 0 7.1 0a3.5 3.5 0 1 0 -7.1 0ZM727.8 232.8a3.5 3.5 0 1 0 7.1 0a3.5 3.5 0 1 0 -7.1 0ZM709.4 222.1a3.5 3.5 0 1 0 7.1 0a3.5 3.5 0 1 0 -7.1 0ZM709.4 243.5a3.5 3.5 0 1 0 7.1 0a3.5 3.5 0 1 0 -7.1 0ZM752.5 232.8a3.5 3.5 0 1 0 7.1 0a3.5 3.5 0 1 0 -7.1 0ZM734.0 222.1a3.5 3.5 0 1 0 7.1 0a3.5 3.5 0 1 0 -7.1 0ZM734.0 243.5a3.5 3.5 0 1 0 7.1 0a3.5 3.5 0 1 0 -7.1 0ZM777.1 232.8a3.5 3.5 0 1 0 7.1 0a3.5 3.5 0 1 0 -7.1 0ZM758.7 222.1a3.5 3.5 0 1 0 7.1 0a3.5 3.5 0 1 0 -7.1 0ZM758.7 243.5a3.5 3.5 0 1 0 7.1 0a3.5 3.5 0 1 0 -7.1 0ZM801.7 232.8a3.5 3.5 0 1 0 7.1 0a3.5 3.5 0 1 0 -7.1 0ZM783.3 222.1a3.5 3.5 0 1 0 7.1 0a3.5 3.5 0 1 0 -7.1 0ZM783.3 243.5a3.5 3.5 0 1 0 7.1 0a3.5 3.5 0 1 0 -7.1 0ZM826.4 232.8a3.5 3.5 0 1 0 7.1 0a3.5 3.5 0 1 0 -7.1 0ZM807.9 222.1a3.5 3.5 0 1 0 7.1 0a3.5 3.5 0 1 0 -7.1 0ZM807.9 243.5a3.5 3.5 0 1 0 7.1 0a3.5 3.5 0 1 0 -7.1 0ZM851.0 232.8a3.5 3.5 0 1 0 7.1 0a3.5 3.5 0 1 0 -7.1 0ZM832.5 222.1a3.5 3.5 0 1 0 7.1 0a3.5 3.5 0 1 0 -7.1 0ZM832.5 243.5a3.5 3.5 0 1 0 7.1 0a3.5 3.5 0 1 0 -7.1 0ZM875.6 232.8a3.5 3.5 0 1 0 7.1 0a3.5 3.5 0 1 0 -7.1 0ZM857.2 222.1a3.5 3.5 0 1 0 7.1 0a3.5 3.5 0 1 0 -7.1 0ZM857.2 243.5a3.5 3.5 0 1 0 7.1 0a3.5 3.5 0 1 0 -7.1 0ZM900.2 232.8a3.5 3.5 0 1 0 7.1 0a3.5 3.5 0 1 0 -7.1 0ZM881.8 222.1a3.5 3.5 0 1 0 7.1 0a3.5 3.5 0 1 0 -7.1 0ZM881.8 243.5a3.5 3.5 0 1 0 7.1 0a3.5 3.5 0 1 0 -7.1 0ZM924.9 232.8a3.5 3.5 0 1 0 7.1 0a3.5 3.5 0 1 0 -7.1 0ZM906.4 222.1a3.5 3.5 0 1 0 7.1 0a3.5 3.5 0 1 0 -7.1 0ZM906.4 243.5a3.5 3.5 0 1 0 7.1 0a3.5 3.5 0 1 0 -7.1 0ZM949.5 232.8a3.5 3.5 0 1 0 7.1 0a3.5 3.5 0 1 0 -7.1 0ZM931.1 222.1a3.5 3.5 0 1 0 7.1 0a3.5 3.5 0 1 0 -7.1 0ZM931.1 243.5a3.5 3.5 0 1 0 7.1 0a3.5 3.5 0 1 0 -7.1 0ZM974.1 232.8a3.5 3.5 0 1 0 7.1 0a3.5 3.5 0 1 0 -7.1 0ZM955.7 222.1a3.5 3.5 0 1 0 7.1 0a3.5 3.5 0 1 0 -7.1 0ZM955.7 243.5a3.5 3.5 0 1 0 7.1 0a3.5 3.5 0 1 0 -7.1 0ZM998.8 232.8a3.5 3.5 0 1 0 7.1 0a3.5 3.5 0 1 0 -7.1 0ZM980.3 222.1a3.5 3.5 0 1 0 7.1 0a3.5 3.5 0 1 0 -7.1 0ZM980.3 243.5a3.5 3.5 0 1 0 7.1 0a3.5 3.5 0 1 0 -7.1 0ZM1121.9 232.8a3.5 3.5 0 1 0 7.1 0a3.5 3.5 0 1 0 -7.1 0ZM1103.5 243.5a3.5 3.5 0 1 0 7.1 0a3.5 3.5 0 1 0 -7.1 0ZM1146.5 232.8a3.5 3.5 0 1 0 7.1 0a3.5 3.5 0 1 0 -7.1 0ZM1128.1 222.1a3.5 3.5 0 1 0 7.1 0a3.5 3.5 0 1 0 -7.1 0ZM1128.1 243.5a3.5 3.5 0 1 0 7.1 0a3.5 3.5 0 1 0 -7.1 0ZM1171.2 232.8a3.5 3.5 0 1 0 7.1 0a3.5 3.5 0 1 0 -7.1 0ZM1152.7 222.1a3.5 3.5 0 1 0 7.1 0a3.5 3.5 0 1 0 -7.1 0ZM1152.7 243.5a3.5 3.5 0 1 0 7.1 0a3.5 3.5 0 1 0 -7.1 0ZM1195.8 232.8a3.5 3.5 0 1 0 7.1 0a3.5 3.5 0 1 0 -7.1 0ZM1177.4 222.1a3.5 3.5 0 1 0 7.1 0a3.5 3.5 0 1 0 -7.1 0ZM1177.4 243.5a3.5 3.5 0 1 0 7.1 0a3.5 3.5 0 1 0 -7.1 0ZM641.6 254.3a3.5 3.5 0 1 0 7.1 0a3.5 3.5 0 1 0 -7.1 0ZM623.2 243.6a3.5 3.5 0 1 0 7.1 0a3.5 3.5 0 1 0 -7.1 0ZM623.2 265.0a3.5 3.5 0 1 0 7.1 0a3.5 3.5 0 1 0 -7.1 0ZM666.3 254.3a3.5 3.5 0 1 0 7.1 0a3.5 3.5 0 1 0 -7.1 0ZM647.8 243.6a3.5 3.5 0 1 0 7.1 0a3.5 3.5 0 1 0 -7.1 0ZM647.8 265.0a3.5 3.5 0 1 0 7.1 0a3.5 3.5 0 1 0 -7.1 0ZM690.9 254.3a3.5 3.5 0 1 0 7.1 0a3.5 3.5 0 1 0 -7.1 0ZM672.4 243.6a3.5 3.5 0 1 0 7.1 0a3.5 3.5 0 1 0 -7.1 0ZM672.4 265.0a3.5 3.5 0 1 0 7.1 0a3.5 3.5 0 1 0 -7.1 0ZM715.5 254.3a3.5 3.5 0 1 0 7.1 0a3.5 3.5 0 1 0 -7.1 0ZM697.1 243.6a3.5 3.5 0 1 0 7.1 0a3.5 3.5 0 1 0 -7.1 0ZM697.1 265.0a3.5 3.5 0 1 0 7.1 0a3.5 3.5 0 1 0 -7.1 0ZM740.2 254.3a3.5 3.5 0 1 0 7.1 0a3.5 3.5 0 1 0 -7.1 0ZM721.7 243.6a3.5 3.5 0 1 0 7.1 0a3.5 3.5 0 1 0 -7.1 0ZM721.7 265.0a3.5 3.5 0 1 0 7.1 0a3.5 3.5 0 1 0 -7.1 0ZM764.8 254.3a3.5 3.5 0 1 0 7.1 0a3.5 3.5 0 1 0 -7.1 0ZM746.3 243.6a3.5 3.5 0 1 0 7.1 0a3.5 3.5 0 1 0 -7.1 0ZM746.3 265.0a3.5 3.5 0 1 0 7.1 0a3.5 3.5 0 1 0 -7.1 0ZM789.4 254.3a3.5 3.5 0 1 0 7.1 0a3.5 3.5 0 1 0 -7.1 0ZM771.0 243.6a3.5 3.5 0 1 0 7.1 0a3.5 3.5 0 1 0 -7.1 0ZM771.0 265.0a3.5 3.5 0 1 0 7.1 0a3.5 3.5 0 1 0 -7.1 0ZM814.0 254.3a3.5 3.5 0 1 0 7.1 0a3.5 3.5 0 1 0 -7.1 0ZM795.6 243.6a3.5 3.5 0 1 0 7.1 0a3.5 3.5 0 1 0 -7.1 0ZM795.6 265.0a3.5 3.5 0 1 0 7.1 0a3.5 3.5 0 1 0 -7.1 0ZM838.7 254.3a3.5 3.5 0 1 0 7.1 0a3.5 3.5 0 1 0 -7.1 0ZM820.2 243.6a3.5 3.5 0 1 0 7.1 0a3.5 3.5 0 1 0 -7.1 0ZM820.2 265.0a3.5 3.5 0 1 0 7.1 0a3.5 3.5 0 1 0 -7.1 0ZM863.3 254.3a3.5 3.5 0 1 0 7.1 0a3.5 3.5 0 1 0 -7.1 0ZM844.9 243.6a3.5 3.5 0 1 0 7.1 0a3.5 3.5 0 1 0 -7.1 0ZM844.9 265.0a3.5 3.5 0 1 0 7.1 0a3.5 3.5 0 1 0 -7.1 0ZM887.9 254.3a3.5 3.5 0 1 0 7.1 0a3.5 3.5 0 1 0 -7.1 0ZM869.5 243.6a3.5 3.5 0 1 0 7.1 0a3.5 3.5 0 1 0 -7.1 0ZM869.5 265.0a3.5 3.5 0 1 0 7.1 0a3.5 3.5 0 1 0 -7.1 0ZM912.6 254.3a3.5 3.5 0 1 0 7.1 0a3.5 3.5 0 1 0 -7.1 0ZM894.1 243.6a3.5 3.5 0 1 0 7.1 0a3.5 3.5 0 1 0 -7.1 0ZM894.1 265.0a3.5 3.5 0 1 0 7.1 0a3.5 3.5 0 1 0 -7.1 0ZM937.2 254.3a3.5 3.5 0 1 0 7.1 0a3.5 3.5 0 1 0 -7.1 0ZM918.7 243.6a3.5 3.5 0 1 0 7.1 0a3.5 3.5 0 1 0 -7.1 0ZM918.7 265.0a3.5 3.5 0 1 0 7.1 0a3.5 3.5 0 1 0 -7.1 0ZM961.8 254.3a3.5 3.5 0 1 0 7.1 0a3.5 3.5 0 1 0 -7.1 0ZM943.4 243.6a3.5 3.5 0 1 0 7.1 0a3.5 3.5 0 1 0 -7.1 0ZM943.4 265.0a3.5 3.5 0 1 0 7.1 0a3.5 3.5 0 1 0 -7.1 0ZM986.5 254.3a3.5 3.5 0 1 0 7.1 0a3.5 3.5 0 1 0 -7.1 0ZM968.0 243.6a3.5 3.5 0 1 0 7.1 0a3.5 3.5 0 1 0 -7.1 0ZM968.0 265.0a3.5 3.5 0 1 0 7.1 0a3.5 3.5 0 1 0 -7.1 0ZM992.6 243.6a3.5 3.5 0 1 0 7.1 0a3.5 3.5 0 1 0 -7.1 0ZM992.6 265.0a3.5 3.5 0 1 0 7.1 0a3.5 3.5 0 1 0 -7.1 0ZM1109.6 254.3a3.5 3.5 0 1 0 7.1 0a3.5 3.5 0 1 0 -7.1 0ZM1091.2 243.6a3.5 3.5 0 1 0 7.1 0a3.5 3.5 0 1 0 -7.1 0ZM1091.2 265.0a3.5 3.5 0 1 0 7.1 0a3.5 3.5 0 1 0 -7.1 0ZM1134.2 254.3a3.5 3.5 0 1 0 7.1 0a3.5 3.5 0 1 0 -7.1 0ZM1115.8 243.6a3.5 3.5 0 1 0 7.1 0a3.5 3.5 0 1 0 -7.1 0ZM1115.8 265.0a3.5 3.5 0 1 0 7.1 0a3.5 3.5 0 1 0 -7.1 0ZM1158.9 254.3a3.5 3.5 0 1 0 7.1 0a3.5 3.5 0 1 0 -7.1 0ZM1140.4 243.6a3.5 3.5 0 1 0 7.1 0a3.5 3.5 0 1 0 -7.1 0ZM1140.4 265.0a3.5 3.5 0 1 0 7.1 0a3.5 3.5 0 1 0 -7.1 0ZM1183.5 254.3a3.5 3.5 0 1 0 7.1 0a3.5 3.5 0 1 0 -7.1 0ZM1165.0 243.6a3.5 3.5 0 1 0 7.1 0a3.5 3.5 0 1 0 -7.1 0ZM1165.0 265.0a3.5 3.5 0 1 0 7.1 0a3.5 3.5 0 1 0 -7.1 0ZM1208.1 254.3a3.5 3.5 0 1 0 7.1 0a3.5 3.5 0 1 0 -7.1 0ZM1189.7 243.6a3.5 3.5 0 1 0 7.1 0a3.5 3.5 0 1 0 -7.1 0ZM1189.7 265.0a3.5 3.5 0 1 0 7.1 0a3.5 3.5 0 1 0 -7.1 0Z" fill="#000000"/><path d="M1005.0 243.5a3.5 3.5 0 1 0 7.1 0a3.5 3.5 0 1 0 -7.1 0Z" fill="#010000"/><path d="M623.2 200.6a3.5 3.5 0 1 0 7.1 0a3.5 3.5 0 1 0 -7.1 0Z" fill="#030000"/><path d="M838.7 211.3a3.5 3.5 0 1 0 7.1 0a3.5 3.5 0 1 0 -7.1 0ZM1134.2 211.3a3.5 3.5 0 1 0 7.1 0a3.5 3.5 0 1 0 -7.1 0Z" fill="#050000"/><path d="M1005.0 222.1a3.5 3.5 0 1 0 7.1 0a3.5 3.5 0 1 0 -7.1 0Z" fill="#060000"/><path d="M1085.0 254.3a3.5 3.5 0 1 0 7.1 0a3.5 3.5 0 1 0 -7.1 0Z" fill="#0a0000"/><path d="M1128.1 200.5a3.5 3.5 0 1 0 7.1 0a3.5 3.5 0 1 0 -7.1 0ZM844.9 200.6a3.5 3.5 0 1 0 7.1 0a3.5 3.5 0 1 0 -7.1 0Z" fill="#0d0000"/><path d="M1011.1 254.3a3.5 3.5 0 1 0 7.1 0a3.5 3.5 0 1 0 -7.1 0Z" fill="#140000"/><path d="M1103.5 222.1a3.5 3.5 0 1 0 7.1 0a3.5 3.5 0 1 0 -7.1 0Z" fill="#150000"/><path d="M721.7 200.6a3.5 3.5 0 1 0 7.1 0a3.5 3.5 0 1 0 -7.1 0Z" fill="#1b0000"/><path d="M857.2 200.5a3.5 3.5 0 1 0 7.1 0a3.5 3.5 0 1 0 -7.1 0ZM1115.8 200.6a3.5 3.5 0 1 0 7.1 0a3.5 3.5 0 1 0 -7.1 0ZM1078.8 243.5a3.5 3.5 0 1 0 7.1 0a3.5 3.5 0 1 0 -7.1 0Z" fill="#1e0000"/><path d="M635.5 200.5a3.5 3.5 0 1 0 7.1 0a3.5 3.5 0 1 0 -7.1 0Z" fill="#260000"/><path d="M863.3 211.3a3.5 3.5 0 1 0 7.1 0a3.5 3.5 0 1 0 -7.1 0ZM1109.6 211.3a3.5 3.5 0 1 0 7.1 0a3.5 3.5 0 1 0 -7.1 0Z" fill="#280000"/><path d="M1017.3 243.6a3.5 3.5 0 1 0 7.1 0a3.5 3.5 0 1 0 -7.1 0ZM1017.3 265.0a3.5 3.5 0 1 0 7.1 0a3.5 3.5 0 1 0 -7.1 0Z" fill="#290000"/><path d="M715.5 211.3a3.5 3.5 0 1 0 7.1 0a3.5 3.5 0 1 0 -7.1 0ZM1097.3 232.8a3.5 3.5 0 1 0 7.1 0a3.5 3.5 0 1 0 -7.1 0Z" fill="#2d0000"/><path d="M1103.5 200.5a3.5 3.5 0 1 0 7.1 0a3.5 3.5 0 1 0 -7.1 0Z" fill="#320000"/><path d="M869.5 200.6a3.5 3.5 0 1 0 7.1 0a3.5 3.5 0 1 0 -7.1 0Z" fill="#330000"/><path d="M1017.3 222.0a3.5 3.5 0 1 0 7.1 0a3.5 3.5 0 1 0 -7.1 0Z" fill="#340000"/><path d="M641.6 211.3a3.5 3.5 0 1 0 7.1 0a3.5 3.5 0 1 0 -7.1 0Z" fill="#390000"/><path d="M709.4 200.5a3.5 3.5 0 1 0 7.1 0a3.5 3.5 0 1 0 -7.1 0Z" fill="#400000"/><path d="M1091.2 222.0a3.5 3.5 0 1 0 7.1 0a3.5 3.5 0 1 0 -7.1 0Z" fill="#460000"/><path d="M1091.2 200.6a3.5 3.5 0 1 0 7.1 0a3.5 3.5 0 1 0 -7.1 0ZM1066.5 243.6a3.5 3.5 0 1 0 7.1 0a3.5 3.5 0 1 0 -7.1 0ZM1066.5 265.0a3.5 3.5 0 1 0 7.1 0a3.5 3.5 0 1 0 -7.1 0Z" fill="#480000"/><path d="M881.8 200.5a3.5 3.5 0 1 0 7.1 0a3.5 3.5 0 1 0 -7.1 0Z" fill="#490000"/><path d="M647.8 200.6a3.5 3.5 0 1 0 7.1 0a3.5 3.5 0 1 0 -7.1 0Z" fill="#4c0000"/><path d="M1023.4 232.8a3.5 3.5 0 1 0 7.1 0a3.5 3.5 0 1 0 -7.1 0Z" fill="#4e0000"/><path d="M1029.6 243.5a3.5 3.5 0 1 0 7.1 0a3.5 3.5 0 1 0 -7.1 0Z" fill="#520000"/><path d="M887.9 211.3a3.5 3.5 0 1 0 7.1 0a3.5 3.5 0 1 0 -7.1 0ZM1085.0 211.3a3.5 3.5 0 1 0 7.1 0a3.5 3.5 0 1 0 -7.1 0Z" fill="#540000"/><path d="M1060.3 254.3a3.5 3.5 0 1 0 7.1 0a3.5 3.5 0 1 0 -7.1 0Z" fill="#5a0000"/><path d="M1078.8 200.5a3.5 3.5 0 1 0 7.1 0a3.5 3.5 0 1 0 -7.1 0ZM894.1 200.6a3.5 3.5 0 1 0 7.1 0a3.5 3.5 0 1 0 -7.1 0Z" fill="#600000"/><path d="M1035.7 254.3a3.5 3.5 0 1 0 7.1 0a3.5 3.5 0 1 0 -7.1 0Z" fill="#610000"/><path d="M697.1 200.6a3.5 3.5 0 1 0 7.1 0a3.5 3.5 0 1 0 -7.1 0Z" fill="#630000"/><path d="M1054.2 243.5a3.5 3.5 0 1 0 7.1 0a3.5 3.5 0 1 0 -7.1 0Z" fill="#670000"/><path d="M1029.6 222.1a3.5 3.5 0 1 0 7.1 0a3.5 3.5 0 1 0 -7.1 0Z" fill="#680000"/><path d="M1041.9 243.6a3.5 3.5 0 1 0 7.1 0a3.5 3.5 0 1 0 -7.1 0ZM1041.9 265.0a3.5 3.5 0 1 0 7.1 0a3.5 3.5 0 1 0 -7.1 0Z" fill="#6b0000"/><path d="M660.1 200.5a3.5 3.5 0 1 0 7.1 0a3.5 3.5 0 1 0 -7.1 0Z" fill="#6d0000"/><path d="M690.9 211.3a3.5 3.5 0 1 0 7.1 0a3.5 3.5 0 1 0 -7.1 0Z" fill="#710000"/><path d="M906.4 200.5a3.5 3.5 0 1 0 7.1 0a3.5 3.5 0 1 0 -7.1 0ZM666.3 211.3a3.5 3.5 0 1 0 7.1 0a3.5 3.5 0 1 0 -7.1 0ZM1066.5 200.6a3.5 3.5 0 1 0 7.1 0a3.5 3.5 0 1 0 -7.1 0Z" fill="#780000"/><path d="M684.8 200.5a3.5 3.5 0 1 0 7.1 0a3.5 3.5 0 1 0 -7.1 0ZM1078.8 222.1a3.5 3.5 0 1 0 7.1 0a3.5 3.5 0 1 0 -7.1 0Z" fill="#7b0000"/><path d="M672.4 200.6a3.5 3.5 0 1 0 7.1 0a3.5 3.5 0 1 0 -7.1 0Z" fill="#7e0000"/><path d="M912.6 211.3a3.5 3.5 0 1 0 7.1 0a3.5 3.5 0 1 0 -7.1 0ZM1060.3 211.3a3.5 3.5 0 1 0 7.1 0a3.5 3.5 0 1 0 -7.1 0Z" fill="#840000"/><path d="M1054.2 200.5a3.5 3.5 0 1 0 7.1 0a3.5 3.5 0 1 0 -7.1 0Z" fill="#8f0000"/><path d="M918.7 200.6a3.5 3.5 0 1 0 7.1 0a3.5 3.5 0 1 0 -7.1 0Z" fill="#900000"/><path d="M1072.7 232.8a3.5 3.5 0 1 0 7.1 0a3.5 3.5 0 1 0 -7.1 0Z" fill="#910000"/><path d="M1041.9 222.0a3.5 3.5 0 1 0 7.1 0a3.5 3.5 0 1 0 -7.1 0Z" fill="#960000"/><path d="M1066.5 222.0a3.5 3.5 0 1 0 7.1 0a3.5 3.5 0 1 0 -7.1 0Z" fill="#a10000"/><path d="M1103.5 179.1a3.5 3.5 0 1 0 7.1 0a3.5 3.5 0 1 0 -7.1 0ZM1048.0 232.8a3.5 3.5 0 1 0 7.1 0a3.5 3.5 0 1 0 -7.1 0Z" fill="#a50000"/><path d="M931.1 200.5a3.5 3.5 0 1 0 7.1 0a3.5 3.5 0 1 0 -7.1 0ZM1121.9 189.8a3.5 3.5 0 1 0 7.1 0a3.5 3.5 0 1 0 -7.1 0ZM1041.9 200.6a3.5 3.5 0 1 0 7.1 0a3.5 3.5 0 1 0 -7.1 0Z" fill="#a60000"/><path d="M1054.2 222.1a3.5 3.5 0 1 0 7.1 0a3.5 3.5 0 1 0 -7.1 0Z" fill="#ac0000"/><path d="M937.2 211.3a3.5 3.5 0 1 0 7.1 0a3.5 3.5 0 1 0 -7.1 0ZM1035.7 211.3a3.5 3.5 0 1 0 7.1 0a3.5 3.5 0 1 0 -7.1 0Z" fill="#b00000"/><path d="M1029.6 200.5a3.5 3.5 0 1 0 7.1 0a3.5 3.5 0 1 0 -7.1 0ZM943.4 200.6a3.5 3.5 0 1 0 7.1 0a3.5 3.5 0 1 0 -7.1 0Z" fill="#b90000"/><path d="M1128.1 179.1a3.5 3.5 0 1 0 7.1 0a3.5 3.5 0 1 0 -7.1 0Z" fill="#c20000"/><path d="M955.7 200.5a3.5 3.5 0 1 0 7.1 0a3.5 3.5 0 1 0 -7.1 0ZM1017.3 200.6a3.5 3.5 0 1 0 7.1 0a3.5 3.5 0 1 0 -7.1 0Z" fill="#c90000"/><path d="M1097.3 189.8a3.5 3.5 0 1 0 7.1 0a3.5 3.5 0 1 0 -7.1 0Z" fill="#cc0000"/><path d="M961.8 211.3a3.5 3.5 0 1 0 7.1 0a3.5 3.5 0 1 0 -7.1 0ZM1011.1 211.3a3.5 3.5 0 1 0 7.1 0a3.5 3.5 0 1 0 -7.1 0Z" fill="#cf0000"/><path d="M1005.0 200.5a3.5 3.5 0 1 0 7.1 0a3.5 3.5 0 1 0 -7.1 0ZM968.0 200.6a3.5 3.5 0 1 0 7.1 0a3.5 3.5 0 1 0 -7.1 0Z" fill="#d40000"/><path d="M980.3 200.5a3.5 3.5 0 1 0 7.1 0a3.5 3.5 0 1 0 -7.1 0ZM992.6 200.6a3.5 3.5 0 1 0 7.1 0a3.5 3.5 0 1 0 -7.1 0Z" fill="#d90000"/><path d="M604.7 189.8a3.5 3.5 0 1 0 7.1 0a3.5 3.5 0 1 0 -7.1 0ZM586.2 179.1a3.5 3.5 0 1 0 7.1 0a3.5 3.5 0 1 0 -7.1 0ZM610.9 179.1a3.5 3.5 0 1 0 7.1 0a3.5 3.5 0 1 0 -7.1 0ZM1146.5 189.8a3.5 3.5 0 1 0 7.1 0a3.5 3.5 0 1 0 -7.1 0ZM1171.2 189.8a3.5 3.5 0 1 0 7.1 0a3.5 3.5 0 1 0 -7.1 0ZM1152.7 179.1a3.5 3.5 0 1 0 7.1 0a3.5 3.5 0 1 0 -7.1 0ZM986.5 211.3a3.5 3.5 0 1 0 7.1 0a3.5 3.5 0 1 0 -7.1 0Z" fill="#da0000"/><path d="M924.9 189.8a3.5 3.5 0 1 0 7.1 0a3.5 3.5 0 1 0 -7.1 0ZM931.1 179.1a3.5 3.5 0 1 0 7.1 0a3.5 3.5 0 1 0 -7.1 0Z" fill="#db0000"/><path d="M629.3 189.8a3.5 3.5 0 1 0 7.1 0a3.5 3.5 0 1 0 -7.1 0Z" fill="#dc0000"/><path d="M635.5 179.1a3.5 3.5 0 1 0 7.1 0a3.5 3.5 0 1 0 -7.1 0Z" fill="#dd0000"/><path d="M949.5 189.8a3.5 3.5 0 1 0 7.1 0a3.5 3.5 0 1 0 -7.1 0Z" fill="#de0000"/><path d="M955.7 179.1a3.5 3.5 0 1 0 7.1 0a3.5 3.5 0 1 0 -7.1 0Z" fill="#e00000"/><path d="M906.4 179.1a3.5 3.5 0 1 0 7.1 0a3.5 3.5 0 1 0 -7.1 0Z" fill="#e20000"/><path d="M654.0 189.8a3.5 3.5 0 1 0 7.1 0a3.5 3.5 0 1 0 -7.1 0Z" fill="#e40000"/><path d="M660.1 179.1a3.5 3.5 0 1 0 7.1 0a3.5 3.5 0 1 0 -7.1 0Z" fill="#e80000"/><path d="M832.5 179.1a3.5 3.5 0 1 0 7.1 0a3.5 3.5 0 1 0 -7.1 0Z" fill="#e90000"/><path d="M900.2 189.8a3.5 3.5 0 1 0 7.1 0a3.5 3.5 0 1 0 -7.1 0Z" fill="#ec0000"/><path d="M851.0 189.8a3.5 3.5 0 1 0 7.1 0a3.5 3.5 0 1 0 -7.1 0Z" fill="#ed0000"/><path d="M826.4 189.8a3.5 3.5 0 1 0 7.1 0a3.5 3.5 0 1 0 -7.1 0Z" fill="#ee0000"/><path d="M974.1 189.8a3.5 3.5 0 1 0 7.1 0a3.5 3.5 0 1 0 -7.1 0Z" fill="#ef0000"/><path d="M980.3 179.1a3.5 3.5 0 1 0 7.1 0a3.5 3.5 0 1 0 -7.1 0Z" fill="#f90000"/><path d="M857.2 179.1a3.5 3.5 0 1 0 7.1 0a3.5 3.5 0 1 0 -7.1 0Z" fill="#fa0000"/><path d="M678.6 189.8a3.5 3.5 0 1 0 7.1 0a3.5 3.5 0 1 0 -7.1 0Z" fill="#fe0000"/><path d="M684.8 179.1a3.5 3.5 0 1 0 7.1 0a3.5 3.5 0 1 0 -7.1 0Z" fill="#ff0600"/><path d="M807.9 179.1a3.5 3.5 0 1 0 7.1 0a3.5 3.5 0 1 0 -7.1 0Z" fill="#ff0700"/><path d="M801.7 189.8a3.5 3.5 0 1 0 7.1 0a3.5 3.5 0 1 0 -7.1 0ZM1078.8 179.1a3.5 3.5 0 1 0 7.1 0a3.5 3.5 0 1 0 -7.1 0Z" fill="#ff0f00"/><path d="M881.8 179.1a3.5 3.5 0 1 0 7.1 0a3.5 3.5 0 1 0 -7.1 0Z" fill="#ff1500"/><path d="M998.8 189.8a3.5 3.5 0 1 0 7.1 0a3.5 3.5 0 1 0 -7.1 0Z" fill="#ff1700"/><path d="M875.6 189.8a3.5 3.5 0 1 0 7.1 0a3.5 3.5 0 1 0 -7.1 0Z" fill="#ff1800"/><path d="M1072.7 189.8a3.5 3.5 0 1 0 7.1 0a3.5 3.5 0 1 0 -7.1 0Z" fill="#ff1a00"/><path d="M703.2 189.8a3.5 3.5 0 1 0 7.1 0a3.5 3.5 0 1 0 -7.1 0Z" fill="#ff2200"/><path d="M1005.0 179.1a3.5 3.5 0 1 0 7.1 0a3.5 3.5 0 1 0 -7.1 0Z" fill="#ff2300"/><path d="M709.4 179.1a3.5 3.5 0 1 0 7.1 0a3.5 3.5 0 1 0 -7.1 0ZM783.3 179.1a3.5 3.5 0 1 0 7.1 0a3.5 3.5 0 1 0 -7.1 0Z" fill="#ff2d00"/><path d="M777.1 189.8a3.5 3.5 0 1 0 7.1 0a3.5 3.5 0 1 0 -7.1 0Z" fill="#ff3700"/><path d="M1054.2 179.1a3.5 3.5 0 1 0 7.1 0a3.5 3.5 0 1 0 -7.1 0Z" fill="#ff3a00"/><path d="M1023.4 189.8a3.5 3.5 0 1 0 7.1 0a3.5 3.5 0 1 0 -7.1 0Z" fill="#ff4100"/><path d="M1048.0 189.8a3.5 3.5 0 1 0 7.1 0a3.5 3.5 0 1 0 -7.1 0Z" fill="#ff4200"/><path d="M1029.6 179.1a3.5 3.5 0 1 0 7.1 0a3.5 3.5 0 1 0 -7.1 0Z" fill="#ff4600"/><path d="M727.8 189.8a3.5 3.5 0 1 0 7.1 0a3.5 3.5 0 1 0 -7.1 0Z" fill="#ff4900"/><path d="M734.0 179.1a3.5 3.5 0 1 0 7.1 0a3.5 3.5 0 1 0 -7.1 0ZM758.7 179.1a3.5 3.5 0 1 0 7.1 0a3.5 3.5 0 1 0 -7.1 0Z" fill="#ff4f00"/><path d="M752.5 189.8a3.5 3.5 0 1 0 7.1 0a3.5 3.5 0 1 0 -7.1 0Z" fill="#ff5300"/><path d="M591.9 189.8a4.0 4.0 0 1 0 8.0 0a4.0 4.0 0 1 0 -8.0 0ZM616.6 189.8a4.0 4.0 0 1 0 8.0 0a4.0 4.0 0 1 0 -8.0 0ZM641.2 189.8a4.0 4.0 0 1 0 8.0 0a4.0 4.0 0 1 0 -8.0 0ZM665.8 189.8a4.0 4.0 0 1 0 8.0 0a4.0 4.0 0 1 0 -8.0 0ZM690.5 189.8a4.0 4.0 0 1 0 8.0 0a4.0 4.0 0 1 0 -8.0 0ZM715.1 189.8a4.0 4.0 0 1 0 8.0 0a4.0 4.0 0 1 0 -8.0 0ZM739.7 189.8a4.0 4.0 0 1 0 8.0 0a4.0 4.0 0 1 0 -8.0 0ZM764.4 189.8a4.0 4.0 0 1 0 8.0 0a4.0 4.0 0 1 0 -8.0 0ZM789.0 189.8a4.0 4.0 0 1 0 8.0 0a4.0 4.0 0 1 0 -8.0 0ZM813.6 189.8a4.0 4.0 0 1 0 8.0 0a4.0 4.0 0 1 0 -8.0 0ZM838.2 189.8a4.0 4.0 0 1 0 8.0 0a4.0 4.0 0 1 0 -8.0 0ZM862.9 189.8a4.0 4.0 0 1 0 8.0 0a4.0 4.0 0 1 0 -8.0 0ZM887.5 189.8a4.0 4.0 0 1 0 8.0 0a4.0 4.0 0 1 0 -8.0 0ZM912.1 189.8a4.0 4.0 0 1 0 8.0 0a4.0 4.0 0 1 0 -8.0 0ZM936.8 189.8a4.0 4.0 0 1 0 8.0 0a4.0 4.0 0 1 0 -8.0 0ZM961.4 189.8a4.0 4.0 0 1 0 8.0 0a4.0 4.0 0 1 0 -8.0 0ZM986.0 189.8a4.0 4.0 0 1 0 8.0 0a4.0 4.0 0 1 0 -8.0 0ZM1010.7 189.8a4.0 4.0 0 1 0 8.0 0a4.0 4.0 0 1 0 -8.0 0ZM1035.3 189.8a4.0 4.0 0 1 0 8.0 0a4.0 4.0 0 1 0 -8.0 0ZM1059.9 189.8a4.0 4.0 0 1 0 8.0 0a4.0 4.0 0 1 0 -8.0 0ZM1084.5 189.8a4.0 4.0 0 1 0 8.0 0a4.0 4.0 0 1 0 -8.0 0ZM1109.2 189.8a4.0 4.0 0 1 0 8.0 0a4.0 4.0 0 1 0 -8.0 0ZM1133.8 189.8a4.0 4.0 0 1 0 8.0 0a4.0 4.0 0 1 0 -8.0 0ZM1158.4 189.8a4.0 4.0 0 1 0 8.0 0a4.0 4.0 0 1 0 -8.0 0ZM604.3 211.3a4.0 4.0 0 1 0 8.0 0a4.0 4.0 0 1 0 -8.0 0ZM628.9 211.3a4.0 4.0 0 1 0 8.0 0a4.0 4.0 0 1 0 -8.0 0ZM653.5 211.3a4.0 4.0 0 1 0 8.0 0a4.0 4.0 0 1 0 -8.0 0ZM678.1 211.3a4.0 4.0 0 1 0 8.0 0a4.0 4.0 0 1 0 -8.0 0ZM702.8 211.3a4.0 4.0 0 1 0 8.0 0a4.0 4.0 0 1 0 -8.0 0ZM727.4 211.3a4.0 4.0 0 1 0 8.0 0a4.0 4.0 0 1 0 -8.0 0ZM752.0 211.3a4.0 4.0 0 1 0 8.0 0a4.0 4.0 0 1 0 -8.0 0ZM776.7 211.3a4.0 4.0 0 1 0 8.0 0a4.0 4.0 0 1 0 -8.0 0ZM801.3 211.3a4.0 4.0 0 1 0 8.0 0a4.0 4.0 0 1 0 -8.0 0ZM825.9 211.3a4.0 4.0 0 1 0 8.0 0a4.0 4.0 0 1 0 -8.0 0ZM850.6 211.3a4.0 4.0 0 1 0 8.0 0a4.0 4.0 0 1 0 -8.0 0ZM875.2 211.3a4.0 4.0 0 1 0 8.0 0a4.0 4.0 0 1 0 -8.0 0ZM899.8 211.3a4.0 4.0 0 1 0 8.0 0a4.0 4.0 0 1 0 -8.0 0ZM924.4 211.3a4.0 4.0 0 1 0 8.0 0a4.0 4.0 0 1 0 -8.0 0ZM949.1 211.3a4.0 4.0 0 1 0 8.0 0a4.0 4.0 0 1 0 -8.0 0ZM973.7 211.3a4.0 4.0 0 1 0 8.0 0a4.0 4.0 0 1 0 -8.0 0ZM998.3 211.3a4.0 4.0 0 1 0 8.0 0a4.0 4.0 0 1 0 -8.0 0ZM1023.0 211.3a4.0 4.0 0 1 0 8.0 0a4.0 4.0 0 1 0 -8.0 0ZM1047.6 211.3a4.0 4.0 0 1 0 8.0 0a4.0 4.0 0 1 0 -8.0 0ZM1072.2 211.3a4.0 4.0 0 1 0 8.0 0a4.0 4.0 0 1 0 -8.0 0ZM1096.9 211.3a4.0 4.0 0 1 0 8.0 0a4.0 4.0 0 1 0 -8.0 0ZM1121.5 211.3a4.0 4.0 0 1 0 8.0 0a4.0 4.0 0 1 0 -8.0 0ZM1146.1 211.3a4.0 4.0 0 1 0 8.0 0a4.0 4.0 0 1 0 -8.0 0ZM1170.7 211.3a4.0 4.0 0 1 0 8.0 0a4.0 4.0 0 1 0 -8.0 0ZM616.6 232.8a4.0 4.0 0 1 0 8.0 0a4.0 4.0 0 1 0 -8.0 0ZM641.2 232.8a4.0 4.0 0 1 0 8.0 0a4.0 4.0 0 1 0 -8.0 0ZM665.8 232.8a4.0 4.0 0 1 0 8.0 0a4.0 4.0 0 1 0 -8.0 0ZM690.5 232.8a4.0 4.0 0 1 0 8.0 0a4.0 4.0 0 1 0 -8.0 0ZM715.1 232.8a4.0 4.0 0 1 0 8.0 0a4.0 4.0 0 1 0 -8.0 0ZM739.7 232.8a4.0 4.0 0 1 0 8.0 0a4.0 4.0 0 1 0 -8.0 0ZM764.4 232.8a4.0 4.0 0 1 0 8.0 0a4.0 4.0 0 1 0 -8.0 0ZM789.0 232.8a4.0 4.0 0 1 0 8.0 0a4.0 4.0 0 1 0 -8.0 0ZM813.6 232.8a4.0 4.0 0 1 0 8.0 0a4.0 4.0 0 1 0 -8.0 0ZM838.2 232.8a4.0 4.0 0 1 0 8.0 0a4.0 4.0 0 1 0 -8.0 0ZM862.9 232.8a4.0 4.0 0 1 0 8.0 0a4.0 4.0 0 1 0 -8.0 0ZM887.5 232.8a4.0 4.0 0 1 0 8.0 0a4.0 4.0 0 1 0 -8.0 0ZM912.1 232.8a4.0 4.0 0 1 0 8.0 0a4.0 4.0 0 1 0 -8.0 0ZM936.8 232.8a4.0 4.0 0 1 0 8.0 0a4.0 4.0 0 1 0 -8.0 0ZM961.4 232.8a4.0 4.0 0 1 0 8.0 0a4.0 4.0 0 1 0 -8.0 0ZM986.0 232.8a4.0 4.0 0 1 0 8.0 0a4.0 4.0 0 1 0 -8.0 0ZM1010.7 232.8a4.0 4.0 0 1 0 8.0 0a4.0 4.0 0 1 0 -8.0 0ZM1035.3 232.8a4.0 4.0 0 1 0 8.0 0a4.0 4.0 0 1 0 -8.0 0ZM1059.9 232.8a4.0 4.0 0 1 0 8.0 0a4.0 4.0 0 1 0 -8.0 0ZM1084.5 232.8a4.0 4.0 0 1 0 8.0 0a4.0 4.0 0 1 0 -8.0 0ZM1109.2 232.8a4.0 4.0 0 1 0 8.0 0a4.0 4.0 0 1 0 -8.0 0ZM1133.8 232.8a4.0 4.0 0 1 0 8.0 0a4.0 4.0 0 1 0 -8.0 0ZM1158.4 232.8a4.0 4.0 0 1 0 8.0 0a4.0 4.0 0 1 0 -8.0 0ZM1183.1 232.8a4.0 4.0 0 1 0 8.0 0a4.0 4.0 0 1 0 -8.0 0ZM628.9 254.3a4.0 4.0 0 1 0 8.0 0a4.0 4.0 0 1 0 -8.0 0ZM653.5 254.3a4.0 4.0 0 1 0 8.0 0a4.0 4.0 0 1 0 -8.0 0ZM678.1 254.3a4.0 4.0 0 1 0 8.0 0a4.0 4.0 0 1 0 -8.0 0ZM702.8 254.3a4.0 4.0 0 1 0 8.0 0a4.0 4.0 0 1 0 -8.0 0ZM727.4 254.3a4.0 4.0 0 1 0 8.0 0a4.0 4.0 0 1 0 -8.0 0ZM752.0 254.3a4.0 4.0 0 1 0 8.0 0a4.0 4.0 0 1 0 -8.0 0ZM776.7 254.3a4.0 4.0 0 1 0 8.0 0a4.0 4.0 0 1 0 -8.0 0ZM801.3 254.3a4.0 4.0 0 1 0 8.0 0a4.0 4.0 0 1 0 -8.0 0ZM825.9 254.3a4.0 4.0 0 1 0 8.0 0a4.0 4.0 0 1 0 -8.0 0ZM850.6 254.3a4.0 4.0 0 1 0 8.0 0a4.0 4.0 0 1 0 -8.0 0ZM875.2 254.3a4.0 4.0 0 1 0 8.0 0a4.0 4.0 0 1 0 -8.0 0ZM899.8 254.3a4.0 4.0 0 1 0 8.0 0a4.0 4.0 0 1 0 -8.0 0ZM924.4 254.3a4.0 4.0 0 1 0 8.0 0a4.0 4.0 0 1 0 -8.0 0ZM949.1 254.3a4.0 4.0 0 1 0 8.0 0a4.0 4.0 0 1 0 -8.0 0ZM973.7 254.3a4.0 4.0 0 1 0 8.0 0a4.0 4.0 0 1 0 -8.0 0ZM998.3 254.3a4.0 4.0 0 1 0 8.0 0a4.0 4.0 0 1 0 -8.0 0ZM1023.0 254.3a4.0 4.0 0 1 0 8.0 0a4.0 4.0 0 1 0 -8.0 0ZM1047.6 254.3a4.0 4.0 0 1 0 8.0 0a4.0 4.0 0 1 0 -8.0 0ZM1072.2 254.3a4.0 4.0 0 1 0 8.0 0a4.0 4.0 0 1 0 -8.0 0ZM1096.9 254.3a4.0 4.0 0 1 0 8.0 0a4.0 4.0 0 1 0 -8.0 0ZM1121.5 254.3a4.0 4.0 0 1 0 8.0 0a4.0 4.0 0 1 0 -8.0 0ZM1146.1 254.3a4.0 4.0 0 1 0 8.0 0a4.0 4.0 0 1 0 -8.0 0ZM1170.7 254.3a4.0 4.0 0 1 0 8.0 0a4.0 4.0 0 1 0 -8.0 0ZM1195.4 254.3a4.0 4.0 0 1 0 8.0 0a4.0 4.0 0 1 0 -8.0 0Z" fill="#0070c0"/></g></g><path d="M794.6 190.60000000000002H868 M892 190.60000000000002H967.3" stroke="#55e23a" stroke-width="3" fill="none"/><polygon points="782.6,190.60000000000002 797.6,183.8 794.1,190.60000000000002 797.6,197.40000000000003" fill="#55e23a"/><polygon points="979.3,190.60000000000002 964.3,183.8 967.8,190.60000000000002 964.3,197.40000000000003" fill="#55e23a"/><polygon points="879.9,181.1 882.4,187.2 888.9,187.7 883.9,191.9 885.5,198.3 879.9,194.8 874.3,198.3 875.9,191.9 870.9,187.7 877.4,187.2" fill="none" stroke="#fff" stroke-width="2.2" stroke-linejoin="miter"/><path d="M649.5 239.0c-1.2-1.6-3.6-1.4-4.6 0.6c-1 2-1.8 8-3.2 16.5c-1 6-2.6 8.2-5 7.6" stroke="#fff" stroke-width="1.6" fill="none"/><path d="M640.5 245.7h7" stroke="#fff" stroke-width="1.3"/><text x="655.5" y="258.5" font-size="28" fill="#fff" textLength="134.5" lengthAdjust="spacingAndGlyphs">= 7.95 kHz</text><rect x="633" y="323.0" width="502" height="96.7" fill="#0070c0"/><clipPath id="clipB2"><polygon points="612.6,303.0 1147.0,303.0 1068.1,439.7 691.5,439.7"/></clipPath><clipPath id="clipB2r"><rect x="633" y="323.0" width="502" height="96.7"/></clipPath><g clip-path="url(#clipB2r)"><g clip-path="url(#clipB2)"><path d="M620.6 359.2 611.1 354.3 602.1 348.5 602.6 359.2 602.1 369.9 611.1 364.1ZM645.2 359.2 635.7 354.3 626.7 348.5 627.2 359.2 626.7 369.9 635.7 364.1ZM669.8 359.2 660.3 354.3 651.4 348.5 651.9 359.2 651.4 369.9 660.3 364.1ZM694.4 359.2 685.0 354.3 676.0 348.5 676.5 359.2 676.0 369.9 685.0 364.1ZM1137.8 359.2 1128.3 354.3 1119.3 348.5 1119.8 359.2 1119.3 369.9 1128.3 364.1ZM1162.4 359.2 1152.9 354.3 1144.0 348.5 1144.5 359.2 1144.0 369.9 1152.9 364.1ZM1187.0 359.2 1177.6 354.3 1168.6 348.5 1169.1 359.2 1168.6 369.9 1177.6 364.1ZM632.9 380.7 623.4 375.8 614.4 370.0 614.9 380.7 614.4 391.4 623.4 385.6ZM657.5 380.7 648.0 375.8 639.1 370.0 639.6 380.7 639.1 391.4 648.0 385.6ZM682.1 380.7 672.7 375.8 663.7 370.0 664.2 380.7 663.7 391.4 672.7 385.6ZM706.8 380.7 697.3 375.8 688.3 370.0 688.8 380.7 688.3 391.4 697.3 385.6ZM731.4 380.7 721.9 375.8 712.9 370.0 713.4 380.7 712.9 391.4 721.9 385.6ZM756.0 380.7 746.5 375.8 737.6 370.0 738.1 380.7 737.6 391.4 746.5 385.6ZM780.6 380.7 771.2 375.8 762.2 370.0 762.7 380.7 762.2 391.4 771.2 385.6ZM805.3 380.7 795.8 375.8 786.8 370.0 787.3 380.7 786.8 391.4 795.8 385.6ZM829.9 380.7 820.4 375.8 811.5 370.0 812.0 380.7 811.5 391.4 820.4 385.6ZM854.5 380.7 845.1 375.8 836.1 370.0 836.6 380.7 836.1 391.4 845.1 385.6ZM879.2 380.7 869.7 375.8 860.7 370.0 861.2 380.7 860.7 391.4 869.7 385.6ZM903.8 380.7 894.3 375.8 885.4 370.0 885.9 380.7 885.4 391.4 894.3 385.6ZM928.4 380.7 919.0 375.8 910.0 370.0 910.5 380.7 910.0 391.4 919.0 385.6ZM953.1 380.7 943.6 375.8 934.6 370.0 935.1 380.7 934.6 391.4 943.6 385.6ZM977.7 380.7 968.2 375.8 959.2 370.0 959.7 380.7 959.2 391.4 968.2 385.6ZM1002.3 380.7 992.8 375.8 983.9 370.0 984.4 380.7 983.9 391.4 992.8 385.6ZM1027.0 380.7 1017.5 375.8 1008.5 370.0 1009.0 380.7 1008.5 391.4 1017.5 385.6ZM1051.6 380.7 1042.1 375.8 1033.1 370.0 1033.6 380.7 1033.1 391.4 1042.1 385.6ZM1076.2 380.7 1066.7 375.8 1057.8 370.0 1058.3 380.7 1057.8 391.4 1066.7 385.6ZM1100.8 380.7 1091.4 375.8 1082.4 370.0 1082.9 380.7 1082.4 391.4 1091.4 385.6ZM1125.5 380.7 1116.0 375.8 1107.0 370.0 1107.5 380.7 1107.0 391.4 1116.0 385.6ZM1150.1 380.7 1140.6 375.8 1131.6 370.0 1132.1 380.7 1131.6 391.4 1140.6 385.6ZM1174.7 380.7 1165.3 375.8 1156.3 370.0 1156.8 380.7 1156.3 391.4 1165.3 385.6ZM1199.4 380.7 1189.9 375.8 1180.9 370.0 1181.4 380.7 1180.9 391.4 1189.9 385.6ZM645.2 402.2 635.7 397.3 626.7 391.5 627.2 402.2 626.7 412.9 635.7 407.1ZM669.8 402.2 660.3 397.3 651.4 391.5 651.9 402.2 651.4 412.9 660.3 407.1ZM694.4 402.2 685.0 397.3 676.0 391.5 676.5 402.2 676.0 412.9 685.0 407.1ZM719.1 402.2 709.6 397.3 700.6 391.5 701.1 402.2 700.6 412.9 709.6 407.1ZM743.7 402.2 734.2 397.3 725.3 391.5 725.8 402.2 725.3 412.9 734.2 407.1ZM768.3 402.2 758.9 397.3 749.9 391.5 750.4 402.2 749.9 412.9 758.9 407.1ZM793.0 402.2 783.5 397.3 774.5 391.5 775.0 402.2 774.5 412.9 783.5 407.1ZM817.6 402.2 808.1 397.3 799.1 391.5 799.6 402.2 799.1 412.9 808.1 407.1ZM842.2 402.2 832.8 397.3 823.8 391.5 824.3 402.2 823.8 412.9 832.8 407.1ZM866.9 402.2 857.4 397.3 848.4 391.5 848.9 402.2 848.4 412.9 857.4 407.1ZM891.5 402.2 882.0 397.3 873.0 391.5 873.5 402.2 873.0 412.9 882.0 407.1ZM916.1 402.2 906.6 397.3 897.7 391.5 898.2 402.2 897.7 412.9 906.6 407.1ZM940.7 402.2 931.3 397.3 922.3 391.5 922.8 402.2 922.3 412.9 931.3 407.1ZM965.4 402.2 955.9 397.3 946.9 391.5 947.4 402.2 946.9 412.9 955.9 407.1ZM990.0 402.2 980.5 397.3 971.6 391.5 972.1 402.2 971.6 412.9 980.5 407.1ZM1014.6 402.2 1005.2 397.3 996.2 391.5 996.7 402.2 996.2 412.9 1005.2 407.1ZM1039.3 402.2 1029.8 397.3 1020.8 391.5 1021.3 402.2 1020.8 412.9 1029.8 407.1ZM1063.9 402.2 1054.4 397.3 1045.4 391.5 1045.9 402.2 1045.4 412.9 1054.4 407.1ZM1088.5 402.2 1079.1 397.3 1070.1 391.5 1070.6 402.2 1070.1 412.9 1079.1 407.1ZM1113.2 402.2 1103.7 397.3 1094.7 391.5 1095.2 402.2 1094.7 412.9 1103.7 407.1ZM1137.8 402.2 1128.3 397.3 1119.3 391.5 1119.8 402.2 1119.3 412.9 1128.3 407.1ZM1162.4 402.2 1152.9 397.3 1144.0 391.5 1144.5 402.2 1144.0 412.9 1152.9 407.1ZM1187.0 402.2 1177.6 397.3 1168.6 391.5 1169.1 402.2 1168.6 412.9 1177.6 407.1ZM1211.7 402.2 1202.2 397.3 1193.2 391.5 1193.7 402.2 1193.2 412.9 1202.2 407.1Z" fill="#000000"/><path d="M719.1 359.2 709.6 354.3 700.6 348.5 701.1 359.2 700.6 369.9 709.6 364.1Z" fill="#0d0000"/><path d="M1063.9 359.2 1054.4 354.3 1045.4 348.5 1045.9 359.2 1045.4 369.9 1054.4 364.1Z" fill="#190000"/><path d="M743.7 359.2 734.2 354.3 725.3 348.5 725.8 359.2 725.3 369.9 734.2 364.1Z" fill="#250000"/><path d="M1039.3 359.2 1029.8 354.3 1020.8 348.5 1021.3 359.2 1020.8 369.9 1029.8 364.1Z" fill="#270000"/><path d="M768.3 359.2 758.9 354.3 749.9 348.5 750.4 359.2 749.9 369.9 758.9 364.1Z" fill="#410000"/><path d="M1014.6 359.2 1005.2 354.3 996.2 348.5 996.7 359.2 996.2 369.9 1005.2 364.1Z" fill="#430000"/><path d="M1113.2 359.2 1103.7 354.3 1094.7 348.5 1095.2 359.2 1094.7 369.9 1103.7 364.1Z" fill="#4b0000"/><path d="M793.0 359.2 783.5 354.3 774.5 348.5 775.0 359.2 774.5 369.9 783.5 364.1Z" fill="#5e0000"/><path d="M990.0 359.2 980.5 354.3 971.6 348.5 972.1 359.2 971.6 369.9 980.5 364.1Z" fill="#5f0000"/><path d="M817.6 359.2 808.1 354.3 799.1 348.5 799.6 359.2 799.1 369.9 808.1 364.1Z" fill="#790000"/><path d="M965.4 359.2 955.9 354.3 946.9 348.5 947.4 359.2 946.9 369.9 955.9 364.1Z" fill="#7a0000"/><path d="M842.2 359.2 832.8 354.3 823.8 348.5 824.3 359.2 823.8 369.9 832.8 364.1Z" fill="#8f0000"/><path d="M940.7 359.2 931.3 354.3 922.3 348.5 922.8 359.2 922.3 369.9 931.3 364.1ZM1088.5 359.2 1079.1 354.3 1070.1 348.5 1070.6 359.2 1070.1 369.9 1079.1 364.1Z" fill="#900000"/><path d="M866.9 359.2 857.4 354.3 848.4 348.5 848.9 359.2 848.4 369.9 857.4 364.1Z" fill="#9e0000"/><path d="M916.1 359.2 906.6 354.3 897.7 348.5 898.2 359.2 897.7 369.9 906.6 364.1Z" fill="#9f0000"/><path d="M891.5 359.2 882.0 354.3 873.0 348.5 873.5 359.2 873.0 369.9 882.0 364.1Z" fill="#a30000"/><path d="M657.5 337.7 648.0 332.8 639.1 327.0 639.6 337.7 639.1 348.4 648.0 342.6Z" fill="#f60000"/><path d="M1125.5 337.7 1116.0 332.8 1107.0 327.0 1107.5 337.7 1107.0 348.4 1116.0 342.6Z" fill="#f90000"/><path d="M632.9 337.7 623.4 332.8 614.4 327.0 614.9 337.7 614.4 348.4 623.4 342.6Z" fill="#ff3200"/><path d="M682.1 337.7 672.7 332.8 663.7 327.0 664.2 337.7 663.7 348.4 672.7 342.6Z" fill="#ff3700"/><path d="M1150.1 337.7 1140.6 332.8 1131.6 327.0 1132.1 337.7 1131.6 348.4 1140.6 342.6Z" fill="#ff3c00"/><path d="M1100.8 337.7 1091.4 332.8 1082.4 327.0 1082.9 337.7 1082.4 348.4 1091.4 342.6Z" fill="#ff5200"/><path d="M608.2 337.7 598.8 332.8 589.8 327.0 590.3 337.7 589.8 348.4 598.8 342.6Z" fill="#ff5300"/><path d="M1174.7 337.7 1165.3 332.8 1156.3 327.0 1156.8 337.7 1156.3 348.4 1165.3 342.6Z" fill="#ff5400"/><path d="M953.1 337.7 943.6 332.8 934.6 327.0 935.1 337.7 934.6 348.4 943.6 342.6Z" fill="#ff5b00"/><path d="M928.4 337.7 919.0 332.8 910.0 327.0 910.5 337.7 910.0 348.4 919.0 342.6Z" fill="#ff5e00"/><path d="M854.5 337.7 845.1 332.8 836.1 327.0 836.6 337.7 836.1 348.4 845.1 342.6Z" fill="#ff6400"/><path d="M706.8 337.7 697.3 332.8 688.3 327.0 688.8 337.7 688.3 348.4 697.3 342.6Z" fill="#ff6800"/><path d="M977.7 337.7 968.2 332.8 959.2 327.0 959.7 337.7 959.2 348.4 968.2 342.6Z" fill="#ff7300"/><path d="M879.2 337.7 869.7 332.8 860.7 327.0 861.2 337.7 860.7 348.4 869.7 342.6ZM903.8 337.7 894.3 332.8 885.4 327.0 885.9 337.7 885.4 348.4 894.3 342.6Z" fill="#ff7400"/><path d="M829.9 337.7 820.4 332.8 811.5 327.0 812.0 337.7 811.5 348.4 820.4 342.6Z" fill="#ff7500"/><path d="M1076.2 337.7 1066.7 332.8 1057.8 327.0 1058.3 337.7 1057.8 348.4 1066.7 342.6Z" fill="#ff8800"/><path d="M731.4 337.7 721.9 332.8 712.9 327.0 713.4 337.7 712.9 348.4 721.9 342.6Z" fill="#ff9300"/><path d="M805.3 337.7 795.8 332.8 786.8 327.0 787.3 337.7 786.8 348.4 795.8 342.6Z" fill="#ffa300"/><path d="M1002.3 337.7 992.8 332.8 983.9 327.0 984.4 337.7 983.9 348.4 992.8 342.6Z" fill="#ffaa00"/><path d="M756.0 337.7 746.5 332.8 737.6 327.0 738.1 337.7 737.6 348.4 746.5 342.6Z" fill="#ffc200"/><path d="M1051.6 337.7 1042.1 332.8 1033.1 327.0 1033.6 337.7 1033.1 348.4 1042.1 342.6Z" fill="#ffc400"/><path d="M780.6 337.7 771.2 332.8 762.2 327.0 762.7 337.7 762.2 348.4 771.2 342.6Z" fill="#ffcb00"/><path d="M1027.0 337.7 1017.5 332.8 1008.5 327.0 1009.0 337.7 1008.5 348.4 1017.5 342.6Z" fill="#ffd800"/><path d="M586.2 348.4a3.5 3.5 0 1 0 7.1 0a3.5 3.5 0 1 0 -7.1 0ZM610.9 348.4a3.5 3.5 0 1 0 7.1 0a3.5 3.5 0 1 0 -7.1 0ZM635.5 348.4a3.5 3.5 0 1 0 7.1 0a3.5 3.5 0 1 0 -7.1 0ZM660.1 348.4a3.5 3.5 0 1 0 7.1 0a3.5 3.5 0 1 0 -7.1 0ZM684.8 348.4a3.5 3.5 0 1 0 7.1 0a3.5 3.5 0 1 0 -7.1 0ZM1128.1 348.4a3.5 3.5 0 1 0 7.1 0a3.5 3.5 0 1 0 -7.1 0ZM1152.7 348.4a3.5 3.5 0 1 0 7.1 0a3.5 3.5 0 1 0 -7.1 0ZM617.0 359.2a3.5 3.5 0 1 0 7.1 0a3.5 3.5 0 1 0 -7.1 0ZM598.6 348.5a3.5 3.5 0 1 0 7.1 0a3.5 3.5 0 1 0 -7.1 0ZM598.6 369.9a3.5 3.5 0 1 0 7.1 0a3.5 3.5 0 1 0 -7.1 0ZM641.6 359.2a3.5 3.5 0 1 0 7.1 0a3.5 3.5 0 1 0 -7.1 0ZM623.2 348.5a3.5 3.5 0 1 0 7.1 0a3.5 3.5 0 1 0 -7.1 0ZM623.2 369.9a3.5 3.5 0 1 0 7.1 0a3.5 3.5 0 1 0 -7.1 0ZM666.3 359.2a3.5 3.5 0 1 0 7.1 0a3.5 3.5 0 1 0 -7.1 0ZM647.8 348.5a3.5 3.5 0 1 0 7.1 0a3.5 3.5 0 1 0 -7.1 0ZM647.8 369.9a3.5 3.5 0 1 0 7.1 0a3.5 3.5 0 1 0 -7.1 0ZM672.4 348.5a3.5 3.5 0 1 0 7.1 0a3.5 3.5 0 1 0 -7.1 0ZM672.4 369.9a3.5 3.5 0 1 0 7.1 0a3.5 3.5 0 1 0 -7.1 0ZM697.1 369.9a3.5 3.5 0 1 0 7.1 0a3.5 3.5 0 1 0 -7.1 0ZM721.7 369.9a3.5 3.5 0 1 0 7.1 0a3.5 3.5 0 1 0 -7.1 0ZM746.3 369.9a3.5 3.5 0 1 0 7.1 0a3.5 3.5 0 1 0 -7.1 0ZM771.0 369.9a3.5 3.5 0 1 0 7.1 0a3.5 3.5 0 1 0 -7.1 0ZM795.6 369.9a3.5 3.5 0 1 0 7.1 0a3.5 3.5 0 1 0 -7.1 0ZM820.2 369.9a3.5 3.5 0 1 0 7.1 0a3.5 3.5 0 1 0 -7.1 0ZM844.9 369.9a3.5 3.5 0 1 0 7.1 0a3.5 3.5 0 1 0 -7.1 0ZM869.5 369.9a3.5 3.5 0 1 0 7.1 0a3.5 3.5 0 1 0 -7.1 0ZM894.1 369.9a3.5 3.5 0 1 0 7.1 0a3.5 3.5 0 1 0 -7.1 0ZM918.7 369.9a3.5 3.5 0 1 0 7.1 0a3.5 3.5 0 1 0 -7.1 0ZM943.4 369.9a3.5 3.5 0 1 0 7.1 0a3.5 3.5 0 1 0 -7.1 0ZM968.0 369.9a3.5 3.5 0 1 0 7.1 0a3.5 3.5 0 1 0 -7.1 0ZM992.6 369.9a3.5 3.5 0 1 0 7.1 0a3.5 3.5 0 1 0 -7.1 0ZM1017.3 369.9a3.5 3.5 0 1 0 7.1 0a3.5 3.5 0 1 0 -7.1 0ZM1041.9 369.9a3.5 3.5 0 1 0 7.1 0a3.5 3.5 0 1 0 -7.1 0ZM1066.5 369.9a3.5 3.5 0 1 0 7.1 0a3.5 3.5 0 1 0 -7.1 0ZM1109.6 359.2a3.5 3.5 0 1 0 7.1 0a3.5 3.5 0 1 0 -7.1 0ZM1091.2 369.9a3.5 3.5 0 1 0 7.1 0a3.5 3.5 0 1 0 -7.1 0ZM1134.2 359.2a3.5 3.5 0 1 0 7.1 0a3.5 3.5 0 1 0 -7.1 0ZM1115.8 348.5a3.5 3.5 0 1 0 7.1 0a3.5 3.5 0 1 0 -7.1 0ZM1115.8 369.9a3.5 3.5 0 1 0 7.1 0a3.5 3.5 0 1 0 -7.1 0ZM1158.9 359.2a3.5 3.5 0 1 0 7.1 0a3.5 3.5 0 1 0 -7.1 0ZM1140.4 348.5a3.5 3.5 0 1 0 7.1 0a3.5 3.5 0 1 0 -7.1 0ZM1140.4 369.9a3.5 3.5 0 1 0 7.1 0a3.5 3.5 0 1 0 -7.1 0ZM1183.5 359.2a3.5 3.5 0 1 0 7.1 0a3.5 3.5 0 1 0 -7.1 0ZM1165.0 348.5a3.5 3.5 0 1 0 7.1 0a3.5 3.5 0 1 0 -7.1 0ZM1165.0 369.9a3.5 3.5 0 1 0 7.1 0a3.5 3.5 0 1 0 -7.1 0ZM629.3 380.7a3.5 3.5 0 1 0 7.1 0a3.5 3.5 0 1 0 -7.1 0ZM610.9 370.0a3.5 3.5 0 1 0 7.1 0a3.5 3.5 0 1 0 -7.1 0ZM610.9 391.4a3.5 3.5 0 1 0 7.1 0a3.5 3.5 0 1 0 -7.1 0ZM654.0 380.7a3.5 3.5 0 1 0 7.1 0a3.5 3.5 0 1 0 -7.1 0ZM635.5 370.0a3.5 3.5 0 1 0 7.1 0a3.5 3.5 0 1 0 -7.1 0ZM635.5 391.4a3.5 3.5 0 1 0 7.1 0a3.5 3.5 0 1 0 -7.1 0ZM678.6 380.7a3.5 3.5 0 1 0 7.1 0a3.5 3.5 0 1 0 -7.1 0ZM660.1 370.0a3.5 3.5 0 1 0 7.1 0a3.5 3.5 0 1 0 -7.1 0ZM660.1 391.4a3.5 3.5 0 1 0 7.1 0a3.5 3.5 0 1 0 -7.1 0ZM703.2 380.7a3.5 3.5 0 1 0 7.1 0a3.5 3.5 0 1 0 -7.1 0ZM684.8 370.0a3.5 3.5 0 1 0 7.1 0a3.5 3.5 0 1 0 -7.1 0ZM684.8 391.4a3.5 3.5 0 1 0 7.1 0a3.5 3.5 0 1 0 -7.1 0ZM727.8 380.7a3.5 3.5 0 1 0 7.1 0a3.5 3.5 0 1 0 -7.1 0ZM709.4 370.0a3.5 3.5 0 1 0 7.1 0a3.5 3.5 0 1 0 -7.1 0ZM709.4 391.4a3.5 3.5 0 1 0 7.1 0a3.5 3.5 0 1 0 -7.1 0ZM752.5 380.7a3.5 3.5 0 1 0 7.1 0a3.5 3.5 0 1 0 -7.1 0ZM734.0 370.0a3.5 3.5 0 1 0 7.1 0a3.5 3.5 0 1 0 -7.1 0ZM734.0 391.4a3.5 3.5 0 1 0 7.1 0a3.5 3.5 0 1 0 -7.1 0ZM777.1 380.7a3.5 3.5 0 1 0 7.1 0a3.5 3.5 0 1 0 -7.1 0ZM758.7 370.0a3.5 3.5 0 1 0 7.1 0a3.5 3.5 0 1 0 -7.1 0ZM758.7 391.4a3.5 3.5 0 1 0 7.1 0a3.5 3.5 0 1 0 -7.1 0ZM801.7 380.7a3.5 3.5 0 1 0 7.1 0a3.5 3.5 0 1 0 -7.1 0ZM783.3 370.0a3.5 3.5 0 1 0 7.1 0a3.5 3.5 0 1 0 -7.1 0ZM783.3 391.4a3.5 3.5 0 1 0 7.1 0a3.5 3.5 0 1 0 -7.1 0ZM826.4 380.7a3.5 3.5 0 1 0 7.1 0a3.5 3.5 0 1 0 -7.1 0ZM807.9 370.0a3.5 3.5 0 1 0 7.1 0a3.5 3.5 0 1 0 -7.1 0ZM807.9 391.4a3.5 3.5 0 1 0 7.1 0a3.5 3.5 0 1 0 -7.1 0ZM851.0 380.7a3.5 3.5 0 1 0 7.1 0a3.5 3.5 0 1 0 -7.1 0ZM832.5 370.0a3.5 3.5 0 1 0 7.1 0a3.5 3.5 0 1 0 -7.1 0ZM832.5 391.4a3.5 3.5 0 1 0 7.1 0a3.5 3.5 0 1 0 -7.1 0ZM875.6 380.7a3.5 3.5 0 1 0 7.1 0a3.5 3.5 0 1 0 -7.1 0ZM857.2 370.0a3.5 3.5 0 1 0 7.1 0a3.5 3.5 0 1 0 -7.1 0ZM857.2 391.4a3.5 3.5 0 1 0 7.1 0a3.5 3.5 0 1 0 -7.1 0ZM900.2 380.7a3.5 3.5 0 1 0 7.1 0a3.5 3.5 0 1 0 -7.1 0ZM881.8 370.0a3.5 3.5 0 1 0 7.1 0a3.5 3.5 0 1 0 -7.1 0ZM881.8 391.4a3.5 3.5 0 1 0 7.1 0a3.5 3.5 0 1 0 -7.1 0ZM924.9 380.7a3.5 3.5 0 1 0 7.1 0a3.5 3.5 0 1 0 -7.1 0ZM906.4 370.0a3.5 3.5 0 1 0 7.1 0a3.5 3.5 0 1 0 -7.1 0ZM906.4 391.4a3.5 3.5 0 1 0 7.1 0a3.5 3.5 0 1 0 -7.1 0ZM949.5 380.7a3.5 3.5 0 1 0 7.1 0a3.5 3.5 0 1 0 -7.1 0ZM931.1 370.0a3.5 3.5 0 1 0 7.1 0a3.5 3.5 0 1 0 -7.1 0ZM931.1 391.4a3.5 3.5 0 1 0 7.1 0a3.5 3.5 0 1 0 -7.1 0ZM974.1 380.7a3.5 3.5 0 1 0 7.1 0a3.5 3.5 0 1 0 -7.1 0ZM955.7 370.0a3.5 3.5 0 1 0 7.1 0a3.5 3.5 0 1 0 -7.1 0ZM955.7 391.4a3.5 3.5 0 1 0 7.1 0a3.5 3.5 0 1 0 -7.1 0ZM998.8 380.7a3.5 3.5 0 1 0 7.1 0a3.5 3.5 0 1 0 -7.1 0ZM980.3 370.0a3.5 3.5 0 1 0 7.1 0a3.5 3.5 0 1 0 -7.1 0ZM980.3 391.4a3.5 3.5 0 1 0 7.1 0a3.5 3.5 0 1 0 -7.1 0ZM1023.4 380.7a3.5 3.5 0 1 0 7.1 0a3.5 3.5 0 1 0 -7.1 0ZM1005.0 370.0a3.5 3.5 0 1 0 7.1 0a3.5 3.5 0 1 0 -7.1 0ZM1005.0 391.4a3.5 3.5 0 1 0 7.1 0a3.5 3.5 0 1 0 -7.1 0ZM1048.0 380.7a3.5 3.5 0 1 0 7.1 0a3.5 3.5 0 1 0 -7.1 0ZM1029.6 370.0a3.5 3.5 0 1 0 7.1 0a3.5 3.5 0 1 0 -7.1 0ZM1029.6 391.4a3.5 3.5 0 1 0 7.1 0a3.5 3.5 0 1 0 -7.1 0ZM1072.7 380.7a3.5 3.5 0 1 0 7.1 0a3.5 3.5 0 1 0 -7.1 0ZM1054.2 370.0a3.5 3.5 0 1 0 7.1 0a3.5 3.5 0 1 0 -7.1 0ZM1054.2 391.4a3.5 3.5 0 1 0 7.1 0a3.5 3.5 0 1 0 -7.1 0ZM1097.3 380.7a3.5 3.5 0 1 0 7.1 0a3.5 3.5 0 1 0 -7.1 0ZM1078.8 370.0a3.5 3.5 0 1 0 7.1 0a3.5 3.5 0 1 0 -7.1 0ZM1078.8 391.4a3.5 3.5 0 1 0 7.1 0a3.5 3.5 0 1 0 -7.1 0ZM1121.9 380.7a3.5 3.5 0 1 0 7.1 0a3.5 3.5 0 1 0 -7.1 0ZM1103.5 370.0a3.5 3.5 0 1 0 7.1 0a3.5 3.5 0 1 0 -7.1 0ZM1103.5 391.4a3.5 3.5 0 1 0 7.1 0a3.5 3.5 0 1 0 -7.1 0ZM1146.5 380.7a3.5 3.5 0 1 0 7.1 0a3.5 3.5 0 1 0 -7.1 0ZM1128.1 370.0a3.5 3.5 0 1 0 7.1 0a3.5 3.5 0 1 0 -7.1 0ZM1128.1 391.4a3.5 3.5 0 1 0 7.1 0a3.5 3.5 0 1 0 -7.1 0ZM1171.2 380.7a3.5 3.5 0 1 0 7.1 0a3.5 3.5 0 1 0 -7.1 0ZM1152.7 370.0a3.5 3.5 0 1 0 7.1 0a3.5 3.5 0 1 0 -7.1 0ZM1152.7 391.4a3.5 3.5 0 1 0 7.1 0a3.5 3.5 0 1 0 -7.1 0ZM1195.8 380.7a3.5 3.5 0 1 0 7.1 0a3.5 3.5 0 1 0 -7.1 0ZM1177.4 370.0a3.5 3.5 0 1 0 7.1 0a3.5 3.5 0 1 0 -7.1 0ZM1177.4 391.4a3.5 3.5 0 1 0 7.1 0a3.5 3.5 0 1 0 -7.1 0ZM641.6 402.2a3.5 3.5 0 1 0 7.1 0a3.5 3.5 0 1 0 -7.1 0ZM623.2 391.5a3.5 3.5 0 1 0 7.1 0a3.5 3.5 0 1 0 -7.1 0ZM623.2 412.9a3.5 3.5 0 1 0 7.1 0a3.5 3.5 0 1 0 -7.1 0ZM666.3 402.2a3.5 3.5 0 1 0 7.1 0a3.5 3.5 0 1 0 -7.1 0ZM647.8 391.5a3.5 3.5 0 1 0 7.1 0a3.5 3.5 0 1 0 -7.1 0ZM647.8 412.9a3.5 3.5 0 1 0 7.1 0a3.5 3.5 0 1 0 -7.1 0ZM690.9 402.2a3.5 3.5 0 1 0 7.1 0a3.5 3.5 0 1 0 -7.1 0ZM672.4 391.5a3.5 3.5 0 1 0 7.1 0a3.5 3.5 0 1 0 -7.1 0ZM672.4 412.9a3.5 3.5 0 1 0 7.1 0a3.5 3.5 0 1 0 -7.1 0ZM715.5 402.2a3.5 3.5 0 1 0 7.1 0a3.5 3.5 0 1 0 -7.1 0ZM697.1 391.5a3.5 3.5 0 1 0 7.1 0a3.5 3.5 0 1 0 -7.1 0ZM697.1 412.9a3.5 3.5 0 1 0 7.1 0a3.5 3.5 0 1 0 -7.1 0ZM740.2 402.2a3.5 3.5 0 1 0 7.1 0a3.5 3.5 0 1 0 -7.1 0ZM721.7 391.5a3.5 3.5 0 1 0 7.1 0a3.5 3.5 0 1 0 -7.1 0ZM721.7 412.9a3.5 3.5 0 1 0 7.1 0a3.5 3.5 0 1 0 -7.1 0ZM764.8 402.2a3.5 3.5 0 1 0 7.1 0a3.5 3.5 0 1 0 -7.1 0ZM746.3 391.5a3.5 3.5 0 1 0 7.1 0a3.5 3.5 0 1 0 -7.1 0ZM746.3 412.9a3.5 3.5 0 1 0 7.1 0a3.5 3.5 0 1 0 -7.1 0ZM789.4 402.2a3.5 3.5 0 1 0 7.1 0a3.5 3.5 0 1 0 -7.1 0ZM771.0 391.5a3.5 3.5 0 1 0 7.1 0a3.5 3.5 0 1 0 -7.1 0ZM771.0 412.9a3.5 3.5 0 1 0 7.1 0a3.5 3.5 0 1 0 -7.1 0ZM814.0 402.2a3.5 3.5 0 1 0 7.1 0a3.5 3.5 0 1 0 -7.1 0ZM795.6 391.5a3.5 3.5 0 1 0 7.1 0a3.5 3.5 0 1 0 -7.1 0ZM795.6 412.9a3.5 3.5 0 1 0 7.1 0a3.5 3.5 0 1 0 -7.1 0ZM838.7 402.2a3.5 3.5 0 1 0 7.1 0a3.5 3.5 0 1 0 -7.1 0ZM820.2 391.5a3.5 3.5 0 1 0 7.1 0a3.5 3.5 0 1 0 -7.1 0ZM820.2 412.9a3.5 3.5 0 1 0 7.1 0a3.5 3.5 0 1 0 -7.1 0ZM863.3 402.2a3.5 3.5 0 1 0 7.1 0a3.5 3.5 0 1 0 -7.1 0ZM844.9 391.5a3.5 3.5 0 1 0 7.1 0a3.5 3.5 0 1 0 -7.1 0ZM844.9 412.9a3.5 3.5 0 1 0 7.1 0a3.5 3.5 0 1 0 -7.1 0ZM887.9 402.2a3.5 3.5 0 1 0 7.1 0a3.5 3.5 0 1 0 -7.1 0ZM869.5 391.5a3.5 3.5 0 1 0 7.1 0a3.5 3.5 0 1 0 -7.1 0ZM869.5 412.9a3.5 3.5 0 1 0 7.1 0a3.5 3.5 0 1 0 -7.1 0ZM912.6 402.2a3.5 3.5 0 1 0 7.1 0a3.5 3.5 0 1 0 -7.1 0ZM894.1 391.5a3.5 3.5 0 1 0 7.1 0a3.5 3.5 0 1 0 -7.1 0ZM894.1 412.9a3.5 3.5 0 1 0 7.1 0a3.5 3.5 0 1 0 -7.1 0ZM937.2 402.2a3.5 3.5 0 1 0 7.1 0a3.5 3.5 0 1 0 -7.1 0ZM918.7 391.5a3.5 3.5 0 1 0 7.1 0a3.5 3.5 0 1 0 -7.1 0ZM918.7 412.9a3.5 3.5 0 1 0 7.1 0a3.5 3.5 0 1 0 -7.1 0ZM961.8 402.2a3.5 3.5 0 1 0 7.1 0a3.5 3.5 0 1 0 -7.1 0ZM943.4 391.5a3.5 3.5 0 1 0 7.1 0a3.5 3.5 0 1 0 -7.1 0ZM943.4 412.9a3.5 3.5 0 1 0 7.1 0a3.5 3.5 0 1 0 -7.1 0ZM986.5 402.2a3.5 3.5 0 1 0 7.1 0a3.5 3.5 0 1 0 -7.1 0ZM968.0 391.5a3.5 3.5 0 1 0 7.1 0a3.5 3.5 0 1 0 -7.1 0ZM968.0 412.9a3.5 3.5 0 1 0 7.1 0a3.5 3.5 0 1 0 -7.1 0ZM1011.1 402.2a3.5 3.5 0 1 0 7.1 0a3.5 3.5 0 1 0 -7.1 0ZM992.6 391.5a3.5 3.5 0 1 0 7.1 0a3.5 3.5 0 1 0 -7.1 0ZM992.6 412.9a3.5 3.5 0 1 0 7.1 0a3.5 3.5 0 1 0 -7.1 0ZM1035.7 402.2a3.5 3.5 0 1 0 7.1 0a3.5 3.5 0 1 0 -7.1 0ZM1017.3 391.5a3.5 3.5 0 1 0 7.1 0a3.5 3.5 0 1 0 -7.1 0ZM1017.3 412.9a3.5 3.5 0 1 0 7.1 0a3.5 3.5 0 1 0 -7.1 0ZM1060.3 402.2a3.5 3.5 0 1 0 7.1 0a3.5 3.5 0 1 0 -7.1 0ZM1041.9 391.5a3.5 3.5 0 1 0 7.1 0a3.5 3.5 0 1 0 -7.1 0ZM1041.9 412.9a3.5 3.5 0 1 0 7.1 0a3.5 3.5 0 1 0 -7.1 0ZM1085.0 402.2a3.5 3.5 0 1 0 7.1 0a3.5 3.5 0 1 0 -7.1 0ZM1066.5 391.5a3.5 3.5 0 1 0 7.1 0a3.5 3.5 0 1 0 -7.1 0ZM1066.5 412.9a3.5 3.5 0 1 0 7.1 0a3.5 3.5 0 1 0 -7.1 0ZM1109.6 402.2a3.5 3.5 0 1 0 7.1 0a3.5 3.5 0 1 0 -7.1 0ZM1091.2 391.5a3.5 3.5 0 1 0 7.1 0a3.5 3.5 0 1 0 -7.1 0ZM1091.2 412.9a3.5 3.5 0 1 0 7.1 0a3.5 3.5 0 1 0 -7.1 0ZM1134.2 402.2a3.5 3.5 0 1 0 7.1 0a3.5 3.5 0 1 0 -7.1 0ZM1115.8 391.5a3.5 3.5 0 1 0 7.1 0a3.5 3.5 0 1 0 -7.1 0ZM1115.8 412.9a3.5 3.5 0 1 0 7.1 0a3.5 3.5 0 1 0 -7.1 0ZM1158.9 402.2a3.5 3.5 0 1 0 7.1 0a3.5 3.5 0 1 0 -7.1 0ZM1140.4 391.5a3.5 3.5 0 1 0 7.1 0a3.5 3.5 0 1 0 -7.1 0ZM1140.4 412.9a3.5 3.5 0 1 0 7.1 0a3.5 3.5 0 1 0 -7.1 0ZM1183.5 402.2a3.5 3.5 0 1 0 7.1 0a3.5 3.5 0 1 0 -7.1 0ZM1165.0 391.5a3.5 3.5 0 1 0 7.1 0a3.5 3.5 0 1 0 -7.1 0ZM1165.0 412.9a3.5 3.5 0 1 0 7.1 0a3.5 3.5 0 1 0 -7.1 0ZM1208.1 402.2a3.5 3.5 0 1 0 7.1 0a3.5 3.5 0 1 0 -7.1 0ZM1189.7 391.5a3.5 3.5 0 1 0 7.1 0a3.5 3.5 0 1 0 -7.1 0ZM1189.7 412.9a3.5 3.5 0 1 0 7.1 0a3.5 3.5 0 1 0 -7.1 0Z" fill="#000000"/><path d="M690.9 359.2a3.5 3.5 0 1 0 7.1 0a3.5 3.5 0 1 0 -7.1 0Z" fill="#020000"/><path d="M697.1 348.5a3.5 3.5 0 1 0 7.1 0a3.5 3.5 0 1 0 -7.1 0Z" fill="#070000"/><path d="M709.4 348.4a3.5 3.5 0 1 0 7.1 0a3.5 3.5 0 1 0 -7.1 0Z" fill="#120000"/><path d="M715.5 359.2a3.5 3.5 0 1 0 7.1 0a3.5 3.5 0 1 0 -7.1 0ZM1041.9 348.5a3.5 3.5 0 1 0 7.1 0a3.5 3.5 0 1 0 -7.1 0Z" fill="#180000"/><path d="M1035.7 359.2a3.5 3.5 0 1 0 7.1 0a3.5 3.5 0 1 0 -7.1 0Z" fill="#1b0000"/><path d="M1103.5 348.4a3.5 3.5 0 1 0 7.1 0a3.5 3.5 0 1 0 -7.1 0Z" fill="#1c0000"/><path d="M721.7 348.5a3.5 3.5 0 1 0 7.1 0a3.5 3.5 0 1 0 -7.1 0Z" fill="#1f0000"/><path d="M1029.6 348.4a3.5 3.5 0 1 0 7.1 0a3.5 3.5 0 1 0 -7.1 0Z" fill="#210000"/><path d="M1054.2 348.4a3.5 3.5 0 1 0 7.1 0a3.5 3.5 0 1 0 -7.1 0Z" fill="#250000"/><path d="M734.0 348.4a3.5 3.5 0 1 0 7.1 0a3.5 3.5 0 1 0 -7.1 0Z" fill="#2c0000"/><path d="M1017.3 348.5a3.5 3.5 0 1 0 7.1 0a3.5 3.5 0 1 0 -7.1 0Z" fill="#2e0000"/><path d="M740.2 359.2a3.5 3.5 0 1 0 7.1 0a3.5 3.5 0 1 0 -7.1 0Z" fill="#330000"/><path d="M1011.1 359.2a3.5 3.5 0 1 0 7.1 0a3.5 3.5 0 1 0 -7.1 0Z" fill="#350000"/><path d="M746.3 348.5a3.5 3.5 0 1 0 7.1 0a3.5 3.5 0 1 0 -7.1 0Z" fill="#3a0000"/><path d="M1005.0 348.4a3.5 3.5 0 1 0 7.1 0a3.5 3.5 0 1 0 -7.1 0Z" fill="#3c0000"/><path d="M1060.3 359.2a3.5 3.5 0 1 0 7.1 0a3.5 3.5 0 1 0 -7.1 0Z" fill="#3f0000"/><path d="M758.7 348.4a3.5 3.5 0 1 0 7.1 0a3.5 3.5 0 1 0 -7.1 0Z" fill="#480000"/><path d="M992.6 348.5a3.5 3.5 0 1 0 7.1 0a3.5 3.5 0 1 0 -7.1 0Z" fill="#4a0000"/><path d="M764.8 359.2a3.5 3.5 0 1 0 7.1 0a3.5 3.5 0 1 0 -7.1 0Z" fill="#4f0000"/><path d="M986.5 359.2a3.5 3.5 0 1 0 7.1 0a3.5 3.5 0 1 0 -7.1 0Z" fill="#510000"/><path d="M771.0 348.5a3.5 3.5 0 1 0 7.1 0a3.5 3.5 0 1 0 -7.1 0Z" fill="#560000"/><path d="M980.3 348.4a3.5 3.5 0 1 0 7.1 0a3.5 3.5 0 1 0 -7.1 0Z" fill="#580000"/><path d="M783.3 348.4a3.5 3.5 0 1 0 7.1 0a3.5 3.5 0 1 0 -7.1 0Z" fill="#650000"/><path d="M968.0 348.5a3.5 3.5 0 1 0 7.1 0a3.5 3.5 0 1 0 -7.1 0Z" fill="#660000"/><path d="M1066.5 348.5a3.5 3.5 0 1 0 7.1 0a3.5 3.5 0 1 0 -7.1 0Z" fill="#670000"/><path d="M789.4 359.2a3.5 3.5 0 1 0 7.1 0a3.5 3.5 0 1 0 -7.1 0Z" fill="#6b0000"/><path d="M961.8 359.2a3.5 3.5 0 1 0 7.1 0a3.5 3.5 0 1 0 -7.1 0Z" fill="#6d0000"/><path d="M795.6 348.5a3.5 3.5 0 1 0 7.1 0a3.5 3.5 0 1 0 -7.1 0Z" fill="#720000"/><path d="M955.7 348.4a3.5 3.5 0 1 0 7.1 0a3.5 3.5 0 1 0 -7.1 0Z" fill="#740000"/><path d="M1091.2 348.5a3.5 3.5 0 1 0 7.1 0a3.5 3.5 0 1 0 -7.1 0Z" fill="#7d0000"/><path d="M807.9 348.4a3.5 3.5 0 1 0 7.1 0a3.5 3.5 0 1 0 -7.1 0Z" fill="#7f0000"/><path d="M943.4 348.5a3.5 3.5 0 1 0 7.1 0a3.5 3.5 0 1 0 -7.1 0Z" fill="#800000"/><path d="M814.0 359.2a3.5 3.5 0 1 0 7.1 0a3.5 3.5 0 1 0 -7.1 0Z" fill="#850000"/><path d="M937.2 359.2a3.5 3.5 0 1 0 7.1 0a3.5 3.5 0 1 0 -7.1 0Z" fill="#860000"/><path d="M820.2 348.5a3.5 3.5 0 1 0 7.1 0a3.5 3.5 0 1 0 -7.1 0Z" fill="#8a0000"/><path d="M931.1 348.4a3.5 3.5 0 1 0 7.1 0a3.5 3.5 0 1 0 -7.1 0Z" fill="#8b0000"/><path d="M832.5 348.4a3.5 3.5 0 1 0 7.1 0a3.5 3.5 0 1 0 -7.1 0Z" fill="#940000"/><path d="M918.7 348.5a3.5 3.5 0 1 0 7.1 0a3.5 3.5 0 1 0 -7.1 0Z" fill="#950000"/><path d="M838.7 359.2a3.5 3.5 0 1 0 7.1 0a3.5 3.5 0 1 0 -7.1 0Z" fill="#980000"/><path d="M912.6 359.2a3.5 3.5 0 1 0 7.1 0a3.5 3.5 0 1 0 -7.1 0Z" fill="#990000"/><path d="M844.9 348.5a3.5 3.5 0 1 0 7.1 0a3.5 3.5 0 1 0 -7.1 0Z" fill="#9b0000"/><path d="M906.4 348.4a3.5 3.5 0 1 0 7.1 0a3.5 3.5 0 1 0 -7.1 0Z" fill="#9c0000"/><path d="M857.2 348.4a3.5 3.5 0 1 0 7.1 0a3.5 3.5 0 1 0 -7.1 0Z" fill="#a00000"/><path d="M894.1 348.5a3.5 3.5 0 1 0 7.1 0a3.5 3.5 0 1 0 -7.1 0ZM1085.0 359.2a3.5 3.5 0 1 0 7.1 0a3.5 3.5 0 1 0 -7.1 0Z" fill="#a10000"/><path d="M863.3 359.2a3.5 3.5 0 1 0 7.1 0a3.5 3.5 0 1 0 -7.1 0ZM887.9 359.2a3.5 3.5 0 1 0 7.1 0a3.5 3.5 0 1 0 -7.1 0Z" fill="#a20000"/><path d="M881.8 348.4a3.5 3.5 0 1 0 7.1 0a3.5 3.5 0 1 0 -7.1 0ZM869.5 348.5a3.5 3.5 0 1 0 7.1 0a3.5 3.5 0 1 0 -7.1 0Z" fill="#a30000"/><path d="M1078.8 348.4a3.5 3.5 0 1 0 7.1 0a3.5 3.5 0 1 0 -7.1 0Z" fill="#a80000"/><path d="M635.5 327.0a3.5 3.5 0 1 0 7.1 0a3.5 3.5 0 1 0 -7.1 0Z" fill="#fd0000"/><path d="M1103.5 327.0a3.5 3.5 0 1 0 7.1 0a3.5 3.5 0 1 0 -7.1 0Z" fill="#ff0a00"/><path d="M629.3 337.7a3.5 3.5 0 1 0 7.1 0a3.5 3.5 0 1 0 -7.1 0Z" fill="#ff0d00"/><path d="M654.0 337.7a3.5 3.5 0 1 0 7.1 0a3.5 3.5 0 1 0 -7.1 0Z" fill="#ff0f00"/><path d="M1121.9 337.7a3.5 3.5 0 1 0 7.1 0a3.5 3.5 0 1 0 -7.1 0Z" fill="#ff1000"/><path d="M660.1 327.0a3.5 3.5 0 1 0 7.1 0a3.5 3.5 0 1 0 -7.1 0ZM1097.3 337.7a3.5 3.5 0 1 0 7.1 0a3.5 3.5 0 1 0 -7.1 0Z" fill="#ff2300"/><path d="M1128.1 327.0a3.5 3.5 0 1 0 7.1 0a3.5 3.5 0 1 0 -7.1 0Z" fill="#ff2700"/><path d="M610.9 327.0a3.5 3.5 0 1 0 7.1 0a3.5 3.5 0 1 0 -7.1 0Z" fill="#ff4000"/><path d="M604.7 337.7a3.5 3.5 0 1 0 7.1 0a3.5 3.5 0 1 0 -7.1 0Z" fill="#ff4a00"/><path d="M1146.5 337.7a3.5 3.5 0 1 0 7.1 0a3.5 3.5 0 1 0 -7.1 0Z" fill="#ff5000"/><path d="M1152.7 327.0a3.5 3.5 0 1 0 7.1 0a3.5 3.5 0 1 0 -7.1 0Z" fill="#ff5300"/><path d="M586.2 327.0a3.5 3.5 0 1 0 7.1 0a3.5 3.5 0 1 0 -7.1 0ZM1171.2 337.7a3.5 3.5 0 1 0 7.1 0a3.5 3.5 0 1 0 -7.1 0Z" fill="#ff5400"/><path d="M678.6 337.7a3.5 3.5 0 1 0 7.1 0a3.5 3.5 0 1 0 -7.1 0Z" fill="#ff5500"/><path d="M924.9 337.7a3.5 3.5 0 1 0 7.1 0a3.5 3.5 0 1 0 -7.1 0ZM931.1 327.0a3.5 3.5 0 1 0 7.1 0a3.5 3.5 0 1 0 -7.1 0Z" fill="#ff5900"/><path d="M684.8 327.0a3.5 3.5 0 1 0 7.1 0a3.5 3.5 0 1 0 -7.1 0Z" fill="#ff6000"/><path d="M906.4 327.0a3.5 3.5 0 1 0 7.1 0a3.5 3.5 0 1 0 -7.1 0ZM1078.8 327.0a3.5 3.5 0 1 0 7.1 0a3.5 3.5 0 1 0 -7.1 0Z" fill="#ff6200"/><path d="M949.5 337.7a3.5 3.5 0 1 0 7.1 0a3.5 3.5 0 1 0 -7.1 0Z" fill="#ff6300"/><path d="M832.5 327.0a3.5 3.5 0 1 0 7.1 0a3.5 3.5 0 1 0 -7.1 0Z" fill="#ff6500"/><path d="M826.4 337.7a3.5 3.5 0 1 0 7.1 0a3.5 3.5 0 1 0 -7.1 0ZM900.2 337.7a3.5 3.5 0 1 0 7.1 0a3.5 3.5 0 1 0 -7.1 0Z" fill="#ff6800"/><path d="M851.0 337.7a3.5 3.5 0 1 0 7.1 0a3.5 3.5 0 1 0 -7.1 0ZM955.7 327.0a3.5 3.5 0 1 0 7.1 0a3.5 3.5 0 1 0 -7.1 0Z" fill="#ff6a00"/><path d="M1072.7 337.7a3.5 3.5 0 1 0 7.1 0a3.5 3.5 0 1 0 -7.1 0Z" fill="#ff6e00"/><path d="M857.2 327.0a3.5 3.5 0 1 0 7.1 0a3.5 3.5 0 1 0 -7.1 0Z" fill="#ff6f00"/><path d="M881.8 327.0a3.5 3.5 0 1 0 7.1 0a3.5 3.5 0 1 0 -7.1 0Z" fill="#ff7800"/><path d="M875.6 337.7a3.5 3.5 0 1 0 7.1 0a3.5 3.5 0 1 0 -7.1 0Z" fill="#ff7900"/><path d="M703.2 337.7a3.5 3.5 0 1 0 7.1 0a3.5 3.5 0 1 0 -7.1 0Z" fill="#ff7b00"/><path d="M807.9 327.0a3.5 3.5 0 1 0 7.1 0a3.5 3.5 0 1 0 -7.1 0Z" fill="#ff7f00"/><path d="M709.4 327.0a3.5 3.5 0 1 0 7.1 0a3.5 3.5 0 1 0 -7.1 0Z" fill="#ff8700"/><path d="M801.7 337.7a3.5 3.5 0 1 0 7.1 0a3.5 3.5 0 1 0 -7.1 0Z" fill="#ff8a00"/><path d="M974.1 337.7a3.5 3.5 0 1 0 7.1 0a3.5 3.5 0 1 0 -7.1 0Z" fill="#ff8c00"/><path d="M1054.2 327.0a3.5 3.5 0 1 0 7.1 0a3.5 3.5 0 1 0 -7.1 0Z" fill="#ff9700"/><path d="M980.3 327.0a3.5 3.5 0 1 0 7.1 0a3.5 3.5 0 1 0 -7.1 0Z" fill="#ff9b00"/><path d="M1048.0 337.7a3.5 3.5 0 1 0 7.1 0a3.5 3.5 0 1 0 -7.1 0Z" fill="#ffa600"/><path d="M727.8 337.7a3.5 3.5 0 1 0 7.1 0a3.5 3.5 0 1 0 -7.1 0Z" fill="#ffac00"/><path d="M783.3 327.0a3.5 3.5 0 1 0 7.1 0a3.5 3.5 0 1 0 -7.1 0Z" fill="#ffb000"/><path d="M734.0 327.0a3.5 3.5 0 1 0 7.1 0a3.5 3.5 0 1 0 -7.1 0Z" fill="#ffb800"/><path d="M777.1 337.7a3.5 3.5 0 1 0 7.1 0a3.5 3.5 0 1 0 -7.1 0Z" fill="#ffbb00"/><path d="M998.8 337.7a3.5 3.5 0 1 0 7.1 0a3.5 3.5 0 1 0 -7.1 0Z" fill="#ffc700"/><path d="M752.5 337.7a3.5 3.5 0 1 0 7.1 0a3.5 3.5 0 1 0 -7.1 0Z" fill="#ffcd00"/><path d="M758.7 327.0a3.5 3.5 0 1 0 7.1 0a3.5 3.5 0 1 0 -7.1 0Z" fill="#ffce00"/><path d="M1029.6 327.0a3.5 3.5 0 1 0 7.1 0a3.5 3.5 0 1 0 -7.1 0Z" fill="#ffcf00"/><path d="M1005.0 327.0a3.5 3.5 0 1 0 7.1 0a3.5 3.5 0 1 0 -7.1 0Z" fill="#ffd200"/><path d="M1023.4 337.7a3.5 3.5 0 1 0 7.1 0a3.5 3.5 0 1 0 -7.1 0Z" fill="#ffd700"/><path d="M591.9 337.7a4.0 4.0 0 1 0 8.0 0a4.0 4.0 0 1 0 -8.0 0ZM616.6 337.7a4.0 4.0 0 1 0 8.0 0a4.0 4.0 0 1 0 -8.0 0ZM641.2 337.7a4.0 4.0 0 1 0 8.0 0a4.0 4.0 0 1 0 -8.0 0ZM665.8 337.7a4.0 4.0 0 1 0 8.0 0a4.0 4.0 0 1 0 -8.0 0ZM690.5 337.7a4.0 4.0 0 1 0 8.0 0a4.0 4.0 0 1 0 -8.0 0ZM715.1 337.7a4.0 4.0 0 1 0 8.0 0a4.0 4.0 0 1 0 -8.0 0ZM739.7 337.7a4.0 4.0 0 1 0 8.0 0a4.0 4.0 0 1 0 -8.0 0ZM764.4 337.7a4.0 4.0 0 1 0 8.0 0a4.0 4.0 0 1 0 -8.0 0ZM789.0 337.7a4.0 4.0 0 1 0 8.0 0a4.0 4.0 0 1 0 -8.0 0ZM813.6 337.7a4.0 4.0 0 1 0 8.0 0a4.0 4.0 0 1 0 -8.0 0ZM838.2 337.7a4.0 4.0 0 1 0 8.0 0a4.0 4.0 0 1 0 -8.0 0ZM862.9 337.7a4.0 4.0 0 1 0 8.0 0a4.0 4.0 0 1 0 -8.0 0ZM887.5 337.7a4.0 4.0 0 1 0 8.0 0a4.0 4.0 0 1 0 -8.0 0ZM912.1 337.7a4.0 4.0 0 1 0 8.0 0a4.0 4.0 0 1 0 -8.0 0ZM936.8 337.7a4.0 4.0 0 1 0 8.0 0a4.0 4.0 0 1 0 -8.0 0ZM961.4 337.7a4.0 4.0 0 1 0 8.0 0a4.0 4.0 0 1 0 -8.0 0ZM986.0 337.7a4.0 4.0 0 1 0 8.0 0a4.0 4.0 0 1 0 -8.0 0ZM1010.7 337.7a4.0 4.0 0 1 0 8.0 0a4.0 4.0 0 1 0 -8.0 0ZM1035.3 337.7a4.0 4.0 0 1 0 8.0 0a4.0 4.0 0 1 0 -8.0 0ZM1059.9 337.7a4.0 4.0 0 1 0 8.0 0a4.0 4.0 0 1 0 -8.0 0ZM1084.5 337.7a4.0 4.0 0 1 0 8.0 0a4.0 4.0 0 1 0 -8.0 0ZM1109.2 337.7a4.0 4.0 0 1 0 8.0 0a4.0 4.0 0 1 0 -8.0 0ZM1133.8 337.7a4.0 4.0 0 1 0 8.0 0a4.0 4.0 0 1 0 -8.0 0ZM1158.4 337.7a4.0 4.0 0 1 0 8.0 0a4.0 4.0 0 1 0 -8.0 0ZM604.3 359.2a4.0 4.0 0 1 0 8.0 0a4.0 4.0 0 1 0 -8.0 0ZM628.9 359.2a4.0 4.0 0 1 0 8.0 0a4.0 4.0 0 1 0 -8.0 0ZM653.5 359.2a4.0 4.0 0 1 0 8.0 0a4.0 4.0 0 1 0 -8.0 0ZM678.1 359.2a4.0 4.0 0 1 0 8.0 0a4.0 4.0 0 1 0 -8.0 0ZM702.8 359.2a4.0 4.0 0 1 0 8.0 0a4.0 4.0 0 1 0 -8.0 0ZM727.4 359.2a4.0 4.0 0 1 0 8.0 0a4.0 4.0 0 1 0 -8.0 0ZM752.0 359.2a4.0 4.0 0 1 0 8.0 0a4.0 4.0 0 1 0 -8.0 0ZM776.7 359.2a4.0 4.0 0 1 0 8.0 0a4.0 4.0 0 1 0 -8.0 0ZM801.3 359.2a4.0 4.0 0 1 0 8.0 0a4.0 4.0 0 1 0 -8.0 0ZM825.9 359.2a4.0 4.0 0 1 0 8.0 0a4.0 4.0 0 1 0 -8.0 0ZM850.6 359.2a4.0 4.0 0 1 0 8.0 0a4.0 4.0 0 1 0 -8.0 0ZM875.2 359.2a4.0 4.0 0 1 0 8.0 0a4.0 4.0 0 1 0 -8.0 0ZM899.8 359.2a4.0 4.0 0 1 0 8.0 0a4.0 4.0 0 1 0 -8.0 0ZM924.4 359.2a4.0 4.0 0 1 0 8.0 0a4.0 4.0 0 1 0 -8.0 0ZM949.1 359.2a4.0 4.0 0 1 0 8.0 0a4.0 4.0 0 1 0 -8.0 0ZM973.7 359.2a4.0 4.0 0 1 0 8.0 0a4.0 4.0 0 1 0 -8.0 0ZM998.3 359.2a4.0 4.0 0 1 0 8.0 0a4.0 4.0 0 1 0 -8.0 0ZM1023.0 359.2a4.0 4.0 0 1 0 8.0 0a4.0 4.0 0 1 0 -8.0 0ZM1047.6 359.2a4.0 4.0 0 1 0 8.0 0a4.0 4.0 0 1 0 -8.0 0ZM1072.2 359.2a4.0 4.0 0 1 0 8.0 0a4.0 4.0 0 1 0 -8.0 0ZM1096.9 359.2a4.0 4.0 0 1 0 8.0 0a4.0 4.0 0 1 0 -8.0 0ZM1121.5 359.2a4.0 4.0 0 1 0 8.0 0a4.0 4.0 0 1 0 -8.0 0ZM1146.1 359.2a4.0 4.0 0 1 0 8.0 0a4.0 4.0 0 1 0 -8.0 0ZM1170.7 359.2a4.0 4.0 0 1 0 8.0 0a4.0 4.0 0 1 0 -8.0 0ZM616.6 380.7a4.0 4.0 0 1 0 8.0 0a4.0 4.0 0 1 0 -8.0 0ZM641.2 380.7a4.0 4.0 0 1 0 8.0 0a4.0 4.0 0 1 0 -8.0 0ZM665.8 380.7a4.0 4.0 0 1 0 8.0 0a4.0 4.0 0 1 0 -8.0 0ZM690.5 380.7a4.0 4.0 0 1 0 8.0 0a4.0 4.0 0 1 0 -8.0 0ZM715.1 380.7a4.0 4.0 0 1 0 8.0 0a4.0 4.0 0 1 0 -8.0 0ZM739.7 380.7a4.0 4.0 0 1 0 8.0 0a4.0 4.0 0 1 0 -8.0 0ZM764.4 380.7a4.0 4.0 0 1 0 8.0 0a4.0 4.0 0 1 0 -8.0 0ZM789.0 380.7a4.0 4.0 0 1 0 8.0 0a4.0 4.0 0 1 0 -8.0 0ZM813.6 380.7a4.0 4.0 0 1 0 8.0 0a4.0 4.0 0 1 0 -8.0 0ZM838.2 380.7a4.0 4.0 0 1 0 8.0 0a4.0 4.0 0 1 0 -8.0 0ZM862.9 380.7a4.0 4.0 0 1 0 8.0 0a4.0 4.0 0 1 0 -8.0 0ZM887.5 380.7a4.0 4.0 0 1 0 8.0 0a4.0 4.0 0 1 0 -8.0 0ZM912.1 380.7a4.0 4.0 0 1 0 8.0 0a4.0 4.0 0 1 0 -8.0 0ZM936.8 380.7a4.0 4.0 0 1 0 8.0 0a4.0 4.0 0 1 0 -8.0 0ZM961.4 380.7a4.0 4.0 0 1 0 8.0 0a4.0 4.0 0 1 0 -8.0 0ZM986.0 380.7a4.0 4.0 0 1 0 8.0 0a4.0 4.0 0 1 0 -8.0 0ZM1010.7 380.7a4.0 4.0 0 1 0 8.0 0a4.0 4.0 0 1 0 -8.0 0ZM1035.3 380.7a4.0 4.0 0 1 0 8.0 0a4.0 4.0 0 1 0 -8.0 0ZM1059.9 380.7a4.0 4.0 0 1 0 8.0 0a4.0 4.0 0 1 0 -8.0 0ZM1084.5 380.7a4.0 4.0 0 1 0 8.0 0a4.0 4.0 0 1 0 -8.0 0ZM1109.2 380.7a4.0 4.0 0 1 0 8.0 0a4.0 4.0 0 1 0 -8.0 0ZM1133.8 380.7a4.0 4.0 0 1 0 8.0 0a4.0 4.0 0 1 0 -8.0 0ZM1158.4 380.7a4.0 4.0 0 1 0 8.0 0a4.0 4.0 0 1 0 -8.0 0ZM1183.1 380.7a4.0 4.0 0 1 0 8.0 0a4.0 4.0 0 1 0 -8.0 0ZM628.9 402.2a4.0 4.0 0 1 0 8.0 0a4.0 4.0 0 1 0 -8.0 0ZM653.5 402.2a4.0 4.0 0 1 0 8.0 0a4.0 4.0 0 1 0 -8.0 0ZM678.1 402.2a4.0 4.0 0 1 0 8.0 0a4.0 4.0 0 1 0 -8.0 0ZM702.8 402.2a4.0 4.0 0 1 0 8.0 0a4.0 4.0 0 1 0 -8.0 0ZM727.4 402.2a4.0 4.0 0 1 0 8.0 0a4.0 4.0 0 1 0 -8.0 0ZM752.0 402.2a4.0 4.0 0 1 0 8.0 0a4.0 4.0 0 1 0 -8.0 0ZM776.7 402.2a4.0 4.0 0 1 0 8.0 0a4.0 4.0 0 1 0 -8.0 0ZM801.3 402.2a4.0 4.0 0 1 0 8.0 0a4.0 4.0 0 1 0 -8.0 0ZM825.9 402.2a4.0 4.0 0 1 0 8.0 0a4.0 4.0 0 1 0 -8.0 0ZM850.6 402.2a4.0 4.0 0 1 0 8.0 0a4.0 4.0 0 1 0 -8.0 0ZM875.2 402.2a4.0 4.0 0 1 0 8.0 0a4.0 4.0 0 1 0 -8.0 0ZM899.8 402.2a4.0 4.0 0 1 0 8.0 0a4.0 4.0 0 1 0 -8.0 0ZM924.4 402.2a4.0 4.0 0 1 0 8.0 0a4.0 4.0 0 1 0 -8.0 0ZM949.1 402.2a4.0 4.0 0 1 0 8.0 0a4.0 4.0 0 1 0 -8.0 0ZM973.7 402.2a4.0 4.0 0 1 0 8.0 0a4.0 4.0 0 1 0 -8.0 0ZM998.3 402.2a4.0 4.0 0 1 0 8.0 0a4.0 4.0 0 1 0 -8.0 0ZM1023.0 402.2a4.0 4.0 0 1 0 8.0 0a4.0 4.0 0 1 0 -8.0 0ZM1047.6 402.2a4.0 4.0 0 1 0 8.0 0a4.0 4.0 0 1 0 -8.0 0ZM1072.2 402.2a4.0 4.0 0 1 0 8.0 0a4.0 4.0 0 1 0 -8.0 0ZM1096.9 402.2a4.0 4.0 0 1 0 8.0 0a4.0 4.0 0 1 0 -8.0 0ZM1121.5 402.2a4.0 4.0 0 1 0 8.0 0a4.0 4.0 0 1 0 -8.0 0ZM1146.1 402.2a4.0 4.0 0 1 0 8.0 0a4.0 4.0 0 1 0 -8.0 0ZM1170.7 402.2a4.0 4.0 0 1 0 8.0 0a4.0 4.0 0 1 0 -8.0 0ZM1195.4 402.2a4.0 4.0 0 1 0 8.0 0a4.0 4.0 0 1 0 -8.0 0Z" fill="#0070c0"/></g></g><path d="M794.6 338.5H868 M892 338.5H967.3" stroke="#55e23a" stroke-width="3" fill="none"/><polygon points="782.6,338.5 797.6,331.7 794.1,338.5 797.6,345.3" fill="#55e23a"/><polygon points="979.3,338.5 964.3,331.7 967.8,338.5 964.3,345.3" fill="#55e23a"/><polygon points="879.9,329.0 882.4,335.1 888.9,335.6 883.9,339.8 885.5,346.2 879.9,342.7 874.3,346.2 875.9,339.8 870.9,335.6 877.4,335.1" fill="none" stroke="#fff" stroke-width="2.2" stroke-linejoin="miter"/><path d="M649.5 386.9c-1.2-1.6-3.6-1.4-4.6 0.6c-1 2-1.8 8-3.2 16.5c-1 6-2.6 8.2-5 7.6" stroke="#fff" stroke-width="1.6" fill="none"/><path d="M640.5 393.6h7" stroke="#fff" stroke-width="1.3"/><text x="655.5" y="406.4" font-size="28" fill="#fff" textLength="134.5" lengthAdjust="spacingAndGlyphs">= 3.40 kHz</text><rect x="632.8" y="559.0" width="242.0" height="217.5" fill="#0070c0"/><clipPath id="clipD00"><polygon points="753.5,551.9 903.5,811.9 603.5,811.9"/></clipPath><clipPath id="clipD00r"><rect x="632.8" y="559.0" width="242.0" height="217.5"/></clipPath><g clip-path="url(#clipD00r)"><g clip-path="url(#clipD00)"><path d="M717.2 573.0 726.5 568.2 735.3 562.5 734.8 573.0 735.3 583.5 726.5 577.8ZM741.3 573.0 750.6 568.2 759.4 562.5 758.9 573.0 759.4 583.5 750.6 577.8ZM765.5 573.0 774.8 568.2 783.6 562.5 783.1 573.0 783.6 583.5 774.8 577.8ZM705.1 594.0 714.4 589.3 723.2 583.6 722.7 594.0 723.2 604.5 714.4 598.8ZM729.3 594.0 738.6 589.3 747.4 583.6 746.9 594.0 747.4 604.5 738.6 598.8ZM753.4 594.0 762.7 589.3 771.5 583.6 771.0 594.0 771.5 604.5 762.7 598.8ZM777.6 594.0 786.9 589.3 795.7 583.6 795.2 594.0 795.7 604.5 786.9 598.8ZM693.0 615.1 702.3 610.3 711.1 604.6 710.6 615.1 711.1 625.6 702.3 619.9ZM717.2 615.1 726.5 610.3 735.3 604.6 734.8 615.1 735.3 625.6 726.5 619.9ZM741.3 615.1 750.6 610.3 759.4 604.6 758.9 615.1 759.4 625.6 750.6 619.9ZM765.5 615.1 774.8 610.3 783.6 604.6 783.1 615.1 783.6 625.6 774.8 619.9ZM789.6 615.1 798.9 610.3 807.7 604.6 807.2 615.1 807.7 625.6 798.9 619.9ZM681.0 636.1 690.3 631.4 699.1 625.7 698.6 636.1 699.1 646.6 690.3 640.9ZM705.1 636.1 714.4 631.4 723.2 625.7 722.7 636.1 723.2 646.6 714.4 640.9ZM729.3 636.1 738.6 631.4 747.4 625.7 746.9 636.1 747.4 646.6 738.6 640.9ZM753.4 636.1 762.7 631.4 771.5 625.7 771.0 636.1 771.5 646.6 762.7 640.9ZM777.6 636.1 786.9 631.4 795.7 625.7 795.2 636.1 795.7 646.6 786.9 640.9ZM801.7 636.1 811.0 631.4 819.8 625.7 819.3 636.1 819.8 646.6 811.0 640.9ZM668.9 657.2 678.2 652.4 687.0 646.7 686.5 657.2 687.0 667.7 678.2 662.0ZM693.0 657.2 702.3 652.4 711.1 646.7 710.6 657.2 711.1 667.7 702.3 662.0ZM717.2 657.2 726.5 652.4 735.3 646.7 734.8 657.2 735.3 667.7 726.5 662.0ZM741.3 657.2 750.6 652.4 759.4 646.7 758.9 657.2 759.4 667.7 750.6 662.0ZM765.5 657.2 774.8 652.4 783.6 646.7 783.1 657.2 783.6 667.7 774.8 662.0ZM789.6 657.2 798.9 652.4 807.7 646.7 807.2 657.2 807.7 667.7 798.9 662.0ZM813.8 657.2 823.1 652.4 831.9 646.7 831.4 657.2 831.9 667.7 823.1 662.0ZM656.8 678.2 666.1 673.5 674.9 667.8 674.4 678.2 674.9 688.7 666.1 683.0ZM681.0 678.2 690.3 673.5 699.1 667.8 698.6 678.2 699.1 688.7 690.3 683.0ZM705.1 678.2 714.4 673.5 723.2 667.8 722.7 678.2 723.2 688.7 714.4 683.0ZM729.3 678.2 738.6 673.5 747.4 667.8 746.9 678.2 747.4 688.7 738.6 683.0ZM753.4 678.2 762.7 673.5 771.5 667.8 771.0 678.2 771.5 688.7 762.7 683.0ZM777.6 678.2 786.9 673.5 795.7 667.8 795.2 678.2 795.7 688.7 786.9 683.0ZM801.7 678.2 811.0 673.5 819.8 667.8 819.3 678.2 819.8 688.7 811.0 683.0ZM825.9 678.2 835.2 673.5 844.0 667.8 843.5 678.2 844.0 688.7 835.2 683.0ZM644.7 699.3 654.0 694.5 662.8 688.8 662.3 699.3 662.8 709.8 654.0 704.1ZM668.9 699.3 678.2 694.5 687.0 688.8 686.5 699.3 687.0 709.8 678.2 704.1ZM693.0 699.3 702.3 694.5 711.1 688.8 710.6 699.3 711.1 709.8 702.3 704.1ZM717.2 699.3 726.5 694.5 735.3 688.8 734.8 699.3 735.3 709.8 726.5 704.1ZM741.3 699.3 750.6 694.5 759.4 688.8 758.9 699.3 759.4 709.8 750.6 704.1ZM765.5 699.3 774.8 694.5 783.6 688.8 783.1 699.3 783.6 709.8 774.8 704.1ZM789.6 699.3 798.9 694.5 807.7 688.8 807.2 699.3 807.7 709.8 798.9 704.1ZM813.8 699.3 823.1 694.5 831.9 688.8 831.4 699.3 831.9 709.8 823.1 704.1ZM837.9 699.3 847.2 694.5 856.0 688.8 855.5 699.3 856.0 709.8 847.2 704.1ZM632.7 720.4 642.0 715.6 650.8 709.9 650.3 720.4 650.8 730.8 642.0 725.1ZM656.8 720.4 666.1 715.6 674.9 709.9 674.4 720.4 674.9 730.8 666.1 725.1ZM681.0 720.4 690.3 715.6 699.1 709.9 698.6 720.4 699.1 730.8 690.3 725.1ZM705.1 720.4 714.4 715.6 723.2 709.9 722.7 720.4 723.2 730.8 714.4 725.1ZM729.3 720.4 738.6 715.6 747.4 709.9 746.9 720.4 747.4 730.8 738.6 725.1ZM753.4 720.4 762.7 715.6 771.5 709.9 771.0 720.4 771.5 730.8 762.7 725.1ZM777.6 720.4 786.9 715.6 795.7 709.9 795.2 720.4 795.7 730.8 786.9 725.1ZM801.7 720.4 811.0 715.6 819.8 709.9 819.3 720.4 819.8 730.8 811.0 725.1ZM825.9 720.4 835.2 715.6 844.0 709.9 843.5 720.4 844.0 730.8 835.2 725.1ZM850.0 720.4 859.3 715.6 868.1 709.9 867.6 720.4 868.1 730.8 859.3 725.1ZM620.6 741.4 629.9 736.6 638.7 730.9 638.2 741.4 638.7 751.9 629.9 746.2ZM644.7 741.4 654.0 736.6 662.8 730.9 662.3 741.4 662.8 751.9 654.0 746.2ZM668.9 741.4 678.2 736.6 687.0 730.9 686.5 741.4 687.0 751.9 678.2 746.2ZM693.0 741.4 702.3 736.6 711.1 730.9 710.6 741.4 711.1 751.9 702.3 746.2ZM717.2 741.4 726.5 736.6 735.3 730.9 734.8 741.4 735.3 751.9 726.5 746.2ZM741.3 741.4 750.6 736.6 759.4 730.9 758.9 741.4 759.4 751.9 750.6 746.2ZM765.5 741.4 774.8 736.6 783.6 730.9 783.1 741.4 783.6 751.9 774.8 746.2ZM789.6 741.4 798.9 736.6 807.7 730.9 807.2 741.4 807.7 751.9 798.9 746.2ZM813.8 741.4 823.1 736.6 831.9 730.9 831.4 741.4 831.9 751.9 823.1 746.2ZM837.9 741.4 847.2 736.6 856.0 730.9 855.5 741.4 856.0 751.9 847.2 746.2ZM862.1 741.4 871.4 736.6 880.2 730.9 879.7 741.4 880.2 751.9 871.4 746.2ZM608.5 762.5 617.8 757.7 626.6 752.0 626.1 762.5 626.6 772.9 617.8 767.2ZM632.7 762.5 642.0 757.7 650.8 752.0 650.3 762.5 650.8 772.9 642.0 767.2ZM656.8 762.5 666.1 757.7 674.9 752.0 674.4 762.5 674.9 772.9 666.1 767.2ZM681.0 762.5 690.3 757.7 699.1 752.0 698.6 762.5 699.1 772.9 690.3 767.2ZM705.1 762.5 714.4 757.7 723.2 752.0 722.7 762.5 723.2 772.9 714.4 767.2ZM729.3 762.5 738.6 757.7 747.4 752.0 746.9 762.5 747.4 772.9 738.6 767.2ZM753.4 762.5 762.7 757.7 771.5 752.0 771.0 762.5 771.5 772.9 762.7 767.2ZM777.6 762.5 786.9 757.7 795.7 752.0 795.2 762.5 795.7 772.9 786.9 767.2ZM801.7 762.5 811.0 757.7 819.8 752.0 819.3 762.5 819.8 772.9 811.0 767.2ZM825.9 762.5 835.2 757.7 844.0 752.0 843.5 762.5 844.0 772.9 835.2 767.2ZM850.0 762.5 859.3 757.7 868.1 752.0 867.6 762.5 868.1 772.9 859.3 767.2ZM874.2 762.5 883.5 757.7 892.3 752.0 891.8 762.5 892.3 772.9 883.5 767.2ZM596.4 783.5 605.7 778.7 614.5 773.0 614.0 783.5 614.5 794.0 605.7 788.3ZM620.6 783.5 629.9 778.7 638.7 773.0 638.2 783.5 638.7 794.0 629.9 788.3ZM644.7 783.5 654.0 778.7 662.8 773.0 662.3 783.5 662.8 794.0 654.0 788.3ZM668.9 783.5 678.2 778.7 687.0 773.0 686.5 783.5 687.0 794.0 678.2 788.3ZM693.0 783.5 702.3 778.7 711.1 773.0 710.6 783.5 711.1 794.0 702.3 788.3ZM717.2 783.5 726.5 778.7 735.3 773.0 734.8 783.5 735.3 794.0 726.5 788.3ZM741.3 783.5 750.6 778.7 759.4 773.0 758.9 783.5 759.4 794.0 750.6 788.3ZM765.5 783.5 774.8 778.7 783.6 773.0 783.1 783.5 783.6 794.0 774.8 788.3ZM789.6 783.5 798.9 778.7 807.7 773.0 807.2 783.5 807.7 794.0 798.9 788.3ZM813.8 783.5 823.1 778.7 831.9 773.0 831.4 783.5 831.9 794.0 823.1 788.3ZM837.9 783.5 847.2 778.7 856.0 773.0 855.5 783.5 856.0 794.0 847.2 788.3ZM862.1 783.5 871.4 778.7 880.2 773.0 879.7 783.5 880.2 794.0 871.4 788.3ZM886.2 783.5 895.5 778.7 904.3 773.0 903.8 783.5 904.3 794.0 895.5 788.3Z" fill="#000000"/><path d="M713.6 573.0a3.5 3.5 0 1 0 7.1 0a3.5 3.5 0 1 0 -7.1 0ZM731.7 562.5a3.5 3.5 0 1 0 7.1 0a3.5 3.5 0 1 0 -7.1 0ZM731.7 583.5a3.5 3.5 0 1 0 7.1 0a3.5 3.5 0 1 0 -7.1 0ZM737.8 573.0a3.5 3.5 0 1 0 7.1 0a3.5 3.5 0 1 0 -7.1 0ZM755.9 562.5a3.5 3.5 0 1 0 7.1 0a3.5 3.5 0 1 0 -7.1 0ZM755.9 583.5a3.5 3.5 0 1 0 7.1 0a3.5 3.5 0 1 0 -7.1 0ZM761.9 573.0a3.5 3.5 0 1 0 7.1 0a3.5 3.5 0 1 0 -7.1 0ZM780.0 562.5a3.5 3.5 0 1 0 7.1 0a3.5 3.5 0 1 0 -7.1 0ZM780.0 583.5a3.5 3.5 0 1 0 7.1 0a3.5 3.5 0 1 0 -7.1 0ZM701.6 594.0a3.5 3.5 0 1 0 7.1 0a3.5 3.5 0 1 0 -7.1 0ZM719.7 583.6a3.5 3.5 0 1 0 7.1 0a3.5 3.5 0 1 0 -7.1 0ZM719.7 604.5a3.5 3.5 0 1 0 7.1 0a3.5 3.5 0 1 0 -7.1 0ZM725.7 594.0a3.5 3.5 0 1 0 7.1 0a3.5 3.5 0 1 0 -7.1 0ZM743.8 583.6a3.5 3.5 0 1 0 7.1 0a3.5 3.5 0 1 0 -7.1 0ZM743.8 604.5a3.5 3.5 0 1 0 7.1 0a3.5 3.5 0 1 0 -7.1 0ZM749.9 594.0a3.5 3.5 0 1 0 7.1 0a3.5 3.5 0 1 0 -7.1 0ZM768.0 583.6a3.5 3.5 0 1 0 7.1 0a3.5 3.5 0 1 0 -7.1 0ZM768.0 604.5a3.5 3.5 0 1 0 7.1 0a3.5 3.5 0 1 0 -7.1 0ZM774.0 594.0a3.5 3.5 0 1 0 7.1 0a3.5 3.5 0 1 0 -7.1 0ZM792.1 583.6a3.5 3.5 0 1 0 7.1 0a3.5 3.5 0 1 0 -7.1 0ZM792.1 604.5a3.5 3.5 0 1 0 7.1 0a3.5 3.5 0 1 0 -7.1 0ZM689.5 615.1a3.5 3.5 0 1 0 7.1 0a3.5 3.5 0 1 0 -7.1 0ZM707.6 604.6a3.5 3.5 0 1 0 7.1 0a3.5 3.5 0 1 0 -7.1 0ZM707.6 625.6a3.5 3.5 0 1 0 7.1 0a3.5 3.5 0 1 0 -7.1 0ZM713.6 615.1a3.5 3.5 0 1 0 7.1 0a3.5 3.5 0 1 0 -7.1 0ZM731.7 604.6a3.5 3.5 0 1 0 7.1 0a3.5 3.5 0 1 0 -7.1 0ZM731.7 625.6a3.5 3.5 0 1 0 7.1 0a3.5 3.5 0 1 0 -7.1 0ZM737.8 615.1a3.5 3.5 0 1 0 7.1 0a3.5 3.5 0 1 0 -7.1 0ZM755.9 604.6a3.5 3.5 0 1 0 7.1 0a3.5 3.5 0 1 0 -7.1 0ZM755.9 625.6a3.5 3.5 0 1 0 7.1 0a3.5 3.5 0 1 0 -7.1 0ZM761.9 615.1a3.5 3.5 0 1 0 7.1 0a3.5 3.5 0 1 0 -7.1 0ZM780.0 604.6a3.5 3.5 0 1 0 7.1 0a3.5 3.5 0 1 0 -7.1 0ZM780.0 625.6a3.5 3.5 0 1 0 7.1 0a3.5 3.5 0 1 0 -7.1 0ZM786.1 615.1a3.5 3.5 0 1 0 7.1 0a3.5 3.5 0 1 0 -7.1 0ZM804.2 604.6a3.5 3.5 0 1 0 7.1 0a3.5 3.5 0 1 0 -7.1 0ZM804.2 625.6a3.5 3.5 0 1 0 7.1 0a3.5 3.5 0 1 0 -7.1 0ZM677.4 636.1a3.5 3.5 0 1 0 7.1 0a3.5 3.5 0 1 0 -7.1 0ZM695.5 625.7a3.5 3.5 0 1 0 7.1 0a3.5 3.5 0 1 0 -7.1 0ZM695.5 646.6a3.5 3.5 0 1 0 7.1 0a3.5 3.5 0 1 0 -7.1 0ZM701.6 636.1a3.5 3.5 0 1 0 7.1 0a3.5 3.5 0 1 0 -7.1 0ZM719.7 625.7a3.5 3.5 0 1 0 7.1 0a3.5 3.5 0 1 0 -7.1 0ZM719.7 646.6a3.5 3.5 0 1 0 7.1 0a3.5 3.5 0 1 0 -7.1 0ZM725.7 636.1a3.5 3.5 0 1 0 7.1 0a3.5 3.5 0 1 0 -7.1 0ZM743.8 625.7a3.5 3.5 0 1 0 7.1 0a3.5 3.5 0 1 0 -7.1 0ZM743.8 646.6a3.5 3.5 0 1 0 7.1 0a3.5 3.5 0 1 0 -7.1 0ZM749.9 636.1a3.5 3.5 0 1 0 7.1 0a3.5 3.5 0 1 0 -7.1 0ZM768.0 625.7a3.5 3.5 0 1 0 7.1 0a3.5 3.5 0 1 0 -7.1 0ZM768.0 646.6a3.5 3.5 0 1 0 7.1 0a3.5 3.5 0 1 0 -7.1 0ZM774.0 636.1a3.5 3.5 0 1 0 7.1 0a3.5 3.5 0 1 0 -7.1 0ZM792.1 625.7a3.5 3.5 0 1 0 7.1 0a3.5 3.5 0 1 0 -7.1 0ZM792.1 646.6a3.5 3.5 0 1 0 7.1 0a3.5 3.5 0 1 0 -7.1 0ZM798.2 636.1a3.5 3.5 0 1 0 7.1 0a3.5 3.5 0 1 0 -7.1 0ZM816.3 625.7a3.5 3.5 0 1 0 7.1 0a3.5 3.5 0 1 0 -7.1 0ZM816.3 646.6a3.5 3.5 0 1 0 7.1 0a3.5 3.5 0 1 0 -7.1 0ZM665.3 657.2a3.5 3.5 0 1 0 7.1 0a3.5 3.5 0 1 0 -7.1 0ZM683.4 646.7a3.5 3.5 0 1 0 7.1 0a3.5 3.5 0 1 0 -7.1 0ZM683.4 667.7a3.5 3.5 0 1 0 7.1 0a3.5 3.5 0 1 0 -7.1 0ZM689.5 657.2a3.5 3.5 0 1 0 7.1 0a3.5 3.5 0 1 0 -7.1 0ZM707.6 646.7a3.5 3.5 0 1 0 7.1 0a3.5 3.5 0 1 0 -7.1 0ZM707.6 667.7a3.5 3.5 0 1 0 7.1 0a3.5 3.5 0 1 0 -7.1 0ZM713.6 657.2a3.5 3.5 0 1 0 7.1 0a3.5 3.5 0 1 0 -7.1 0ZM731.7 646.7a3.5 3.5 0 1 0 7.1 0a3.5 3.5 0 1 0 -7.1 0ZM731.7 667.7a3.5 3.5 0 1 0 7.1 0a3.5 3.5 0 1 0 -7.1 0ZM737.8 657.2a3.5 3.5 0 1 0 7.1 0a3.5 3.5 0 1 0 -7.1 0ZM755.9 646.7a3.5 3.5 0 1 0 7.1 0a3.5 3.5 0 1 0 -7.1 0ZM755.9 667.7a3.5 3.5 0 1 0 7.1 0a3.5 3.5 0 1 0 -7.1 0ZM761.9 657.2a3.5 3.5 0 1 0 7.1 0a3.5 3.5 0 1 0 -7.1 0ZM780.0 646.7a3.5 3.5 0 1 0 7.1 0a3.5 3.5 0 1 0 -7.1 0ZM780.0 667.7a3.5 3.5 0 1 0 7.1 0a3.5 3.5 0 1 0 -7.1 0ZM786.1 657.2a3.5 3.5 0 1 0 7.1 0a3.5 3.5 0 1 0 -7.1 0ZM804.2 646.7a3.5 3.5 0 1 0 7.1 0a3.5 3.5 0 1 0 -7.1 0ZM804.2 667.7a3.5 3.5 0 1 0 7.1 0a3.5 3.5 0 1 0 -7.1 0ZM810.2 657.2a3.5 3.5 0 1 0 7.1 0a3.5 3.5 0 1 0 -7.1 0ZM828.3 646.7a3.5 3.5 0 1 0 7.1 0a3.5 3.5 0 1 0 -7.1 0ZM828.3 667.7a3.5 3.5 0 1 0 7.1 0a3.5 3.5 0 1 0 -7.1 0ZM653.3 678.2a3.5 3.5 0 1 0 7.1 0a3.5 3.5 0 1 0 -7.1 0ZM671.4 667.8a3.5 3.5 0 1 0 7.1 0a3.5 3.5 0 1 0 -7.1 0ZM671.4 688.7a3.5 3.5 0 1 0 7.1 0a3.5 3.5 0 1 0 -7.1 0ZM677.4 678.2a3.5 3.5 0 1 0 7.1 0a3.5 3.5 0 1 0 -7.1 0ZM695.5 667.8a3.5 3.5 0 1 0 7.1 0a3.5 3.5 0 1 0 -7.1 0ZM695.5 688.7a3.5 3.5 0 1 0 7.1 0a3.5 3.5 0 1 0 -7.1 0ZM701.6 678.2a3.5 3.5 0 1 0 7.1 0a3.5 3.5 0 1 0 -7.1 0ZM719.7 667.8a3.5 3.5 0 1 0 7.1 0a3.5 3.5 0 1 0 -7.1 0ZM719.7 688.7a3.5 3.5 0 1 0 7.1 0a3.5 3.5 0 1 0 -7.1 0ZM725.7 678.2a3.5 3.5 0 1 0 7.1 0a3.5 3.5 0 1 0 -7.1 0ZM743.8 667.8a3.5 3.5 0 1 0 7.1 0a3.5 3.5 0 1 0 -7.1 0ZM743.8 688.7a3.5 3.5 0 1 0 7.1 0a3.5 3.5 0 1 0 -7.1 0ZM749.9 678.2a3.5 3.5 0 1 0 7.1 0a3.5 3.5 0 1 0 -7.1 0ZM768.0 667.8a3.5 3.5 0 1 0 7.1 0a3.5 3.5 0 1 0 -7.1 0ZM768.0 688.7a3.5 3.5 0 1 0 7.1 0a3.5 3.5 0 1 0 -7.1 0ZM774.0 678.2a3.5 3.5 0 1 0 7.1 0a3.5 3.5 0 1 0 -7.1 0ZM792.1 667.8a3.5 3.5 0 1 0 7.1 0a3.5 3.5 0 1 0 -7.1 0ZM792.1 688.7a3.5 3.5 0 1 0 7.1 0a3.5 3.5 0 1 0 -7.1 0ZM798.2 678.2a3.5 3.5 0 1 0 7.1 0a3.5 3.5 0 1 0 -7.1 0ZM816.3 667.8a3.5 3.5 0 1 0 7.1 0a3.5 3.5 0 1 0 -7.1 0ZM816.3 688.7a3.5 3.5 0 1 0 7.1 0a3.5 3.5 0 1 0 -7.1 0ZM822.3 678.2a3.5 3.5 0 1 0 7.1 0a3.5 3.5 0 1 0 -7.1 0ZM840.4 667.8a3.5 3.5 0 1 0 7.1 0a3.5 3.5 0 1 0 -7.1 0ZM840.4 688.7a3.5 3.5 0 1 0 7.1 0a3.5 3.5 0 1 0 -7.1 0ZM641.2 699.3a3.5 3.5 0 1 0 7.1 0a3.5 3.5 0 1 0 -7.1 0ZM659.3 688.8a3.5 3.5 0 1 0 7.1 0a3.5 3.5 0 1 0 -7.1 0ZM659.3 709.8a3.5 3.5 0 1 0 7.1 0a3.5 3.5 0 1 0 -7.1 0ZM665.3 699.3a3.5 3.5 0 1 0 7.1 0a3.5 3.5 0 1 0 -7.1 0ZM683.4 688.8a3.5 3.5 0 1 0 7.1 0a3.5 3.5 0 1 0 -7.1 0ZM683.4 709.8a3.5 3.5 0 1 0 7.1 0a3.5 3.5 0 1 0 -7.1 0ZM689.5 699.3a3.5 3.5 0 1 0 7.1 0a3.5 3.5 0 1 0 -7.1 0ZM707.6 688.8a3.5 3.5 0 1 0 7.1 0a3.5 3.5 0 1 0 -7.1 0ZM707.6 709.8a3.5 3.5 0 1 0 7.1 0a3.5 3.5 0 1 0 -7.1 0ZM713.6 699.3a3.5 3.5 0 1 0 7.1 0a3.5 3.5 0 1 0 -7.1 0ZM731.7 688.8a3.5 3.5 0 1 0 7.1 0a3.5 3.5 0 1 0 -7.1 0ZM731.7 709.8a3.5 3.5 0 1 0 7.1 0a3.5 3.5 0 1 0 -7.1 0ZM737.8 699.3a3.5 3.5 0 1 0 7.1 0a3.5 3.5 0 1 0 -7.1 0ZM755.9 688.8a3.5 3.5 0 1 0 7.1 0a3.5 3.5 0 1 0 -7.1 0ZM755.9 709.8a3.5 3.5 0 1 0 7.1 0a3.5 3.5 0 1 0 -7.1 0ZM761.9 699.3a3.5 3.5 0 1 0 7.1 0a3.5 3.5 0 1 0 -7.1 0ZM780.0 688.8a3.5 3.5 0 1 0 7.1 0a3.5 3.5 0 1 0 -7.1 0ZM780.0 709.8a3.5 3.5 0 1 0 7.1 0a3.5 3.5 0 1 0 -7.1 0ZM786.1 699.3a3.5 3.5 0 1 0 7.1 0a3.5 3.5 0 1 0 -7.1 0ZM804.2 688.8a3.5 3.5 0 1 0 7.1 0a3.5 3.5 0 1 0 -7.1 0ZM804.2 709.8a3.5 3.5 0 1 0 7.1 0a3.5 3.5 0 1 0 -7.1 0ZM810.2 699.3a3.5 3.5 0 1 0 7.1 0a3.5 3.5 0 1 0 -7.1 0ZM828.3 688.8a3.5 3.5 0 1 0 7.1 0a3.5 3.5 0 1 0 -7.1 0ZM828.3 709.8a3.5 3.5 0 1 0 7.1 0a3.5 3.5 0 1 0 -7.1 0ZM834.4 699.3a3.5 3.5 0 1 0 7.1 0a3.5 3.5 0 1 0 -7.1 0ZM852.5 688.8a3.5 3.5 0 1 0 7.1 0a3.5 3.5 0 1 0 -7.1 0ZM852.5 709.8a3.5 3.5 0 1 0 7.1 0a3.5 3.5 0 1 0 -7.1 0ZM629.1 720.4a3.5 3.5 0 1 0 7.1 0a3.5 3.5 0 1 0 -7.1 0ZM647.2 709.9a3.5 3.5 0 1 0 7.1 0a3.5 3.5 0 1 0 -7.1 0ZM647.2 730.8a3.5 3.5 0 1 0 7.1 0a3.5 3.5 0 1 0 -7.1 0ZM653.3 720.4a3.5 3.5 0 1 0 7.1 0a3.5 3.5 0 1 0 -7.1 0ZM671.4 709.9a3.5 3.5 0 1 0 7.1 0a3.5 3.5 0 1 0 -7.1 0ZM671.4 730.8a3.5 3.5 0 1 0 7.1 0a3.5 3.5 0 1 0 -7.1 0ZM677.4 720.4a3.5 3.5 0 1 0 7.1 0a3.5 3.5 0 1 0 -7.1 0ZM695.5 709.9a3.5 3.5 0 1 0 7.1 0a3.5 3.5 0 1 0 -7.1 0ZM695.5 730.8a3.5 3.5 0 1 0 7.1 0a3.5 3.5 0 1 0 -7.1 0ZM701.6 720.4a3.5 3.5 0 1 0 7.1 0a3.5 3.5 0 1 0 -7.1 0ZM719.7 709.9a3.5 3.5 0 1 0 7.1 0a3.5 3.5 0 1 0 -7.1 0ZM719.7 730.8a3.5 3.5 0 1 0 7.1 0a3.5 3.5 0 1 0 -7.1 0ZM725.7 720.4a3.5 3.5 0 1 0 7.1 0a3.5 3.5 0 1 0 -7.1 0ZM743.8 709.9a3.5 3.5 0 1 0 7.1 0a3.5 3.5 0 1 0 -7.1 0ZM743.8 730.8a3.5 3.5 0 1 0 7.1 0a3.5 3.5 0 1 0 -7.1 0ZM749.9 720.4a3.5 3.5 0 1 0 7.1 0a3.5 3.5 0 1 0 -7.1 0ZM768.0 709.9a3.5 3.5 0 1 0 7.1 0a3.5 3.5 0 1 0 -7.1 0ZM768.0 730.8a3.5 3.5 0 1 0 7.1 0a3.5 3.5 0 1 0 -7.1 0ZM774.0 720.4a3.5 3.5 0 1 0 7.1 0a3.5 3.5 0 1 0 -7.1 0ZM792.1 709.9a3.5 3.5 0 1 0 7.1 0a3.5 3.5 0 1 0 -7.1 0ZM792.1 730.8a3.5 3.5 0 1 0 7.1 0a3.5 3.5 0 1 0 -7.1 0ZM798.2 720.4a3.5 3.5 0 1 0 7.1 0a3.5 3.5 0 1 0 -7.1 0ZM816.3 709.9a3.5 3.5 0 1 0 7.1 0a3.5 3.5 0 1 0 -7.1 0ZM816.3 730.8a3.5 3.5 0 1 0 7.1 0a3.5 3.5 0 1 0 -7.1 0ZM822.3 720.4a3.5 3.5 0 1 0 7.1 0a3.5 3.5 0 1 0 -7.1 0ZM840.4 709.9a3.5 3.5 0 1 0 7.1 0a3.5 3.5 0 1 0 -7.1 0ZM840.4 730.8a3.5 3.5 0 1 0 7.1 0a3.5 3.5 0 1 0 -7.1 0ZM846.5 720.4a3.5 3.5 0 1 0 7.1 0a3.5 3.5 0 1 0 -7.1 0ZM864.6 709.9a3.5 3.5 0 1 0 7.1 0a3.5 3.5 0 1 0 -7.1 0ZM864.6 730.8a3.5 3.5 0 1 0 7.1 0a3.5 3.5 0 1 0 -7.1 0ZM617.0 741.4a3.5 3.5 0 1 0 7.1 0a3.5 3.5 0 1 0 -7.1 0ZM635.1 730.9a3.5 3.5 0 1 0 7.1 0a3.5 3.5 0 1 0 -7.1 0ZM635.1 751.9a3.5 3.5 0 1 0 7.1 0a3.5 3.5 0 1 0 -7.1 0ZM641.2 741.4a3.5 3.5 0 1 0 7.1 0a3.5 3.5 0 1 0 -7.1 0ZM659.3 730.9a3.5 3.5 0 1 0 7.1 0a3.5 3.5 0 1 0 -7.1 0ZM659.3 751.9a3.5 3.5 0 1 0 7.1 0a3.5 3.5 0 1 0 -7.1 0ZM665.3 741.4a3.5 3.5 0 1 0 7.1 0a3.5 3.5 0 1 0 -7.1 0ZM683.4 730.9a3.5 3.5 0 1 0 7.1 0a3.5 3.5 0 1 0 -7.1 0ZM683.4 751.9a3.5 3.5 0 1 0 7.1 0a3.5 3.5 0 1 0 -7.1 0ZM689.5 741.4a3.5 3.5 0 1 0 7.1 0a3.5 3.5 0 1 0 -7.1 0ZM707.6 730.9a3.5 3.5 0 1 0 7.1 0a3.5 3.5 0 1 0 -7.1 0ZM707.6 751.9a3.5 3.5 0 1 0 7.1 0a3.5 3.5 0 1 0 -7.1 0ZM713.6 741.4a3.5 3.5 0 1 0 7.1 0a3.5 3.5 0 1 0 -7.1 0ZM731.7 730.9a3.5 3.5 0 1 0 7.1 0a3.5 3.5 0 1 0 -7.1 0ZM731.7 751.9a3.5 3.5 0 1 0 7.1 0a3.5 3.5 0 1 0 -7.1 0ZM737.8 741.4a3.5 3.5 0 1 0 7.1 0a3.5 3.5 0 1 0 -7.1 0ZM755.9 730.9a3.5 3.5 0 1 0 7.1 0a3.5 3.5 0 1 0 -7.1 0ZM755.9 751.9a3.5 3.5 0 1 0 7.1 0a3.5 3.5 0 1 0 -7.1 0ZM761.9 741.4a3.5 3.5 0 1 0 7.1 0a3.5 3.5 0 1 0 -7.1 0ZM780.0 730.9a3.5 3.5 0 1 0 7.1 0a3.5 3.5 0 1 0 -7.1 0ZM780.0 751.9a3.5 3.5 0 1 0 7.1 0a3.5 3.5 0 1 0 -7.1 0ZM786.1 741.4a3.5 3.5 0 1 0 7.1 0a3.5 3.5 0 1 0 -7.1 0ZM804.2 730.9a3.5 3.5 0 1 0 7.1 0a3.5 3.5 0 1 0 -7.1 0ZM804.2 751.9a3.5 3.5 0 1 0 7.1 0a3.5 3.5 0 1 0 -7.1 0ZM810.2 741.4a3.5 3.5 0 1 0 7.1 0a3.5 3.5 0 1 0 -7.1 0ZM828.3 730.9a3.5 3.5 0 1 0 7.1 0a3.5 3.5 0 1 0 -7.1 0ZM828.3 751.9a3.5 3.5 0 1 0 7.1 0a3.5 3.5 0 1 0 -7.1 0ZM834.4 741.4a3.5 3.5 0 1 0 7.1 0a3.5 3.5 0 1 0 -7.1 0ZM852.5 730.9a3.5 3.5 0 1 0 7.1 0a3.5 3.5 0 1 0 -7.1 0ZM852.5 751.9a3.5 3.5 0 1 0 7.1 0a3.5 3.5 0 1 0 -7.1 0ZM858.5 741.4a3.5 3.5 0 1 0 7.1 0a3.5 3.5 0 1 0 -7.1 0ZM876.6 730.9a3.5 3.5 0 1 0 7.1 0a3.5 3.5 0 1 0 -7.1 0ZM876.6 751.9a3.5 3.5 0 1 0 7.1 0a3.5 3.5 0 1 0 -7.1 0ZM605.0 762.5a3.5 3.5 0 1 0 7.1 0a3.5 3.5 0 1 0 -7.1 0ZM623.1 752.0a3.5 3.5 0 1 0 7.1 0a3.5 3.5 0 1 0 -7.1 0ZM623.1 772.9a3.5 3.5 0 1 0 7.1 0a3.5 3.5 0 1 0 -7.1 0ZM629.1 762.5a3.5 3.5 0 1 0 7.1 0a3.5 3.5 0 1 0 -7.1 0ZM647.2 752.0a3.5 3.5 0 1 0 7.1 0a3.5 3.5 0 1 0 -7.1 0ZM647.2 772.9a3.5 3.5 0 1 0 7.1 0a3.5 3.5 0 1 0 -7.1 0ZM653.3 762.5a3.5 3.5 0 1 0 7.1 0a3.5 3.5 0 1 0 -7.1 0ZM671.4 752.0a3.5 3.5 0 1 0 7.1 0a3.5 3.5 0 1 0 -7.1 0ZM671.4 772.9a3.5 3.5 0 1 0 7.1 0a3.5 3.5 0 1 0 -7.1 0ZM677.4 762.5a3.5 3.5 0 1 0 7.1 0a3.5 3.5 0 1 0 -7.1 0ZM695.5 752.0a3.5 3.5 0 1 0 7.1 0a3.5 3.5 0 1 0 -7.1 0ZM695.5 772.9a3.5 3.5 0 1 0 7.1 0a3.5 3.5 0 1 0 -7.1 0ZM701.6 762.5a3.5 3.5 0 1 0 7.1 0a3.5 3.5 0 1 0 -7.1 0ZM719.7 752.0a3.5 3.5 0 1 0 7.1 0a3.5 3.5 0 1 0 -7.1 0ZM719.7 772.9a3.5 3.5 0 1 0 7.1 0a3.5 3.5 0 1 0 -7.1 0ZM725.7 762.5a3.5 3.5 0 1 0 7.1 0a3.5 3.5 0 1 0 -7.1 0ZM743.8 752.0a3.5 3.5 0 1 0 7.1 0a3.5 3.5 0 1 0 -7.1 0ZM743.8 772.9a3.5 3.5 0 1 0 7.1 0a3.5 3.5 0 1 0 -7.1 0ZM749.9 762.5a3.5 3.5 0 1 0 7.1 0a3.5 3.5 0 1 0 -7.1 0ZM768.0 752.0a3.5 3.5 0 1 0 7.1 0a3.5 3.5 0 1 0 -7.1 0ZM768.0 772.9a3.5 3.5 0 1 0 7.1 0a3.5 3.5 0 1 0 -7.1 0ZM774.0 762.5a3.5 3.5 0 1 0 7.1 0a3.5 3.5 0 1 0 -7.1 0ZM792.1 752.0a3.5 3.5 0 1 0 7.1 0a3.5 3.5 0 1 0 -7.1 0ZM792.1 772.9a3.5 3.5 0 1 0 7.1 0a3.5 3.5 0 1 0 -7.1 0ZM798.2 762.5a3.5 3.5 0 1 0 7.1 0a3.5 3.5 0 1 0 -7.1 0ZM816.3 752.0a3.5 3.5 0 1 0 7.1 0a3.5 3.5 0 1 0 -7.1 0ZM816.3 772.9a3.5 3.5 0 1 0 7.1 0a3.5 3.5 0 1 0 -7.1 0ZM822.3 762.5a3.5 3.5 0 1 0 7.1 0a3.5 3.5 0 1 0 -7.1 0ZM840.4 752.0a3.5 3.5 0 1 0 7.1 0a3.5 3.5 0 1 0 -7.1 0ZM840.4 772.9a3.5 3.5 0 1 0 7.1 0a3.5 3.5 0 1 0 -7.1 0ZM846.5 762.5a3.5 3.5 0 1 0 7.1 0a3.5 3.5 0 1 0 -7.1 0ZM864.6 752.0a3.5 3.5 0 1 0 7.1 0a3.5 3.5 0 1 0 -7.1 0ZM864.6 772.9a3.5 3.5 0 1 0 7.1 0a3.5 3.5 0 1 0 -7.1 0ZM870.6 762.5a3.5 3.5 0 1 0 7.1 0a3.5 3.5 0 1 0 -7.1 0ZM888.7 752.0a3.5 3.5 0 1 0 7.1 0a3.5 3.5 0 1 0 -7.1 0ZM888.7 772.9a3.5 3.5 0 1 0 7.1 0a3.5 3.5 0 1 0 -7.1 0ZM592.9 783.5a3.5 3.5 0 1 0 7.1 0a3.5 3.5 0 1 0 -7.1 0ZM611.0 773.0a3.5 3.5 0 1 0 7.1 0a3.5 3.5 0 1 0 -7.1 0ZM611.0 794.0a3.5 3.5 0 1 0 7.1 0a3.5 3.5 0 1 0 -7.1 0ZM617.0 783.5a3.5 3.5 0 1 0 7.1 0a3.5 3.5 0 1 0 -7.1 0ZM635.1 773.0a3.5 3.5 0 1 0 7.1 0a3.5 3.5 0 1 0 -7.1 0ZM635.1 794.0a3.5 3.5 0 1 0 7.1 0a3.5 3.5 0 1 0 -7.1 0ZM641.2 783.5a3.5 3.5 0 1 0 7.1 0a3.5 3.5 0 1 0 -7.1 0ZM659.3 773.0a3.5 3.5 0 1 0 7.1 0a3.5 3.5 0 1 0 -7.1 0ZM659.3 794.0a3.5 3.5 0 1 0 7.1 0a3.5 3.5 0 1 0 -7.1 0ZM665.3 783.5a3.5 3.5 0 1 0 7.1 0a3.5 3.5 0 1 0 -7.1 0ZM683.4 773.0a3.5 3.5 0 1 0 7.1 0a3.5 3.5 0 1 0 -7.1 0ZM683.4 794.0a3.5 3.5 0 1 0 7.1 0a3.5 3.5 0 1 0 -7.1 0ZM689.5 783.5a3.5 3.5 0 1 0 7.1 0a3.5 3.5 0 1 0 -7.1 0ZM707.6 773.0a3.5 3.5 0 1 0 7.1 0a3.5 3.5 0 1 0 -7.1 0ZM707.6 794.0a3.5 3.5 0 1 0 7.1 0a3.5 3.5 0 1 0 -7.1 0ZM713.6 783.5a3.5 3.5 0 1 0 7.1 0a3.5 3.5 0 1 0 -7.1 0ZM731.7 773.0a3.5 3.5 0 1 0 7.1 0a3.5 3.5 0 1 0 -7.1 0ZM731.7 794.0a3.5 3.5 0 1 0 7.1 0a3.5 3.5 0 1 0 -7.1 0ZM737.8 783.5a3.5 3.5 0 1 0 7.1 0a3.5 3.5 0 1 0 -7.1 0ZM755.9 773.0a3.5 3.5 0 1 0 7.1 0a3.5 3.5 0 1 0 -7.1 0ZM755.9 794.0a3.5 3.5 0 1 0 7.1 0a3.5 3.5 0 1 0 -7.1 0ZM761.9 783.5a3.5 3.5 0 1 0 7.1 0a3.5 3.5 0 1 0 -7.1 0ZM780.0 773.0a3.5 3.5 0 1 0 7.1 0a3.5 3.5 0 1 0 -7.1 0ZM780.0 794.0a3.5 3.5 0 1 0 7.1 0a3.5 3.5 0 1 0 -7.1 0ZM786.1 783.5a3.5 3.5 0 1 0 7.1 0a3.5 3.5 0 1 0 -7.1 0ZM804.2 773.0a3.5 3.5 0 1 0 7.1 0a3.5 3.5 0 1 0 -7.1 0ZM804.2 794.0a3.5 3.5 0 1 0 7.1 0a3.5 3.5 0 1 0 -7.1 0ZM810.2 783.5a3.5 3.5 0 1 0 7.1 0a3.5 3.5 0 1 0 -7.1 0ZM828.3 773.0a3.5 3.5 0 1 0 7.1 0a3.5 3.5 0 1 0 -7.1 0ZM828.3 794.0a3.5 3.5 0 1 0 7.1 0a3.5 3.5 0 1 0 -7.1 0ZM834.4 783.5a3.5 3.5 0 1 0 7.1 0a3.5 3.5 0 1 0 -7.1 0ZM852.5 773.0a3.5 3.5 0 1 0 7.1 0a3.5 3.5 0 1 0 -7.1 0ZM852.5 794.0a3.5 3.5 0 1 0 7.1 0a3.5 3.5 0 1 0 -7.1 0ZM858.5 783.5a3.5 3.5 0 1 0 7.1 0a3.5 3.5 0 1 0 -7.1 0ZM876.6 773.0a3.5 3.5 0 1 0 7.1 0a3.5 3.5 0 1 0 -7.1 0ZM876.6 794.0a3.5 3.5 0 1 0 7.1 0a3.5 3.5 0 1 0 -7.1 0ZM882.7 783.5a3.5 3.5 0 1 0 7.1 0a3.5 3.5 0 1 0 -7.1 0ZM900.8 773.0a3.5 3.5 0 1 0 7.1 0a3.5 3.5 0 1 0 -7.1 0ZM900.8 794.0a3.5 3.5 0 1 0 7.1 0a3.5 3.5 0 1 0 -7.1 0Z" fill="#000000"/><path d="M725.2 573.0a4.0 4.0 0 1 0 8.0 0a4.0 4.0 0 1 0 -8.0 0ZM749.4 573.0a4.0 4.0 0 1 0 8.0 0a4.0 4.0 0 1 0 -8.0 0ZM773.5 573.0a4.0 4.0 0 1 0 8.0 0a4.0 4.0 0 1 0 -8.0 0ZM713.2 594.0a4.0 4.0 0 1 0 8.0 0a4.0 4.0 0 1 0 -8.0 0ZM737.3 594.0a4.0 4.0 0 1 0 8.0 0a4.0 4.0 0 1 0 -8.0 0ZM761.5 594.0a4.0 4.0 0 1 0 8.0 0a4.0 4.0 0 1 0 -8.0 0ZM785.6 594.0a4.0 4.0 0 1 0 8.0 0a4.0 4.0 0 1 0 -8.0 0ZM701.1 615.1a4.0 4.0 0 1 0 8.0 0a4.0 4.0 0 1 0 -8.0 0ZM725.2 615.1a4.0 4.0 0 1 0 8.0 0a4.0 4.0 0 1 0 -8.0 0ZM749.4 615.1a4.0 4.0 0 1 0 8.0 0a4.0 4.0 0 1 0 -8.0 0ZM773.5 615.1a4.0 4.0 0 1 0 8.0 0a4.0 4.0 0 1 0 -8.0 0ZM797.7 615.1a4.0 4.0 0 1 0 8.0 0a4.0 4.0 0 1 0 -8.0 0ZM689.0 636.1a4.0 4.0 0 1 0 8.0 0a4.0 4.0 0 1 0 -8.0 0ZM713.2 636.1a4.0 4.0 0 1 0 8.0 0a4.0 4.0 0 1 0 -8.0 0ZM737.3 636.1a4.0 4.0 0 1 0 8.0 0a4.0 4.0 0 1 0 -8.0 0ZM761.5 636.1a4.0 4.0 0 1 0 8.0 0a4.0 4.0 0 1 0 -8.0 0ZM785.6 636.1a4.0 4.0 0 1 0 8.0 0a4.0 4.0 0 1 0 -8.0 0ZM809.8 636.1a4.0 4.0 0 1 0 8.0 0a4.0 4.0 0 1 0 -8.0 0ZM677.0 657.2a4.0 4.0 0 1 0 8.0 0a4.0 4.0 0 1 0 -8.0 0ZM701.1 657.2a4.0 4.0 0 1 0 8.0 0a4.0 4.0 0 1 0 -8.0 0ZM725.2 657.2a4.0 4.0 0 1 0 8.0 0a4.0 4.0 0 1 0 -8.0 0ZM749.4 657.2a4.0 4.0 0 1 0 8.0 0a4.0 4.0 0 1 0 -8.0 0ZM773.5 657.2a4.0 4.0 0 1 0 8.0 0a4.0 4.0 0 1 0 -8.0 0ZM797.7 657.2a4.0 4.0 0 1 0 8.0 0a4.0 4.0 0 1 0 -8.0 0ZM821.8 657.2a4.0 4.0 0 1 0 8.0 0a4.0 4.0 0 1 0 -8.0 0ZM664.9 678.2a4.0 4.0 0 1 0 8.0 0a4.0 4.0 0 1 0 -8.0 0ZM689.0 678.2a4.0 4.0 0 1 0 8.0 0a4.0 4.0 0 1 0 -8.0 0ZM713.2 678.2a4.0 4.0 0 1 0 8.0 0a4.0 4.0 0 1 0 -8.0 0ZM737.3 678.2a4.0 4.0 0 1 0 8.0 0a4.0 4.0 0 1 0 -8.0 0ZM761.5 678.2a4.0 4.0 0 1 0 8.0 0a4.0 4.0 0 1 0 -8.0 0ZM785.6 678.2a4.0 4.0 0 1 0 8.0 0a4.0 4.0 0 1 0 -8.0 0ZM809.8 678.2a4.0 4.0 0 1 0 8.0 0a4.0 4.0 0 1 0 -8.0 0ZM833.9 678.2a4.0 4.0 0 1 0 8.0 0a4.0 4.0 0 1 0 -8.0 0ZM652.8 699.3a4.0 4.0 0 1 0 8.0 0a4.0 4.0 0 1 0 -8.0 0ZM677.0 699.3a4.0 4.0 0 1 0 8.0 0a4.0 4.0 0 1 0 -8.0 0ZM701.1 699.3a4.0 4.0 0 1 0 8.0 0a4.0 4.0 0 1 0 -8.0 0ZM725.2 699.3a4.0 4.0 0 1 0 8.0 0a4.0 4.0 0 1 0 -8.0 0ZM749.4 699.3a4.0 4.0 0 1 0 8.0 0a4.0 4.0 0 1 0 -8.0 0ZM773.5 699.3a4.0 4.0 0 1 0 8.0 0a4.0 4.0 0 1 0 -8.0 0ZM797.7 699.3a4.0 4.0 0 1 0 8.0 0a4.0 4.0 0 1 0 -8.0 0ZM821.8 699.3a4.0 4.0 0 1 0 8.0 0a4.0 4.0 0 1 0 -8.0 0ZM846.0 699.3a4.0 4.0 0 1 0 8.0 0a4.0 4.0 0 1 0 -8.0 0ZM640.7 720.4a4.0 4.0 0 1 0 8.0 0a4.0 4.0 0 1 0 -8.0 0ZM664.9 720.4a4.0 4.0 0 1 0 8.0 0a4.0 4.0 0 1 0 -8.0 0ZM689.0 720.4a4.0 4.0 0 1 0 8.0 0a4.0 4.0 0 1 0 -8.0 0ZM713.2 720.4a4.0 4.0 0 1 0 8.0 0a4.0 4.0 0 1 0 -8.0 0ZM737.3 720.4a4.0 4.0 0 1 0 8.0 0a4.0 4.0 0 1 0 -8.0 0ZM761.5 720.4a4.0 4.0 0 1 0 8.0 0a4.0 4.0 0 1 0 -8.0 0ZM785.6 720.4a4.0 4.0 0 1 0 8.0 0a4.0 4.0 0 1 0 -8.0 0ZM809.8 720.4a4.0 4.0 0 1 0 8.0 0a4.0 4.0 0 1 0 -8.0 0ZM833.9 720.4a4.0 4.0 0 1 0 8.0 0a4.0 4.0 0 1 0 -8.0 0ZM858.1 720.4a4.0 4.0 0 1 0 8.0 0a4.0 4.0 0 1 0 -8.0 0ZM628.6 741.4a4.0 4.0 0 1 0 8.0 0a4.0 4.0 0 1 0 -8.0 0ZM652.8 741.4a4.0 4.0 0 1 0 8.0 0a4.0 4.0 0 1 0 -8.0 0ZM677.0 741.4a4.0 4.0 0 1 0 8.0 0a4.0 4.0 0 1 0 -8.0 0ZM701.1 741.4a4.0 4.0 0 1 0 8.0 0a4.0 4.0 0 1 0 -8.0 0ZM725.2 741.4a4.0 4.0 0 1 0 8.0 0a4.0 4.0 0 1 0 -8.0 0ZM749.4 741.4a4.0 4.0 0 1 0 8.0 0a4.0 4.0 0 1 0 -8.0 0ZM773.5 741.4a4.0 4.0 0 1 0 8.0 0a4.0 4.0 0 1 0 -8.0 0ZM797.7 741.4a4.0 4.0 0 1 0 8.0 0a4.0 4.0 0 1 0 -8.0 0ZM821.8 741.4a4.0 4.0 0 1 0 8.0 0a4.0 4.0 0 1 0 -8.0 0ZM846.0 741.4a4.0 4.0 0 1 0 8.0 0a4.0 4.0 0 1 0 -8.0 0ZM870.1 741.4a4.0 4.0 0 1 0 8.0 0a4.0 4.0 0 1 0 -8.0 0ZM616.6 762.5a4.0 4.0 0 1 0 8.0 0a4.0 4.0 0 1 0 -8.0 0ZM640.7 762.5a4.0 4.0 0 1 0 8.0 0a4.0 4.0 0 1 0 -8.0 0ZM664.9 762.5a4.0 4.0 0 1 0 8.0 0a4.0 4.0 0 1 0 -8.0 0ZM689.0 762.5a4.0 4.0 0 1 0 8.0 0a4.0 4.0 0 1 0 -8.0 0ZM713.2 762.5a4.0 4.0 0 1 0 8.0 0a4.0 4.0 0 1 0 -8.0 0ZM737.3 762.5a4.0 4.0 0 1 0 8.0 0a4.0 4.0 0 1 0 -8.0 0ZM761.5 762.5a4.0 4.0 0 1 0 8.0 0a4.0 4.0 0 1 0 -8.0 0ZM785.6 762.5a4.0 4.0 0 1 0 8.0 0a4.0 4.0 0 1 0 -8.0 0ZM809.8 762.5a4.0 4.0 0 1 0 8.0 0a4.0 4.0 0 1 0 -8.0 0ZM833.9 762.5a4.0 4.0 0 1 0 8.0 0a4.0 4.0 0 1 0 -8.0 0ZM858.1 762.5a4.0 4.0 0 1 0 8.0 0a4.0 4.0 0 1 0 -8.0 0ZM882.2 762.5a4.0 4.0 0 1 0 8.0 0a4.0 4.0 0 1 0 -8.0 0ZM604.5 783.5a4.0 4.0 0 1 0 8.0 0a4.0 4.0 0 1 0 -8.0 0ZM628.6 783.5a4.0 4.0 0 1 0 8.0 0a4.0 4.0 0 1 0 -8.0 0ZM652.8 783.5a4.0 4.0 0 1 0 8.0 0a4.0 4.0 0 1 0 -8.0 0ZM677.0 783.5a4.0 4.0 0 1 0 8.0 0a4.0 4.0 0 1 0 -8.0 0ZM701.1 783.5a4.0 4.0 0 1 0 8.0 0a4.0 4.0 0 1 0 -8.0 0ZM725.2 783.5a4.0 4.0 0 1 0 8.0 0a4.0 4.0 0 1 0 -8.0 0ZM749.4 783.5a4.0 4.0 0 1 0 8.0 0a4.0 4.0 0 1 0 -8.0 0ZM773.5 783.5a4.0 4.0 0 1 0 8.0 0a4.0 4.0 0 1 0 -8.0 0ZM797.7 783.5a4.0 4.0 0 1 0 8.0 0a4.0 4.0 0 1 0 -8.0 0ZM821.8 783.5a4.0 4.0 0 1 0 8.0 0a4.0 4.0 0 1 0 -8.0 0ZM846.0 783.5a4.0 4.0 0 1 0 8.0 0a4.0 4.0 0 1 0 -8.0 0ZM870.1 783.5a4.0 4.0 0 1 0 8.0 0a4.0 4.0 0 1 0 -8.0 0ZM894.3 783.5a4.0 4.0 0 1 0 8.0 0a4.0 4.0 0 1 0 -8.0 0Z" fill="#0070c0"/><ellipse cx="742.5" cy="572.7" rx="2.6" ry="3.6" fill="#ff2400"/><ellipse cx="764.3" cy="572.7" rx="2.6" ry="3.6" fill="#ff7f00"/><ellipse cx="731.2" cy="594.4" rx="2.6" ry="3.6" fill="#910000"/><ellipse cx="776.5" cy="594.4" rx="2.6" ry="3.6" fill="#ffe600"/><ellipse cx="787.9" cy="614.9" rx="2.6" ry="3.6" fill="#910000"/><ellipse cx="706.2" cy="636.6" rx="2.6" ry="3.6" fill="#da0000"/><ellipse cx="812.8" cy="657.0" rx="2.6" ry="3.6" fill="#da0000"/><ellipse cx="824.2" cy="677.0" rx="2.6" ry="3.6" fill="#ff6100"/></g></g><path d="M648.3 748.1c-1.2-1.6-3.6-1.4-4.6 0.6c-1 2-1.8 8-3.2 16.5c-1 6-2.6 8.2-5 7.6" stroke="#fff" stroke-width="1.6" fill="none"/><path d="M639.3 754.8h7" stroke="#fff" stroke-width="1.3"/><text x="654.3" y="767.6" font-size="28" fill="#fff" textLength="145.5" lengthAdjust="spacingAndGlyphs">= 11.21 kHz</text><rect x="632.8" y="788.2" width="242.0" height="217.5" fill="#0070c0"/><clipPath id="clipD01"><polygon points="753.5,781.1 903.5,1041.1 603.5,1041.1"/></clipPath><clipPath id="clipD01r"><rect x="632.8" y="788.2" width="242.0" height="217.5"/></clipPath><g clip-path="url(#clipD01r)"><g clip-path="url(#clipD01)"><path d="M717.2 802.2 726.5 797.4 735.3 791.7 734.8 802.2 735.3 812.7 726.5 807.0ZM741.3 802.2 750.6 797.4 759.4 791.7 758.9 802.2 759.4 812.7 750.6 807.0ZM765.5 802.2 774.8 797.4 783.6 791.7 783.1 802.2 783.6 812.7 774.8 807.0ZM705.1 823.2 714.4 818.5 723.2 812.8 722.7 823.2 723.2 833.7 714.4 828.0ZM729.3 823.2 738.6 818.5 747.4 812.8 746.9 823.2 747.4 833.7 738.6 828.0ZM753.4 823.2 762.7 818.5 771.5 812.8 771.0 823.2 771.5 833.7 762.7 828.0ZM777.6 823.2 786.9 818.5 795.7 812.8 795.2 823.2 795.7 833.7 786.9 828.0ZM693.0 844.3 702.3 839.5 711.1 833.8 710.6 844.3 711.1 854.8 702.3 849.1ZM717.2 844.3 726.5 839.5 735.3 833.8 734.8 844.3 735.3 854.8 726.5 849.1ZM741.3 844.3 750.6 839.5 759.4 833.8 758.9 844.3 759.4 854.8 750.6 849.1ZM765.5 844.3 774.8 839.5 783.6 833.8 783.1 844.3 783.6 854.8 774.8 849.1ZM789.6 844.3 798.9 839.5 807.7 833.8 807.2 844.3 807.7 854.8 798.9 849.1ZM681.0 865.4 690.3 860.6 699.1 854.9 698.6 865.4 699.1 875.8 690.3 870.1ZM705.1 865.4 714.4 860.6 723.2 854.9 722.7 865.4 723.2 875.8 714.4 870.1ZM729.3 865.4 738.6 860.6 747.4 854.9 746.9 865.4 747.4 875.8 738.6 870.1ZM753.4 865.4 762.7 860.6 771.5 854.9 771.0 865.4 771.5 875.8 762.7 870.1ZM777.6 865.4 786.9 860.6 795.7 854.9 795.2 865.4 795.7 875.8 786.9 870.1ZM801.7 865.4 811.0 860.6 819.8 854.9 819.3 865.4 819.8 875.8 811.0 870.1ZM668.9 886.4 678.2 881.6 687.0 875.9 686.5 886.4 687.0 896.9 678.2 891.2ZM693.0 886.4 702.3 881.6 711.1 875.9 710.6 886.4 711.1 896.9 702.3 891.2ZM717.2 886.4 726.5 881.6 735.3 875.9 734.8 886.4 735.3 896.9 726.5 891.2ZM741.3 886.4 750.6 881.6 759.4 875.9 758.9 886.4 759.4 896.9 750.6 891.2ZM765.5 886.4 774.8 881.6 783.6 875.9 783.1 886.4 783.6 896.9 774.8 891.2ZM789.6 886.4 798.9 881.6 807.7 875.9 807.2 886.4 807.7 896.9 798.9 891.2ZM813.8 886.4 823.1 881.6 831.9 875.9 831.4 886.4 831.9 896.9 823.1 891.2ZM656.8 907.5 666.1 902.7 674.9 897.0 674.4 907.5 674.9 917.9 666.1 912.2ZM681.0 907.5 690.3 902.7 699.1 897.0 698.6 907.5 699.1 917.9 690.3 912.2ZM705.1 907.5 714.4 902.7 723.2 897.0 722.7 907.5 723.2 917.9 714.4 912.2ZM729.3 907.5 738.6 902.7 747.4 897.0 746.9 907.5 747.4 917.9 738.6 912.2ZM753.4 907.5 762.7 902.7 771.5 897.0 771.0 907.5 771.5 917.9 762.7 912.2ZM777.6 907.5 786.9 902.7 795.7 897.0 795.2 907.5 795.7 917.9 786.9 912.2ZM801.7 907.5 811.0 902.7 819.8 897.0 819.3 907.5 819.8 917.9 811.0 912.2ZM825.9 907.5 835.2 902.7 844.0 897.0 843.5 907.5 844.0 917.9 835.2 912.2ZM644.7 928.5 654.0 923.7 662.8 918.0 662.3 928.5 662.8 939.0 654.0 933.3ZM668.9 928.5 678.2 923.7 687.0 918.0 686.5 928.5 687.0 939.0 678.2 933.3ZM693.0 928.5 702.3 923.7 711.1 918.0 710.6 928.5 711.1 939.0 702.3 933.3ZM717.2 928.5 726.5 923.7 735.3 918.0 734.8 928.5 735.3 939.0 726.5 933.3ZM741.3 928.5 750.6 923.7 759.4 918.0 758.9 928.5 759.4 939.0 750.6 933.3ZM765.5 928.5 774.8 923.7 783.6 918.0 783.1 928.5 783.6 939.0 774.8 933.3ZM789.6 928.5 798.9 923.7 807.7 918.0 807.2 928.5 807.7 939.0 798.9 933.3ZM813.8 928.5 823.1 923.7 831.9 918.0 831.4 928.5 831.9 939.0 823.1 933.3ZM837.9 928.5 847.2 923.7 856.0 918.0 855.5 928.5 856.0 939.0 847.2 933.3ZM632.7 949.6 642.0 944.8 650.8 939.1 650.3 949.6 650.8 960.0 642.0 954.3ZM656.8 949.6 666.1 944.8 674.9 939.1 674.4 949.6 674.9 960.0 666.1 954.3ZM681.0 949.6 690.3 944.8 699.1 939.1 698.6 949.6 699.1 960.0 690.3 954.3ZM705.1 949.6 714.4 944.8 723.2 939.1 722.7 949.6 723.2 960.0 714.4 954.3ZM729.3 949.6 738.6 944.8 747.4 939.1 746.9 949.6 747.4 960.0 738.6 954.3ZM753.4 949.6 762.7 944.8 771.5 939.1 771.0 949.6 771.5 960.0 762.7 954.3ZM777.6 949.6 786.9 944.8 795.7 939.1 795.2 949.6 795.7 960.0 786.9 954.3ZM801.7 949.6 811.0 944.8 819.8 939.1 819.3 949.6 819.8 960.0 811.0 954.3ZM825.9 949.6 835.2 944.8 844.0 939.1 843.5 949.6 844.0 960.0 835.2 954.3ZM850.0 949.6 859.3 944.8 868.1 939.1 867.6 949.6 868.1 960.0 859.3 954.3ZM620.6 970.6 629.9 965.8 638.7 960.1 638.2 970.6 638.7 981.1 629.9 975.4ZM644.7 970.6 654.0 965.8 662.8 960.1 662.3 970.6 662.8 981.1 654.0 975.4ZM668.9 970.6 678.2 965.8 687.0 960.1 686.5 970.6 687.0 981.1 678.2 975.4ZM693.0 970.6 702.3 965.8 711.1 960.1 710.6 970.6 711.1 981.1 702.3 975.4ZM717.2 970.6 726.5 965.8 735.3 960.1 734.8 970.6 735.3 981.1 726.5 975.4ZM741.3 970.6 750.6 965.8 759.4 960.1 758.9 970.6 759.4 981.1 750.6 975.4ZM765.5 970.6 774.8 965.8 783.6 960.1 783.1 970.6 783.6 981.1 774.8 975.4ZM789.6 970.6 798.9 965.8 807.7 960.1 807.2 970.6 807.7 981.1 798.9 975.4ZM813.8 970.6 823.1 965.8 831.9 960.1 831.4 970.6 831.9 981.1 823.1 975.4ZM837.9 970.6 847.2 965.8 856.0 960.1 855.5 970.6 856.0 981.1 847.2 975.4ZM862.1 970.6 871.4 965.8 880.2 960.1 879.7 970.6 880.2 981.1 871.4 975.4ZM608.5 991.7 617.8 986.9 626.6 981.2 626.1 991.7 626.6 1002.1 617.8 996.4ZM632.7 991.7 642.0 986.9 650.8 981.2 650.3 991.7 650.8 1002.1 642.0 996.4ZM656.8 991.7 666.1 986.9 674.9 981.2 674.4 991.7 674.9 1002.1 666.1 996.4ZM681.0 991.7 690.3 986.9 699.1 981.2 698.6 991.7 699.1 1002.1 690.3 996.4ZM705.1 991.7 714.4 986.9 723.2 981.2 722.7 991.7 723.2 1002.1 714.4 996.4ZM729.3 991.7 738.6 986.9 747.4 981.2 746.9 991.7 747.4 1002.1 738.6 996.4ZM753.4 991.7 762.7 986.9 771.5 981.2 771.0 991.7 771.5 1002.1 762.7 996.4ZM777.6 991.7 786.9 986.9 795.7 981.2 795.2 991.7 795.7 1002.1 786.9 996.4ZM801.7 991.7 811.0 986.9 819.8 981.2 819.3 991.7 819.8 1002.1 811.0 996.4ZM825.9 991.7 835.2 986.9 844.0 981.2 843.5 991.7 844.0 1002.1 835.2 996.4ZM850.0 991.7 859.3 986.9 868.1 981.2 867.6 991.7 868.1 1002.1 859.3 996.4ZM874.2 991.7 883.5 986.9 892.3 981.2 891.8 991.7 892.3 1002.1 883.5 996.4ZM596.4 1012.7 605.7 1007.9 614.5 1002.2 614.0 1012.7 614.5 1023.2 605.7 1017.5ZM620.6 1012.7 629.9 1007.9 638.7 1002.2 638.2 1012.7 638.7 1023.2 629.9 1017.5ZM644.7 1012.7 654.0 1007.9 662.8 1002.2 662.3 1012.7 662.8 1023.2 654.0 1017.5ZM668.9 1012.7 678.2 1007.9 687.0 1002.2 686.5 1012.7 687.0 1023.2 678.2 1017.5ZM693.0 1012.7 702.3 1007.9 711.1 1002.2 710.6 1012.7 711.1 1023.2 702.3 1017.5ZM717.2 1012.7 726.5 1007.9 735.3 1002.2 734.8 1012.7 735.3 1023.2 726.5 1017.5ZM741.3 1012.7 750.6 1007.9 759.4 1002.2 758.9 1012.7 759.4 1023.2 750.6 1017.5ZM765.5 1012.7 774.8 1007.9 783.6 1002.2 783.1 1012.7 783.6 1023.2 774.8 1017.5ZM789.6 1012.7 798.9 1007.9 807.7 1002.2 807.2 1012.7 807.7 1023.2 798.9 1017.5ZM813.8 1012.7 823.1 1007.9 831.9 1002.2 831.4 1012.7 831.9 1023.2 823.1 1017.5ZM837.9 1012.7 847.2 1007.9 856.0 1002.2 855.5 1012.7 856.0 1023.2 847.2 1017.5ZM862.1 1012.7 871.4 1007.9 880.2 1002.2 879.7 1012.7 880.2 1023.2 871.4 1017.5ZM886.2 1012.7 895.5 1007.9 904.3 1002.2 903.8 1012.7 904.3 1023.2 895.5 1017.5Z" fill="#000000"/><path d="M713.6 802.2a3.5 3.5 0 1 0 7.1 0a3.5 3.5 0 1 0 -7.1 0ZM731.7 791.7a3.5 3.5 0 1 0 7.1 0a3.5 3.5 0 1 0 -7.1 0ZM731.7 812.7a3.5 3.5 0 1 0 7.1 0a3.5 3.5 0 1 0 -7.1 0ZM737.8 802.2a3.5 3.5 0 1 0 7.1 0a3.5 3.5 0 1 0 -7.1 0ZM755.9 791.7a3.5 3.5 0 1 0 7.1 0a3.5 3.5 0 1 0 -7.1 0ZM755.9 812.7a3.5 3.5 0 1 0 7.1 0a3.5 3.5 0 1 0 -7.1 0ZM761.9 802.2a3.5 3.5 0 1 0 7.1 0a3.5 3.5 0 1 0 -7.1 0ZM780.0 791.7a3.5 3.5 0 1 0 7.1 0a3.5 3.5 0 1 0 -7.1 0ZM780.0 812.7a3.5 3.5 0 1 0 7.1 0a3.5 3.5 0 1 0 -7.1 0ZM701.6 823.2a3.5 3.5 0 1 0 7.1 0a3.5 3.5 0 1 0 -7.1 0ZM719.7 812.8a3.5 3.5 0 1 0 7.1 0a3.5 3.5 0 1 0 -7.1 0ZM719.7 833.7a3.5 3.5 0 1 0 7.1 0a3.5 3.5 0 1 0 -7.1 0ZM725.7 823.2a3.5 3.5 0 1 0 7.1 0a3.5 3.5 0 1 0 -7.1 0ZM743.8 812.8a3.5 3.5 0 1 0 7.1 0a3.5 3.5 0 1 0 -7.1 0ZM743.8 833.7a3.5 3.5 0 1 0 7.1 0a3.5 3.5 0 1 0 -7.1 0ZM749.9 823.2a3.5 3.5 0 1 0 7.1 0a3.5 3.5 0 1 0 -7.1 0ZM768.0 812.8a3.5 3.5 0 1 0 7.1 0a3.5 3.5 0 1 0 -7.1 0ZM768.0 833.7a3.5 3.5 0 1 0 7.1 0a3.5 3.5 0 1 0 -7.1 0ZM774.0 823.2a3.5 3.5 0 1 0 7.1 0a3.5 3.5 0 1 0 -7.1 0ZM792.1 812.8a3.5 3.5 0 1 0 7.1 0a3.5 3.5 0 1 0 -7.1 0ZM792.1 833.7a3.5 3.5 0 1 0 7.1 0a3.5 3.5 0 1 0 -7.1 0ZM689.5 844.3a3.5 3.5 0 1 0 7.1 0a3.5 3.5 0 1 0 -7.1 0ZM707.6 833.8a3.5 3.5 0 1 0 7.1 0a3.5 3.5 0 1 0 -7.1 0ZM707.6 854.8a3.5 3.5 0 1 0 7.1 0a3.5 3.5 0 1 0 -7.1 0ZM713.6 844.3a3.5 3.5 0 1 0 7.1 0a3.5 3.5 0 1 0 -7.1 0ZM731.7 833.8a3.5 3.5 0 1 0 7.1 0a3.5 3.5 0 1 0 -7.1 0ZM731.7 854.8a3.5 3.5 0 1 0 7.1 0a3.5 3.5 0 1 0 -7.1 0ZM737.8 844.3a3.5 3.5 0 1 0 7.1 0a3.5 3.5 0 1 0 -7.1 0ZM755.9 833.8a3.5 3.5 0 1 0 7.1 0a3.5 3.5 0 1 0 -7.1 0ZM755.9 854.8a3.5 3.5 0 1 0 7.1 0a3.5 3.5 0 1 0 -7.1 0ZM761.9 844.3a3.5 3.5 0 1 0 7.1 0a3.5 3.5 0 1 0 -7.1 0ZM780.0 833.8a3.5 3.5 0 1 0 7.1 0a3.5 3.5 0 1 0 -7.1 0ZM780.0 854.8a3.5 3.5 0 1 0 7.1 0a3.5 3.5 0 1 0 -7.1 0ZM786.1 844.3a3.5 3.5 0 1 0 7.1 0a3.5 3.5 0 1 0 -7.1 0ZM804.2 833.8a3.5 3.5 0 1 0 7.1 0a3.5 3.5 0 1 0 -7.1 0ZM804.2 854.8a3.5 3.5 0 1 0 7.1 0a3.5 3.5 0 1 0 -7.1 0ZM677.4 865.4a3.5 3.5 0 1 0 7.1 0a3.5 3.5 0 1 0 -7.1 0ZM695.5 854.9a3.5 3.5 0 1 0 7.1 0a3.5 3.5 0 1 0 -7.1 0ZM695.5 875.8a3.5 3.5 0 1 0 7.1 0a3.5 3.5 0 1 0 -7.1 0ZM701.6 865.4a3.5 3.5 0 1 0 7.1 0a3.5 3.5 0 1 0 -7.1 0ZM719.7 854.9a3.5 3.5 0 1 0 7.1 0a3.5 3.5 0 1 0 -7.1 0ZM719.7 875.8a3.5 3.5 0 1 0 7.1 0a3.5 3.5 0 1 0 -7.1 0ZM725.7 865.4a3.5 3.5 0 1 0 7.1 0a3.5 3.5 0 1 0 -7.1 0ZM743.8 854.9a3.5 3.5 0 1 0 7.1 0a3.5 3.5 0 1 0 -7.1 0ZM743.8 875.8a3.5 3.5 0 1 0 7.1 0a3.5 3.5 0 1 0 -7.1 0ZM749.9 865.4a3.5 3.5 0 1 0 7.1 0a3.5 3.5 0 1 0 -7.1 0ZM768.0 854.9a3.5 3.5 0 1 0 7.1 0a3.5 3.5 0 1 0 -7.1 0ZM768.0 875.8a3.5 3.5 0 1 0 7.1 0a3.5 3.5 0 1 0 -7.1 0ZM774.0 865.4a3.5 3.5 0 1 0 7.1 0a3.5 3.5 0 1 0 -7.1 0ZM792.1 854.9a3.5 3.5 0 1 0 7.1 0a3.5 3.5 0 1 0 -7.1 0ZM792.1 875.8a3.5 3.5 0 1 0 7.1 0a3.5 3.5 0 1 0 -7.1 0ZM798.2 865.4a3.5 3.5 0 1 0 7.1 0a3.5 3.5 0 1 0 -7.1 0ZM816.3 854.9a3.5 3.5 0 1 0 7.1 0a3.5 3.5 0 1 0 -7.1 0ZM816.3 875.8a3.5 3.5 0 1 0 7.1 0a3.5 3.5 0 1 0 -7.1 0ZM665.3 886.4a3.5 3.5 0 1 0 7.1 0a3.5 3.5 0 1 0 -7.1 0ZM683.4 875.9a3.5 3.5 0 1 0 7.1 0a3.5 3.5 0 1 0 -7.1 0ZM683.4 896.9a3.5 3.5 0 1 0 7.1 0a3.5 3.5 0 1 0 -7.1 0ZM689.5 886.4a3.5 3.5 0 1 0 7.1 0a3.5 3.5 0 1 0 -7.1 0ZM707.6 875.9a3.5 3.5 0 1 0 7.1 0a3.5 3.5 0 1 0 -7.1 0ZM707.6 896.9a3.5 3.5 0 1 0 7.1 0a3.5 3.5 0 1 0 -7.1 0ZM713.6 886.4a3.5 3.5 0 1 0 7.1 0a3.5 3.5 0 1 0 -7.1 0ZM731.7 875.9a3.5 3.5 0 1 0 7.1 0a3.5 3.5 0 1 0 -7.1 0ZM731.7 896.9a3.5 3.5 0 1 0 7.1 0a3.5 3.5 0 1 0 -7.1 0ZM737.8 886.4a3.5 3.5 0 1 0 7.1 0a3.5 3.5 0 1 0 -7.1 0ZM755.9 875.9a3.5 3.5 0 1 0 7.1 0a3.5 3.5 0 1 0 -7.1 0ZM755.9 896.9a3.5 3.5 0 1 0 7.1 0a3.5 3.5 0 1 0 -7.1 0ZM761.9 886.4a3.5 3.5 0 1 0 7.1 0a3.5 3.5 0 1 0 -7.1 0ZM780.0 875.9a3.5 3.5 0 1 0 7.1 0a3.5 3.5 0 1 0 -7.1 0ZM780.0 896.9a3.5 3.5 0 1 0 7.1 0a3.5 3.5 0 1 0 -7.1 0ZM786.1 886.4a3.5 3.5 0 1 0 7.1 0a3.5 3.5 0 1 0 -7.1 0ZM804.2 875.9a3.5 3.5 0 1 0 7.1 0a3.5 3.5 0 1 0 -7.1 0ZM804.2 896.9a3.5 3.5 0 1 0 7.1 0a3.5 3.5 0 1 0 -7.1 0ZM810.2 886.4a3.5 3.5 0 1 0 7.1 0a3.5 3.5 0 1 0 -7.1 0ZM828.3 875.9a3.5 3.5 0 1 0 7.1 0a3.5 3.5 0 1 0 -7.1 0ZM828.3 896.9a3.5 3.5 0 1 0 7.1 0a3.5 3.5 0 1 0 -7.1 0ZM653.3 907.5a3.5 3.5 0 1 0 7.1 0a3.5 3.5 0 1 0 -7.1 0ZM671.4 897.0a3.5 3.5 0 1 0 7.1 0a3.5 3.5 0 1 0 -7.1 0ZM671.4 917.9a3.5 3.5 0 1 0 7.1 0a3.5 3.5 0 1 0 -7.1 0ZM677.4 907.5a3.5 3.5 0 1 0 7.1 0a3.5 3.5 0 1 0 -7.1 0ZM695.5 897.0a3.5 3.5 0 1 0 7.1 0a3.5 3.5 0 1 0 -7.1 0ZM695.5 917.9a3.5 3.5 0 1 0 7.1 0a3.5 3.5 0 1 0 -7.1 0ZM701.6 907.5a3.5 3.5 0 1 0 7.1 0a3.5 3.5 0 1 0 -7.1 0ZM719.7 897.0a3.5 3.5 0 1 0 7.1 0a3.5 3.5 0 1 0 -7.1 0ZM719.7 917.9a3.5 3.5 0 1 0 7.1 0a3.5 3.5 0 1 0 -7.1 0ZM725.7 907.5a3.5 3.5 0 1 0 7.1 0a3.5 3.5 0 1 0 -7.1 0ZM743.8 897.0a3.5 3.5 0 1 0 7.1 0a3.5 3.5 0 1 0 -7.1 0ZM743.8 917.9a3.5 3.5 0 1 0 7.1 0a3.5 3.5 0 1 0 -7.1 0ZM749.9 907.5a3.5 3.5 0 1 0 7.1 0a3.5 3.5 0 1 0 -7.1 0ZM768.0 897.0a3.5 3.5 0 1 0 7.1 0a3.5 3.5 0 1 0 -7.1 0ZM768.0 917.9a3.5 3.5 0 1 0 7.1 0a3.5 3.5 0 1 0 -7.1 0ZM774.0 907.5a3.5 3.5 0 1 0 7.1 0a3.5 3.5 0 1 0 -7.1 0ZM792.1 897.0a3.5 3.5 0 1 0 7.1 0a3.5 3.5 0 1 0 -7.1 0ZM792.1 917.9a3.5 3.5 0 1 0 7.1 0a3.5 3.5 0 1 0 -7.1 0ZM798.2 907.5a3.5 3.5 0 1 0 7.1 0a3.5 3.5 0 1 0 -7.1 0ZM816.3 897.0a3.5 3.5 0 1 0 7.1 0a3.5 3.5 0 1 0 -7.1 0ZM816.3 917.9a3.5 3.5 0 1 0 7.1 0a3.5 3.5 0 1 0 -7.1 0ZM822.3 907.5a3.5 3.5 0 1 0 7.1 0a3.5 3.5 0 1 0 -7.1 0ZM840.4 897.0a3.5 3.5 0 1 0 7.1 0a3.5 3.5 0 1 0 -7.1 0ZM840.4 917.9a3.5 3.5 0 1 0 7.1 0a3.5 3.5 0 1 0 -7.1 0ZM641.2 928.5a3.5 3.5 0 1 0 7.1 0a3.5 3.5 0 1 0 -7.1 0ZM659.3 918.0a3.5 3.5 0 1 0 7.1 0a3.5 3.5 0 1 0 -7.1 0ZM659.3 939.0a3.5 3.5 0 1 0 7.1 0a3.5 3.5 0 1 0 -7.1 0ZM665.3 928.5a3.5 3.5 0 1 0 7.1 0a3.5 3.5 0 1 0 -7.1 0ZM683.4 918.0a3.5 3.5 0 1 0 7.1 0a3.5 3.5 0 1 0 -7.1 0ZM683.4 939.0a3.5 3.5 0 1 0 7.1 0a3.5 3.5 0 1 0 -7.1 0ZM689.5 928.5a3.5 3.5 0 1 0 7.1 0a3.5 3.5 0 1 0 -7.1 0ZM707.6 918.0a3.5 3.5 0 1 0 7.1 0a3.5 3.5 0 1 0 -7.1 0ZM707.6 939.0a3.5 3.5 0 1 0 7.1 0a3.5 3.5 0 1 0 -7.1 0ZM713.6 928.5a3.5 3.5 0 1 0 7.1 0a3.5 3.5 0 1 0 -7.1 0ZM731.7 918.0a3.5 3.5 0 1 0 7.1 0a3.5 3.5 0 1 0 -7.1 0ZM731.7 939.0a3.5 3.5 0 1 0 7.1 0a3.5 3.5 0 1 0 -7.1 0ZM737.8 928.5a3.5 3.5 0 1 0 7.1 0a3.5 3.5 0 1 0 -7.1 0ZM755.9 918.0a3.5 3.5 0 1 0 7.1 0a3.5 3.5 0 1 0 -7.1 0ZM755.9 939.0a3.5 3.5 0 1 0 7.1 0a3.5 3.5 0 1 0 -7.1 0ZM761.9 928.5a3.5 3.5 0 1 0 7.1 0a3.5 3.5 0 1 0 -7.1 0ZM780.0 918.0a3.5 3.5 0 1 0 7.1 0a3.5 3.5 0 1 0 -7.1 0ZM780.0 939.0a3.5 3.5 0 1 0 7.1 0a3.5 3.5 0 1 0 -7.1 0ZM786.1 928.5a3.5 3.5 0 1 0 7.1 0a3.5 3.5 0 1 0 -7.1 0ZM804.2 918.0a3.5 3.5 0 1 0 7.1 0a3.5 3.5 0 1 0 -7.1 0ZM804.2 939.0a3.5 3.5 0 1 0 7.1 0a3.5 3.5 0 1 0 -7.1 0ZM810.2 928.5a3.5 3.5 0 1 0 7.1 0a3.5 3.5 0 1 0 -7.1 0ZM828.3 918.0a3.5 3.5 0 1 0 7.1 0a3.5 3.5 0 1 0 -7.1 0ZM828.3 939.0a3.5 3.5 0 1 0 7.1 0a3.5 3.5 0 1 0 -7.1 0ZM834.4 928.5a3.5 3.5 0 1 0 7.1 0a3.5 3.5 0 1 0 -7.1 0ZM852.5 918.0a3.5 3.5 0 1 0 7.1 0a3.5 3.5 0 1 0 -7.1 0ZM852.5 939.0a3.5 3.5 0 1 0 7.1 0a3.5 3.5 0 1 0 -7.1 0ZM629.1 949.6a3.5 3.5 0 1 0 7.1 0a3.5 3.5 0 1 0 -7.1 0ZM647.2 939.1a3.5 3.5 0 1 0 7.1 0a3.5 3.5 0 1 0 -7.1 0ZM647.2 960.0a3.5 3.5 0 1 0 7.1 0a3.5 3.5 0 1 0 -7.1 0ZM653.3 949.6a3.5 3.5 0 1 0 7.1 0a3.5 3.5 0 1 0 -7.1 0ZM671.4 939.1a3.5 3.5 0 1 0 7.1 0a3.5 3.5 0 1 0 -7.1 0ZM671.4 960.0a3.5 3.5 0 1 0 7.1 0a3.5 3.5 0 1 0 -7.1 0ZM677.4 949.6a3.5 3.5 0 1 0 7.1 0a3.5 3.5 0 1 0 -7.1 0ZM695.5 939.1a3.5 3.5 0 1 0 7.1 0a3.5 3.5 0 1 0 -7.1 0ZM695.5 960.0a3.5 3.5 0 1 0 7.1 0a3.5 3.5 0 1 0 -7.1 0ZM701.6 949.6a3.5 3.5 0 1 0 7.1 0a3.5 3.5 0 1 0 -7.1 0ZM719.7 939.1a3.5 3.5 0 1 0 7.1 0a3.5 3.5 0 1 0 -7.1 0ZM719.7 960.0a3.5 3.5 0 1 0 7.1 0a3.5 3.5 0 1 0 -7.1 0ZM725.7 949.6a3.5 3.5 0 1 0 7.1 0a3.5 3.5 0 1 0 -7.1 0ZM743.8 939.1a3.5 3.5 0 1 0 7.1 0a3.5 3.5 0 1 0 -7.1 0ZM743.8 960.0a3.5 3.5 0 1 0 7.1 0a3.5 3.5 0 1 0 -7.1 0ZM749.9 949.6a3.5 3.5 0 1 0 7.1 0a3.5 3.5 0 1 0 -7.1 0ZM768.0 939.1a3.5 3.5 0 1 0 7.1 0a3.5 3.5 0 1 0 -7.1 0ZM768.0 960.0a3.5 3.5 0 1 0 7.1 0a3.5 3.5 0 1 0 -7.1 0ZM774.0 949.6a3.5 3.5 0 1 0 7.1 0a3.5 3.5 0 1 0 -7.1 0ZM792.1 939.1a3.5 3.5 0 1 0 7.1 0a3.5 3.5 0 1 0 -7.1 0ZM792.1 960.0a3.5 3.5 0 1 0 7.1 0a3.5 3.5 0 1 0 -7.1 0ZM798.2 949.6a3.5 3.5 0 1 0 7.1 0a3.5 3.5 0 1 0 -7.1 0ZM816.3 939.1a3.5 3.5 0 1 0 7.1 0a3.5 3.5 0 1 0 -7.1 0ZM816.3 960.0a3.5 3.5 0 1 0 7.1 0a3.5 3.5 0 1 0 -7.1 0ZM822.3 949.6a3.5 3.5 0 1 0 7.1 0a3.5 3.5 0 1 0 -7.1 0ZM840.4 939.1a3.5 3.5 0 1 0 7.1 0a3.5 3.5 0 1 0 -7.1 0ZM840.4 960.0a3.5 3.5 0 1 0 7.1 0a3.5 3.5 0 1 0 -7.1 0ZM846.5 949.6a3.5 3.5 0 1 0 7.1 0a3.5 3.5 0 1 0 -7.1 0ZM864.6 939.1a3.5 3.5 0 1 0 7.1 0a3.5 3.5 0 1 0 -7.1 0ZM864.6 960.0a3.5 3.5 0 1 0 7.1 0a3.5 3.5 0 1 0 -7.1 0ZM617.0 970.6a3.5 3.5 0 1 0 7.1 0a3.5 3.5 0 1 0 -7.1 0ZM635.1 960.1a3.5 3.5 0 1 0 7.1 0a3.5 3.5 0 1 0 -7.1 0ZM635.1 981.1a3.5 3.5 0 1 0 7.1 0a3.5 3.5 0 1 0 -7.1 0ZM641.2 970.6a3.5 3.5 0 1 0 7.1 0a3.5 3.5 0 1 0 -7.1 0ZM659.3 960.1a3.5 3.5 0 1 0 7.1 0a3.5 3.5 0 1 0 -7.1 0ZM659.3 981.1a3.5 3.5 0 1 0 7.1 0a3.5 3.5 0 1 0 -7.1 0ZM665.3 970.6a3.5 3.5 0 1 0 7.1 0a3.5 3.5 0 1 0 -7.1 0ZM683.4 960.1a3.5 3.5 0 1 0 7.1 0a3.5 3.5 0 1 0 -7.1 0ZM683.4 981.1a3.5 3.5 0 1 0 7.1 0a3.5 3.5 0 1 0 -7.1 0ZM689.5 970.6a3.5 3.5 0 1 0 7.1 0a3.5 3.5 0 1 0 -7.1 0ZM707.6 960.1a3.5 3.5 0 1 0 7.1 0a3.5 3.5 0 1 0 -7.1 0ZM707.6 981.1a3.5 3.5 0 1 0 7.1 0a3.5 3.5 0 1 0 -7.1 0ZM713.6 970.6a3.5 3.5 0 1 0 7.1 0a3.5 3.5 0 1 0 -7.1 0ZM731.7 960.1a3.5 3.5 0 1 0 7.1 0a3.5 3.5 0 1 0 -7.1 0ZM731.7 981.1a3.5 3.5 0 1 0 7.1 0a3.5 3.5 0 1 0 -7.1 0ZM737.8 970.6a3.5 3.5 0 1 0 7.1 0a3.5 3.5 0 1 0 -7.1 0ZM755.9 960.1a3.5 3.5 0 1 0 7.1 0a3.5 3.5 0 1 0 -7.1 0ZM755.9 981.1a3.5 3.5 0 1 0 7.1 0a3.5 3.5 0 1 0 -7.1 0ZM761.9 970.6a3.5 3.5 0 1 0 7.1 0a3.5 3.5 0 1 0 -7.1 0ZM780.0 960.1a3.5 3.5 0 1 0 7.1 0a3.5 3.5 0 1 0 -7.1 0ZM780.0 981.1a3.5 3.5 0 1 0 7.1 0a3.5 3.5 0 1 0 -7.1 0ZM786.1 970.6a3.5 3.5 0 1 0 7.1 0a3.5 3.5 0 1 0 -7.1 0ZM804.2 960.1a3.5 3.5 0 1 0 7.1 0a3.5 3.5 0 1 0 -7.1 0ZM804.2 981.1a3.5 3.5 0 1 0 7.1 0a3.5 3.5 0 1 0 -7.1 0ZM810.2 970.6a3.5 3.5 0 1 0 7.1 0a3.5 3.5 0 1 0 -7.1 0ZM828.3 960.1a3.5 3.5 0 1 0 7.1 0a3.5 3.5 0 1 0 -7.1 0ZM828.3 981.1a3.5 3.5 0 1 0 7.1 0a3.5 3.5 0 1 0 -7.1 0ZM834.4 970.6a3.5 3.5 0 1 0 7.1 0a3.5 3.5 0 1 0 -7.1 0ZM852.5 960.1a3.5 3.5 0 1 0 7.1 0a3.5 3.5 0 1 0 -7.1 0ZM852.5 981.1a3.5 3.5 0 1 0 7.1 0a3.5 3.5 0 1 0 -7.1 0ZM858.5 970.6a3.5 3.5 0 1 0 7.1 0a3.5 3.5 0 1 0 -7.1 0ZM876.6 960.1a3.5 3.5 0 1 0 7.1 0a3.5 3.5 0 1 0 -7.1 0ZM876.6 981.1a3.5 3.5 0 1 0 7.1 0a3.5 3.5 0 1 0 -7.1 0ZM605.0 991.7a3.5 3.5 0 1 0 7.1 0a3.5 3.5 0 1 0 -7.1 0ZM623.1 981.2a3.5 3.5 0 1 0 7.1 0a3.5 3.5 0 1 0 -7.1 0ZM623.1 1002.1a3.5 3.5 0 1 0 7.1 0a3.5 3.5 0 1 0 -7.1 0ZM629.1 991.7a3.5 3.5 0 1 0 7.1 0a3.5 3.5 0 1 0 -7.1 0ZM647.2 981.2a3.5 3.5 0 1 0 7.1 0a3.5 3.5 0 1 0 -7.1 0ZM647.2 1002.1a3.5 3.5 0 1 0 7.1 0a3.5 3.5 0 1 0 -7.1 0ZM653.3 991.7a3.5 3.5 0 1 0 7.1 0a3.5 3.5 0 1 0 -7.1 0ZM671.4 981.2a3.5 3.5 0 1 0 7.1 0a3.5 3.5 0 1 0 -7.1 0ZM671.4 1002.1a3.5 3.5 0 1 0 7.1 0a3.5 3.5 0 1 0 -7.1 0ZM677.4 991.7a3.5 3.5 0 1 0 7.1 0a3.5 3.5 0 1 0 -7.1 0ZM695.5 981.2a3.5 3.5 0 1 0 7.1 0a3.5 3.5 0 1 0 -7.1 0ZM695.5 1002.1a3.5 3.5 0 1 0 7.1 0a3.5 3.5 0 1 0 -7.1 0ZM701.6 991.7a3.5 3.5 0 1 0 7.1 0a3.5 3.5 0 1 0 -7.1 0ZM719.7 981.2a3.5 3.5 0 1 0 7.1 0a3.5 3.5 0 1 0 -7.1 0ZM719.7 1002.1a3.5 3.5 0 1 0 7.1 0a3.5 3.5 0 1 0 -7.1 0ZM725.7 991.7a3.5 3.5 0 1 0 7.1 0a3.5 3.5 0 1 0 -7.1 0ZM743.8 981.2a3.5 3.5 0 1 0 7.1 0a3.5 3.5 0 1 0 -7.1 0ZM743.8 1002.1a3.5 3.5 0 1 0 7.1 0a3.5 3.5 0 1 0 -7.1 0ZM749.9 991.7a3.5 3.5 0 1 0 7.1 0a3.5 3.5 0 1 0 -7.1 0ZM768.0 981.2a3.5 3.5 0 1 0 7.1 0a3.5 3.5 0 1 0 -7.1 0ZM768.0 1002.1a3.5 3.5 0 1 0 7.1 0a3.5 3.5 0 1 0 -7.1 0ZM774.0 991.7a3.5 3.5 0 1 0 7.1 0a3.5 3.5 0 1 0 -7.1 0ZM792.1 981.2a3.5 3.5 0 1 0 7.1 0a3.5 3.5 0 1 0 -7.1 0ZM792.1 1002.1a3.5 3.5 0 1 0 7.1 0a3.5 3.5 0 1 0 -7.1 0ZM798.2 991.7a3.5 3.5 0 1 0 7.1 0a3.5 3.5 0 1 0 -7.1 0ZM816.3 981.2a3.5 3.5 0 1 0 7.1 0a3.5 3.5 0 1 0 -7.1 0ZM816.3 1002.1a3.5 3.5 0 1 0 7.1 0a3.5 3.5 0 1 0 -7.1 0ZM822.3 991.7a3.5 3.5 0 1 0 7.1 0a3.5 3.5 0 1 0 -7.1 0ZM840.4 981.2a3.5 3.5 0 1 0 7.1 0a3.5 3.5 0 1 0 -7.1 0ZM840.4 1002.1a3.5 3.5 0 1 0 7.1 0a3.5 3.5 0 1 0 -7.1 0ZM846.5 991.7a3.5 3.5 0 1 0 7.1 0a3.5 3.5 0 1 0 -7.1 0ZM864.6 981.2a3.5 3.5 0 1 0 7.1 0a3.5 3.5 0 1 0 -7.1 0ZM864.6 1002.1a3.5 3.5 0 1 0 7.1 0a3.5 3.5 0 1 0 -7.1 0ZM870.6 991.7a3.5 3.5 0 1 0 7.1 0a3.5 3.5 0 1 0 -7.1 0ZM888.7 981.2a3.5 3.5 0 1 0 7.1 0a3.5 3.5 0 1 0 -7.1 0ZM888.7 1002.1a3.5 3.5 0 1 0 7.1 0a3.5 3.5 0 1 0 -7.1 0ZM592.9 1012.7a3.5 3.5 0 1 0 7.1 0a3.5 3.5 0 1 0 -7.1 0ZM611.0 1002.2a3.5 3.5 0 1 0 7.1 0a3.5 3.5 0 1 0 -7.1 0ZM611.0 1023.2a3.5 3.5 0 1 0 7.1 0a3.5 3.5 0 1 0 -7.1 0ZM617.0 1012.7a3.5 3.5 0 1 0 7.1 0a3.5 3.5 0 1 0 -7.1 0ZM635.1 1002.2a3.5 3.5 0 1 0 7.1 0a3.5 3.5 0 1 0 -7.1 0ZM635.1 1023.2a3.5 3.5 0 1 0 7.1 0a3.5 3.5 0 1 0 -7.1 0ZM641.2 1012.7a3.5 3.5 0 1 0 7.1 0a3.5 3.5 0 1 0 -7.1 0ZM659.3 1002.2a3.5 3.5 0 1 0 7.1 0a3.5 3.5 0 1 0 -7.1 0ZM659.3 1023.2a3.5 3.5 0 1 0 7.1 0a3.5 3.5 0 1 0 -7.1 0ZM665.3 1012.7a3.5 3.5 0 1 0 7.1 0a3.5 3.5 0 1 0 -7.1 0ZM683.4 1002.2a3.5 3.5 0 1 0 7.1 0a3.5 3.5 0 1 0 -7.1 0ZM683.4 1023.2a3.5 3.5 0 1 0 7.1 0a3.5 3.5 0 1 0 -7.1 0ZM689.5 1012.7a3.5 3.5 0 1 0 7.1 0a3.5 3.5 0 1 0 -7.1 0ZM707.6 1002.2a3.5 3.5 0 1 0 7.1 0a3.5 3.5 0 1 0 -7.1 0ZM707.6 1023.2a3.5 3.5 0 1 0 7.1 0a3.5 3.5 0 1 0 -7.1 0ZM713.6 1012.7a3.5 3.5 0 1 0 7.1 0a3.5 3.5 0 1 0 -7.1 0ZM731.7 1002.2a3.5 3.5 0 1 0 7.1 0a3.5 3.5 0 1 0 -7.1 0ZM731.7 1023.2a3.5 3.5 0 1 0 7.1 0a3.5 3.5 0 1 0 -7.1 0ZM737.8 1012.7a3.5 3.5 0 1 0 7.1 0a3.5 3.5 0 1 0 -7.1 0ZM755.9 1002.2a3.5 3.5 0 1 0 7.1 0a3.5 3.5 0 1 0 -7.1 0ZM755.9 1023.2a3.5 3.5 0 1 0 7.1 0a3.5 3.5 0 1 0 -7.1 0ZM761.9 1012.7a3.5 3.5 0 1 0 7.1 0a3.5 3.5 0 1 0 -7.1 0ZM780.0 1002.2a3.5 3.5 0 1 0 7.1 0a3.5 3.5 0 1 0 -7.1 0ZM780.0 1023.2a3.5 3.5 0 1 0 7.1 0a3.5 3.5 0 1 0 -7.1 0ZM786.1 1012.7a3.5 3.5 0 1 0 7.1 0a3.5 3.5 0 1 0 -7.1 0ZM804.2 1002.2a3.5 3.5 0 1 0 7.1 0a3.5 3.5 0 1 0 -7.1 0ZM804.2 1023.2a3.5 3.5 0 1 0 7.1 0a3.5 3.5 0 1 0 -7.1 0ZM810.2 1012.7a3.5 3.5 0 1 0 7.1 0a3.5 3.5 0 1 0 -7.1 0ZM828.3 1002.2a3.5 3.5 0 1 0 7.1 0a3.5 3.5 0 1 0 -7.1 0ZM828.3 1023.2a3.5 3.5 0 1 0 7.1 0a3.5 3.5 0 1 0 -7.1 0ZM834.4 1012.7a3.5 3.5 0 1 0 7.1 0a3.5 3.5 0 1 0 -7.1 0ZM852.5 1002.2a3.5 3.5 0 1 0 7.1 0a3.5 3.5 0 1 0 -7.1 0ZM852.5 1023.2a3.5 3.5 0 1 0 7.1 0a3.5 3.5 0 1 0 -7.1 0ZM858.5 1012.7a3.5 3.5 0 1 0 7.1 0a3.5 3.5 0 1 0 -7.1 0ZM876.6 1002.2a3.5 3.5 0 1 0 7.1 0a3.5 3.5 0 1 0 -7.1 0ZM876.6 1023.2a3.5 3.5 0 1 0 7.1 0a3.5 3.5 0 1 0 -7.1 0ZM882.7 1012.7a3.5 3.5 0 1 0 7.1 0a3.5 3.5 0 1 0 -7.1 0ZM900.8 1002.2a3.5 3.5 0 1 0 7.1 0a3.5 3.5 0 1 0 -7.1 0ZM900.8 1023.2a3.5 3.5 0 1 0 7.1 0a3.5 3.5 0 1 0 -7.1 0Z" fill="#000000"/><path d="M725.2 802.2a4.0 4.0 0 1 0 8.0 0a4.0 4.0 0 1 0 -8.0 0ZM749.4 802.2a4.0 4.0 0 1 0 8.0 0a4.0 4.0 0 1 0 -8.0 0ZM773.5 802.2a4.0 4.0 0 1 0 8.0 0a4.0 4.0 0 1 0 -8.0 0ZM713.2 823.2a4.0 4.0 0 1 0 8.0 0a4.0 4.0 0 1 0 -8.0 0ZM737.3 823.2a4.0 4.0 0 1 0 8.0 0a4.0 4.0 0 1 0 -8.0 0ZM761.5 823.2a4.0 4.0 0 1 0 8.0 0a4.0 4.0 0 1 0 -8.0 0ZM785.6 823.2a4.0 4.0 0 1 0 8.0 0a4.0 4.0 0 1 0 -8.0 0ZM701.1 844.3a4.0 4.0 0 1 0 8.0 0a4.0 4.0 0 1 0 -8.0 0ZM725.2 844.3a4.0 4.0 0 1 0 8.0 0a4.0 4.0 0 1 0 -8.0 0ZM749.4 844.3a4.0 4.0 0 1 0 8.0 0a4.0 4.0 0 1 0 -8.0 0ZM773.5 844.3a4.0 4.0 0 1 0 8.0 0a4.0 4.0 0 1 0 -8.0 0ZM797.7 844.3a4.0 4.0 0 1 0 8.0 0a4.0 4.0 0 1 0 -8.0 0ZM689.0 865.4a4.0 4.0 0 1 0 8.0 0a4.0 4.0 0 1 0 -8.0 0ZM713.2 865.4a4.0 4.0 0 1 0 8.0 0a4.0 4.0 0 1 0 -8.0 0ZM737.3 865.4a4.0 4.0 0 1 0 8.0 0a4.0 4.0 0 1 0 -8.0 0ZM761.5 865.4a4.0 4.0 0 1 0 8.0 0a4.0 4.0 0 1 0 -8.0 0ZM785.6 865.4a4.0 4.0 0 1 0 8.0 0a4.0 4.0 0 1 0 -8.0 0ZM809.8 865.4a4.0 4.0 0 1 0 8.0 0a4.0 4.0 0 1 0 -8.0 0ZM677.0 886.4a4.0 4.0 0 1 0 8.0 0a4.0 4.0 0 1 0 -8.0 0ZM701.1 886.4a4.0 4.0 0 1 0 8.0 0a4.0 4.0 0 1 0 -8.0 0ZM725.2 886.4a4.0 4.0 0 1 0 8.0 0a4.0 4.0 0 1 0 -8.0 0ZM749.4 886.4a4.0 4.0 0 1 0 8.0 0a4.0 4.0 0 1 0 -8.0 0ZM773.5 886.4a4.0 4.0 0 1 0 8.0 0a4.0 4.0 0 1 0 -8.0 0ZM797.7 886.4a4.0 4.0 0 1 0 8.0 0a4.0 4.0 0 1 0 -8.0 0ZM821.8 886.4a4.0 4.0 0 1 0 8.0 0a4.0 4.0 0 1 0 -8.0 0ZM664.9 907.5a4.0 4.0 0 1 0 8.0 0a4.0 4.0 0 1 0 -8.0 0ZM689.0 907.5a4.0 4.0 0 1 0 8.0 0a4.0 4.0 0 1 0 -8.0 0ZM713.2 907.5a4.0 4.0 0 1 0 8.0 0a4.0 4.0 0 1 0 -8.0 0ZM737.3 907.5a4.0 4.0 0 1 0 8.0 0a4.0 4.0 0 1 0 -8.0 0ZM761.5 907.5a4.0 4.0 0 1 0 8.0 0a4.0 4.0 0 1 0 -8.0 0ZM785.6 907.5a4.0 4.0 0 1 0 8.0 0a4.0 4.0 0 1 0 -8.0 0ZM809.8 907.5a4.0 4.0 0 1 0 8.0 0a4.0 4.0 0 1 0 -8.0 0ZM833.9 907.5a4.0 4.0 0 1 0 8.0 0a4.0 4.0 0 1 0 -8.0 0ZM652.8 928.5a4.0 4.0 0 1 0 8.0 0a4.0 4.0 0 1 0 -8.0 0ZM677.0 928.5a4.0 4.0 0 1 0 8.0 0a4.0 4.0 0 1 0 -8.0 0ZM701.1 928.5a4.0 4.0 0 1 0 8.0 0a4.0 4.0 0 1 0 -8.0 0ZM725.2 928.5a4.0 4.0 0 1 0 8.0 0a4.0 4.0 0 1 0 -8.0 0ZM749.4 928.5a4.0 4.0 0 1 0 8.0 0a4.0 4.0 0 1 0 -8.0 0ZM773.5 928.5a4.0 4.0 0 1 0 8.0 0a4.0 4.0 0 1 0 -8.0 0ZM797.7 928.5a4.0 4.0 0 1 0 8.0 0a4.0 4.0 0 1 0 -8.0 0ZM821.8 928.5a4.0 4.0 0 1 0 8.0 0a4.0 4.0 0 1 0 -8.0 0ZM846.0 928.5a4.0 4.0 0 1 0 8.0 0a4.0 4.0 0 1 0 -8.0 0ZM640.7 949.6a4.0 4.0 0 1 0 8.0 0a4.0 4.0 0 1 0 -8.0 0ZM664.9 949.6a4.0 4.0 0 1 0 8.0 0a4.0 4.0 0 1 0 -8.0 0ZM689.0 949.6a4.0 4.0 0 1 0 8.0 0a4.0 4.0 0 1 0 -8.0 0ZM713.2 949.6a4.0 4.0 0 1 0 8.0 0a4.0 4.0 0 1 0 -8.0 0ZM737.3 949.6a4.0 4.0 0 1 0 8.0 0a4.0 4.0 0 1 0 -8.0 0ZM761.5 949.6a4.0 4.0 0 1 0 8.0 0a4.0 4.0 0 1 0 -8.0 0ZM785.6 949.6a4.0 4.0 0 1 0 8.0 0a4.0 4.0 0 1 0 -8.0 0ZM809.8 949.6a4.0 4.0 0 1 0 8.0 0a4.0 4.0 0 1 0 -8.0 0ZM833.9 949.6a4.0 4.0 0 1 0 8.0 0a4.0 4.0 0 1 0 -8.0 0ZM858.1 949.6a4.0 4.0 0 1 0 8.0 0a4.0 4.0 0 1 0 -8.0 0ZM628.6 970.6a4.0 4.0 0 1 0 8.0 0a4.0 4.0 0 1 0 -8.0 0ZM652.8 970.6a4.0 4.0 0 1 0 8.0 0a4.0 4.0 0 1 0 -8.0 0ZM677.0 970.6a4.0 4.0 0 1 0 8.0 0a4.0 4.0 0 1 0 -8.0 0ZM701.1 970.6a4.0 4.0 0 1 0 8.0 0a4.0 4.0 0 1 0 -8.0 0ZM725.2 970.6a4.0 4.0 0 1 0 8.0 0a4.0 4.0 0 1 0 -8.0 0ZM749.4 970.6a4.0 4.0 0 1 0 8.0 0a4.0 4.0 0 1 0 -8.0 0ZM773.5 970.6a4.0 4.0 0 1 0 8.0 0a4.0 4.0 0 1 0 -8.0 0ZM797.7 970.6a4.0 4.0 0 1 0 8.0 0a4.0 4.0 0 1 0 -8.0 0ZM821.8 970.6a4.0 4.0 0 1 0 8.0 0a4.0 4.0 0 1 0 -8.0 0ZM846.0 970.6a4.0 4.0 0 1 0 8.0 0a4.0 4.0 0 1 0 -8.0 0ZM870.1 970.6a4.0 4.0 0 1 0 8.0 0a4.0 4.0 0 1 0 -8.0 0ZM616.6 991.7a4.0 4.0 0 1 0 8.0 0a4.0 4.0 0 1 0 -8.0 0ZM640.7 991.7a4.0 4.0 0 1 0 8.0 0a4.0 4.0 0 1 0 -8.0 0ZM664.9 991.7a4.0 4.0 0 1 0 8.0 0a4.0 4.0 0 1 0 -8.0 0ZM689.0 991.7a4.0 4.0 0 1 0 8.0 0a4.0 4.0 0 1 0 -8.0 0ZM713.2 991.7a4.0 4.0 0 1 0 8.0 0a4.0 4.0 0 1 0 -8.0 0ZM737.3 991.7a4.0 4.0 0 1 0 8.0 0a4.0 4.0 0 1 0 -8.0 0ZM761.5 991.7a4.0 4.0 0 1 0 8.0 0a4.0 4.0 0 1 0 -8.0 0ZM785.6 991.7a4.0 4.0 0 1 0 8.0 0a4.0 4.0 0 1 0 -8.0 0ZM809.8 991.7a4.0 4.0 0 1 0 8.0 0a4.0 4.0 0 1 0 -8.0 0ZM833.9 991.7a4.0 4.0 0 1 0 8.0 0a4.0 4.0 0 1 0 -8.0 0ZM858.1 991.7a4.0 4.0 0 1 0 8.0 0a4.0 4.0 0 1 0 -8.0 0ZM882.2 991.7a4.0 4.0 0 1 0 8.0 0a4.0 4.0 0 1 0 -8.0 0ZM604.5 1012.7a4.0 4.0 0 1 0 8.0 0a4.0 4.0 0 1 0 -8.0 0ZM628.6 1012.7a4.0 4.0 0 1 0 8.0 0a4.0 4.0 0 1 0 -8.0 0ZM652.8 1012.7a4.0 4.0 0 1 0 8.0 0a4.0 4.0 0 1 0 -8.0 0ZM677.0 1012.7a4.0 4.0 0 1 0 8.0 0a4.0 4.0 0 1 0 -8.0 0ZM701.1 1012.7a4.0 4.0 0 1 0 8.0 0a4.0 4.0 0 1 0 -8.0 0ZM725.2 1012.7a4.0 4.0 0 1 0 8.0 0a4.0 4.0 0 1 0 -8.0 0ZM749.4 1012.7a4.0 4.0 0 1 0 8.0 0a4.0 4.0 0 1 0 -8.0 0ZM773.5 1012.7a4.0 4.0 0 1 0 8.0 0a4.0 4.0 0 1 0 -8.0 0ZM797.7 1012.7a4.0 4.0 0 1 0 8.0 0a4.0 4.0 0 1 0 -8.0 0ZM821.8 1012.7a4.0 4.0 0 1 0 8.0 0a4.0 4.0 0 1 0 -8.0 0ZM846.0 1012.7a4.0 4.0 0 1 0 8.0 0a4.0 4.0 0 1 0 -8.0 0ZM870.1 1012.7a4.0 4.0 0 1 0 8.0 0a4.0 4.0 0 1 0 -8.0 0ZM894.3 1012.7a4.0 4.0 0 1 0 8.0 0a4.0 4.0 0 1 0 -8.0 0Z" fill="#0070c0"/><ellipse cx="742.5" cy="802.7" rx="2.6" ry="3.6" fill="#f50000"/><ellipse cx="764.3" cy="802.7" rx="2.6" ry="3.6" fill="#f50000"/><ellipse cx="776.5" cy="824.0" rx="2.6" ry="3.6" fill="#da0000"/><ellipse cx="787.9" cy="845.8" rx="2.6" ry="3.6" fill="#da0000"/><ellipse cx="824.2" cy="908.0" rx="2.6" ry="3.6" fill="#ff6100"/><ellipse cx="849.1" cy="950.0" rx="2.6" ry="3.6" fill="#f50000"/><ellipse cx="860.5" cy="970.6" rx="2.6" ry="3.6" fill="#ffe600"/><ellipse cx="871.8" cy="991.0" rx="2.6" ry="3.6" fill="#f50000"/></g></g><path d="M648.3 977.3c-1.2-1.6-3.6-1.4-4.6 0.6c-1 2-1.8 8-3.2 16.5c-1 6-2.6 8.2-5 7.6" stroke="#fff" stroke-width="1.6" fill="none"/><path d="M639.3 984.0h7" stroke="#fff" stroke-width="1.3"/><text x="654.3" y="996.8" font-size="28" fill="#fff" textLength="145.5" lengthAdjust="spacingAndGlyphs">= 11.04 kHz</text><rect x="888.1" y="559.0" width="245.9" height="217.5" fill="#0070c0"/><clipPath id="clipD10"><polygon points="1008.8,551.9 1158.8,811.9 858.8,811.9"/></clipPath><clipPath id="clipD10r"><rect x="888.1" y="559.0" width="245.9" height="217.5"/></clipPath><g clip-path="url(#clipD10r)"><g clip-path="url(#clipD10)"><path d="M972.5 573.0 981.8 568.2 990.6 562.5 990.1 573.0 990.6 583.5 981.8 577.8ZM996.6 573.0 1005.9 568.2 1014.7 562.5 1014.2 573.0 1014.7 583.5 1005.9 577.8ZM1020.8 573.0 1030.1 568.2 1038.9 562.5 1038.4 573.0 1038.9 583.5 1030.1 577.8ZM960.4 594.0 969.7 589.3 978.5 583.6 978.0 594.0 978.5 604.5 969.7 598.8ZM984.6 594.0 993.9 589.3 1002.7 583.6 1002.2 594.0 1002.7 604.5 993.9 598.8ZM1008.7 594.0 1018.0 589.3 1026.8 583.6 1026.3 594.0 1026.8 604.5 1018.0 598.8ZM1032.9 594.0 1042.2 589.3 1051.0 583.6 1050.5 594.0 1051.0 604.5 1042.2 598.8ZM948.3 615.1 957.6 610.3 966.4 604.6 965.9 615.1 966.4 625.6 957.6 619.9ZM972.5 615.1 981.8 610.3 990.6 604.6 990.1 615.1 990.6 625.6 981.8 619.9ZM996.6 615.1 1005.9 610.3 1014.7 604.6 1014.2 615.1 1014.7 625.6 1005.9 619.9ZM1020.8 615.1 1030.1 610.3 1038.9 604.6 1038.4 615.1 1038.9 625.6 1030.1 619.9ZM1044.9 615.1 1054.2 610.3 1063.0 604.6 1062.5 615.1 1063.0 625.6 1054.2 619.9ZM936.3 636.1 945.6 631.4 954.4 625.7 953.9 636.1 954.4 646.6 945.6 640.9ZM960.4 636.1 969.7 631.4 978.5 625.7 978.0 636.1 978.5 646.6 969.7 640.9ZM984.6 636.1 993.9 631.4 1002.7 625.7 1002.2 636.1 1002.7 646.6 993.9 640.9ZM1008.7 636.1 1018.0 631.4 1026.8 625.7 1026.3 636.1 1026.8 646.6 1018.0 640.9ZM1032.9 636.1 1042.2 631.4 1051.0 625.7 1050.5 636.1 1051.0 646.6 1042.2 640.9ZM1057.0 636.1 1066.3 631.4 1075.1 625.7 1074.6 636.1 1075.1 646.6 1066.3 640.9ZM924.2 657.2 933.5 652.4 942.3 646.7 941.8 657.2 942.3 667.7 933.5 662.0ZM948.3 657.2 957.6 652.4 966.4 646.7 965.9 657.2 966.4 667.7 957.6 662.0ZM972.5 657.2 981.8 652.4 990.6 646.7 990.1 657.2 990.6 667.7 981.8 662.0ZM996.6 657.2 1005.9 652.4 1014.7 646.7 1014.2 657.2 1014.7 667.7 1005.9 662.0ZM1020.8 657.2 1030.1 652.4 1038.9 646.7 1038.4 657.2 1038.9 667.7 1030.1 662.0ZM1044.9 657.2 1054.2 652.4 1063.0 646.7 1062.5 657.2 1063.0 667.7 1054.2 662.0ZM1069.1 657.2 1078.4 652.4 1087.2 646.7 1086.7 657.2 1087.2 667.7 1078.4 662.0ZM912.1 678.2 921.4 673.5 930.2 667.8 929.7 678.2 930.2 688.7 921.4 683.0ZM936.3 678.2 945.6 673.5 954.4 667.8 953.9 678.2 954.4 688.7 945.6 683.0ZM960.4 678.2 969.7 673.5 978.5 667.8 978.0 678.2 978.5 688.7 969.7 683.0ZM984.6 678.2 993.9 673.5 1002.7 667.8 1002.2 678.2 1002.7 688.7 993.9 683.0ZM1008.7 678.2 1018.0 673.5 1026.8 667.8 1026.3 678.2 1026.8 688.7 1018.0 683.0ZM1032.9 678.2 1042.2 673.5 1051.0 667.8 1050.5 678.2 1051.0 688.7 1042.2 683.0ZM1057.0 678.2 1066.3 673.5 1075.1 667.8 1074.6 678.2 1075.1 688.7 1066.3 683.0ZM1081.2 678.2 1090.5 673.5 1099.3 667.8 1098.8 678.2 1099.3 688.7 1090.5 683.0ZM900.0 699.3 909.3 694.5 918.1 688.8 917.6 699.3 918.1 709.8 909.3 704.1ZM924.2 699.3 933.5 694.5 942.3 688.8 941.8 699.3 942.3 709.8 933.5 704.1ZM948.3 699.3 957.6 694.5 966.4 688.8 965.9 699.3 966.4 709.8 957.6 704.1ZM972.5 699.3 981.8 694.5 990.6 688.8 990.1 699.3 990.6 709.8 981.8 704.1ZM996.6 699.3 1005.9 694.5 1014.7 688.8 1014.2 699.3 1014.7 709.8 1005.9 704.1ZM1020.8 699.3 1030.1 694.5 1038.9 688.8 1038.4 699.3 1038.9 709.8 1030.1 704.1ZM1044.9 699.3 1054.2 694.5 1063.0 688.8 1062.5 699.3 1063.0 709.8 1054.2 704.1ZM1069.1 699.3 1078.4 694.5 1087.2 688.8 1086.7 699.3 1087.2 709.8 1078.4 704.1ZM1093.2 699.3 1102.5 694.5 1111.3 688.8 1110.8 699.3 1111.3 709.8 1102.5 704.1ZM888.0 720.4 897.3 715.6 906.1 709.9 905.6 720.4 906.1 730.8 897.3 725.1ZM912.1 720.4 921.4 715.6 930.2 709.9 929.7 720.4 930.2 730.8 921.4 725.1ZM936.3 720.4 945.6 715.6 954.4 709.9 953.9 720.4 954.4 730.8 945.6 725.1ZM960.4 720.4 969.7 715.6 978.5 709.9 978.0 720.4 978.5 730.8 969.7 725.1ZM984.6 720.4 993.9 715.6 1002.7 709.9 1002.2 720.4 1002.7 730.8 993.9 725.1ZM1008.7 720.4 1018.0 715.6 1026.8 709.9 1026.3 720.4 1026.8 730.8 1018.0 725.1ZM1032.9 720.4 1042.2 715.6 1051.0 709.9 1050.5 720.4 1051.0 730.8 1042.2 725.1ZM1057.0 720.4 1066.3 715.6 1075.1 709.9 1074.6 720.4 1075.1 730.8 1066.3 725.1ZM1081.2 720.4 1090.5 715.6 1099.3 709.9 1098.8 720.4 1099.3 730.8 1090.5 725.1ZM1105.3 720.4 1114.6 715.6 1123.4 709.9 1122.9 720.4 1123.4 730.8 1114.6 725.1ZM875.9 741.4 885.2 736.6 894.0 730.9 893.5 741.4 894.0 751.9 885.2 746.2ZM900.0 741.4 909.3 736.6 918.1 730.9 917.6 741.4 918.1 751.9 909.3 746.2ZM924.2 741.4 933.5 736.6 942.3 730.9 941.8 741.4 942.3 751.9 933.5 746.2ZM948.3 741.4 957.6 736.6 966.4 730.9 965.9 741.4 966.4 751.9 957.6 746.2ZM972.5 741.4 981.8 736.6 990.6 730.9 990.1 741.4 990.6 751.9 981.8 746.2ZM996.6 741.4 1005.9 736.6 1014.7 730.9 1014.2 741.4 1014.7 751.9 1005.9 746.2ZM1020.8 741.4 1030.1 736.6 1038.9 730.9 1038.4 741.4 1038.9 751.9 1030.1 746.2ZM1044.9 741.4 1054.2 736.6 1063.0 730.9 1062.5 741.4 1063.0 751.9 1054.2 746.2ZM1069.1 741.4 1078.4 736.6 1087.2 730.9 1086.7 741.4 1087.2 751.9 1078.4 746.2ZM1093.2 741.4 1102.5 736.6 1111.3 730.9 1110.8 741.4 1111.3 751.9 1102.5 746.2ZM1117.4 741.4 1126.7 736.6 1135.5 730.9 1135.0 741.4 1135.5 751.9 1126.7 746.2ZM863.8 762.5 873.1 757.7 881.9 752.0 881.4 762.5 881.9 772.9 873.1 767.2ZM888.0 762.5 897.3 757.7 906.1 752.0 905.6 762.5 906.1 772.9 897.3 767.2ZM912.1 762.5 921.4 757.7 930.2 752.0 929.7 762.5 930.2 772.9 921.4 767.2ZM936.3 762.5 945.6 757.7 954.4 752.0 953.9 762.5 954.4 772.9 945.6 767.2ZM960.4 762.5 969.7 757.7 978.5 752.0 978.0 762.5 978.5 772.9 969.7 767.2ZM984.6 762.5 993.9 757.7 1002.7 752.0 1002.2 762.5 1002.7 772.9 993.9 767.2ZM1008.7 762.5 1018.0 757.7 1026.8 752.0 1026.3 762.5 1026.8 772.9 1018.0 767.2ZM1032.9 762.5 1042.2 757.7 1051.0 752.0 1050.5 762.5 1051.0 772.9 1042.2 767.2ZM1057.0 762.5 1066.3 757.7 1075.1 752.0 1074.6 762.5 1075.1 772.9 1066.3 767.2ZM1081.2 762.5 1090.5 757.7 1099.3 752.0 1098.8 762.5 1099.3 772.9 1090.5 767.2ZM1105.3 762.5 1114.6 757.7 1123.4 752.0 1122.9 762.5 1123.4 772.9 1114.6 767.2ZM1129.5 762.5 1138.8 757.7 1147.6 752.0 1147.1 762.5 1147.6 772.9 1138.8 767.2ZM851.7 783.5 861.0 778.7 869.8 773.0 869.3 783.5 869.8 794.0 861.0 788.3ZM875.9 783.5 885.2 778.7 894.0 773.0 893.5 783.5 894.0 794.0 885.2 788.3ZM900.0 783.5 909.3 778.7 918.1 773.0 917.6 783.5 918.1 794.0 909.3 788.3ZM924.2 783.5 933.5 778.7 942.3 773.0 941.8 783.5 942.3 794.0 933.5 788.3ZM948.3 783.5 957.6 778.7 966.4 773.0 965.9 783.5 966.4 794.0 957.6 788.3ZM972.5 783.5 981.8 778.7 990.6 773.0 990.1 783.5 990.6 794.0 981.8 788.3ZM996.6 783.5 1005.9 778.7 1014.7 773.0 1014.2 783.5 1014.7 794.0 1005.9 788.3ZM1020.8 783.5 1030.1 778.7 1038.9 773.0 1038.4 783.5 1038.9 794.0 1030.1 788.3ZM1044.9 783.5 1054.2 778.7 1063.0 773.0 1062.5 783.5 1063.0 794.0 1054.2 788.3ZM1069.1 783.5 1078.4 778.7 1087.2 773.0 1086.7 783.5 1087.2 794.0 1078.4 788.3ZM1093.2 783.5 1102.5 778.7 1111.3 773.0 1110.8 783.5 1111.3 794.0 1102.5 788.3ZM1117.4 783.5 1126.7 778.7 1135.5 773.0 1135.0 783.5 1135.5 794.0 1126.7 788.3ZM1141.5 783.5 1150.8 778.7 1159.6 773.0 1159.1 783.5 1159.6 794.0 1150.8 788.3Z" fill="#000000"/><path d="M968.9 573.0a3.5 3.5 0 1 0 7.1 0a3.5 3.5 0 1 0 -7.1 0ZM987.0 562.5a3.5 3.5 0 1 0 7.1 0a3.5 3.5 0 1 0 -7.1 0ZM987.0 583.5a3.5 3.5 0 1 0 7.1 0a3.5 3.5 0 1 0 -7.1 0ZM993.1 573.0a3.5 3.5 0 1 0 7.1 0a3.5 3.5 0 1 0 -7.1 0ZM1011.2 562.5a3.5 3.5 0 1 0 7.1 0a3.5 3.5 0 1 0 -7.1 0ZM1011.2 583.5a3.5 3.5 0 1 0 7.1 0a3.5 3.5 0 1 0 -7.1 0ZM1017.2 573.0a3.5 3.5 0 1 0 7.1 0a3.5 3.5 0 1 0 -7.1 0ZM1035.3 562.5a3.5 3.5 0 1 0 7.1 0a3.5 3.5 0 1 0 -7.1 0ZM1035.3 583.5a3.5 3.5 0 1 0 7.1 0a3.5 3.5 0 1 0 -7.1 0ZM956.9 594.0a3.5 3.5 0 1 0 7.1 0a3.5 3.5 0 1 0 -7.1 0ZM975.0 583.6a3.5 3.5 0 1 0 7.1 0a3.5 3.5 0 1 0 -7.1 0ZM975.0 604.5a3.5 3.5 0 1 0 7.1 0a3.5 3.5 0 1 0 -7.1 0ZM981.0 594.0a3.5 3.5 0 1 0 7.1 0a3.5 3.5 0 1 0 -7.1 0ZM999.1 583.6a3.5 3.5 0 1 0 7.1 0a3.5 3.5 0 1 0 -7.1 0ZM999.1 604.5a3.5 3.5 0 1 0 7.1 0a3.5 3.5 0 1 0 -7.1 0ZM1005.2 594.0a3.5 3.5 0 1 0 7.1 0a3.5 3.5 0 1 0 -7.1 0ZM1023.3 583.6a3.5 3.5 0 1 0 7.1 0a3.5 3.5 0 1 0 -7.1 0ZM1023.3 604.5a3.5 3.5 0 1 0 7.1 0a3.5 3.5 0 1 0 -7.1 0ZM1029.3 594.0a3.5 3.5 0 1 0 7.1 0a3.5 3.5 0 1 0 -7.1 0ZM1047.4 583.6a3.5 3.5 0 1 0 7.1 0a3.5 3.5 0 1 0 -7.1 0ZM1047.4 604.5a3.5 3.5 0 1 0 7.1 0a3.5 3.5 0 1 0 -7.1 0ZM944.8 615.1a3.5 3.5 0 1 0 7.1 0a3.5 3.5 0 1 0 -7.1 0ZM962.9 604.6a3.5 3.5 0 1 0 7.1 0a3.5 3.5 0 1 0 -7.1 0ZM962.9 625.6a3.5 3.5 0 1 0 7.1 0a3.5 3.5 0 1 0 -7.1 0ZM968.9 615.1a3.5 3.5 0 1 0 7.1 0a3.5 3.5 0 1 0 -7.1 0ZM987.0 604.6a3.5 3.5 0 1 0 7.1 0a3.5 3.5 0 1 0 -7.1 0ZM987.0 625.6a3.5 3.5 0 1 0 7.1 0a3.5 3.5 0 1 0 -7.1 0ZM993.1 615.1a3.5 3.5 0 1 0 7.1 0a3.5 3.5 0 1 0 -7.1 0ZM1011.2 604.6a3.5 3.5 0 1 0 7.1 0a3.5 3.5 0 1 0 -7.1 0ZM1011.2 625.6a3.5 3.5 0 1 0 7.1 0a3.5 3.5 0 1 0 -7.1 0ZM1017.2 615.1a3.5 3.5 0 1 0 7.1 0a3.5 3.5 0 1 0 -7.1 0ZM1035.3 604.6a3.5 3.5 0 1 0 7.1 0a3.5 3.5 0 1 0 -7.1 0ZM1035.3 625.6a3.5 3.5 0 1 0 7.1 0a3.5 3.5 0 1 0 -7.1 0ZM1041.4 615.1a3.5 3.5 0 1 0 7.1 0a3.5 3.5 0 1 0 -7.1 0ZM1059.5 604.6a3.5 3.5 0 1 0 7.1 0a3.5 3.5 0 1 0 -7.1 0ZM1059.5 625.6a3.5 3.5 0 1 0 7.1 0a3.5 3.5 0 1 0 -7.1 0ZM932.7 636.1a3.5 3.5 0 1 0 7.1 0a3.5 3.5 0 1 0 -7.1 0ZM950.8 625.7a3.5 3.5 0 1 0 7.1 0a3.5 3.5 0 1 0 -7.1 0ZM950.8 646.6a3.5 3.5 0 1 0 7.1 0a3.5 3.5 0 1 0 -7.1 0ZM956.9 636.1a3.5 3.5 0 1 0 7.1 0a3.5 3.5 0 1 0 -7.1 0ZM975.0 625.7a3.5 3.5 0 1 0 7.1 0a3.5 3.5 0 1 0 -7.1 0ZM975.0 646.6a3.5 3.5 0 1 0 7.1 0a3.5 3.5 0 1 0 -7.1 0ZM981.0 636.1a3.5 3.5 0 1 0 7.1 0a3.5 3.5 0 1 0 -7.1 0ZM999.1 625.7a3.5 3.5 0 1 0 7.1 0a3.5 3.5 0 1 0 -7.1 0ZM999.1 646.6a3.5 3.5 0 1 0 7.1 0a3.5 3.5 0 1 0 -7.1 0ZM1005.2 636.1a3.5 3.5 0 1 0 7.1 0a3.5 3.5 0 1 0 -7.1 0ZM1023.3 625.7a3.5 3.5 0 1 0 7.1 0a3.5 3.5 0 1 0 -7.1 0ZM1023.3 646.6a3.5 3.5 0 1 0 7.1 0a3.5 3.5 0 1 0 -7.1 0ZM1029.3 636.1a3.5 3.5 0 1 0 7.1 0a3.5 3.5 0 1 0 -7.1 0ZM1047.4 625.7a3.5 3.5 0 1 0 7.1 0a3.5 3.5 0 1 0 -7.1 0ZM1047.4 646.6a3.5 3.5 0 1 0 7.1 0a3.5 3.5 0 1 0 -7.1 0ZM1053.5 636.1a3.5 3.5 0 1 0 7.1 0a3.5 3.5 0 1 0 -7.1 0ZM1071.6 625.7a3.5 3.5 0 1 0 7.1 0a3.5 3.5 0 1 0 -7.1 0ZM1071.6 646.6a3.5 3.5 0 1 0 7.1 0a3.5 3.5 0 1 0 -7.1 0ZM920.6 657.2a3.5 3.5 0 1 0 7.1 0a3.5 3.5 0 1 0 -7.1 0ZM938.7 646.7a3.5 3.5 0 1 0 7.1 0a3.5 3.5 0 1 0 -7.1 0ZM938.7 667.7a3.5 3.5 0 1 0 7.1 0a3.5 3.5 0 1 0 -7.1 0ZM944.8 657.2a3.5 3.5 0 1 0 7.1 0a3.5 3.5 0 1 0 -7.1 0ZM962.9 646.7a3.5 3.5 0 1 0 7.1 0a3.5 3.5 0 1 0 -7.1 0ZM962.9 667.7a3.5 3.5 0 1 0 7.1 0a3.5 3.5 0 1 0 -7.1 0ZM968.9 657.2a3.5 3.5 0 1 0 7.1 0a3.5 3.5 0 1 0 -7.1 0ZM987.0 646.7a3.5 3.5 0 1 0 7.1 0a3.5 3.5 0 1 0 -7.1 0ZM987.0 667.7a3.5 3.5 0 1 0 7.1 0a3.5 3.5 0 1 0 -7.1 0ZM993.1 657.2a3.5 3.5 0 1 0 7.1 0a3.5 3.5 0 1 0 -7.1 0ZM1011.2 646.7a3.5 3.5 0 1 0 7.1 0a3.5 3.5 0 1 0 -7.1 0ZM1011.2 667.7a3.5 3.5 0 1 0 7.1 0a3.5 3.5 0 1 0 -7.1 0ZM1017.2 657.2a3.5 3.5 0 1 0 7.1 0a3.5 3.5 0 1 0 -7.1 0ZM1035.3 646.7a3.5 3.5 0 1 0 7.1 0a3.5 3.5 0 1 0 -7.1 0ZM1035.3 667.7a3.5 3.5 0 1 0 7.1 0a3.5 3.5 0 1 0 -7.1 0ZM1041.4 657.2a3.5 3.5 0 1 0 7.1 0a3.5 3.5 0 1 0 -7.1 0ZM1059.5 646.7a3.5 3.5 0 1 0 7.1 0a3.5 3.5 0 1 0 -7.1 0ZM1059.5 667.7a3.5 3.5 0 1 0 7.1 0a3.5 3.5 0 1 0 -7.1 0ZM1065.5 657.2a3.5 3.5 0 1 0 7.1 0a3.5 3.5 0 1 0 -7.1 0ZM1083.6 646.7a3.5 3.5 0 1 0 7.1 0a3.5 3.5 0 1 0 -7.1 0ZM1083.6 667.7a3.5 3.5 0 1 0 7.1 0a3.5 3.5 0 1 0 -7.1 0ZM908.6 678.2a3.5 3.5 0 1 0 7.1 0a3.5 3.5 0 1 0 -7.1 0ZM926.7 667.8a3.5 3.5 0 1 0 7.1 0a3.5 3.5 0 1 0 -7.1 0ZM926.7 688.7a3.5 3.5 0 1 0 7.1 0a3.5 3.5 0 1 0 -7.1 0ZM932.7 678.2a3.5 3.5 0 1 0 7.1 0a3.5 3.5 0 1 0 -7.1 0ZM950.8 667.8a3.5 3.5 0 1 0 7.1 0a3.5 3.5 0 1 0 -7.1 0ZM950.8 688.7a3.5 3.5 0 1 0 7.1 0a3.5 3.5 0 1 0 -7.1 0ZM956.9 678.2a3.5 3.5 0 1 0 7.1 0a3.5 3.5 0 1 0 -7.1 0ZM975.0 667.8a3.5 3.5 0 1 0 7.1 0a3.5 3.5 0 1 0 -7.1 0ZM975.0 688.7a3.5 3.5 0 1 0 7.1 0a3.5 3.5 0 1 0 -7.1 0ZM981.0 678.2a3.5 3.5 0 1 0 7.1 0a3.5 3.5 0 1 0 -7.1 0ZM999.1 667.8a3.5 3.5 0 1 0 7.1 0a3.5 3.5 0 1 0 -7.1 0ZM999.1 688.7a3.5 3.5 0 1 0 7.1 0a3.5 3.5 0 1 0 -7.1 0ZM1005.2 678.2a3.5 3.5 0 1 0 7.1 0a3.5 3.5 0 1 0 -7.1 0ZM1023.3 667.8a3.5 3.5 0 1 0 7.1 0a3.5 3.5 0 1 0 -7.1 0ZM1023.3 688.7a3.5 3.5 0 1 0 7.1 0a3.5 3.5 0 1 0 -7.1 0ZM1029.3 678.2a3.5 3.5 0 1 0 7.1 0a3.5 3.5 0 1 0 -7.1 0ZM1047.4 667.8a3.5 3.5 0 1 0 7.1 0a3.5 3.5 0 1 0 -7.1 0ZM1047.4 688.7a3.5 3.5 0 1 0 7.1 0a3.5 3.5 0 1 0 -7.1 0ZM1053.5 678.2a3.5 3.5 0 1 0 7.1 0a3.5 3.5 0 1 0 -7.1 0ZM1071.6 667.8a3.5 3.5 0 1 0 7.1 0a3.5 3.5 0 1 0 -7.1 0ZM1071.6 688.7a3.5 3.5 0 1 0 7.1 0a3.5 3.5 0 1 0 -7.1 0ZM1077.6 678.2a3.5 3.5 0 1 0 7.1 0a3.5 3.5 0 1 0 -7.1 0ZM1095.7 667.8a3.5 3.5 0 1 0 7.1 0a3.5 3.5 0 1 0 -7.1 0ZM1095.7 688.7a3.5 3.5 0 1 0 7.1 0a3.5 3.5 0 1 0 -7.1 0ZM896.5 699.3a3.5 3.5 0 1 0 7.1 0a3.5 3.5 0 1 0 -7.1 0ZM914.6 688.8a3.5 3.5 0 1 0 7.1 0a3.5 3.5 0 1 0 -7.1 0ZM914.6 709.8a3.5 3.5 0 1 0 7.1 0a3.5 3.5 0 1 0 -7.1 0ZM920.6 699.3a3.5 3.5 0 1 0 7.1 0a3.5 3.5 0 1 0 -7.1 0ZM938.7 688.8a3.5 3.5 0 1 0 7.1 0a3.5 3.5 0 1 0 -7.1 0ZM938.7 709.8a3.5 3.5 0 1 0 7.1 0a3.5 3.5 0 1 0 -7.1 0ZM944.8 699.3a3.5 3.5 0 1 0 7.1 0a3.5 3.5 0 1 0 -7.1 0ZM962.9 688.8a3.5 3.5 0 1 0 7.1 0a3.5 3.5 0 1 0 -7.1 0ZM962.9 709.8a3.5 3.5 0 1 0 7.1 0a3.5 3.5 0 1 0 -7.1 0ZM968.9 699.3a3.5 3.5 0 1 0 7.1 0a3.5 3.5 0 1 0 -7.1 0ZM987.0 688.8a3.5 3.5 0 1 0 7.1 0a3.5 3.5 0 1 0 -7.1 0ZM987.0 709.8a3.5 3.5 0 1 0 7.1 0a3.5 3.5 0 1 0 -7.1 0ZM993.1 699.3a3.5 3.5 0 1 0 7.1 0a3.5 3.5 0 1 0 -7.1 0ZM1011.2 688.8a3.5 3.5 0 1 0 7.1 0a3.5 3.5 0 1 0 -7.1 0ZM1011.2 709.8a3.5 3.5 0 1 0 7.1 0a3.5 3.5 0 1 0 -7.1 0ZM1017.2 699.3a3.5 3.5 0 1 0 7.1 0a3.5 3.5 0 1 0 -7.1 0ZM1035.3 688.8a3.5 3.5 0 1 0 7.1 0a3.5 3.5 0 1 0 -7.1 0ZM1035.3 709.8a3.5 3.5 0 1 0 7.1 0a3.5 3.5 0 1 0 -7.1 0ZM1041.4 699.3a3.5 3.5 0 1 0 7.1 0a3.5 3.5 0 1 0 -7.1 0ZM1059.5 688.8a3.5 3.5 0 1 0 7.1 0a3.5 3.5 0 1 0 -7.1 0ZM1059.5 709.8a3.5 3.5 0 1 0 7.1 0a3.5 3.5 0 1 0 -7.1 0ZM1065.5 699.3a3.5 3.5 0 1 0 7.1 0a3.5 3.5 0 1 0 -7.1 0ZM1083.6 688.8a3.5 3.5 0 1 0 7.1 0a3.5 3.5 0 1 0 -7.1 0ZM1083.6 709.8a3.5 3.5 0 1 0 7.1 0a3.5 3.5 0 1 0 -7.1 0ZM1089.7 699.3a3.5 3.5 0 1 0 7.1 0a3.5 3.5 0 1 0 -7.1 0ZM1107.8 688.8a3.5 3.5 0 1 0 7.1 0a3.5 3.5 0 1 0 -7.1 0ZM1107.8 709.8a3.5 3.5 0 1 0 7.1 0a3.5 3.5 0 1 0 -7.1 0ZM884.4 720.4a3.5 3.5 0 1 0 7.1 0a3.5 3.5 0 1 0 -7.1 0ZM902.5 709.9a3.5 3.5 0 1 0 7.1 0a3.5 3.5 0 1 0 -7.1 0ZM902.5 730.8a3.5 3.5 0 1 0 7.1 0a3.5 3.5 0 1 0 -7.1 0ZM908.6 720.4a3.5 3.5 0 1 0 7.1 0a3.5 3.5 0 1 0 -7.1 0ZM926.7 709.9a3.5 3.5 0 1 0 7.1 0a3.5 3.5 0 1 0 -7.1 0ZM926.7 730.8a3.5 3.5 0 1 0 7.1 0a3.5 3.5 0 1 0 -7.1 0ZM932.7 720.4a3.5 3.5 0 1 0 7.1 0a3.5 3.5 0 1 0 -7.1 0ZM950.8 709.9a3.5 3.5 0 1 0 7.1 0a3.5 3.5 0 1 0 -7.1 0ZM950.8 730.8a3.5 3.5 0 1 0 7.1 0a3.5 3.5 0 1 0 -7.1 0ZM956.9 720.4a3.5 3.5 0 1 0 7.1 0a3.5 3.5 0 1 0 -7.1 0ZM975.0 709.9a3.5 3.5 0 1 0 7.1 0a3.5 3.5 0 1 0 -7.1 0ZM975.0 730.8a3.5 3.5 0 1 0 7.1 0a3.5 3.5 0 1 0 -7.1 0ZM981.0 720.4a3.5 3.5 0 1 0 7.1 0a3.5 3.5 0 1 0 -7.1 0ZM999.1 709.9a3.5 3.5 0 1 0 7.1 0a3.5 3.5 0 1 0 -7.1 0ZM999.1 730.8a3.5 3.5 0 1 0 7.1 0a3.5 3.5 0 1 0 -7.1 0ZM1005.2 720.4a3.5 3.5 0 1 0 7.1 0a3.5 3.5 0 1 0 -7.1 0ZM1023.3 709.9a3.5 3.5 0 1 0 7.1 0a3.5 3.5 0 1 0 -7.1 0ZM1023.3 730.8a3.5 3.5 0 1 0 7.1 0a3.5 3.5 0 1 0 -7.1 0ZM1029.3 720.4a3.5 3.5 0 1 0 7.1 0a3.5 3.5 0 1 0 -7.1 0ZM1047.4 709.9a3.5 3.5 0 1 0 7.1 0a3.5 3.5 0 1 0 -7.1 0ZM1047.4 730.8a3.5 3.5 0 1 0 7.1 0a3.5 3.5 0 1 0 -7.1 0ZM1053.5 720.4a3.5 3.5 0 1 0 7.1 0a3.5 3.5 0 1 0 -7.1 0ZM1071.6 709.9a3.5 3.5 0 1 0 7.1 0a3.5 3.5 0 1 0 -7.1 0ZM1071.6 730.8a3.5 3.5 0 1 0 7.1 0a3.5 3.5 0 1 0 -7.1 0ZM1077.6 720.4a3.5 3.5 0 1 0 7.1 0a3.5 3.5 0 1 0 -7.1 0ZM1095.7 709.9a3.5 3.5 0 1 0 7.1 0a3.5 3.5 0 1 0 -7.1 0ZM1095.7 730.8a3.5 3.5 0 1 0 7.1 0a3.5 3.5 0 1 0 -7.1 0ZM1101.8 720.4a3.5 3.5 0 1 0 7.1 0a3.5 3.5 0 1 0 -7.1 0ZM1119.9 709.9a3.5 3.5 0 1 0 7.1 0a3.5 3.5 0 1 0 -7.1 0ZM1119.9 730.8a3.5 3.5 0 1 0 7.1 0a3.5 3.5 0 1 0 -7.1 0ZM872.3 741.4a3.5 3.5 0 1 0 7.1 0a3.5 3.5 0 1 0 -7.1 0ZM890.4 730.9a3.5 3.5 0 1 0 7.1 0a3.5 3.5 0 1 0 -7.1 0ZM890.4 751.9a3.5 3.5 0 1 0 7.1 0a3.5 3.5 0 1 0 -7.1 0ZM896.5 741.4a3.5 3.5 0 1 0 7.1 0a3.5 3.5 0 1 0 -7.1 0ZM914.6 730.9a3.5 3.5 0 1 0 7.1 0a3.5 3.5 0 1 0 -7.1 0ZM914.6 751.9a3.5 3.5 0 1 0 7.1 0a3.5 3.5 0 1 0 -7.1 0ZM920.6 741.4a3.5 3.5 0 1 0 7.1 0a3.5 3.5 0 1 0 -7.1 0ZM938.7 730.9a3.5 3.5 0 1 0 7.1 0a3.5 3.5 0 1 0 -7.1 0ZM938.7 751.9a3.5 3.5 0 1 0 7.1 0a3.5 3.5 0 1 0 -7.1 0ZM944.8 741.4a3.5 3.5 0 1 0 7.1 0a3.5 3.5 0 1 0 -7.1 0ZM962.9 730.9a3.5 3.5 0 1 0 7.1 0a3.5 3.5 0 1 0 -7.1 0ZM962.9 751.9a3.5 3.5 0 1 0 7.1 0a3.5 3.5 0 1 0 -7.1 0ZM968.9 741.4a3.5 3.5 0 1 0 7.1 0a3.5 3.5 0 1 0 -7.1 0ZM987.0 730.9a3.5 3.5 0 1 0 7.1 0a3.5 3.5 0 1 0 -7.1 0ZM987.0 751.9a3.5 3.5 0 1 0 7.1 0a3.5 3.5 0 1 0 -7.1 0ZM993.1 741.4a3.5 3.5 0 1 0 7.1 0a3.5 3.5 0 1 0 -7.1 0ZM1011.2 730.9a3.5 3.5 0 1 0 7.1 0a3.5 3.5 0 1 0 -7.1 0ZM1011.2 751.9a3.5 3.5 0 1 0 7.1 0a3.5 3.5 0 1 0 -7.1 0ZM1017.2 741.4a3.5 3.5 0 1 0 7.1 0a3.5 3.5 0 1 0 -7.1 0ZM1035.3 730.9a3.5 3.5 0 1 0 7.1 0a3.5 3.5 0 1 0 -7.1 0ZM1035.3 751.9a3.5 3.5 0 1 0 7.1 0a3.5 3.5 0 1 0 -7.1 0ZM1041.4 741.4a3.5 3.5 0 1 0 7.1 0a3.5 3.5 0 1 0 -7.1 0ZM1059.5 730.9a3.5 3.5 0 1 0 7.1 0a3.5 3.5 0 1 0 -7.1 0ZM1059.5 751.9a3.5 3.5 0 1 0 7.1 0a3.5 3.5 0 1 0 -7.1 0ZM1065.5 741.4a3.5 3.5 0 1 0 7.1 0a3.5 3.5 0 1 0 -7.1 0ZM1083.6 730.9a3.5 3.5 0 1 0 7.1 0a3.5 3.5 0 1 0 -7.1 0ZM1083.6 751.9a3.5 3.5 0 1 0 7.1 0a3.5 3.5 0 1 0 -7.1 0ZM1089.7 741.4a3.5 3.5 0 1 0 7.1 0a3.5 3.5 0 1 0 -7.1 0ZM1107.8 730.9a3.5 3.5 0 1 0 7.1 0a3.5 3.5 0 1 0 -7.1 0ZM1107.8 751.9a3.5 3.5 0 1 0 7.1 0a3.5 3.5 0 1 0 -7.1 0ZM1113.8 741.4a3.5 3.5 0 1 0 7.1 0a3.5 3.5 0 1 0 -7.1 0ZM1131.9 730.9a3.5 3.5 0 1 0 7.1 0a3.5 3.5 0 1 0 -7.1 0ZM1131.9 751.9a3.5 3.5 0 1 0 7.1 0a3.5 3.5 0 1 0 -7.1 0ZM860.3 762.5a3.5 3.5 0 1 0 7.1 0a3.5 3.5 0 1 0 -7.1 0ZM878.4 752.0a3.5 3.5 0 1 0 7.1 0a3.5 3.5 0 1 0 -7.1 0ZM878.4 772.9a3.5 3.5 0 1 0 7.1 0a3.5 3.5 0 1 0 -7.1 0ZM884.4 762.5a3.5 3.5 0 1 0 7.1 0a3.5 3.5 0 1 0 -7.1 0ZM902.5 752.0a3.5 3.5 0 1 0 7.1 0a3.5 3.5 0 1 0 -7.1 0ZM902.5 772.9a3.5 3.5 0 1 0 7.1 0a3.5 3.5 0 1 0 -7.1 0ZM908.6 762.5a3.5 3.5 0 1 0 7.1 0a3.5 3.5 0 1 0 -7.1 0ZM926.7 752.0a3.5 3.5 0 1 0 7.1 0a3.5 3.5 0 1 0 -7.1 0ZM926.7 772.9a3.5 3.5 0 1 0 7.1 0a3.5 3.5 0 1 0 -7.1 0ZM932.7 762.5a3.5 3.5 0 1 0 7.1 0a3.5 3.5 0 1 0 -7.1 0ZM950.8 752.0a3.5 3.5 0 1 0 7.1 0a3.5 3.5 0 1 0 -7.1 0ZM950.8 772.9a3.5 3.5 0 1 0 7.1 0a3.5 3.5 0 1 0 -7.1 0ZM956.9 762.5a3.5 3.5 0 1 0 7.1 0a3.5 3.5 0 1 0 -7.1 0ZM975.0 752.0a3.5 3.5 0 1 0 7.1 0a3.5 3.5 0 1 0 -7.1 0ZM975.0 772.9a3.5 3.5 0 1 0 7.1 0a3.5 3.5 0 1 0 -7.1 0ZM981.0 762.5a3.5 3.5 0 1 0 7.1 0a3.5 3.5 0 1 0 -7.1 0ZM999.1 752.0a3.5 3.5 0 1 0 7.1 0a3.5 3.5 0 1 0 -7.1 0ZM999.1 772.9a3.5 3.5 0 1 0 7.1 0a3.5 3.5 0 1 0 -7.1 0ZM1005.2 762.5a3.5 3.5 0 1 0 7.1 0a3.5 3.5 0 1 0 -7.1 0ZM1023.3 752.0a3.5 3.5 0 1 0 7.1 0a3.5 3.5 0 1 0 -7.1 0ZM1023.3 772.9a3.5 3.5 0 1 0 7.1 0a3.5 3.5 0 1 0 -7.1 0ZM1029.3 762.5a3.5 3.5 0 1 0 7.1 0a3.5 3.5 0 1 0 -7.1 0ZM1047.4 752.0a3.5 3.5 0 1 0 7.1 0a3.5 3.5 0 1 0 -7.1 0ZM1047.4 772.9a3.5 3.5 0 1 0 7.1 0a3.5 3.5 0 1 0 -7.1 0ZM1053.5 762.5a3.5 3.5 0 1 0 7.1 0a3.5 3.5 0 1 0 -7.1 0ZM1071.6 752.0a3.5 3.5 0 1 0 7.1 0a3.5 3.5 0 1 0 -7.1 0ZM1071.6 772.9a3.5 3.5 0 1 0 7.1 0a3.5 3.5 0 1 0 -7.1 0ZM1077.6 762.5a3.5 3.5 0 1 0 7.1 0a3.5 3.5 0 1 0 -7.1 0ZM1095.7 752.0a3.5 3.5 0 1 0 7.1 0a3.5 3.5 0 1 0 -7.1 0ZM1095.7 772.9a3.5 3.5 0 1 0 7.1 0a3.5 3.5 0 1 0 -7.1 0ZM1101.8 762.5a3.5 3.5 0 1 0 7.1 0a3.5 3.5 0 1 0 -7.1 0ZM1119.9 752.0a3.5 3.5 0 1 0 7.1 0a3.5 3.5 0 1 0 -7.1 0ZM1119.9 772.9a3.5 3.5 0 1 0 7.1 0a3.5 3.5 0 1 0 -7.1 0ZM1125.9 762.5a3.5 3.5 0 1 0 7.1 0a3.5 3.5 0 1 0 -7.1 0ZM1144.0 752.0a3.5 3.5 0 1 0 7.1 0a3.5 3.5 0 1 0 -7.1 0ZM1144.0 772.9a3.5 3.5 0 1 0 7.1 0a3.5 3.5 0 1 0 -7.1 0ZM848.2 783.5a3.5 3.5 0 1 0 7.1 0a3.5 3.5 0 1 0 -7.1 0ZM866.3 773.0a3.5 3.5 0 1 0 7.1 0a3.5 3.5 0 1 0 -7.1 0ZM866.3 794.0a3.5 3.5 0 1 0 7.1 0a3.5 3.5 0 1 0 -7.1 0ZM872.3 783.5a3.5 3.5 0 1 0 7.1 0a3.5 3.5 0 1 0 -7.1 0ZM890.4 773.0a3.5 3.5 0 1 0 7.1 0a3.5 3.5 0 1 0 -7.1 0ZM890.4 794.0a3.5 3.5 0 1 0 7.1 0a3.5 3.5 0 1 0 -7.1 0ZM896.5 783.5a3.5 3.5 0 1 0 7.1 0a3.5 3.5 0 1 0 -7.1 0ZM914.6 773.0a3.5 3.5 0 1 0 7.1 0a3.5 3.5 0 1 0 -7.1 0ZM914.6 794.0a3.5 3.5 0 1 0 7.1 0a3.5 3.5 0 1 0 -7.1 0ZM920.6 783.5a3.5 3.5 0 1 0 7.1 0a3.5 3.5 0 1 0 -7.1 0ZM938.7 773.0a3.5 3.5 0 1 0 7.1 0a3.5 3.5 0 1 0 -7.1 0ZM938.7 794.0a3.5 3.5 0 1 0 7.1 0a3.5 3.5 0 1 0 -7.1 0ZM944.8 783.5a3.5 3.5 0 1 0 7.1 0a3.5 3.5 0 1 0 -7.1 0ZM962.9 773.0a3.5 3.5 0 1 0 7.1 0a3.5 3.5 0 1 0 -7.1 0ZM962.9 794.0a3.5 3.5 0 1 0 7.1 0a3.5 3.5 0 1 0 -7.1 0ZM968.9 783.5a3.5 3.5 0 1 0 7.1 0a3.5 3.5 0 1 0 -7.1 0ZM987.0 773.0a3.5 3.5 0 1 0 7.1 0a3.5 3.5 0 1 0 -7.1 0ZM987.0 794.0a3.5 3.5 0 1 0 7.1 0a3.5 3.5 0 1 0 -7.1 0ZM993.1 783.5a3.5 3.5 0 1 0 7.1 0a3.5 3.5 0 1 0 -7.1 0ZM1011.2 773.0a3.5 3.5 0 1 0 7.1 0a3.5 3.5 0 1 0 -7.1 0ZM1011.2 794.0a3.5 3.5 0 1 0 7.1 0a3.5 3.5 0 1 0 -7.1 0ZM1017.2 783.5a3.5 3.5 0 1 0 7.1 0a3.5 3.5 0 1 0 -7.1 0ZM1035.3 773.0a3.5 3.5 0 1 0 7.1 0a3.5 3.5 0 1 0 -7.1 0ZM1035.3 794.0a3.5 3.5 0 1 0 7.1 0a3.5 3.5 0 1 0 -7.1 0ZM1041.4 783.5a3.5 3.5 0 1 0 7.1 0a3.5 3.5 0 1 0 -7.1 0ZM1059.5 773.0a3.5 3.5 0 1 0 7.1 0a3.5 3.5 0 1 0 -7.1 0ZM1059.5 794.0a3.5 3.5 0 1 0 7.1 0a3.5 3.5 0 1 0 -7.1 0ZM1065.5 783.5a3.5 3.5 0 1 0 7.1 0a3.5 3.5 0 1 0 -7.1 0ZM1083.6 773.0a3.5 3.5 0 1 0 7.1 0a3.5 3.5 0 1 0 -7.1 0ZM1083.6 794.0a3.5 3.5 0 1 0 7.1 0a3.5 3.5 0 1 0 -7.1 0ZM1089.7 783.5a3.5 3.5 0 1 0 7.1 0a3.5 3.5 0 1 0 -7.1 0ZM1107.8 773.0a3.5 3.5 0 1 0 7.1 0a3.5 3.5 0 1 0 -7.1 0ZM1107.8 794.0a3.5 3.5 0 1 0 7.1 0a3.5 3.5 0 1 0 -7.1 0ZM1113.8 783.5a3.5 3.5 0 1 0 7.1 0a3.5 3.5 0 1 0 -7.1 0ZM1131.9 773.0a3.5 3.5 0 1 0 7.1 0a3.5 3.5 0 1 0 -7.1 0ZM1131.9 794.0a3.5 3.5 0 1 0 7.1 0a3.5 3.5 0 1 0 -7.1 0ZM1138.0 783.5a3.5 3.5 0 1 0 7.1 0a3.5 3.5 0 1 0 -7.1 0ZM1156.1 773.0a3.5 3.5 0 1 0 7.1 0a3.5 3.5 0 1 0 -7.1 0ZM1156.1 794.0a3.5 3.5 0 1 0 7.1 0a3.5 3.5 0 1 0 -7.1 0Z" fill="#000000"/><path d="M980.6 573.0a4.0 4.0 0 1 0 8.0 0a4.0 4.0 0 1 0 -8.0 0ZM1004.7 573.0a4.0 4.0 0 1 0 8.0 0a4.0 4.0 0 1 0 -8.0 0ZM1028.9 573.0a4.0 4.0 0 1 0 8.0 0a4.0 4.0 0 1 0 -8.0 0ZM968.5 594.0a4.0 4.0 0 1 0 8.0 0a4.0 4.0 0 1 0 -8.0 0ZM992.6 594.0a4.0 4.0 0 1 0 8.0 0a4.0 4.0 0 1 0 -8.0 0ZM1016.8 594.0a4.0 4.0 0 1 0 8.0 0a4.0 4.0 0 1 0 -8.0 0ZM1040.9 594.0a4.0 4.0 0 1 0 8.0 0a4.0 4.0 0 1 0 -8.0 0ZM956.4 615.1a4.0 4.0 0 1 0 8.0 0a4.0 4.0 0 1 0 -8.0 0ZM980.6 615.1a4.0 4.0 0 1 0 8.0 0a4.0 4.0 0 1 0 -8.0 0ZM1004.7 615.1a4.0 4.0 0 1 0 8.0 0a4.0 4.0 0 1 0 -8.0 0ZM1028.9 615.1a4.0 4.0 0 1 0 8.0 0a4.0 4.0 0 1 0 -8.0 0ZM1053.0 615.1a4.0 4.0 0 1 0 8.0 0a4.0 4.0 0 1 0 -8.0 0ZM944.3 636.1a4.0 4.0 0 1 0 8.0 0a4.0 4.0 0 1 0 -8.0 0ZM968.5 636.1a4.0 4.0 0 1 0 8.0 0a4.0 4.0 0 1 0 -8.0 0ZM992.6 636.1a4.0 4.0 0 1 0 8.0 0a4.0 4.0 0 1 0 -8.0 0ZM1016.8 636.1a4.0 4.0 0 1 0 8.0 0a4.0 4.0 0 1 0 -8.0 0ZM1040.9 636.1a4.0 4.0 0 1 0 8.0 0a4.0 4.0 0 1 0 -8.0 0ZM1065.1 636.1a4.0 4.0 0 1 0 8.0 0a4.0 4.0 0 1 0 -8.0 0ZM932.2 657.2a4.0 4.0 0 1 0 8.0 0a4.0 4.0 0 1 0 -8.0 0ZM956.4 657.2a4.0 4.0 0 1 0 8.0 0a4.0 4.0 0 1 0 -8.0 0ZM980.6 657.2a4.0 4.0 0 1 0 8.0 0a4.0 4.0 0 1 0 -8.0 0ZM1004.7 657.2a4.0 4.0 0 1 0 8.0 0a4.0 4.0 0 1 0 -8.0 0ZM1028.9 657.2a4.0 4.0 0 1 0 8.0 0a4.0 4.0 0 1 0 -8.0 0ZM1053.0 657.2a4.0 4.0 0 1 0 8.0 0a4.0 4.0 0 1 0 -8.0 0ZM1077.2 657.2a4.0 4.0 0 1 0 8.0 0a4.0 4.0 0 1 0 -8.0 0ZM920.2 678.2a4.0 4.0 0 1 0 8.0 0a4.0 4.0 0 1 0 -8.0 0ZM944.3 678.2a4.0 4.0 0 1 0 8.0 0a4.0 4.0 0 1 0 -8.0 0ZM968.5 678.2a4.0 4.0 0 1 0 8.0 0a4.0 4.0 0 1 0 -8.0 0ZM992.6 678.2a4.0 4.0 0 1 0 8.0 0a4.0 4.0 0 1 0 -8.0 0ZM1016.8 678.2a4.0 4.0 0 1 0 8.0 0a4.0 4.0 0 1 0 -8.0 0ZM1040.9 678.2a4.0 4.0 0 1 0 8.0 0a4.0 4.0 0 1 0 -8.0 0ZM1065.1 678.2a4.0 4.0 0 1 0 8.0 0a4.0 4.0 0 1 0 -8.0 0ZM1089.2 678.2a4.0 4.0 0 1 0 8.0 0a4.0 4.0 0 1 0 -8.0 0ZM908.1 699.3a4.0 4.0 0 1 0 8.0 0a4.0 4.0 0 1 0 -8.0 0ZM932.2 699.3a4.0 4.0 0 1 0 8.0 0a4.0 4.0 0 1 0 -8.0 0ZM956.4 699.3a4.0 4.0 0 1 0 8.0 0a4.0 4.0 0 1 0 -8.0 0ZM980.6 699.3a4.0 4.0 0 1 0 8.0 0a4.0 4.0 0 1 0 -8.0 0ZM1004.7 699.3a4.0 4.0 0 1 0 8.0 0a4.0 4.0 0 1 0 -8.0 0ZM1028.9 699.3a4.0 4.0 0 1 0 8.0 0a4.0 4.0 0 1 0 -8.0 0ZM1053.0 699.3a4.0 4.0 0 1 0 8.0 0a4.0 4.0 0 1 0 -8.0 0ZM1077.2 699.3a4.0 4.0 0 1 0 8.0 0a4.0 4.0 0 1 0 -8.0 0ZM1101.3 699.3a4.0 4.0 0 1 0 8.0 0a4.0 4.0 0 1 0 -8.0 0ZM896.0 720.4a4.0 4.0 0 1 0 8.0 0a4.0 4.0 0 1 0 -8.0 0ZM920.2 720.4a4.0 4.0 0 1 0 8.0 0a4.0 4.0 0 1 0 -8.0 0ZM944.3 720.4a4.0 4.0 0 1 0 8.0 0a4.0 4.0 0 1 0 -8.0 0ZM968.5 720.4a4.0 4.0 0 1 0 8.0 0a4.0 4.0 0 1 0 -8.0 0ZM992.6 720.4a4.0 4.0 0 1 0 8.0 0a4.0 4.0 0 1 0 -8.0 0ZM1016.8 720.4a4.0 4.0 0 1 0 8.0 0a4.0 4.0 0 1 0 -8.0 0ZM1040.9 720.4a4.0 4.0 0 1 0 8.0 0a4.0 4.0 0 1 0 -8.0 0ZM1065.1 720.4a4.0 4.0 0 1 0 8.0 0a4.0 4.0 0 1 0 -8.0 0ZM1089.2 720.4a4.0 4.0 0 1 0 8.0 0a4.0 4.0 0 1 0 -8.0 0ZM1113.4 720.4a4.0 4.0 0 1 0 8.0 0a4.0 4.0 0 1 0 -8.0 0ZM884.0 741.4a4.0 4.0 0 1 0 8.0 0a4.0 4.0 0 1 0 -8.0 0ZM908.1 741.4a4.0 4.0 0 1 0 8.0 0a4.0 4.0 0 1 0 -8.0 0ZM932.2 741.4a4.0 4.0 0 1 0 8.0 0a4.0 4.0 0 1 0 -8.0 0ZM956.4 741.4a4.0 4.0 0 1 0 8.0 0a4.0 4.0 0 1 0 -8.0 0ZM980.6 741.4a4.0 4.0 0 1 0 8.0 0a4.0 4.0 0 1 0 -8.0 0ZM1004.7 741.4a4.0 4.0 0 1 0 8.0 0a4.0 4.0 0 1 0 -8.0 0ZM1028.9 741.4a4.0 4.0 0 1 0 8.0 0a4.0 4.0 0 1 0 -8.0 0ZM1053.0 741.4a4.0 4.0 0 1 0 8.0 0a4.0 4.0 0 1 0 -8.0 0ZM1077.2 741.4a4.0 4.0 0 1 0 8.0 0a4.0 4.0 0 1 0 -8.0 0ZM1101.3 741.4a4.0 4.0 0 1 0 8.0 0a4.0 4.0 0 1 0 -8.0 0ZM1125.5 741.4a4.0 4.0 0 1 0 8.0 0a4.0 4.0 0 1 0 -8.0 0ZM871.9 762.5a4.0 4.0 0 1 0 8.0 0a4.0 4.0 0 1 0 -8.0 0ZM896.0 762.5a4.0 4.0 0 1 0 8.0 0a4.0 4.0 0 1 0 -8.0 0ZM920.2 762.5a4.0 4.0 0 1 0 8.0 0a4.0 4.0 0 1 0 -8.0 0ZM944.3 762.5a4.0 4.0 0 1 0 8.0 0a4.0 4.0 0 1 0 -8.0 0ZM968.5 762.5a4.0 4.0 0 1 0 8.0 0a4.0 4.0 0 1 0 -8.0 0ZM992.6 762.5a4.0 4.0 0 1 0 8.0 0a4.0 4.0 0 1 0 -8.0 0ZM1016.8 762.5a4.0 4.0 0 1 0 8.0 0a4.0 4.0 0 1 0 -8.0 0ZM1040.9 762.5a4.0 4.0 0 1 0 8.0 0a4.0 4.0 0 1 0 -8.0 0ZM1065.1 762.5a4.0 4.0 0 1 0 8.0 0a4.0 4.0 0 1 0 -8.0 0ZM1089.2 762.5a4.0 4.0 0 1 0 8.0 0a4.0 4.0 0 1 0 -8.0 0ZM1113.4 762.5a4.0 4.0 0 1 0 8.0 0a4.0 4.0 0 1 0 -8.0 0ZM1137.5 762.5a4.0 4.0 0 1 0 8.0 0a4.0 4.0 0 1 0 -8.0 0ZM859.8 783.5a4.0 4.0 0 1 0 8.0 0a4.0 4.0 0 1 0 -8.0 0ZM884.0 783.5a4.0 4.0 0 1 0 8.0 0a4.0 4.0 0 1 0 -8.0 0ZM908.1 783.5a4.0 4.0 0 1 0 8.0 0a4.0 4.0 0 1 0 -8.0 0ZM932.2 783.5a4.0 4.0 0 1 0 8.0 0a4.0 4.0 0 1 0 -8.0 0ZM956.4 783.5a4.0 4.0 0 1 0 8.0 0a4.0 4.0 0 1 0 -8.0 0ZM980.6 783.5a4.0 4.0 0 1 0 8.0 0a4.0 4.0 0 1 0 -8.0 0ZM1004.7 783.5a4.0 4.0 0 1 0 8.0 0a4.0 4.0 0 1 0 -8.0 0ZM1028.9 783.5a4.0 4.0 0 1 0 8.0 0a4.0 4.0 0 1 0 -8.0 0ZM1053.0 783.5a4.0 4.0 0 1 0 8.0 0a4.0 4.0 0 1 0 -8.0 0ZM1077.2 783.5a4.0 4.0 0 1 0 8.0 0a4.0 4.0 0 1 0 -8.0 0ZM1101.3 783.5a4.0 4.0 0 1 0 8.0 0a4.0 4.0 0 1 0 -8.0 0ZM1125.5 783.5a4.0 4.0 0 1 0 8.0 0a4.0 4.0 0 1 0 -8.0 0ZM1149.6 783.5a4.0 4.0 0 1 0 8.0 0a4.0 4.0 0 1 0 -8.0 0Z" fill="#0070c0"/><ellipse cx="1003.4" cy="572.7" rx="2.6" ry="3.6" fill="#ff0600"/><ellipse cx="1023.8" cy="574.0" rx="2.6" ry="3.6" fill="#fff800"/><ellipse cx="1019.3" cy="585.4" rx="2.6" ry="3.6" fill="#7f0000"/><ellipse cx="1010.0" cy="565.0" rx="2.6" ry="3.6" fill="#7f0000"/><ellipse cx="1035.0" cy="594.4" rx="2.6" ry="3.6" fill="#da0000"/></g></g><path d="M903.6 748.1c-1.2-1.6-3.6-1.4-4.6 0.6c-1 2-1.8 8-3.2 16.5c-1 6-2.6 8.2-5 7.6" stroke="#fff" stroke-width="1.6" fill="none"/><path d="M894.6 754.8h7" stroke="#fff" stroke-width="1.3"/><text x="909.6" y="767.6" font-size="28" fill="#fff" textLength="145.5" lengthAdjust="spacingAndGlyphs">= 11.21 kHz</text><rect x="888.1" y="788.2" width="245.9" height="217.5" fill="#0070c0"/><clipPath id="clipD11"><polygon points="1008.8,781.1 1158.8,1041.1 858.8,1041.1"/></clipPath><clipPath id="clipD11r"><rect x="888.1" y="788.2" width="245.9" height="217.5"/></clipPath><g clip-path="url(#clipD11r)"><g clip-path="url(#clipD11)"><path d="M972.5 802.2 981.8 797.4 990.6 791.7 990.1 802.2 990.6 812.7 981.8 807.0ZM996.6 802.2 1005.9 797.4 1014.7 791.7 1014.2 802.2 1014.7 812.7 1005.9 807.0ZM1020.8 802.2 1030.1 797.4 1038.9 791.7 1038.4 802.2 1038.9 812.7 1030.1 807.0ZM960.4 823.2 969.7 818.5 978.5 812.8 978.0 823.2 978.5 833.7 969.7 828.0ZM984.6 823.2 993.9 818.5 1002.7 812.8 1002.2 823.2 1002.7 833.7 993.9 828.0ZM1008.7 823.2 1018.0 818.5 1026.8 812.8 1026.3 823.2 1026.8 833.7 1018.0 828.0ZM1032.9 823.2 1042.2 818.5 1051.0 812.8 1050.5 823.2 1051.0 833.7 1042.2 828.0ZM948.3 844.3 957.6 839.5 966.4 833.8 965.9 844.3 966.4 854.8 957.6 849.1ZM972.5 844.3 981.8 839.5 990.6 833.8 990.1 844.3 990.6 854.8 981.8 849.1ZM996.6 844.3 1005.9 839.5 1014.7 833.8 1014.2 844.3 1014.7 854.8 1005.9 849.1ZM1020.8 844.3 1030.1 839.5 1038.9 833.8 1038.4 844.3 1038.9 854.8 1030.1 849.1ZM1044.9 844.3 1054.2 839.5 1063.0 833.8 1062.5 844.3 1063.0 854.8 1054.2 849.1ZM936.3 865.4 945.6 860.6 954.4 854.9 953.9 865.4 954.4 875.8 945.6 870.1ZM960.4 865.4 969.7 860.6 978.5 854.9 978.0 865.4 978.5 875.8 969.7 870.1ZM984.6 865.4 993.9 860.6 1002.7 854.9 1002.2 865.4 1002.7 875.8 993.9 870.1ZM1008.7 865.4 1018.0 860.6 1026.8 854.9 1026.3 865.4 1026.8 875.8 1018.0 870.1ZM1032.9 865.4 1042.2 860.6 1051.0 854.9 1050.5 865.4 1051.0 875.8 1042.2 870.1ZM1057.0 865.4 1066.3 860.6 1075.1 854.9 1074.6 865.4 1075.1 875.8 1066.3 870.1ZM924.2 886.4 933.5 881.6 942.3 875.9 941.8 886.4 942.3 896.9 933.5 891.2ZM948.3 886.4 957.6 881.6 966.4 875.9 965.9 886.4 966.4 896.9 957.6 891.2ZM972.5 886.4 981.8 881.6 990.6 875.9 990.1 886.4 990.6 896.9 981.8 891.2ZM996.6 886.4 1005.9 881.6 1014.7 875.9 1014.2 886.4 1014.7 896.9 1005.9 891.2ZM1020.8 886.4 1030.1 881.6 1038.9 875.9 1038.4 886.4 1038.9 896.9 1030.1 891.2ZM1044.9 886.4 1054.2 881.6 1063.0 875.9 1062.5 886.4 1063.0 896.9 1054.2 891.2ZM1069.1 886.4 1078.4 881.6 1087.2 875.9 1086.7 886.4 1087.2 896.9 1078.4 891.2ZM912.1 907.5 921.4 902.7 930.2 897.0 929.7 907.5 930.2 917.9 921.4 912.2ZM936.3 907.5 945.6 902.7 954.4 897.0 953.9 907.5 954.4 917.9 945.6 912.2ZM960.4 907.5 969.7 902.7 978.5 897.0 978.0 907.5 978.5 917.9 969.7 912.2ZM984.6 907.5 993.9 902.7 1002.7 897.0 1002.2 907.5 1002.7 917.9 993.9 912.2ZM1008.7 907.5 1018.0 902.7 1026.8 897.0 1026.3 907.5 1026.8 917.9 1018.0 912.2ZM1032.9 907.5 1042.2 902.7 1051.0 897.0 1050.5 907.5 1051.0 917.9 1042.2 912.2ZM1057.0 907.5 1066.3 902.7 1075.1 897.0 1074.6 907.5 1075.1 917.9 1066.3 912.2ZM1081.2 907.5 1090.5 902.7 1099.3 897.0 1098.8 907.5 1099.3 917.9 1090.5 912.2ZM900.0 928.5 909.3 923.7 918.1 918.0 917.6 928.5 918.1 939.0 909.3 933.3ZM924.2 928.5 933.5 923.7 942.3 918.0 941.8 928.5 942.3 939.0 933.5 933.3ZM948.3 928.5 957.6 923.7 966.4 918.0 965.9 928.5 966.4 939.0 957.6 933.3ZM972.5 928.5 981.8 923.7 990.6 918.0 990.1 928.5 990.6 939.0 981.8 933.3ZM996.6 928.5 1005.9 923.7 1014.7 918.0 1014.2 928.5 1014.7 939.0 1005.9 933.3ZM1020.8 928.5 1030.1 923.7 1038.9 918.0 1038.4 928.5 1038.9 939.0 1030.1 933.3ZM1044.9 928.5 1054.2 923.7 1063.0 918.0 1062.5 928.5 1063.0 939.0 1054.2 933.3ZM1069.1 928.5 1078.4 923.7 1087.2 918.0 1086.7 928.5 1087.2 939.0 1078.4 933.3ZM1093.2 928.5 1102.5 923.7 1111.3 918.0 1110.8 928.5 1111.3 939.0 1102.5 933.3ZM888.0 949.6 897.3 944.8 906.1 939.1 905.6 949.6 906.1 960.0 897.3 954.3ZM912.1 949.6 921.4 944.8 930.2 939.1 929.7 949.6 930.2 960.0 921.4 954.3ZM936.3 949.6 945.6 944.8 954.4 939.1 953.9 949.6 954.4 960.0 945.6 954.3ZM960.4 949.6 969.7 944.8 978.5 939.1 978.0 949.6 978.5 960.0 969.7 954.3ZM984.6 949.6 993.9 944.8 1002.7 939.1 1002.2 949.6 1002.7 960.0 993.9 954.3ZM1008.7 949.6 1018.0 944.8 1026.8 939.1 1026.3 949.6 1026.8 960.0 1018.0 954.3ZM1032.9 949.6 1042.2 944.8 1051.0 939.1 1050.5 949.6 1051.0 960.0 1042.2 954.3ZM1057.0 949.6 1066.3 944.8 1075.1 939.1 1074.6 949.6 1075.1 960.0 1066.3 954.3ZM1081.2 949.6 1090.5 944.8 1099.3 939.1 1098.8 949.6 1099.3 960.0 1090.5 954.3ZM1105.3 949.6 1114.6 944.8 1123.4 939.1 1122.9 949.6 1123.4 960.0 1114.6 954.3ZM875.9 970.6 885.2 965.8 894.0 960.1 893.5 970.6 894.0 981.1 885.2 975.4ZM900.0 970.6 909.3 965.8 918.1 960.1 917.6 970.6 918.1 981.1 909.3 975.4ZM924.2 970.6 933.5 965.8 942.3 960.1 941.8 970.6 942.3 981.1 933.5 975.4ZM948.3 970.6 957.6 965.8 966.4 960.1 965.9 970.6 966.4 981.1 957.6 975.4ZM972.5 970.6 981.8 965.8 990.6 960.1 990.1 970.6 990.6 981.1 981.8 975.4ZM996.6 970.6 1005.9 965.8 1014.7 960.1 1014.2 970.6 1014.7 981.1 1005.9 975.4ZM1020.8 970.6 1030.1 965.8 1038.9 960.1 1038.4 970.6 1038.9 981.1 1030.1 975.4ZM1044.9 970.6 1054.2 965.8 1063.0 960.1 1062.5 970.6 1063.0 981.1 1054.2 975.4ZM1069.1 970.6 1078.4 965.8 1087.2 960.1 1086.7 970.6 1087.2 981.1 1078.4 975.4ZM1093.2 970.6 1102.5 965.8 1111.3 960.1 1110.8 970.6 1111.3 981.1 1102.5 975.4ZM1117.4 970.6 1126.7 965.8 1135.5 960.1 1135.0 970.6 1135.5 981.1 1126.7 975.4ZM863.8 991.7 873.1 986.9 881.9 981.2 881.4 991.7 881.9 1002.1 873.1 996.4ZM888.0 991.7 897.3 986.9 906.1 981.2 905.6 991.7 906.1 1002.1 897.3 996.4ZM912.1 991.7 921.4 986.9 930.2 981.2 929.7 991.7 930.2 1002.1 921.4 996.4ZM936.3 991.7 945.6 986.9 954.4 981.2 953.9 991.7 954.4 1002.1 945.6 996.4ZM960.4 991.7 969.7 986.9 978.5 981.2 978.0 991.7 978.5 1002.1 969.7 996.4ZM984.6 991.7 993.9 986.9 1002.7 981.2 1002.2 991.7 1002.7 1002.1 993.9 996.4ZM1008.7 991.7 1018.0 986.9 1026.8 981.2 1026.3 991.7 1026.8 1002.1 1018.0 996.4ZM1032.9 991.7 1042.2 986.9 1051.0 981.2 1050.5 991.7 1051.0 1002.1 1042.2 996.4ZM1057.0 991.7 1066.3 986.9 1075.1 981.2 1074.6 991.7 1075.1 1002.1 1066.3 996.4ZM1081.2 991.7 1090.5 986.9 1099.3 981.2 1098.8 991.7 1099.3 1002.1 1090.5 996.4ZM1105.3 991.7 1114.6 986.9 1123.4 981.2 1122.9 991.7 1123.4 1002.1 1114.6 996.4ZM1129.5 991.7 1138.8 986.9 1147.6 981.2 1147.1 991.7 1147.6 1002.1 1138.8 996.4ZM851.7 1012.7 861.0 1007.9 869.8 1002.2 869.3 1012.7 869.8 1023.2 861.0 1017.5ZM875.9 1012.7 885.2 1007.9 894.0 1002.2 893.5 1012.7 894.0 1023.2 885.2 1017.5ZM900.0 1012.7 909.3 1007.9 918.1 1002.2 917.6 1012.7 918.1 1023.2 909.3 1017.5ZM924.2 1012.7 933.5 1007.9 942.3 1002.2 941.8 1012.7 942.3 1023.2 933.5 1017.5ZM948.3 1012.7 957.6 1007.9 966.4 1002.2 965.9 1012.7 966.4 1023.2 957.6 1017.5ZM972.5 1012.7 981.8 1007.9 990.6 1002.2 990.1 1012.7 990.6 1023.2 981.8 1017.5ZM996.6 1012.7 1005.9 1007.9 1014.7 1002.2 1014.2 1012.7 1014.7 1023.2 1005.9 1017.5ZM1020.8 1012.7 1030.1 1007.9 1038.9 1002.2 1038.4 1012.7 1038.9 1023.2 1030.1 1017.5ZM1044.9 1012.7 1054.2 1007.9 1063.0 1002.2 1062.5 1012.7 1063.0 1023.2 1054.2 1017.5ZM1069.1 1012.7 1078.4 1007.9 1087.2 1002.2 1086.7 1012.7 1087.2 1023.2 1078.4 1017.5ZM1093.2 1012.7 1102.5 1007.9 1111.3 1002.2 1110.8 1012.7 1111.3 1023.2 1102.5 1017.5ZM1117.4 1012.7 1126.7 1007.9 1135.5 1002.2 1135.0 1012.7 1135.5 1023.2 1126.7 1017.5ZM1141.5 1012.7 1150.8 1007.9 1159.6 1002.2 1159.1 1012.7 1159.6 1023.2 1150.8 1017.5Z" fill="#000000"/><path d="M968.9 802.2a3.5 3.5 0 1 0 7.1 0a3.5 3.5 0 1 0 -7.1 0ZM987.0 791.7a3.5 3.5 0 1 0 7.1 0a3.5 3.5 0 1 0 -7.1 0ZM987.0 812.7a3.5 3.5 0 1 0 7.1 0a3.5 3.5 0 1 0 -7.1 0ZM993.1 802.2a3.5 3.5 0 1 0 7.1 0a3.5 3.5 0 1 0 -7.1 0ZM1011.2 791.7a3.5 3.5 0 1 0 7.1 0a3.5 3.5 0 1 0 -7.1 0ZM1011.2 812.7a3.5 3.5 0 1 0 7.1 0a3.5 3.5 0 1 0 -7.1 0ZM1017.2 802.2a3.5 3.5 0 1 0 7.1 0a3.5 3.5 0 1 0 -7.1 0ZM1035.3 791.7a3.5 3.5 0 1 0 7.1 0a3.5 3.5 0 1 0 -7.1 0ZM1035.3 812.7a3.5 3.5 0 1 0 7.1 0a3.5 3.5 0 1 0 -7.1 0ZM956.9 823.2a3.5 3.5 0 1 0 7.1 0a3.5 3.5 0 1 0 -7.1 0ZM975.0 812.8a3.5 3.5 0 1 0 7.1 0a3.5 3.5 0 1 0 -7.1 0ZM975.0 833.7a3.5 3.5 0 1 0 7.1 0a3.5 3.5 0 1 0 -7.1 0ZM981.0 823.2a3.5 3.5 0 1 0 7.1 0a3.5 3.5 0 1 0 -7.1 0ZM999.1 812.8a3.5 3.5 0 1 0 7.1 0a3.5 3.5 0 1 0 -7.1 0ZM999.1 833.7a3.5 3.5 0 1 0 7.1 0a3.5 3.5 0 1 0 -7.1 0ZM1005.2 823.2a3.5 3.5 0 1 0 7.1 0a3.5 3.5 0 1 0 -7.1 0ZM1023.3 812.8a3.5 3.5 0 1 0 7.1 0a3.5 3.5 0 1 0 -7.1 0ZM1023.3 833.7a3.5 3.5 0 1 0 7.1 0a3.5 3.5 0 1 0 -7.1 0ZM1029.3 823.2a3.5 3.5 0 1 0 7.1 0a3.5 3.5 0 1 0 -7.1 0ZM1047.4 812.8a3.5 3.5 0 1 0 7.1 0a3.5 3.5 0 1 0 -7.1 0ZM1047.4 833.7a3.5 3.5 0 1 0 7.1 0a3.5 3.5 0 1 0 -7.1 0ZM944.8 844.3a3.5 3.5 0 1 0 7.1 0a3.5 3.5 0 1 0 -7.1 0ZM962.9 833.8a3.5 3.5 0 1 0 7.1 0a3.5 3.5 0 1 0 -7.1 0ZM962.9 854.8a3.5 3.5 0 1 0 7.1 0a3.5 3.5 0 1 0 -7.1 0ZM968.9 844.3a3.5 3.5 0 1 0 7.1 0a3.5 3.5 0 1 0 -7.1 0ZM987.0 833.8a3.5 3.5 0 1 0 7.1 0a3.5 3.5 0 1 0 -7.1 0ZM987.0 854.8a3.5 3.5 0 1 0 7.1 0a3.5 3.5 0 1 0 -7.1 0ZM993.1 844.3a3.5 3.5 0 1 0 7.1 0a3.5 3.5 0 1 0 -7.1 0ZM1011.2 833.8a3.5 3.5 0 1 0 7.1 0a3.5 3.5 0 1 0 -7.1 0ZM1011.2 854.8a3.5 3.5 0 1 0 7.1 0a3.5 3.5 0 1 0 -7.1 0ZM1017.2 844.3a3.5 3.5 0 1 0 7.1 0a3.5 3.5 0 1 0 -7.1 0ZM1035.3 833.8a3.5 3.5 0 1 0 7.1 0a3.5 3.5 0 1 0 -7.1 0ZM1035.3 854.8a3.5 3.5 0 1 0 7.1 0a3.5 3.5 0 1 0 -7.1 0ZM1041.4 844.3a3.5 3.5 0 1 0 7.1 0a3.5 3.5 0 1 0 -7.1 0ZM1059.5 833.8a3.5 3.5 0 1 0 7.1 0a3.5 3.5 0 1 0 -7.1 0ZM1059.5 854.8a3.5 3.5 0 1 0 7.1 0a3.5 3.5 0 1 0 -7.1 0ZM932.7 865.4a3.5 3.5 0 1 0 7.1 0a3.5 3.5 0 1 0 -7.1 0ZM950.8 854.9a3.5 3.5 0 1 0 7.1 0a3.5 3.5 0 1 0 -7.1 0ZM950.8 875.8a3.5 3.5 0 1 0 7.1 0a3.5 3.5 0 1 0 -7.1 0ZM956.9 865.4a3.5 3.5 0 1 0 7.1 0a3.5 3.5 0 1 0 -7.1 0ZM975.0 854.9a3.5 3.5 0 1 0 7.1 0a3.5 3.5 0 1 0 -7.1 0ZM975.0 875.8a3.5 3.5 0 1 0 7.1 0a3.5 3.5 0 1 0 -7.1 0ZM981.0 865.4a3.5 3.5 0 1 0 7.1 0a3.5 3.5 0 1 0 -7.1 0ZM999.1 854.9a3.5 3.5 0 1 0 7.1 0a3.5 3.5 0 1 0 -7.1 0ZM999.1 875.8a3.5 3.5 0 1 0 7.1 0a3.5 3.5 0 1 0 -7.1 0ZM1005.2 865.4a3.5 3.5 0 1 0 7.1 0a3.5 3.5 0 1 0 -7.1 0ZM1023.3 854.9a3.5 3.5 0 1 0 7.1 0a3.5 3.5 0 1 0 -7.1 0ZM1023.3 875.8a3.5 3.5 0 1 0 7.1 0a3.5 3.5 0 1 0 -7.1 0ZM1029.3 865.4a3.5 3.5 0 1 0 7.1 0a3.5 3.5 0 1 0 -7.1 0ZM1047.4 854.9a3.5 3.5 0 1 0 7.1 0a3.5 3.5 0 1 0 -7.1 0ZM1047.4 875.8a3.5 3.5 0 1 0 7.1 0a3.5 3.5 0 1 0 -7.1 0ZM1053.5 865.4a3.5 3.5 0 1 0 7.1 0a3.5 3.5 0 1 0 -7.1 0ZM1071.6 854.9a3.5 3.5 0 1 0 7.1 0a3.5 3.5 0 1 0 -7.1 0ZM1071.6 875.8a3.5 3.5 0 1 0 7.1 0a3.5 3.5 0 1 0 -7.1 0ZM920.6 886.4a3.5 3.5 0 1 0 7.1 0a3.5 3.5 0 1 0 -7.1 0ZM938.7 875.9a3.5 3.5 0 1 0 7.1 0a3.5 3.5 0 1 0 -7.1 0ZM938.7 896.9a3.5 3.5 0 1 0 7.1 0a3.5 3.5 0 1 0 -7.1 0ZM944.8 886.4a3.5 3.5 0 1 0 7.1 0a3.5 3.5 0 1 0 -7.1 0ZM962.9 875.9a3.5 3.5 0 1 0 7.1 0a3.5 3.5 0 1 0 -7.1 0ZM962.9 896.9a3.5 3.5 0 1 0 7.1 0a3.5 3.5 0 1 0 -7.1 0ZM968.9 886.4a3.5 3.5 0 1 0 7.1 0a3.5 3.5 0 1 0 -7.1 0ZM987.0 875.9a3.5 3.5 0 1 0 7.1 0a3.5 3.5 0 1 0 -7.1 0ZM987.0 896.9a3.5 3.5 0 1 0 7.1 0a3.5 3.5 0 1 0 -7.1 0ZM993.1 886.4a3.5 3.5 0 1 0 7.1 0a3.5 3.5 0 1 0 -7.1 0ZM1011.2 875.9a3.5 3.5 0 1 0 7.1 0a3.5 3.5 0 1 0 -7.1 0ZM1011.2 896.9a3.5 3.5 0 1 0 7.1 0a3.5 3.5 0 1 0 -7.1 0ZM1017.2 886.4a3.5 3.5 0 1 0 7.1 0a3.5 3.5 0 1 0 -7.1 0ZM1035.3 875.9a3.5 3.5 0 1 0 7.1 0a3.5 3.5 0 1 0 -7.1 0ZM1035.3 896.9a3.5 3.5 0 1 0 7.1 0a3.5 3.5 0 1 0 -7.1 0ZM1041.4 886.4a3.5 3.5 0 1 0 7.1 0a3.5 3.5 0 1 0 -7.1 0ZM1059.5 875.9a3.5 3.5 0 1 0 7.1 0a3.5 3.5 0 1 0 -7.1 0ZM1059.5 896.9a3.5 3.5 0 1 0 7.1 0a3.5 3.5 0 1 0 -7.1 0ZM1065.5 886.4a3.5 3.5 0 1 0 7.1 0a3.5 3.5 0 1 0 -7.1 0ZM1083.6 875.9a3.5 3.5 0 1 0 7.1 0a3.5 3.5 0 1 0 -7.1 0ZM1083.6 896.9a3.5 3.5 0 1 0 7.1 0a3.5 3.5 0 1 0 -7.1 0ZM908.6 907.5a3.5 3.5 0 1 0 7.1 0a3.5 3.5 0 1 0 -7.1 0ZM926.7 897.0a3.5 3.5 0 1 0 7.1 0a3.5 3.5 0 1 0 -7.1 0ZM926.7 917.9a3.5 3.5 0 1 0 7.1 0a3.5 3.5 0 1 0 -7.1 0ZM932.7 907.5a3.5 3.5 0 1 0 7.1 0a3.5 3.5 0 1 0 -7.1 0ZM950.8 897.0a3.5 3.5 0 1 0 7.1 0a3.5 3.5 0 1 0 -7.1 0ZM950.8 917.9a3.5 3.5 0 1 0 7.1 0a3.5 3.5 0 1 0 -7.1 0ZM956.9 907.5a3.5 3.5 0 1 0 7.1 0a3.5 3.5 0 1 0 -7.1 0ZM975.0 897.0a3.5 3.5 0 1 0 7.1 0a3.5 3.5 0 1 0 -7.1 0ZM975.0 917.9a3.5 3.5 0 1 0 7.1 0a3.5 3.5 0 1 0 -7.1 0ZM981.0 907.5a3.5 3.5 0 1 0 7.1 0a3.5 3.5 0 1 0 -7.1 0ZM999.1 897.0a3.5 3.5 0 1 0 7.1 0a3.5 3.5 0 1 0 -7.1 0ZM999.1 917.9a3.5 3.5 0 1 0 7.1 0a3.5 3.5 0 1 0 -7.1 0ZM1005.2 907.5a3.5 3.5 0 1 0 7.1 0a3.5 3.5 0 1 0 -7.1 0ZM1023.3 897.0a3.5 3.5 0 1 0 7.1 0a3.5 3.5 0 1 0 -7.1 0ZM1023.3 917.9a3.5 3.5 0 1 0 7.1 0a3.5 3.5 0 1 0 -7.1 0ZM1029.3 907.5a3.5 3.5 0 1 0 7.1 0a3.5 3.5 0 1 0 -7.1 0ZM1047.4 897.0a3.5 3.5 0 1 0 7.1 0a3.5 3.5 0 1 0 -7.1 0ZM1047.4 917.9a3.5 3.5 0 1 0 7.1 0a3.5 3.5 0 1 0 -7.1 0ZM1053.5 907.5a3.5 3.5 0 1 0 7.1 0a3.5 3.5 0 1 0 -7.1 0ZM1071.6 897.0a3.5 3.5 0 1 0 7.1 0a3.5 3.5 0 1 0 -7.1 0ZM1071.6 917.9a3.5 3.5 0 1 0 7.1 0a3.5 3.5 0 1 0 -7.1 0ZM1077.6 907.5a3.5 3.5 0 1 0 7.1 0a3.5 3.5 0 1 0 -7.1 0ZM1095.7 897.0a3.5 3.5 0 1 0 7.1 0a3.5 3.5 0 1 0 -7.1 0ZM1095.7 917.9a3.5 3.5 0 1 0 7.1 0a3.5 3.5 0 1 0 -7.1 0ZM896.5 928.5a3.5 3.5 0 1 0 7.1 0a3.5 3.5 0 1 0 -7.1 0ZM914.6 918.0a3.5 3.5 0 1 0 7.1 0a3.5 3.5 0 1 0 -7.1 0ZM914.6 939.0a3.5 3.5 0 1 0 7.1 0a3.5 3.5 0 1 0 -7.1 0ZM920.6 928.5a3.5 3.5 0 1 0 7.1 0a3.5 3.5 0 1 0 -7.1 0ZM938.7 918.0a3.5 3.5 0 1 0 7.1 0a3.5 3.5 0 1 0 -7.1 0ZM938.7 939.0a3.5 3.5 0 1 0 7.1 0a3.5 3.5 0 1 0 -7.1 0ZM944.8 928.5a3.5 3.5 0 1 0 7.1 0a3.5 3.5 0 1 0 -7.1 0ZM962.9 918.0a3.5 3.5 0 1 0 7.1 0a3.5 3.5 0 1 0 -7.1 0ZM962.9 939.0a3.5 3.5 0 1 0 7.1 0a3.5 3.5 0 1 0 -7.1 0ZM968.9 928.5a3.5 3.5 0 1 0 7.1 0a3.5 3.5 0 1 0 -7.1 0ZM987.0 918.0a3.5 3.5 0 1 0 7.1 0a3.5 3.5 0 1 0 -7.1 0ZM987.0 939.0a3.5 3.5 0 1 0 7.1 0a3.5 3.5 0 1 0 -7.1 0ZM993.1 928.5a3.5 3.5 0 1 0 7.1 0a3.5 3.5 0 1 0 -7.1 0ZM1011.2 918.0a3.5 3.5 0 1 0 7.1 0a3.5 3.5 0 1 0 -7.1 0ZM1011.2 939.0a3.5 3.5 0 1 0 7.1 0a3.5 3.5 0 1 0 -7.1 0ZM1017.2 928.5a3.5 3.5 0 1 0 7.1 0a3.5 3.5 0 1 0 -7.1 0ZM1035.3 918.0a3.5 3.5 0 1 0 7.1 0a3.5 3.5 0 1 0 -7.1 0ZM1035.3 939.0a3.5 3.5 0 1 0 7.1 0a3.5 3.5 0 1 0 -7.1 0ZM1041.4 928.5a3.5 3.5 0 1 0 7.1 0a3.5 3.5 0 1 0 -7.1 0ZM1059.5 918.0a3.5 3.5 0 1 0 7.1 0a3.5 3.5 0 1 0 -7.1 0ZM1059.5 939.0a3.5 3.5 0 1 0 7.1 0a3.5 3.5 0 1 0 -7.1 0ZM1065.5 928.5a3.5 3.5 0 1 0 7.1 0a3.5 3.5 0 1 0 -7.1 0ZM1083.6 918.0a3.5 3.5 0 1 0 7.1 0a3.5 3.5 0 1 0 -7.1 0ZM1083.6 939.0a3.5 3.5 0 1 0 7.1 0a3.5 3.5 0 1 0 -7.1 0ZM1089.7 928.5a3.5 3.5 0 1 0 7.1 0a3.5 3.5 0 1 0 -7.1 0ZM1107.8 918.0a3.5 3.5 0 1 0 7.1 0a3.5 3.5 0 1 0 -7.1 0ZM1107.8 939.0a3.5 3.5 0 1 0 7.1 0a3.5 3.5 0 1 0 -7.1 0ZM884.4 949.6a3.5 3.5 0 1 0 7.1 0a3.5 3.5 0 1 0 -7.1 0ZM902.5 939.1a3.5 3.5 0 1 0 7.1 0a3.5 3.5 0 1 0 -7.1 0ZM902.5 960.0a3.5 3.5 0 1 0 7.1 0a3.5 3.5 0 1 0 -7.1 0ZM908.6 949.6a3.5 3.5 0 1 0 7.1 0a3.5 3.5 0 1 0 -7.1 0ZM926.7 939.1a3.5 3.5 0 1 0 7.1 0a3.5 3.5 0 1 0 -7.1 0ZM926.7 960.0a3.5 3.5 0 1 0 7.1 0a3.5 3.5 0 1 0 -7.1 0ZM932.7 949.6a3.5 3.5 0 1 0 7.1 0a3.5 3.5 0 1 0 -7.1 0ZM950.8 939.1a3.5 3.5 0 1 0 7.1 0a3.5 3.5 0 1 0 -7.1 0ZM950.8 960.0a3.5 3.5 0 1 0 7.1 0a3.5 3.5 0 1 0 -7.1 0ZM956.9 949.6a3.5 3.5 0 1 0 7.1 0a3.5 3.5 0 1 0 -7.1 0ZM975.0 939.1a3.5 3.5 0 1 0 7.1 0a3.5 3.5 0 1 0 -7.1 0ZM975.0 960.0a3.5 3.5 0 1 0 7.1 0a3.5 3.5 0 1 0 -7.1 0ZM981.0 949.6a3.5 3.5 0 1 0 7.1 0a3.5 3.5 0 1 0 -7.1 0ZM999.1 939.1a3.5 3.5 0 1 0 7.1 0a3.5 3.5 0 1 0 -7.1 0ZM999.1 960.0a3.5 3.5 0 1 0 7.1 0a3.5 3.5 0 1 0 -7.1 0ZM1005.2 949.6a3.5 3.5 0 1 0 7.1 0a3.5 3.5 0 1 0 -7.1 0ZM1023.3 939.1a3.5 3.5 0 1 0 7.1 0a3.5 3.5 0 1 0 -7.1 0ZM1023.3 960.0a3.5 3.5 0 1 0 7.1 0a3.5 3.5 0 1 0 -7.1 0ZM1029.3 949.6a3.5 3.5 0 1 0 7.1 0a3.5 3.5 0 1 0 -7.1 0ZM1047.4 939.1a3.5 3.5 0 1 0 7.1 0a3.5 3.5 0 1 0 -7.1 0ZM1047.4 960.0a3.5 3.5 0 1 0 7.1 0a3.5 3.5 0 1 0 -7.1 0ZM1053.5 949.6a3.5 3.5 0 1 0 7.1 0a3.5 3.5 0 1 0 -7.1 0ZM1071.6 939.1a3.5 3.5 0 1 0 7.1 0a3.5 3.5 0 1 0 -7.1 0ZM1071.6 960.0a3.5 3.5 0 1 0 7.1 0a3.5 3.5 0 1 0 -7.1 0ZM1077.6 949.6a3.5 3.5 0 1 0 7.1 0a3.5 3.5 0 1 0 -7.1 0ZM1095.7 939.1a3.5 3.5 0 1 0 7.1 0a3.5 3.5 0 1 0 -7.1 0ZM1095.7 960.0a3.5 3.5 0 1 0 7.1 0a3.5 3.5 0 1 0 -7.1 0ZM1101.8 949.6a3.5 3.5 0 1 0 7.1 0a3.5 3.5 0 1 0 -7.1 0ZM1119.9 939.1a3.5 3.5 0 1 0 7.1 0a3.5 3.5 0 1 0 -7.1 0ZM1119.9 960.0a3.5 3.5 0 1 0 7.1 0a3.5 3.5 0 1 0 -7.1 0ZM872.3 970.6a3.5 3.5 0 1 0 7.1 0a3.5 3.5 0 1 0 -7.1 0ZM890.4 960.1a3.5 3.5 0 1 0 7.1 0a3.5 3.5 0 1 0 -7.1 0ZM890.4 981.1a3.5 3.5 0 1 0 7.1 0a3.5 3.5 0 1 0 -7.1 0ZM896.5 970.6a3.5 3.5 0 1 0 7.1 0a3.5 3.5 0 1 0 -7.1 0ZM914.6 960.1a3.5 3.5 0 1 0 7.1 0a3.5 3.5 0 1 0 -7.1 0ZM914.6 981.1a3.5 3.5 0 1 0 7.1 0a3.5 3.5 0 1 0 -7.1 0ZM920.6 970.6a3.5 3.5 0 1 0 7.1 0a3.5 3.5 0 1 0 -7.1 0ZM938.7 960.1a3.5 3.5 0 1 0 7.1 0a3.5 3.5 0 1 0 -7.1 0ZM938.7 981.1a3.5 3.5 0 1 0 7.1 0a3.5 3.5 0 1 0 -7.1 0ZM944.8 970.6a3.5 3.5 0 1 0 7.1 0a3.5 3.5 0 1 0 -7.1 0ZM962.9 960.1a3.5 3.5 0 1 0 7.1 0a3.5 3.5 0 1 0 -7.1 0ZM962.9 981.1a3.5 3.5 0 1 0 7.1 0a3.5 3.5 0 1 0 -7.1 0ZM968.9 970.6a3.5 3.5 0 1 0 7.1 0a3.5 3.5 0 1 0 -7.1 0ZM987.0 960.1a3.5 3.5 0 1 0 7.1 0a3.5 3.5 0 1 0 -7.1 0ZM987.0 981.1a3.5 3.5 0 1 0 7.1 0a3.5 3.5 0 1 0 -7.1 0ZM993.1 970.6a3.5 3.5 0 1 0 7.1 0a3.5 3.5 0 1 0 -7.1 0ZM1011.2 960.1a3.5 3.5 0 1 0 7.1 0a3.5 3.5 0 1 0 -7.1 0ZM1011.2 981.1a3.5 3.5 0 1 0 7.1 0a3.5 3.5 0 1 0 -7.1 0ZM1017.2 970.6a3.5 3.5 0 1 0 7.1 0a3.5 3.5 0 1 0 -7.1 0ZM1035.3 960.1a3.5 3.5 0 1 0 7.1 0a3.5 3.5 0 1 0 -7.1 0ZM1035.3 981.1a3.5 3.5 0 1 0 7.1 0a3.5 3.5 0 1 0 -7.1 0ZM1041.4 970.6a3.5 3.5 0 1 0 7.1 0a3.5 3.5 0 1 0 -7.1 0ZM1059.5 960.1a3.5 3.5 0 1 0 7.1 0a3.5 3.5 0 1 0 -7.1 0ZM1059.5 981.1a3.5 3.5 0 1 0 7.1 0a3.5 3.5 0 1 0 -7.1 0ZM1065.5 970.6a3.5 3.5 0 1 0 7.1 0a3.5 3.5 0 1 0 -7.1 0ZM1083.6 960.1a3.5 3.5 0 1 0 7.1 0a3.5 3.5 0 1 0 -7.1 0ZM1083.6 981.1a3.5 3.5 0 1 0 7.1 0a3.5 3.5 0 1 0 -7.1 0ZM1089.7 970.6a3.5 3.5 0 1 0 7.1 0a3.5 3.5 0 1 0 -7.1 0ZM1107.8 960.1a3.5 3.5 0 1 0 7.1 0a3.5 3.5 0 1 0 -7.1 0ZM1107.8 981.1a3.5 3.5 0 1 0 7.1 0a3.5 3.5 0 1 0 -7.1 0ZM1113.8 970.6a3.5 3.5 0 1 0 7.1 0a3.5 3.5 0 1 0 -7.1 0ZM1131.9 960.1a3.5 3.5 0 1 0 7.1 0a3.5 3.5 0 1 0 -7.1 0ZM1131.9 981.1a3.5 3.5 0 1 0 7.1 0a3.5 3.5 0 1 0 -7.1 0ZM860.3 991.7a3.5 3.5 0 1 0 7.1 0a3.5 3.5 0 1 0 -7.1 0ZM878.4 981.2a3.5 3.5 0 1 0 7.1 0a3.5 3.5 0 1 0 -7.1 0ZM878.4 1002.1a3.5 3.5 0 1 0 7.1 0a3.5 3.5 0 1 0 -7.1 0ZM884.4 991.7a3.5 3.5 0 1 0 7.1 0a3.5 3.5 0 1 0 -7.1 0ZM902.5 981.2a3.5 3.5 0 1 0 7.1 0a3.5 3.5 0 1 0 -7.1 0ZM902.5 1002.1a3.5 3.5 0 1 0 7.1 0a3.5 3.5 0 1 0 -7.1 0ZM908.6 991.7a3.5 3.5 0 1 0 7.1 0a3.5 3.5 0 1 0 -7.1 0ZM926.7 981.2a3.5 3.5 0 1 0 7.1 0a3.5 3.5 0 1 0 -7.1 0ZM926.7 1002.1a3.5 3.5 0 1 0 7.1 0a3.5 3.5 0 1 0 -7.1 0ZM932.7 991.7a3.5 3.5 0 1 0 7.1 0a3.5 3.5 0 1 0 -7.1 0ZM950.8 981.2a3.5 3.5 0 1 0 7.1 0a3.5 3.5 0 1 0 -7.1 0ZM950.8 1002.1a3.5 3.5 0 1 0 7.1 0a3.5 3.5 0 1 0 -7.1 0ZM956.9 991.7a3.5 3.5 0 1 0 7.1 0a3.5 3.5 0 1 0 -7.1 0ZM975.0 981.2a3.5 3.5 0 1 0 7.1 0a3.5 3.5 0 1 0 -7.1 0ZM975.0 1002.1a3.5 3.5 0 1 0 7.1 0a3.5 3.5 0 1 0 -7.1 0ZM981.0 991.7a3.5 3.5 0 1 0 7.1 0a3.5 3.5 0 1 0 -7.1 0ZM999.1 981.2a3.5 3.5 0 1 0 7.1 0a3.5 3.5 0 1 0 -7.1 0ZM999.1 1002.1a3.5 3.5 0 1 0 7.1 0a3.5 3.5 0 1 0 -7.1 0ZM1005.2 991.7a3.5 3.5 0 1 0 7.1 0a3.5 3.5 0 1 0 -7.1 0ZM1023.3 981.2a3.5 3.5 0 1 0 7.1 0a3.5 3.5 0 1 0 -7.1 0ZM1023.3 1002.1a3.5 3.5 0 1 0 7.1 0a3.5 3.5 0 1 0 -7.1 0ZM1029.3 991.7a3.5 3.5 0 1 0 7.1 0a3.5 3.5 0 1 0 -7.1 0ZM1047.4 981.2a3.5 3.5 0 1 0 7.1 0a3.5 3.5 0 1 0 -7.1 0ZM1047.4 1002.1a3.5 3.5 0 1 0 7.1 0a3.5 3.5 0 1 0 -7.1 0ZM1053.5 991.7a3.5 3.5 0 1 0 7.1 0a3.5 3.5 0 1 0 -7.1 0ZM1071.6 981.2a3.5 3.5 0 1 0 7.1 0a3.5 3.5 0 1 0 -7.1 0ZM1071.6 1002.1a3.5 3.5 0 1 0 7.1 0a3.5 3.5 0 1 0 -7.1 0ZM1077.6 991.7a3.5 3.5 0 1 0 7.1 0a3.5 3.5 0 1 0 -7.1 0ZM1095.7 981.2a3.5 3.5 0 1 0 7.1 0a3.5 3.5 0 1 0 -7.1 0ZM1095.7 1002.1a3.5 3.5 0 1 0 7.1 0a3.5 3.5 0 1 0 -7.1 0ZM1101.8 991.7a3.5 3.5 0 1 0 7.1 0a3.5 3.5 0 1 0 -7.1 0ZM1119.9 981.2a3.5 3.5 0 1 0 7.1 0a3.5 3.5 0 1 0 -7.1 0ZM1119.9 1002.1a3.5 3.5 0 1 0 7.1 0a3.5 3.5 0 1 0 -7.1 0ZM1125.9 991.7a3.5 3.5 0 1 0 7.1 0a3.5 3.5 0 1 0 -7.1 0ZM1144.0 981.2a3.5 3.5 0 1 0 7.1 0a3.5 3.5 0 1 0 -7.1 0ZM1144.0 1002.1a3.5 3.5 0 1 0 7.1 0a3.5 3.5 0 1 0 -7.1 0ZM848.2 1012.7a3.5 3.5 0 1 0 7.1 0a3.5 3.5 0 1 0 -7.1 0ZM866.3 1002.2a3.5 3.5 0 1 0 7.1 0a3.5 3.5 0 1 0 -7.1 0ZM866.3 1023.2a3.5 3.5 0 1 0 7.1 0a3.5 3.5 0 1 0 -7.1 0ZM872.3 1012.7a3.5 3.5 0 1 0 7.1 0a3.5 3.5 0 1 0 -7.1 0ZM890.4 1002.2a3.5 3.5 0 1 0 7.1 0a3.5 3.5 0 1 0 -7.1 0ZM890.4 1023.2a3.5 3.5 0 1 0 7.1 0a3.5 3.5 0 1 0 -7.1 0ZM896.5 1012.7a3.5 3.5 0 1 0 7.1 0a3.5 3.5 0 1 0 -7.1 0ZM914.6 1002.2a3.5 3.5 0 1 0 7.1 0a3.5 3.5 0 1 0 -7.1 0ZM914.6 1023.2a3.5 3.5 0 1 0 7.1 0a3.5 3.5 0 1 0 -7.1 0ZM920.6 1012.7a3.5 3.5 0 1 0 7.1 0a3.5 3.5 0 1 0 -7.1 0ZM938.7 1002.2a3.5 3.5 0 1 0 7.1 0a3.5 3.5 0 1 0 -7.1 0ZM938.7 1023.2a3.5 3.5 0 1 0 7.1 0a3.5 3.5 0 1 0 -7.1 0ZM944.8 1012.7a3.5 3.5 0 1 0 7.1 0a3.5 3.5 0 1 0 -7.1 0ZM962.9 1002.2a3.5 3.5 0 1 0 7.1 0a3.5 3.5 0 1 0 -7.1 0ZM962.9 1023.2a3.5 3.5 0 1 0 7.1 0a3.5 3.5 0 1 0 -7.1 0ZM968.9 1012.7a3.5 3.5 0 1 0 7.1 0a3.5 3.5 0 1 0 -7.1 0ZM987.0 1002.2a3.5 3.5 0 1 0 7.1 0a3.5 3.5 0 1 0 -7.1 0ZM987.0 1023.2a3.5 3.5 0 1 0 7.1 0a3.5 3.5 0 1 0 -7.1 0ZM993.1 1012.7a3.5 3.5 0 1 0 7.1 0a3.5 3.5 0 1 0 -7.1 0ZM1011.2 1002.2a3.5 3.5 0 1 0 7.1 0a3.5 3.5 0 1 0 -7.1 0ZM1011.2 1023.2a3.5 3.5 0 1 0 7.1 0a3.5 3.5 0 1 0 -7.1 0ZM1017.2 1012.7a3.5 3.5 0 1 0 7.1 0a3.5 3.5 0 1 0 -7.1 0ZM1035.3 1002.2a3.5 3.5 0 1 0 7.1 0a3.5 3.5 0 1 0 -7.1 0ZM1035.3 1023.2a3.5 3.5 0 1 0 7.1 0a3.5 3.5 0 1 0 -7.1 0ZM1041.4 1012.7a3.5 3.5 0 1 0 7.1 0a3.5 3.5 0 1 0 -7.1 0ZM1059.5 1002.2a3.5 3.5 0 1 0 7.1 0a3.5 3.5 0 1 0 -7.1 0ZM1059.5 1023.2a3.5 3.5 0 1 0 7.1 0a3.5 3.5 0 1 0 -7.1 0ZM1065.5 1012.7a3.5 3.5 0 1 0 7.1 0a3.5 3.5 0 1 0 -7.1 0ZM1083.6 1002.2a3.5 3.5 0 1 0 7.1 0a3.5 3.5 0 1 0 -7.1 0ZM1083.6 1023.2a3.5 3.5 0 1 0 7.1 0a3.5 3.5 0 1 0 -7.1 0ZM1089.7 1012.7a3.5 3.5 0 1 0 7.1 0a3.5 3.5 0 1 0 -7.1 0ZM1107.8 1002.2a3.5 3.5 0 1 0 7.1 0a3.5 3.5 0 1 0 -7.1 0ZM1107.8 1023.2a3.5 3.5 0 1 0 7.1 0a3.5 3.5 0 1 0 -7.1 0ZM1113.8 1012.7a3.5 3.5 0 1 0 7.1 0a3.5 3.5 0 1 0 -7.1 0ZM1131.9 1002.2a3.5 3.5 0 1 0 7.1 0a3.5 3.5 0 1 0 -7.1 0ZM1131.9 1023.2a3.5 3.5 0 1 0 7.1 0a3.5 3.5 0 1 0 -7.1 0ZM1138.0 1012.7a3.5 3.5 0 1 0 7.1 0a3.5 3.5 0 1 0 -7.1 0ZM1156.1 1002.2a3.5 3.5 0 1 0 7.1 0a3.5 3.5 0 1 0 -7.1 0ZM1156.1 1023.2a3.5 3.5 0 1 0 7.1 0a3.5 3.5 0 1 0 -7.1 0Z" fill="#000000"/><path d="M980.6 802.2a4.0 4.0 0 1 0 8.0 0a4.0 4.0 0 1 0 -8.0 0ZM1004.7 802.2a4.0 4.0 0 1 0 8.0 0a4.0 4.0 0 1 0 -8.0 0ZM1028.9 802.2a4.0 4.0 0 1 0 8.0 0a4.0 4.0 0 1 0 -8.0 0ZM968.5 823.2a4.0 4.0 0 1 0 8.0 0a4.0 4.0 0 1 0 -8.0 0ZM992.6 823.2a4.0 4.0 0 1 0 8.0 0a4.0 4.0 0 1 0 -8.0 0ZM1016.8 823.2a4.0 4.0 0 1 0 8.0 0a4.0 4.0 0 1 0 -8.0 0ZM1040.9 823.2a4.0 4.0 0 1 0 8.0 0a4.0 4.0 0 1 0 -8.0 0ZM956.4 844.3a4.0 4.0 0 1 0 8.0 0a4.0 4.0 0 1 0 -8.0 0ZM980.6 844.3a4.0 4.0 0 1 0 8.0 0a4.0 4.0 0 1 0 -8.0 0ZM1004.7 844.3a4.0 4.0 0 1 0 8.0 0a4.0 4.0 0 1 0 -8.0 0ZM1028.9 844.3a4.0 4.0 0 1 0 8.0 0a4.0 4.0 0 1 0 -8.0 0ZM1053.0 844.3a4.0 4.0 0 1 0 8.0 0a4.0 4.0 0 1 0 -8.0 0ZM944.3 865.4a4.0 4.0 0 1 0 8.0 0a4.0 4.0 0 1 0 -8.0 0ZM968.5 865.4a4.0 4.0 0 1 0 8.0 0a4.0 4.0 0 1 0 -8.0 0ZM992.6 865.4a4.0 4.0 0 1 0 8.0 0a4.0 4.0 0 1 0 -8.0 0ZM1016.8 865.4a4.0 4.0 0 1 0 8.0 0a4.0 4.0 0 1 0 -8.0 0ZM1040.9 865.4a4.0 4.0 0 1 0 8.0 0a4.0 4.0 0 1 0 -8.0 0ZM1065.1 865.4a4.0 4.0 0 1 0 8.0 0a4.0 4.0 0 1 0 -8.0 0ZM932.2 886.4a4.0 4.0 0 1 0 8.0 0a4.0 4.0 0 1 0 -8.0 0ZM956.4 886.4a4.0 4.0 0 1 0 8.0 0a4.0 4.0 0 1 0 -8.0 0ZM980.6 886.4a4.0 4.0 0 1 0 8.0 0a4.0 4.0 0 1 0 -8.0 0ZM1004.7 886.4a4.0 4.0 0 1 0 8.0 0a4.0 4.0 0 1 0 -8.0 0ZM1028.9 886.4a4.0 4.0 0 1 0 8.0 0a4.0 4.0 0 1 0 -8.0 0ZM1053.0 886.4a4.0 4.0 0 1 0 8.0 0a4.0 4.0 0 1 0 -8.0 0ZM1077.2 886.4a4.0 4.0 0 1 0 8.0 0a4.0 4.0 0 1 0 -8.0 0ZM920.2 907.5a4.0 4.0 0 1 0 8.0 0a4.0 4.0 0 1 0 -8.0 0ZM944.3 907.5a4.0 4.0 0 1 0 8.0 0a4.0 4.0 0 1 0 -8.0 0ZM968.5 907.5a4.0 4.0 0 1 0 8.0 0a4.0 4.0 0 1 0 -8.0 0ZM992.6 907.5a4.0 4.0 0 1 0 8.0 0a4.0 4.0 0 1 0 -8.0 0ZM1016.8 907.5a4.0 4.0 0 1 0 8.0 0a4.0 4.0 0 1 0 -8.0 0ZM1040.9 907.5a4.0 4.0 0 1 0 8.0 0a4.0 4.0 0 1 0 -8.0 0ZM1065.1 907.5a4.0 4.0 0 1 0 8.0 0a4.0 4.0 0 1 0 -8.0 0ZM1089.2 907.5a4.0 4.0 0 1 0 8.0 0a4.0 4.0 0 1 0 -8.0 0ZM908.1 928.5a4.0 4.0 0 1 0 8.0 0a4.0 4.0 0 1 0 -8.0 0ZM932.2 928.5a4.0 4.0 0 1 0 8.0 0a4.0 4.0 0 1 0 -8.0 0ZM956.4 928.5a4.0 4.0 0 1 0 8.0 0a4.0 4.0 0 1 0 -8.0 0ZM980.6 928.5a4.0 4.0 0 1 0 8.0 0a4.0 4.0 0 1 0 -8.0 0ZM1004.7 928.5a4.0 4.0 0 1 0 8.0 0a4.0 4.0 0 1 0 -8.0 0ZM1028.9 928.5a4.0 4.0 0 1 0 8.0 0a4.0 4.0 0 1 0 -8.0 0ZM1053.0 928.5a4.0 4.0 0 1 0 8.0 0a4.0 4.0 0 1 0 -8.0 0ZM1077.2 928.5a4.0 4.0 0 1 0 8.0 0a4.0 4.0 0 1 0 -8.0 0ZM1101.3 928.5a4.0 4.0 0 1 0 8.0 0a4.0 4.0 0 1 0 -8.0 0ZM896.0 949.6a4.0 4.0 0 1 0 8.0 0a4.0 4.0 0 1 0 -8.0 0ZM920.2 949.6a4.0 4.0 0 1 0 8.0 0a4.0 4.0 0 1 0 -8.0 0ZM944.3 949.6a4.0 4.0 0 1 0 8.0 0a4.0 4.0 0 1 0 -8.0 0ZM968.5 949.6a4.0 4.0 0 1 0 8.0 0a4.0 4.0 0 1 0 -8.0 0ZM992.6 949.6a4.0 4.0 0 1 0 8.0 0a4.0 4.0 0 1 0 -8.0 0ZM1016.8 949.6a4.0 4.0 0 1 0 8.0 0a4.0 4.0 0 1 0 -8.0 0ZM1040.9 949.6a4.0 4.0 0 1 0 8.0 0a4.0 4.0 0 1 0 -8.0 0ZM1065.1 949.6a4.0 4.0 0 1 0 8.0 0a4.0 4.0 0 1 0 -8.0 0ZM1089.2 949.6a4.0 4.0 0 1 0 8.0 0a4.0 4.0 0 1 0 -8.0 0ZM1113.4 949.6a4.0 4.0 0 1 0 8.0 0a4.0 4.0 0 1 0 -8.0 0ZM884.0 970.6a4.0 4.0 0 1 0 8.0 0a4.0 4.0 0 1 0 -8.0 0ZM908.1 970.6a4.0 4.0 0 1 0 8.0 0a4.0 4.0 0 1 0 -8.0 0ZM932.2 970.6a4.0 4.0 0 1 0 8.0 0a4.0 4.0 0 1 0 -8.0 0ZM956.4 970.6a4.0 4.0 0 1 0 8.0 0a4.0 4.0 0 1 0 -8.0 0ZM980.6 970.6a4.0 4.0 0 1 0 8.0 0a4.0 4.0 0 1 0 -8.0 0ZM1004.7 970.6a4.0 4.0 0 1 0 8.0 0a4.0 4.0 0 1 0 -8.0 0ZM1028.9 970.6a4.0 4.0 0 1 0 8.0 0a4.0 4.0 0 1 0 -8.0 0ZM1053.0 970.6a4.0 4.0 0 1 0 8.0 0a4.0 4.0 0 1 0 -8.0 0ZM1077.2 970.6a4.0 4.0 0 1 0 8.0 0a4.0 4.0 0 1 0 -8.0 0ZM1101.3 970.6a4.0 4.0 0 1 0 8.0 0a4.0 4.0 0 1 0 -8.0 0ZM1125.5 970.6a4.0 4.0 0 1 0 8.0 0a4.0 4.0 0 1 0 -8.0 0ZM871.9 991.7a4.0 4.0 0 1 0 8.0 0a4.0 4.0 0 1 0 -8.0 0ZM896.0 991.7a4.0 4.0 0 1 0 8.0 0a4.0 4.0 0 1 0 -8.0 0ZM920.2 991.7a4.0 4.0 0 1 0 8.0 0a4.0 4.0 0 1 0 -8.0 0ZM944.3 991.7a4.0 4.0 0 1 0 8.0 0a4.0 4.0 0 1 0 -8.0 0ZM968.5 991.7a4.0 4.0 0 1 0 8.0 0a4.0 4.0 0 1 0 -8.0 0ZM992.6 991.7a4.0 4.0 0 1 0 8.0 0a4.0 4.0 0 1 0 -8.0 0ZM1016.8 991.7a4.0 4.0 0 1 0 8.0 0a4.0 4.0 0 1 0 -8.0 0ZM1040.9 991.7a4.0 4.0 0 1 0 8.0 0a4.0 4.0 0 1 0 -8.0 0ZM1065.1 991.7a4.0 4.0 0 1 0 8.0 0a4.0 4.0 0 1 0 -8.0 0ZM1089.2 991.7a4.0 4.0 0 1 0 8.0 0a4.0 4.0 0 1 0 -8.0 0ZM1113.4 991.7a4.0 4.0 0 1 0 8.0 0a4.0 4.0 0 1 0 -8.0 0ZM1137.5 991.7a4.0 4.0 0 1 0 8.0 0a4.0 4.0 0 1 0 -8.0 0ZM859.8 1012.7a4.0 4.0 0 1 0 8.0 0a4.0 4.0 0 1 0 -8.0 0ZM884.0 1012.7a4.0 4.0 0 1 0 8.0 0a4.0 4.0 0 1 0 -8.0 0ZM908.1 1012.7a4.0 4.0 0 1 0 8.0 0a4.0 4.0 0 1 0 -8.0 0ZM932.2 1012.7a4.0 4.0 0 1 0 8.0 0a4.0 4.0 0 1 0 -8.0 0ZM956.4 1012.7a4.0 4.0 0 1 0 8.0 0a4.0 4.0 0 1 0 -8.0 0ZM980.6 1012.7a4.0 4.0 0 1 0 8.0 0a4.0 4.0 0 1 0 -8.0 0ZM1004.7 1012.7a4.0 4.0 0 1 0 8.0 0a4.0 4.0 0 1 0 -8.0 0ZM1028.9 1012.7a4.0 4.0 0 1 0 8.0 0a4.0 4.0 0 1 0 -8.0 0ZM1053.0 1012.7a4.0 4.0 0 1 0 8.0 0a4.0 4.0 0 1 0 -8.0 0ZM1077.2 1012.7a4.0 4.0 0 1 0 8.0 0a4.0 4.0 0 1 0 -8.0 0ZM1101.3 1012.7a4.0 4.0 0 1 0 8.0 0a4.0 4.0 0 1 0 -8.0 0ZM1125.5 1012.7a4.0 4.0 0 1 0 8.0 0a4.0 4.0 0 1 0 -8.0 0ZM1149.6 1012.7a4.0 4.0 0 1 0 8.0 0a4.0 4.0 0 1 0 -8.0 0Z" fill="#0070c0"/><ellipse cx="1014.7" cy="793.6" rx="2.6" ry="3.6" fill="#7f0000"/><ellipse cx="996.6" cy="816.3" rx="2.6" ry="3.6" fill="#910000"/><ellipse cx="1014.7" cy="824.0" rx="2.6" ry="3.6" fill="#f50000"/><ellipse cx="1037.4" cy="824.0" rx="2.6" ry="3.6" fill="#fff800"/><ellipse cx="983.0" cy="836.7" rx="2.6" ry="3.6" fill="#f50000"/><ellipse cx="1003.4" cy="845.8" rx="2.6" ry="3.6" fill="#da0000"/><ellipse cx="1028.3" cy="845.8" rx="2.6" ry="3.6" fill="#da0000"/><ellipse cx="1048.8" cy="845.8" rx="2.6" ry="3.6" fill="#ff6100"/><ellipse cx="1005.7" cy="857.0" rx="2.6" ry="3.6" fill="#7f0000"/><ellipse cx="983.0" cy="873.0" rx="2.6" ry="3.6" fill="#7f0000"/></g></g><path d="M903.6 977.3c-1.2-1.6-3.6-1.4-4.6 0.6c-1 2-1.8 8-3.2 16.5c-1 6-2.6 8.2-5 7.6" stroke="#fff" stroke-width="1.6" fill="none"/><path d="M894.6 984.0h7" stroke="#fff" stroke-width="1.3"/><text x="909.6" y="996.8" font-size="28" fill="#fff" textLength="145.5" lengthAdjust="spacingAndGlyphs">= 11.04 kHz</text><defs>
<linearGradient id="jet" x1="0" x2="1" y1="0" y2="0">
<stop offset="0" stop-color="#1b4a92"/>
<stop offset="0.1" stop-color="#1f5aa6"/>
<stop offset="0.28" stop-color="#35b4e2"/>
<stop offset="0.5" stop-color="#8fc57a"/>
<stop offset="0.72" stop-color="#ece534"/>
<stop offset="0.84" stop-color="#ef9a30"/>
<stop offset="1" stop-color="#d41f1a"/>
</linearGradient>
<linearGradient id="hot" x1="0" x2="1" y1="0" y2="0">
<stop offset="0" stop-color="#1a0000"/>
<stop offset="0.28" stop-color="#ff0000"/>
<stop offset="0.52" stop-color="#ff8800"/>
<stop offset="0.75" stop-color="#ffff00"/>
<stop offset="1" stop-color="#ffffff"/>
</linearGradient>
</defs>
<rect x="264" y="510" width="158" height="20" fill="url(#jet)"/>
<rect x="809" y="509" width="155" height="21.5" fill="url(#hot)"/>
<text x="206" y="528" font-size="28" textLength="47" lengthAdjust="spacingAndGlyphs" fill="#000" style="stroke-width:1px">Min</text>
<text x="433" y="528" font-size="28" textLength="52" lengthAdjust="spacingAndGlyphs" fill="#000" style="stroke-width:1px">Max</text>
<text x="751" y="528" font-size="28" textLength="48" lengthAdjust="spacingAndGlyphs" fill="#000" style="stroke-width:1px">Min</text>
<text x="977.5" y="528" font-size="28" textLength="53.5" lengthAdjust="spacingAndGlyphs" fill="#000" style="stroke-width:1px">Max</text>
<g fill="none" stroke="#000" stroke-width="4"><rect x="107.8" y="560.1" width="252" height="429.4"/></g><path d="M163.7 562V567.5 M163.7 987.5V999 M219.6 562V567.5 M219.6 987.5V999 M275.5 562V567.5 M275.5 987.5V999 M331.4 562V567.5 M331.4 987.5V999 M107.8 989.5V999 M100 989.5H107.8  M100 903.3H107.8 M358 903.3H351 M100 817.1H107.8 M358 817.1H351 M100 730.9H107.8 M358 730.9H351 M100 644.7H107.8 M358 644.7H351 M100 558.5H107.8 " stroke="#000" stroke-width="4" fill="none"/><text x="97.5" y="999.0" font-size="28" text-anchor="end" textLength="46.5" lengthAdjust="spacingAndGlyphs" fill="#000">10.8</text>
<text x="97.5" y="912.8000000000003" font-size="28" text-anchor="end" textLength="46.5" lengthAdjust="spacingAndGlyphs" fill="#000">11.0</text>
<text x="97.5" y="826.5999999999999" font-size="28" text-anchor="end" textLength="46.5" lengthAdjust="spacingAndGlyphs" fill="#000">11.2</text>
<text x="97.5" y="740.4000000000001" font-size="28" text-anchor="end" textLength="46.5" lengthAdjust="spacingAndGlyphs" fill="#000">11.4</text>
<text x="97.5" y="654.1999999999997" font-size="28" text-anchor="end" textLength="46.5" lengthAdjust="spacingAndGlyphs" fill="#000">11.6</text>
<text x="97.5" y="568.0" font-size="28" text-anchor="end" textLength="46.5" lengthAdjust="spacingAndGlyphs" fill="#000">11.8</text>
<text x="107.8" y="1025" font-size="28" text-anchor="middle" fill="#000">0</text>
<text x="219.6" y="1025" font-size="28" text-anchor="middle" fill="#000">20</text>
<text x="331.4" y="1025" font-size="28" text-anchor="middle" fill="#000">40</text>
<text x="127" y="1062" font-size="29.5" textLength="194" lengthAdjust="spacingAndGlyphs" fill="#000">Solution number</text>
<text transform="translate(45,868) rotate(-90)" font-size="28" textLength="190" lengthAdjust="spacingAndGlyphs">Frequency(kHz)</text>
<defs>
<radialGradient id="sb" cx="0.4" cy="0.4" r="0.6"><stop offset="0" stop-color="#fff"/><stop offset="0.22" stop-color="#888"/><stop offset="0.45" stop-color="#111"/><stop offset="1" stop-color="#000"/></radialGradient>
<radialGradient id="su" cx="0.4" cy="0.4" r="0.6"><stop offset="0" stop-color="#fff"/><stop offset="0.25" stop-color="#5a9cf0"/><stop offset="0.5" stop-color="#2a72e0"/><stop offset="1" stop-color="#1b5cc8"/></radialGradient>
<radialGradient id="sr" cx="0.4" cy="0.4" r="0.6"><stop offset="0" stop-color="#fff"/><stop offset="0.25" stop-color="#ff5050"/><stop offset="0.5" stop-color="#f01010"/><stop offset="1" stop-color="#d00000"/></radialGradient>
</defs><circle cx="112.8" cy="970.5" r="4.3" fill="url(#sb)"/><circle cx="118.4" cy="970.1" r="4.3" fill="url(#sb)"/><circle cx="124.0" cy="957.6" r="4.3" fill="url(#sb)"/><circle cx="129.6" cy="956.3" r="4.3" fill="url(#sb)"/><circle cx="135.2" cy="955.0" r="4.3" fill="url(#sb)"/><circle cx="140.7" cy="954.6" r="4.3" fill="url(#sb)"/><circle cx="146.3" cy="925.7" r="4.3" fill="url(#sb)"/><circle cx="151.9" cy="924.0" r="4.3" fill="url(#sb)"/><circle cx="157.5" cy="921.4" r="4.3" fill="url(#sb)"/><circle cx="163.1" cy="904.2" r="4.3" fill="url(#su)"/><circle cx="168.7" cy="896.0" r="4.3" fill="url(#su)"/><circle cx="174.3" cy="895.1" r="4.3" fill="url(#su)"/><circle cx="179.9" cy="811.7" r="4.3" fill="url(#sr)"/><circle cx="185.5" cy="808.9" r="4.3" fill="url(#sr)"/><circle cx="191.0" cy="808.9" r="4.3" fill="url(#sr)"/><circle cx="196.6" cy="766.7" r="4.3" fill="url(#sb)"/><circle cx="202.2" cy="764.5" r="4.3" fill="url(#sb)"/><circle cx="207.8" cy="763.2" r="4.3" fill="url(#sb)"/><circle cx="213.4" cy="750.3" r="4.3" fill="url(#sb)"/><circle cx="219.0" cy="749.4" r="4.3" fill="url(#sb)"/><circle cx="224.6" cy="749.4" r="4.3" fill="url(#sb)"/><circle cx="230.2" cy="735.2" r="4.3" fill="url(#sb)"/><circle cx="235.8" cy="732.6" r="4.3" fill="url(#sb)"/><circle cx="241.4" cy="716.7" r="4.3" fill="url(#sb)"/><circle cx="247.0" cy="702.5" r="4.3" fill="url(#sb)"/><circle cx="252.5" cy="700.7" r="4.3" fill="url(#sb)"/><circle cx="258.1" cy="698.1" r="4.3" fill="url(#sb)"/><circle cx="263.7" cy="696.4" r="4.3" fill="url(#sb)"/><circle cx="269.3" cy="695.6" r="4.3" fill="url(#sb)"/><circle cx="274.9" cy="694.9" r="4.3" fill="url(#sb)"/><circle cx="280.5" cy="694.9" r="4.3" fill="url(#sb)"/><circle cx="286.1" cy="690.4" r="4.3" fill="url(#sb)"/><circle cx="291.7" cy="689.7" r="4.3" fill="url(#sb)"/><circle cx="297.3" cy="684.8" r="4.3" fill="url(#sb)"/><circle cx="302.8" cy="684.8" r="4.3" fill="url(#sb)"/><circle cx="308.4" cy="676.6" r="4.3" fill="url(#sb)"/><circle cx="314.0" cy="666.2" r="4.3" fill="url(#sb)"/><circle cx="319.6" cy="659.4" r="4.3" fill="url(#sb)"/><circle cx="325.2" cy="658.5" r="4.3" fill="url(#sb)"/><circle cx="330.8" cy="649.4" r="4.3" fill="url(#sb)"/><circle cx="336.4" cy="644.7" r="4.3" fill="url(#sb)"/><circle cx="342.0" cy="643.8" r="4.3" fill="url(#sb)"/><circle cx="347.6" cy="614.5" r="4.3" fill="url(#sb)"/><circle cx="353.2" cy="605.9" r="4.3" fill="url(#sb)"/><circle cx="127.1" cy="583.3" r="4.3" fill="url(#sb)"/><text x="139.3" y="589.6999999999999" font-size="19" font-weight="bold" textLength="81" lengthAdjust="spacingAndGlyphs" fill="#000">Bulk states</text>
<circle cx="127.1" cy="608.5" r="4.3" fill="url(#su)"/><text x="139.3" y="614.9" font-size="19" font-weight="bold" textLength="170" lengthAdjust="spacingAndGlyphs" fill="#000">Out-plane corner states</text>
<circle cx="127.1" cy="634.3" r="4.3" fill="url(#sr)"/><text x="139.3" y="640.6999999999999" font-size="19" font-weight="bold" textLength="157" lengthAdjust="spacingAndGlyphs" fill="#000">In-plane corner states</text>
<rect x="378.9" y="560.2" width="200.2" height="429.2" fill="none" stroke="#000" stroke-width="4"/><path d="M418.6 562V567 M458.5 562V567 M498.4 562V567 M538.3 562V567 M378.7 987.5V996.6 M418.6 987.5V996.6 M458.5 987.5V996.6 M498.4 987.5V996.6 M538.3 987.5V996.6 M578.2 987.5V996.6 M375 903.3H381 M575.5 903.3H581 M375 817.1H381 M575.5 817.1H581 M375 730.9H381 M575.5 730.9H581 M375 644.7H381 M575.5 644.7H581" stroke="#000" stroke-width="4" fill="none"/><text x="368" y="1025" font-size="28" textLength="34" lengthAdjust="spacingAndGlyphs" fill="#000">0.0</text>
<text x="554.8" y="1025" font-size="28" textLength="32.7" lengthAdjust="spacingAndGlyphs" fill="#000">1.0</text>
<text x="361.4" y="1061.5" font-size="29.5" textLength="233" lengthAdjust="spacingAndGlyphs" fill="#000">Norm. displacement</text>
<path d="M381 815H578" stroke="#000" stroke-width="1.4" stroke-dasharray="7,5" fill="none"/><path d="M426.7 561.8L426.5 562.9L426.4 564.3L426.2 566.1L426.0 567.9L425.7 569.8L425.5 571.5L425.2 573.1L424.9 574.7L424.6 576.4L424.3 578.0L423.9 579.6L423.5 581.2L423.1 582.8L422.6 584.4L422.1 586.1L421.6 587.7L421.1 589.3L420.6 590.9L420.1 592.5L419.5 594.1L418.9 595.8L418.4 597.4L418.0 599.0L417.7 600.6L417.6 602.3L417.6 603.9L417.7 605.6L417.8 607.3L418.0 608.8L418.2 610.3L418.3 611.6L418.5 612.7L418.7 613.8L418.9 614.9L419.2 616.1L419.4 617.6L419.6 619.4L419.9 621.4L420.2 623.6L420.5 625.8L420.8 627.9L421.1 629.7L421.4 631.2L421.7 632.5L421.9 633.7L422.2 634.8L422.6 635.9L423.0 637.0L423.5 638.1L424.1 639.2L424.7 640.2L425.4 641.2L426.0 642.2L426.7 643.0L427.2 643.7L427.7 644.3L428.3 644.8L428.8 645.3L429.5 645.9L430.3 646.7L431.3 647.7L432.5 648.9L433.9 650.2L435.2 651.6L436.5 652.8L437.6 653.9L438.6 654.9L439.5 655.7L440.4 656.5L441.2 657.3L441.9 658.0L442.4 658.8L442.9 659.6L443.2 660.4L443.4 661.2L443.5 662.0L443.6 662.8L443.6 663.6L443.7 664.4L443.7 665.0L443.7 665.6L443.5 666.3L443.1 667.3L442.4 668.5L441.4 670.0L440.0 671.8L438.5 673.8L436.7 675.9L434.8 678.2L432.7 680.6L430.4 683.2L427.7 686.1L424.8 689.1L422.0 692.1L419.3 695.0L417.0 697.6L414.9 699.9L413.1 702.2L411.4 704.2L409.9 706.2L408.5 708.0L407.3 709.7L406.1 711.2L405.0 712.6L404.1 713.8L403.3 714.9L402.8 716.0L402.4 717.0L402.4 717.9L402.6 718.7L403.0 719.4L403.6 720.1L404.2 720.9L404.8 721.8L405.6 722.9L406.6 724.2L407.7 725.5L408.6 726.8L409.4 728.0L409.7 729.1L409.6 730.0L409.2 730.7L408.6 731.4L407.9 732.1L407.0 732.9L406.1 733.9L405.0 735.3L403.7 736.8L402.3 738.5L401.0 740.2L399.8 742.0L398.8 743.6L398.0 745.3L397.4 746.9L396.9 748.5L396.5 750.1L396.4 751.7L396.4 753.3L396.7 754.9L397.4 756.6L398.3 758.2L399.2 759.8L399.8 761.4L400.0 763.0L399.6 764.7L398.8 766.4L397.7 768.0L396.6 769.7L395.7 771.3L395.2 772.7L394.9 774.1L394.7 775.3L394.7 776.5L394.9 777.7L395.5 778.8L396.4 780.0L397.6 781.2L399.1 782.5L401.0 783.7L403.1 784.9L405.6 786.1L408.5 787.3L411.5 788.3L414.5 789.1L417.9 789.9L421.9 790.8L426.7 791.9L432.7 793.3L440.5 795.3L450.0 797.8L460.4 800.5L470.7 803.1L480.2 805.5L488.0 807.2L493.7 808.3L498.0 809.0L501.4 809.3L504.5 809.5L508.0 809.6L512.5 810.0L518.3 810.4L524.7 810.9L531.5 811.4L538.4 811.8L544.9 812.3L550.7 812.7L556.3 813.1L562.1 813.4L567.6 813.7L572.2 814.1L575.4 814.4L576.6 814.9L575.4 815.3L572.2 815.8L567.6 816.3L562.1 816.9L556.3 817.5L550.7 818.1L545.0 818.9L538.9 819.6L532.4 820.5L525.7 821.3L519.0 822.2L512.5 823.0L505.9 823.9L498.9 824.9L491.9 825.9L485.2 826.8L479.3 827.7L474.4 828.5L470.8 829.1L468.1 829.7L466.2 830.1L464.7 830.6L463.4 831.1L462.2 831.8L461.2 832.6L460.8 833.5L460.7 834.4L460.4 835.4L459.7 836.4L458.1 837.2L455.5 838.0L452.1 838.7L448.3 839.3L444.2 840.0L440.1 840.6L436.3 841.3L432.5 842.0L428.5 842.6L424.4 843.2L420.6 843.9L417.2 844.6L414.5 845.4L412.4 846.2L410.8 847.0L409.6 847.8L408.8 848.8L408.2 849.7L407.7 850.8L407.3 852.0L407.1 853.2L407.1 854.6L407.4 856.0L408.0 857.4L409.0 859.0L410.5 860.7L412.3 862.5L414.4 864.4L416.9 866.3L419.6 868.1L422.7 869.9L426.0 871.6L429.7 873.3L433.7 875.0L438.0 876.6L442.5 878.1L447.2 879.4L452.3 880.6L457.9 881.6L463.8 882.5L469.6 883.4L475.0 884.1L479.9 884.9L484.4 885.6L489.1 886.2L493.4 886.7L497.0 887.2L499.4 887.8L500.3 888.4L499.4 889.1L497.0 889.8L493.4 890.5L489.1 891.3L484.4 892.1L479.9 893.0L475.0 894.0L469.5 895.1L463.6 896.2L457.7 897.4L452.1 898.6L447.2 899.9L442.8 901.1L438.8 902.4L435.1 903.7L431.6 905.1L428.4 906.5L425.4 908.0L422.5 909.7L419.9 911.5L417.5 913.4L415.3 915.3L413.4 917.2L411.8 918.9L410.5 920.6L409.5 922.3L408.8 923.9L408.3 925.5L407.9 927.0L407.7 928.5L407.5 929.8L407.6 931.0L407.8 932.1L408.1 933.2L408.5 934.2L409.0 935.3L409.8 936.2L410.9 937.1L412.1 937.9L413.2 938.8L414.1 939.7L414.5 940.7L414.3 941.9L413.8 943.1L412.9 944.5L412.0 945.9L411.1 947.3L410.4 948.9L409.8 950.5L409.3 952.1L408.9 953.8L408.4 955.7L408.0 957.6L407.7 959.8L407.3 962.3L406.8 965.2L406.4 968.3L406.1 971.3L406.0 974.0L406.3 976.1L407.0 977.7L408.0 978.8L409.2 979.5L410.5 980.2L411.9 980.8L413.1 981.6L414.3 982.6L415.6 983.6L416.9 984.6L418.2 985.6L419.2 986.4L419.9 987.0" stroke="#ec1c1c" stroke-width="1.7" fill="none" stroke-linejoin="round"/><text x="697" y="1061.5" font-size="29.5" textLength="134" lengthAdjust="spacingAndGlyphs" fill="#000">Experiment</text>
<text x="953.5" y="1061.5" font-size="29.5" textLength="122.5" lengthAdjust="spacingAndGlyphs" fill="#000">Simulation</text>
</svg></body></html>
